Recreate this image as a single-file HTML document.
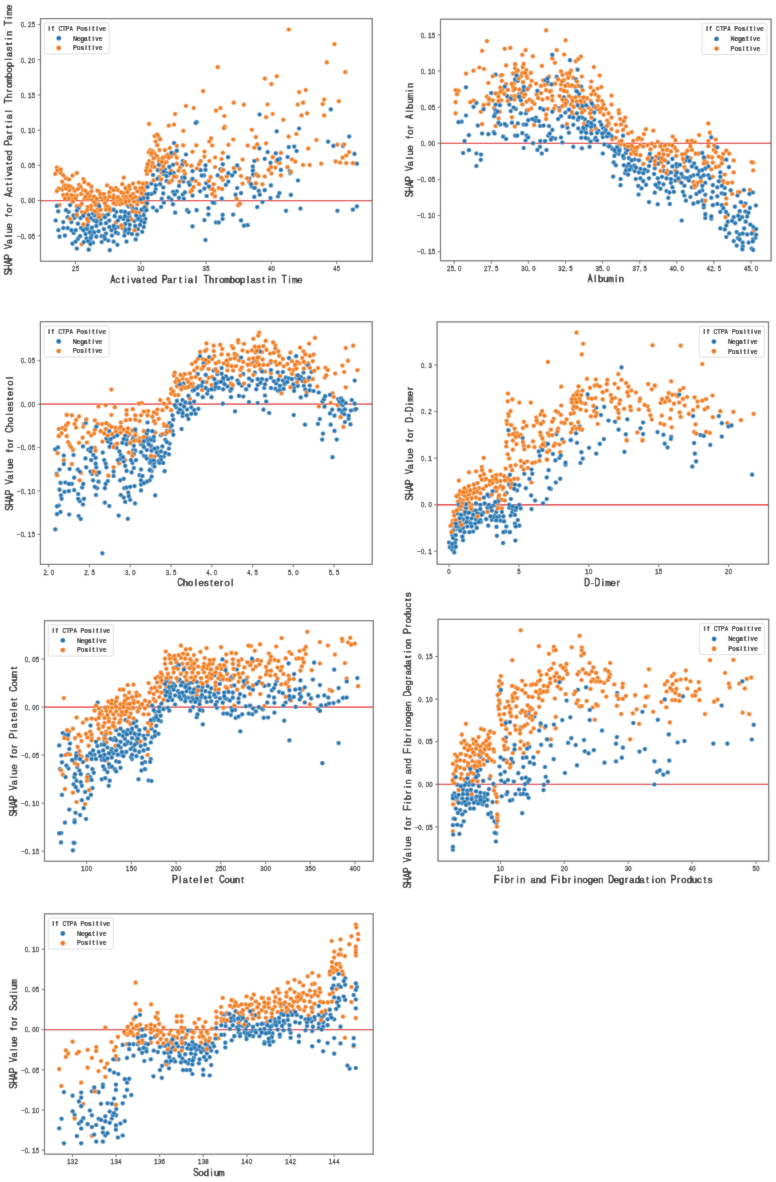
<!DOCTYPE html>
<html><head><meta charset="utf-8"><style>
html,body{margin:0;padding:0;background:#fff;}
svg{display:block;}
text{font-family:"Liberation Sans", sans-serif;}
circle.o,circle.b{r:2.35px;stroke:#fff;stroke-width:0.35px;}
circle.o{fill:#f07c14;}
circle.b{fill:#1c74b0;}
</style></head><body>
<svg width="776" height="1182" viewBox="0 0 776 1182">
<defs><filter id="bl" x="0" y="0" width="776" height="1182" filterUnits="userSpaceOnUse"><feConvolveMatrix order="3" kernelMatrix="1 2 1 2 24 2 1 2 1" divisor="36" edgeMode="duplicate"/></filter></defs>
<rect width="776" height="1182" fill="#fff"/>
<g filter="url(#bl)"><rect width="776" height="1182" fill="#fff"/>
<line x1="40.5" x2="372.2" y1="200.6" y2="200.6" stroke="#e01e22" stroke-width="1.35"/>
<circle class="o" cx="247.7" cy="145.5" r="2.35"/>
<circle class="b" cx="140.0" cy="216.7" r="2.35"/>
<circle class="o" cx="88.2" cy="208.1" r="2.35"/>
<circle class="b" cx="249.2" cy="178.7" r="2.35"/>
<circle class="o" cx="163.6" cy="161.2" r="2.35"/>
<circle class="b" cx="129.7" cy="217.2" r="2.35"/>
<circle class="o" cx="115.8" cy="199.9" r="2.35"/>
<circle class="b" cx="214.4" cy="203.1" r="2.35"/>
<circle class="o" cx="126.6" cy="190.9" r="2.35"/>
<circle class="b" cx="238.8" cy="204.9" r="2.35"/>
<circle class="b" cx="91.6" cy="230.0" r="2.35"/>
<circle class="b" cx="204.4" cy="188.7" r="2.35"/>
<circle class="b" cx="87.6" cy="229.1" r="2.35"/>
<circle class="b" cx="251.6" cy="186.5" r="2.35"/>
<circle class="o" cx="76.8" cy="206.2" r="2.35"/>
<circle class="o" cx="242.6" cy="183.6" r="2.35"/>
<circle class="o" cx="166.5" cy="173.4" r="2.35"/>
<circle class="o" cx="123.8" cy="177.7" r="2.35"/>
<circle class="o" cx="72.5" cy="175.6" r="2.35"/>
<circle class="b" cx="182.8" cy="161.0" r="2.35"/>
<circle class="o" cx="150.3" cy="150.1" r="2.35"/>
<circle class="b" cx="330.8" cy="109.4" r="2.35"/>
<circle class="o" cx="176.3" cy="176.7" r="2.35"/>
<circle class="o" cx="183.9" cy="171.2" r="2.35"/>
<circle class="b" cx="144.4" cy="210.7" r="2.35"/>
<circle class="b" cx="96.3" cy="236.7" r="2.35"/>
<circle class="b" cx="275.8" cy="153.3" r="2.35"/>
<circle class="o" cx="125.4" cy="188.0" r="2.35"/>
<circle class="o" cx="164.9" cy="150.1" r="2.35"/>
<circle class="b" cx="89.8" cy="232.4" r="2.35"/>
<circle class="b" cx="93.0" cy="242.7" r="2.35"/>
<circle class="b" cx="72.5" cy="243.7" r="2.35"/>
<circle class="b" cx="77.9" cy="238.9" r="2.35"/>
<circle class="o" cx="104.9" cy="216.4" r="2.35"/>
<circle class="b" cx="173.0" cy="204.3" r="2.35"/>
<circle class="o" cx="186.6" cy="164.8" r="2.35"/>
<circle class="b" cx="287.6" cy="157.0" r="2.35"/>
<circle class="o" cx="287.6" cy="167.2" r="2.35"/>
<circle class="o" cx="129.7" cy="189.1" r="2.35"/>
<circle class="b" cx="160.1" cy="184.2" r="2.35"/>
<circle class="o" cx="212.2" cy="145.5" r="2.35"/>
<circle class="o" cx="117.9" cy="190.2" r="2.35"/>
<circle class="o" cx="91.4" cy="209.1" r="2.35"/>
<circle class="b" cx="76.8" cy="215.9" r="2.35"/>
<circle class="b" cx="128.7" cy="232.9" r="2.35"/>
<circle class="b" cx="187.1" cy="210.2" r="2.35"/>
<circle class="b" cx="356.9" cy="206.4" r="2.35"/>
<circle class="b" cx="183.3" cy="181.5" r="2.35"/>
<circle class="b" cx="134.1" cy="221.0" r="2.35"/>
<circle class="o" cx="174.1" cy="124.6" r="2.35"/>
<circle class="b" cx="192.5" cy="171.2" r="2.35"/>
<circle class="b" cx="182.2" cy="164.8" r="2.35"/>
<circle class="o" cx="115.8" cy="188.0" r="2.35"/>
<circle class="o" cx="84.4" cy="198.8" r="2.35"/>
<circle class="o" cx="166.5" cy="162.1" r="2.35"/>
<circle class="o" cx="59.5" cy="205.1" r="2.35"/>
<circle class="b" cx="117.9" cy="227.0" r="2.35"/>
<circle class="o" cx="56.8" cy="167.5" r="2.35"/>
<circle class="b" cx="74.4" cy="217.8" r="2.35"/>
<circle class="o" cx="215.1" cy="167.0" r="2.35"/>
<circle class="b" cx="89.8" cy="241.6" r="2.35"/>
<circle class="o" cx="255.9" cy="183.2" r="2.35"/>
<circle class="b" cx="173.6" cy="172.9" r="2.35"/>
<circle class="o" cx="326.8" cy="62.4" r="2.35"/>
<circle class="o" cx="74.6" cy="190.7" r="2.35"/>
<circle class="b" cx="109.3" cy="220.5" r="2.35"/>
<circle class="o" cx="266.1" cy="143.3" r="2.35"/>
<circle class="b" cx="196.6" cy="210.2" r="2.35"/>
<circle class="b" cx="270.9" cy="185.4" r="2.35"/>
<circle class="b" cx="116.3" cy="211.8" r="2.35"/>
<circle class="b" cx="71.4" cy="222.1" r="2.35"/>
<circle class="o" cx="96.3" cy="203.2" r="2.35"/>
<circle class="b" cx="55.7" cy="220.5" r="2.35"/>
<circle class="b" cx="290.2" cy="173.2" r="2.35"/>
<circle class="o" cx="149.2" cy="161.0" r="2.35"/>
<circle class="o" cx="106.4" cy="208.4" r="2.35"/>
<circle class="b" cx="141.2" cy="220.2" r="2.35"/>
<circle class="b" cx="196.8" cy="122.2" r="2.35"/>
<circle class="o" cx="316.4" cy="140.0" r="2.35"/>
<circle class="o" cx="131.4" cy="219.4" r="2.35"/>
<circle class="o" cx="109.3" cy="207.5" r="2.35"/>
<circle class="o" cx="199.0" cy="184.2" r="2.35"/>
<circle class="o" cx="226.6" cy="176.5" r="2.35"/>
<circle class="o" cx="159.5" cy="150.1" r="2.35"/>
<circle class="b" cx="113.6" cy="241.6" r="2.35"/>
<circle class="o" cx="123.3" cy="196.1" r="2.35"/>
<circle class="o" cx="60.6" cy="172.9" r="2.35"/>
<circle class="b" cx="174.2" cy="153.1" r="2.35"/>
<circle class="o" cx="140.0" cy="188.0" r="2.35"/>
<circle class="b" cx="237.2" cy="188.0" r="2.35"/>
<circle class="b" cx="270.5" cy="162.8" r="2.35"/>
<circle class="o" cx="346.3" cy="163.2" r="2.35"/>
<circle class="o" cx="149.1" cy="123.9" r="2.35"/>
<circle class="o" cx="148.7" cy="152.3" r="2.35"/>
<circle class="o" cx="309.7" cy="165.0" r="2.35"/>
<circle class="o" cx="297.7" cy="104.5" r="2.35"/>
<circle class="o" cx="254.3" cy="147.7" r="2.35"/>
<circle class="o" cx="346.3" cy="155.5" r="2.35"/>
<circle class="o" cx="81.1" cy="194.0" r="2.35"/>
<circle class="o" cx="102.8" cy="215.1" r="2.35"/>
<circle class="o" cx="63.8" cy="185.9" r="2.35"/>
<circle class="o" cx="107.1" cy="185.3" r="2.35"/>
<circle class="b" cx="356.9" cy="163.7" r="2.35"/>
<circle class="o" cx="239.5" cy="168.8" r="2.35"/>
<circle class="o" cx="122.2" cy="184.2" r="2.35"/>
<circle class="b" cx="73.6" cy="215.3" r="2.35"/>
<circle class="b" cx="276.7" cy="131.3" r="2.35"/>
<circle class="b" cx="86.5" cy="238.3" r="2.35"/>
<circle class="o" cx="84.9" cy="228.1" r="2.35"/>
<circle class="o" cx="271.4" cy="173.4" r="2.35"/>
<circle class="o" cx="88.2" cy="198.8" r="2.35"/>
<circle class="o" cx="119.3" cy="199.9" r="2.35"/>
<circle class="o" cx="72.5" cy="188.0" r="2.35"/>
<circle class="b" cx="206.2" cy="183.2" r="2.35"/>
<circle class="b" cx="176.8" cy="191.3" r="2.35"/>
<circle class="b" cx="136.2" cy="209.1" r="2.35"/>
<circle class="b" cx="267.6" cy="152.1" r="2.35"/>
<circle class="b" cx="124.3" cy="228.1" r="2.35"/>
<circle class="b" cx="289.8" cy="171.0" r="2.35"/>
<circle class="o" cx="216.0" cy="110.7" r="2.35"/>
<circle class="b" cx="179.0" cy="197.8" r="2.35"/>
<circle class="b" cx="80.1" cy="236.2" r="2.35"/>
<circle class="o" cx="337.4" cy="144.6" r="2.35"/>
<circle class="o" cx="159.0" cy="177.1" r="2.35"/>
<circle class="b" cx="78.8" cy="208.0" r="2.35"/>
<circle class="o" cx="102.8" cy="199.9" r="2.35"/>
<circle class="o" cx="62.2" cy="189.6" r="2.35"/>
<circle class="b" cx="75.7" cy="241.6" r="2.35"/>
<circle class="b" cx="151.4" cy="183.7" r="2.35"/>
<circle class="o" cx="81.7" cy="244.3" r="2.35"/>
<circle class="b" cx="220.4" cy="169.4" r="2.35"/>
<circle class="b" cx="137.9" cy="219.4" r="2.35"/>
<circle class="o" cx="276.7" cy="76.3" r="2.35"/>
<circle class="b" cx="68.7" cy="212.0" r="2.35"/>
<circle class="b" cx="73.6" cy="232.9" r="2.35"/>
<circle class="b" cx="56.8" cy="205.9" r="2.35"/>
<circle class="o" cx="184.9" cy="174.0" r="2.35"/>
<circle class="b" cx="87.6" cy="224.8" r="2.35"/>
<circle class="o" cx="89.8" cy="195.6" r="2.35"/>
<circle class="o" cx="236.6" cy="198.7" r="2.35"/>
<circle class="b" cx="183.9" cy="198.8" r="2.35"/>
<circle class="o" cx="352.9" cy="163.2" r="2.35"/>
<circle class="b" cx="206.6" cy="196.0" r="2.35"/>
<circle class="b" cx="141.1" cy="221.0" r="2.35"/>
<circle class="o" cx="63.3" cy="195.1" r="2.35"/>
<circle class="b" cx="114.7" cy="216.2" r="2.35"/>
<circle class="b" cx="294.2" cy="146.6" r="2.35"/>
<circle class="b" cx="200.6" cy="170.2" r="2.35"/>
<circle class="b" cx="135.7" cy="239.4" r="2.35"/>
<circle class="o" cx="224.4" cy="116.0" r="2.35"/>
<circle class="o" cx="159.0" cy="159.3" r="2.35"/>
<circle class="o" cx="139.5" cy="212.4" r="2.35"/>
<circle class="b" cx="166.2" cy="173.2" r="2.35"/>
<circle class="b" cx="94.8" cy="215.5" r="2.35"/>
<circle class="b" cx="333.4" cy="145.9" r="2.35"/>
<circle class="b" cx="115.0" cy="226.8" r="2.35"/>
<circle class="o" cx="213.7" cy="184.3" r="2.35"/>
<circle class="o" cx="122.2" cy="228.1" r="2.35"/>
<circle class="b" cx="182.2" cy="177.7" r="2.35"/>
<circle class="b" cx="163.3" cy="187.5" r="2.35"/>
<circle class="o" cx="279.4" cy="163.2" r="2.35"/>
<circle class="b" cx="125.4" cy="223.7" r="2.35"/>
<circle class="o" cx="152.5" cy="163.1" r="2.35"/>
<circle class="b" cx="67.6" cy="217.2" r="2.35"/>
<circle class="o" cx="137.3" cy="204.3" r="2.35"/>
<circle class="o" cx="90.9" cy="205.9" r="2.35"/>
<circle class="o" cx="233.7" cy="102.7" r="2.35"/>
<circle class="o" cx="162.8" cy="157.7" r="2.35"/>
<circle class="o" cx="65.4" cy="185.4" r="2.35"/>
<circle class="b" cx="58.2" cy="211.3" r="2.35"/>
<circle class="o" cx="107.1" cy="199.9" r="2.35"/>
<circle class="o" cx="165.5" cy="156.6" r="2.35"/>
<circle class="o" cx="335.6" cy="161.4" r="2.35"/>
<circle class="o" cx="272.7" cy="114.0" r="2.35"/>
<circle class="b" cx="88.7" cy="214.9" r="2.35"/>
<circle class="o" cx="253.2" cy="175.4" r="2.35"/>
<circle class="o" cx="154.6" cy="153.4" r="2.35"/>
<circle class="o" cx="134.1" cy="201.5" r="2.35"/>
<circle class="b" cx="90.9" cy="218.3" r="2.35"/>
<circle class="o" cx="100.6" cy="197.2" r="2.35"/>
<circle class="b" cx="222.8" cy="164.3" r="2.35"/>
<circle class="b" cx="278.0" cy="196.4" r="2.35"/>
<circle class="b" cx="204.0" cy="175.4" r="2.35"/>
<circle class="b" cx="131.9" cy="234.0" r="2.35"/>
<circle class="o" cx="211.1" cy="138.4" r="2.35"/>
<circle class="o" cx="146.0" cy="186.9" r="2.35"/>
<circle class="b" cx="76.8" cy="210.7" r="2.35"/>
<circle class="b" cx="163.3" cy="193.4" r="2.35"/>
<circle class="o" cx="324.1" cy="99.6" r="2.35"/>
<circle class="o" cx="324.1" cy="115.4" r="2.35"/>
<circle class="b" cx="221.7" cy="198.7" r="2.35"/>
<circle class="o" cx="151.4" cy="155.0" r="2.35"/>
<circle class="b" cx="264.7" cy="190.2" r="2.35"/>
<circle class="o" cx="222.8" cy="179.8" r="2.35"/>
<circle class="o" cx="76.8" cy="195.6" r="2.35"/>
<circle class="b" cx="145.9" cy="194.3" r="2.35"/>
<circle class="o" cx="154.6" cy="136.1" r="2.35"/>
<circle class="o" cx="195.8" cy="181.0" r="2.35"/>
<circle class="o" cx="174.7" cy="153.9" r="2.35"/>
<circle class="o" cx="180.1" cy="167.5" r="2.35"/>
<circle class="b" cx="171.4" cy="199.7" r="2.35"/>
<circle class="o" cx="170.9" cy="156.6" r="2.35"/>
<circle class="o" cx="172.0" cy="180.4" r="2.35"/>
<circle class="o" cx="110.4" cy="210.7" r="2.35"/>
<circle class="b" cx="66.0" cy="210.2" r="2.35"/>
<circle class="b" cx="117.9" cy="233.5" r="2.35"/>
<circle class="o" cx="257.2" cy="144.4" r="2.35"/>
<circle class="o" cx="133.0" cy="194.0" r="2.35"/>
<circle class="o" cx="183.3" cy="130.8" r="2.35"/>
<circle class="b" cx="153.0" cy="175.0" r="2.35"/>
<circle class="b" cx="94.1" cy="232.4" r="2.35"/>
<circle class="o" cx="152.1" cy="166.3" r="2.35"/>
<circle class="b" cx="343.0" cy="145.9" r="2.35"/>
<circle class="b" cx="124.9" cy="231.8" r="2.35"/>
<circle class="b" cx="208.4" cy="208.2" r="2.35"/>
<circle class="b" cx="80.6" cy="218.1" r="2.35"/>
<circle class="o" cx="255.9" cy="137.1" r="2.35"/>
<circle class="o" cx="128.1" cy="198.7" r="2.35"/>
<circle class="b" cx="182.8" cy="194.5" r="2.35"/>
<circle class="b" cx="280.9" cy="169.9" r="2.35"/>
<circle class="o" cx="91.4" cy="186.7" r="2.35"/>
<circle class="o" cx="117.5" cy="201.9" r="2.35"/>
<circle class="o" cx="66.0" cy="178.3" r="2.35"/>
<circle class="o" cx="262.5" cy="184.3" r="2.35"/>
<circle class="o" cx="99.2" cy="191.4" r="2.35"/>
<circle class="o" cx="137.3" cy="191.3" r="2.35"/>
<circle class="o" cx="105.8" cy="206.4" r="2.35"/>
<circle class="b" cx="138.1" cy="218.4" r="2.35"/>
<circle class="b" cx="100.6" cy="219.4" r="2.35"/>
<circle class="b" cx="222.6" cy="219.0" r="2.35"/>
<circle class="b" cx="163.8" cy="202.6" r="2.35"/>
<circle class="b" cx="108.2" cy="240.5" r="2.35"/>
<circle class="b" cx="127.1" cy="217.8" r="2.35"/>
<circle class="o" cx="247.0" cy="178.3" r="2.35"/>
<circle class="b" cx="85.5" cy="234.0" r="2.35"/>
<circle class="o" cx="303.1" cy="165.0" r="2.35"/>
<circle class="o" cx="159.0" cy="161.5" r="2.35"/>
<circle class="o" cx="74.6" cy="196.0" r="2.35"/>
<circle class="o" cx="222.8" cy="152.8" r="2.35"/>
<circle class="o" cx="97.4" cy="209.7" r="2.35"/>
<circle class="b" cx="141.6" cy="209.7" r="2.35"/>
<circle class="b" cx="217.7" cy="175.4" r="2.35"/>
<circle class="o" cx="196.3" cy="145.3" r="2.35"/>
<circle class="o" cx="126.5" cy="204.3" r="2.35"/>
<circle class="b" cx="151.4" cy="194.0" r="2.35"/>
<circle class="b" cx="205.5" cy="240.1" r="2.35"/>
<circle class="b" cx="105.3" cy="215.9" r="2.35"/>
<circle class="b" cx="93.0" cy="213.4" r="2.35"/>
<circle class="b" cx="101.7" cy="236.2" r="2.35"/>
<circle class="o" cx="168.2" cy="175.6" r="2.35"/>
<circle class="b" cx="86.1" cy="229.0" r="2.35"/>
<circle class="b" cx="279.4" cy="193.1" r="2.35"/>
<circle class="b" cx="228.4" cy="173.2" r="2.35"/>
<circle class="b" cx="111.4" cy="230.2" r="2.35"/>
<circle class="o" cx="196.9" cy="168.5" r="2.35"/>
<circle class="o" cx="146.5" cy="183.2" r="2.35"/>
<circle class="b" cx="186.0" cy="154.5" r="2.35"/>
<circle class="b" cx="288.7" cy="147.1" r="2.35"/>
<circle class="b" cx="153.0" cy="207.5" r="2.35"/>
<circle class="b" cx="233.2" cy="214.6" r="2.35"/>
<circle class="b" cx="299.1" cy="128.5" r="2.35"/>
<circle class="o" cx="146.0" cy="206.4" r="2.35"/>
<circle class="b" cx="155.7" cy="189.1" r="2.35"/>
<circle class="o" cx="276.5" cy="161.4" r="2.35"/>
<circle class="o" cx="290.9" cy="172.1" r="2.35"/>
<circle class="b" cx="63.3" cy="228.1" r="2.35"/>
<circle class="b" cx="128.1" cy="220.5" r="2.35"/>
<circle class="b" cx="145.4" cy="218.9" r="2.35"/>
<circle class="b" cx="159.0" cy="164.8" r="2.35"/>
<circle class="o" cx="178.5" cy="170.7" r="2.35"/>
<circle class="o" cx="141.4" cy="190.8" r="2.35"/>
<circle class="b" cx="173.0" cy="191.8" r="2.35"/>
<circle class="b" cx="247.7" cy="225.2" r="2.35"/>
<circle class="o" cx="192.5" cy="151.8" r="2.35"/>
<circle class="o" cx="191.4" cy="165.8" r="2.35"/>
<circle class="o" cx="110.9" cy="188.0" r="2.35"/>
<circle class="b" cx="96.3" cy="225.9" r="2.35"/>
<circle class="b" cx="81.1" cy="228.1" r="2.35"/>
<circle class="o" cx="83.3" cy="190.2" r="2.35"/>
<circle class="o" cx="253.2" cy="169.9" r="2.35"/>
<circle class="o" cx="191.4" cy="180.4" r="2.35"/>
<circle class="o" cx="179.5" cy="181.5" r="2.35"/>
<circle class="o" cx="344.1" cy="144.4" r="2.35"/>
<circle class="b" cx="58.4" cy="230.2" r="2.35"/>
<circle class="o" cx="185.9" cy="106.0" r="2.35"/>
<circle class="b" cx="192.5" cy="195.6" r="2.35"/>
<circle class="b" cx="204.4" cy="220.1" r="2.35"/>
<circle class="o" cx="135.2" cy="197.2" r="2.35"/>
<circle class="b" cx="137.9" cy="229.1" r="2.35"/>
<circle class="o" cx="142.7" cy="183.7" r="2.35"/>
<circle class="o" cx="322.6" cy="104.1" r="2.35"/>
<circle class="o" cx="190.4" cy="191.8" r="2.35"/>
<circle class="o" cx="243.9" cy="104.7" r="2.35"/>
<circle class="o" cx="92.0" cy="199.9" r="2.35"/>
<circle class="o" cx="115.8" cy="204.3" r="2.35"/>
<circle class="o" cx="283.3" cy="119.8" r="2.35"/>
<circle class="o" cx="121.4" cy="225.3" r="2.35"/>
<circle class="b" cx="258.7" cy="190.9" r="2.35"/>
<circle class="b" cx="91.5" cy="235.6" r="2.35"/>
<circle class="o" cx="113.6" cy="203.2" r="2.35"/>
<circle class="o" cx="83.3" cy="179.1" r="2.35"/>
<circle class="o" cx="249.2" cy="182.0" r="2.35"/>
<circle class="o" cx="85.5" cy="196.7" r="2.35"/>
<circle class="o" cx="91.4" cy="191.3" r="2.35"/>
<circle class="o" cx="238.1" cy="205.3" r="2.35"/>
<circle class="b" cx="104.9" cy="217.2" r="2.35"/>
<circle class="b" cx="168.5" cy="181.9" r="2.35"/>
<circle class="o" cx="144.4" cy="202.6" r="2.35"/>
<circle class="o" cx="340.1" cy="162.6" r="2.35"/>
<circle class="o" cx="257.2" cy="159.9" r="2.35"/>
<circle class="b" cx="70.1" cy="205.1" r="2.35"/>
<circle class="b" cx="157.3" cy="178.8" r="2.35"/>
<circle class="b" cx="176.8" cy="150.7" r="2.35"/>
<circle class="b" cx="71.4" cy="230.2" r="2.35"/>
<circle class="o" cx="143.3" cy="196.7" r="2.35"/>
<circle class="b" cx="137.3" cy="234.5" r="2.35"/>
<circle class="o" cx="134.6" cy="230.2" r="2.35"/>
<circle class="o" cx="107.1" cy="206.4" r="2.35"/>
<circle class="b" cx="234.8" cy="172.1" r="2.35"/>
<circle class="o" cx="139.5" cy="197.8" r="2.35"/>
<circle class="b" cx="163.3" cy="174.0" r="2.35"/>
<circle class="b" cx="67.6" cy="228.1" r="2.35"/>
<circle class="o" cx="97.4" cy="212.4" r="2.35"/>
<circle class="b" cx="264.7" cy="158.8" r="2.35"/>
<circle class="o" cx="288.7" cy="136.6" r="2.35"/>
<circle class="o" cx="292.0" cy="159.5" r="2.35"/>
<circle class="b" cx="63.3" cy="222.1" r="2.35"/>
<circle class="o" cx="228.4" cy="144.8" r="2.35"/>
<circle class="o" cx="98.5" cy="204.3" r="2.35"/>
<circle class="o" cx="79.0" cy="184.8" r="2.35"/>
<circle class="o" cx="69.2" cy="190.2" r="2.35"/>
<circle class="o" cx="280.9" cy="152.8" r="2.35"/>
<circle class="o" cx="209.3" cy="161.0" r="2.35"/>
<circle class="o" cx="147.1" cy="167.5" r="2.35"/>
<circle class="o" cx="233.7" cy="168.1" r="2.35"/>
<circle class="o" cx="87.6" cy="193.4" r="2.35"/>
<circle class="b" cx="144.4" cy="222.6" r="2.35"/>
<circle class="o" cx="176.8" cy="163.7" r="2.35"/>
<circle class="o" cx="138.4" cy="200.5" r="2.35"/>
<circle class="o" cx="255.4" cy="187.6" r="2.35"/>
<circle class="o" cx="94.1" cy="196.7" r="2.35"/>
<circle class="o" cx="218.8" cy="188.0" r="2.35"/>
<circle class="b" cx="173.0" cy="164.8" r="2.35"/>
<circle class="o" cx="80.6" cy="205.3" r="2.35"/>
<circle class="o" cx="270.9" cy="167.2" r="2.35"/>
<circle class="b" cx="121.2" cy="211.3" r="2.35"/>
<circle class="o" cx="338.8" cy="101.2" r="2.35"/>
<circle class="o" cx="141.6" cy="202.1" r="2.35"/>
<circle class="b" cx="259.8" cy="194.7" r="2.35"/>
<circle class="b" cx="270.5" cy="198.0" r="2.35"/>
<circle class="o" cx="158.4" cy="136.6" r="2.35"/>
<circle class="o" cx="184.9" cy="162.1" r="2.35"/>
<circle class="o" cx="307.1" cy="113.4" r="2.35"/>
<circle class="o" cx="167.6" cy="154.5" r="2.35"/>
<circle class="o" cx="72.5" cy="198.8" r="2.35"/>
<circle class="b" cx="251.0" cy="184.2" r="2.35"/>
<circle class="o" cx="170.9" cy="170.7" r="2.35"/>
<circle class="b" cx="205.5" cy="169.9" r="2.35"/>
<circle class="b" cx="259.6" cy="114.5" r="2.35"/>
<circle class="b" cx="161.7" cy="198.8" r="2.35"/>
<circle class="o" cx="157.2" cy="134.6" r="2.35"/>
<circle class="b" cx="286.0" cy="210.8" r="2.35"/>
<circle class="o" cx="264.9" cy="78.6" r="2.35"/>
<circle class="b" cx="200.1" cy="191.3" r="2.35"/>
<circle class="b" cx="106.0" cy="233.5" r="2.35"/>
<circle class="o" cx="267.6" cy="104.5" r="2.35"/>
<circle class="b" cx="112.0" cy="235.6" r="2.35"/>
<circle class="o" cx="208.9" cy="180.9" r="2.35"/>
<circle class="o" cx="113.6" cy="190.2" r="2.35"/>
<circle class="b" cx="237.2" cy="165.4" r="2.35"/>
<circle class="o" cx="63.3" cy="175.3" r="2.35"/>
<circle class="o" cx="155.7" cy="141.5" r="2.35"/>
<circle class="o" cx="85.4" cy="190.8" r="2.35"/>
<circle class="o" cx="80.6" cy="186.9" r="2.35"/>
<circle class="o" cx="129.2" cy="185.9" r="2.35"/>
<circle class="o" cx="251.9" cy="129.8" r="2.35"/>
<circle class="o" cx="120.1" cy="199.9" r="2.35"/>
<circle class="o" cx="127.6" cy="192.3" r="2.35"/>
<circle class="o" cx="193.6" cy="108.1" r="2.35"/>
<circle class="b" cx="101.7" cy="242.1" r="2.35"/>
<circle class="b" cx="109.3" cy="227.0" r="2.35"/>
<circle class="b" cx="262.5" cy="202.0" r="2.35"/>
<circle class="o" cx="296.4" cy="134.0" r="2.35"/>
<circle class="b" cx="166.5" cy="176.1" r="2.35"/>
<circle class="b" cx="192.5" cy="178.8" r="2.35"/>
<circle class="o" cx="67.1" cy="194.5" r="2.35"/>
<circle class="o" cx="57.3" cy="170.7" r="2.35"/>
<circle class="o" cx="152.5" cy="151.2" r="2.35"/>
<circle class="o" cx="301.5" cy="115.4" r="2.35"/>
<circle class="o" cx="154.6" cy="166.9" r="2.35"/>
<circle class="o" cx="58.9" cy="188.6" r="2.35"/>
<circle class="o" cx="97.4" cy="190.7" r="2.35"/>
<circle class="o" cx="157.3" cy="145.3" r="2.35"/>
<circle class="b" cx="222.6" cy="214.8" r="2.35"/>
<circle class="b" cx="133.0" cy="208.7" r="2.35"/>
<circle class="o" cx="305.7" cy="90.1" r="2.35"/>
<circle class="b" cx="96.8" cy="220.0" r="2.35"/>
<circle class="o" cx="192.0" cy="190.2" r="2.35"/>
<circle class="b" cx="337.4" cy="210.8" r="2.35"/>
<circle class="b" cx="114.9" cy="228.2" r="2.35"/>
<circle class="b" cx="254.3" cy="196.9" r="2.35"/>
<circle class="o" cx="147.6" cy="164.2" r="2.35"/>
<circle class="o" cx="76.8" cy="173.1" r="2.35"/>
<circle class="o" cx="94.1" cy="202.1" r="2.35"/>
<circle class="o" cx="72.9" cy="201.7" r="2.35"/>
<circle class="o" cx="147.1" cy="174.0" r="2.35"/>
<circle class="o" cx="87.6" cy="207.0" r="2.35"/>
<circle class="b" cx="92.0" cy="227.5" r="2.35"/>
<circle class="o" cx="321.2" cy="163.7" r="2.35"/>
<circle class="o" cx="214.4" cy="190.9" r="2.35"/>
<circle class="b" cx="108.2" cy="214.5" r="2.35"/>
<circle class="o" cx="115.8" cy="222.6" r="2.35"/>
<circle class="b" cx="232.1" cy="175.4" r="2.35"/>
<circle class="b" cx="77.9" cy="223.7" r="2.35"/>
<circle class="o" cx="160.1" cy="139.3" r="2.35"/>
<circle class="o" cx="132.3" cy="198.1" r="2.35"/>
<circle class="b" cx="254.3" cy="161.0" r="2.35"/>
<circle class="o" cx="221.1" cy="177.6" r="2.35"/>
<circle class="o" cx="120.1" cy="204.3" r="2.35"/>
<circle class="o" cx="268.7" cy="169.9" r="2.35"/>
<circle class="b" cx="104.1" cy="236.3" r="2.35"/>
<circle class="b" cx="216.0" cy="222.4" r="2.35"/>
<circle class="o" cx="143.8" cy="190.2" r="2.35"/>
<circle class="b" cx="228.4" cy="181.6" r="2.35"/>
<circle class="b" cx="252.8" cy="166.5" r="2.35"/>
<circle class="o" cx="221.7" cy="171.0" r="2.35"/>
<circle class="o" cx="288.7" cy="29.5" r="2.35"/>
<circle class="b" cx="143.8" cy="227.0" r="2.35"/>
<circle class="o" cx="123.2" cy="193.4" r="2.35"/>
<circle class="o" cx="104.9" cy="197.8" r="2.35"/>
<circle class="b" cx="253.2" cy="174.3" r="2.35"/>
<circle class="b" cx="75.7" cy="230.2" r="2.35"/>
<circle class="b" cx="164.9" cy="169.6" r="2.35"/>
<circle class="o" cx="151.4" cy="153.0" r="2.35"/>
<circle class="o" cx="87.1" cy="210.2" r="2.35"/>
<circle class="o" cx="141.6" cy="193.4" r="2.35"/>
<circle class="b" cx="83.8" cy="242.1" r="2.35"/>
<circle class="o" cx="69.0" cy="179.4" r="2.35"/>
<circle class="o" cx="135.7" cy="212.4" r="2.35"/>
<circle class="o" cx="146.0" cy="170.7" r="2.35"/>
<circle class="o" cx="88.2" cy="221.6" r="2.35"/>
<circle class="o" cx="126.0" cy="196.7" r="2.35"/>
<circle class="b" cx="147.1" cy="203.2" r="2.35"/>
<circle class="o" cx="121.2" cy="192.3" r="2.35"/>
<circle class="o" cx="210.6" cy="177.0" r="2.35"/>
<circle class="o" cx="161.6" cy="172.4" r="2.35"/>
<circle class="b" cx="123.3" cy="218.9" r="2.35"/>
<circle class="o" cx="94.7" cy="211.3" r="2.35"/>
<circle class="b" cx="184.9" cy="192.3" r="2.35"/>
<circle class="b" cx="195.7" cy="122.9" r="2.35"/>
<circle class="b" cx="117.4" cy="244.8" r="2.35"/>
<circle class="b" cx="124.9" cy="216.2" r="2.35"/>
<circle class="o" cx="295.3" cy="161.7" r="2.35"/>
<circle class="b" cx="166.5" cy="181.0" r="2.35"/>
<circle class="b" cx="125.6" cy="229.9" r="2.35"/>
<circle class="o" cx="174.1" cy="176.7" r="2.35"/>
<circle class="b" cx="117.9" cy="220.5" r="2.35"/>
<circle class="o" cx="113.6" cy="195.6" r="2.35"/>
<circle class="o" cx="113.3" cy="198.2" r="2.35"/>
<circle class="o" cx="122.2" cy="203.2" r="2.35"/>
<circle class="b" cx="174.1" cy="143.1" r="2.35"/>
<circle class="o" cx="212.2" cy="194.2" r="2.35"/>
<circle class="o" cx="132.4" cy="211.3" r="2.35"/>
<circle class="o" cx="153.6" cy="180.4" r="2.35"/>
<circle class="b" cx="115.8" cy="232.4" r="2.35"/>
<circle class="b" cx="354.5" cy="153.9" r="2.35"/>
<circle class="o" cx="124.3" cy="199.9" r="2.35"/>
<circle class="b" cx="76.8" cy="248.6" r="2.35"/>
<circle class="b" cx="147.6" cy="197.8" r="2.35"/>
<circle class="b" cx="290.9" cy="194.9" r="2.35"/>
<circle class="o" cx="76.8" cy="214.9" r="2.35"/>
<circle class="o" cx="271.4" cy="84.1" r="2.35"/>
<circle class="b" cx="254.3" cy="188.0" r="2.35"/>
<circle class="b" cx="88.2" cy="241.3" r="2.35"/>
<circle class="o" cx="82.0" cy="212.0" r="2.35"/>
<circle class="o" cx="176.8" cy="157.7" r="2.35"/>
<circle class="b" cx="113.6" cy="225.9" r="2.35"/>
<circle class="o" cx="138.9" cy="182.6" r="2.35"/>
<circle class="b" cx="279.8" cy="158.8" r="2.35"/>
<circle class="b" cx="128.7" cy="213.4" r="2.35"/>
<circle class="b" cx="235.5" cy="194.7" r="2.35"/>
<circle class="b" cx="208.4" cy="214.4" r="2.35"/>
<circle class="b" cx="188.7" cy="182.6" r="2.35"/>
<circle class="b" cx="169.3" cy="166.9" r="2.35"/>
<circle class="o" cx="164.4" cy="163.1" r="2.35"/>
<circle class="o" cx="100.1" cy="194.0" r="2.35"/>
<circle class="o" cx="210.6" cy="188.7" r="2.35"/>
<circle class="o" cx="272.7" cy="157.2" r="2.35"/>
<circle class="b" cx="241.0" cy="193.1" r="2.35"/>
<circle class="o" cx="239.9" cy="203.7" r="2.35"/>
<circle class="b" cx="136.2" cy="215.6" r="2.35"/>
<circle class="b" cx="212.9" cy="202.6" r="2.35"/>
<circle class="o" cx="334.5" cy="44.2" r="2.35"/>
<circle class="o" cx="256.4" cy="174.4" r="2.35"/>
<circle class="o" cx="215.1" cy="157.5" r="2.35"/>
<circle class="o" cx="106.0" cy="209.7" r="2.35"/>
<circle class="b" cx="106.0" cy="223.2" r="2.35"/>
<circle class="o" cx="66.0" cy="188.6" r="2.35"/>
<circle class="b" cx="59.5" cy="236.7" r="2.35"/>
<circle class="o" cx="203.1" cy="91.2" r="2.35"/>
<circle class="o" cx="193.6" cy="186.9" r="2.35"/>
<circle class="b" cx="179.0" cy="185.9" r="2.35"/>
<circle class="b" cx="135.2" cy="225.9" r="2.35"/>
<circle class="o" cx="87.1" cy="218.9" r="2.35"/>
<circle class="b" cx="205.5" cy="165.4" r="2.35"/>
<circle class="b" cx="188.7" cy="212.0" r="2.35"/>
<circle class="o" cx="60.8" cy="169.4" r="2.35"/>
<circle class="b" cx="144.5" cy="207.6" r="2.35"/>
<circle class="o" cx="81.7" cy="203.7" r="2.35"/>
<circle class="o" cx="233.2" cy="139.5" r="2.35"/>
<circle class="o" cx="241.0" cy="176.1" r="2.35"/>
<circle class="b" cx="128.7" cy="206.4" r="2.35"/>
<circle class="b" cx="94.1" cy="220.5" r="2.35"/>
<circle class="o" cx="184.9" cy="178.3" r="2.35"/>
<circle class="b" cx="142.2" cy="231.8" r="2.35"/>
<circle class="o" cx="64.9" cy="198.3" r="2.35"/>
<circle class="o" cx="303.1" cy="102.7" r="2.35"/>
<circle class="o" cx="109.3" cy="196.7" r="2.35"/>
<circle class="o" cx="212.6" cy="189.1" r="2.35"/>
<circle class="b" cx="218.8" cy="222.6" r="2.35"/>
<circle class="b" cx="328.1" cy="141.7" r="2.35"/>
<circle class="o" cx="258.3" cy="176.1" r="2.35"/>
<circle class="b" cx="157.9" cy="170.2" r="2.35"/>
<circle class="o" cx="224.8" cy="126.7" r="2.35"/>
<circle class="o" cx="88.5" cy="184.2" r="2.35"/>
<circle class="o" cx="153.6" cy="158.3" r="2.35"/>
<circle class="o" cx="104.9" cy="203.2" r="2.35"/>
<circle class="o" cx="264.7" cy="176.5" r="2.35"/>
<circle class="o" cx="183.3" cy="145.3" r="2.35"/>
<circle class="b" cx="124.3" cy="235.6" r="2.35"/>
<circle class="b" cx="189.6" cy="184.8" r="2.35"/>
<circle class="o" cx="109.3" cy="192.3" r="2.35"/>
<circle class="o" cx="127.5" cy="199.3" r="2.35"/>
<circle class="b" cx="148.1" cy="194.0" r="2.35"/>
<circle class="o" cx="221.5" cy="159.0" r="2.35"/>
<circle class="o" cx="71.4" cy="195.1" r="2.35"/>
<circle class="o" cx="223.9" cy="128.2" r="2.35"/>
<circle class="o" cx="128.7" cy="201.0" r="2.35"/>
<circle class="o" cx="70.4" cy="186.5" r="2.35"/>
<circle class="b" cx="298.0" cy="180.5" r="2.35"/>
<circle class="o" cx="199.0" cy="164.2" r="2.35"/>
<circle class="o" cx="133.0" cy="183.7" r="2.35"/>
<circle class="o" cx="161.7" cy="162.1" r="2.35"/>
<circle class="b" cx="104.9" cy="238.9" r="2.35"/>
<circle class="b" cx="83.3" cy="230.2" r="2.35"/>
<circle class="o" cx="84.8" cy="212.9" r="2.35"/>
<circle class="o" cx="204.4" cy="151.5" r="2.35"/>
<circle class="o" cx="200.6" cy="161.0" r="2.35"/>
<circle class="b" cx="83.3" cy="215.9" r="2.35"/>
<circle class="o" cx="266.1" cy="117.2" r="2.35"/>
<circle class="b" cx="168.7" cy="197.5" r="2.35"/>
<circle class="o" cx="95.8" cy="205.2" r="2.35"/>
<circle class="o" cx="349.2" cy="152.1" r="2.35"/>
<circle class="o" cx="176.8" cy="145.8" r="2.35"/>
<circle class="o" cx="98.7" cy="215.1" r="2.35"/>
<circle class="b" cx="241.0" cy="220.4" r="2.35"/>
<circle class="b" cx="90.9" cy="237.8" r="2.35"/>
<circle class="o" cx="169.3" cy="182.6" r="2.35"/>
<circle class="b" cx="100.6" cy="223.7" r="2.35"/>
<circle class="o" cx="68.7" cy="198.3" r="2.35"/>
<circle class="o" cx="77.9" cy="189.1" r="2.35"/>
<circle class="b" cx="349.2" cy="136.6" r="2.35"/>
<circle class="b" cx="147.6" cy="186.9" r="2.35"/>
<circle class="b" cx="131.9" cy="206.4" r="2.35"/>
<circle class="o" cx="220.4" cy="108.1" r="2.35"/>
<circle class="b" cx="143.3" cy="198.3" r="2.35"/>
<circle class="b" cx="98.5" cy="231.3" r="2.35"/>
<circle class="o" cx="342.5" cy="157.7" r="2.35"/>
<circle class="b" cx="228.1" cy="157.2" r="2.35"/>
<circle class="b" cx="155.7" cy="185.3" r="2.35"/>
<circle class="o" cx="99.0" cy="217.2" r="2.35"/>
<circle class="o" cx="83.3" cy="224.3" r="2.35"/>
<circle class="b" cx="113.6" cy="209.7" r="2.35"/>
<circle class="b" cx="64.9" cy="235.6" r="2.35"/>
<circle class="b" cx="146.5" cy="210.2" r="2.35"/>
<circle class="o" cx="100.6" cy="209.7" r="2.35"/>
<circle class="o" cx="161.1" cy="169.6" r="2.35"/>
<circle class="o" cx="299.1" cy="92.1" r="2.35"/>
<circle class="o" cx="103.9" cy="194.0" r="2.35"/>
<circle class="o" cx="215.1" cy="196.4" r="2.35"/>
<circle class="o" cx="109.5" cy="209.3" r="2.35"/>
<circle class="b" cx="352.9" cy="209.7" r="2.35"/>
<circle class="b" cx="126.5" cy="241.6" r="2.35"/>
<circle class="b" cx="154.6" cy="192.3" r="2.35"/>
<circle class="b" cx="99.3" cy="205.9" r="2.35"/>
<circle class="o" cx="150.3" cy="170.7" r="2.35"/>
<circle class="o" cx="56.8" cy="191.1" r="2.35"/>
<circle class="o" cx="175.2" cy="114.1" r="2.35"/>
<circle class="o" cx="242.6" cy="159.5" r="2.35"/>
<circle class="b" cx="90.4" cy="244.1" r="2.35"/>
<circle class="b" cx="201.7" cy="175.6" r="2.35"/>
<circle class="o" cx="117.9" cy="197.2" r="2.35"/>
<circle class="o" cx="161.1" cy="179.4" r="2.35"/>
<circle class="o" cx="308.2" cy="148.6" r="2.35"/>
<circle class="b" cx="129.2" cy="229.1" r="2.35"/>
<circle class="b" cx="161.1" cy="207.0" r="2.35"/>
<circle class="b" cx="174.7" cy="194.5" r="2.35"/>
<circle class="b" cx="184.6" cy="177.6" r="2.35"/>
<circle class="o" cx="167.5" cy="155.5" r="2.35"/>
<circle class="o" cx="96.8" cy="198.8" r="2.35"/>
<circle class="b" cx="252.8" cy="170.5" r="2.35"/>
<circle class="o" cx="163.3" cy="166.4" r="2.35"/>
<circle class="b" cx="88.7" cy="249.7" r="2.35"/>
<circle class="b" cx="192.5" cy="226.4" r="2.35"/>
<circle class="o" cx="280.9" cy="175.4" r="2.35"/>
<circle class="b" cx="103.9" cy="229.1" r="2.35"/>
<circle class="b" cx="163.7" cy="171.5" r="2.35"/>
<circle class="o" cx="209.3" cy="141.5" r="2.35"/>
<circle class="b" cx="143.8" cy="215.1" r="2.35"/>
<circle class="o" cx="142.0" cy="188.1" r="2.35"/>
<circle class="b" cx="96.3" cy="221.6" r="2.35"/>
<circle class="b" cx="243.9" cy="225.7" r="2.35"/>
<circle class="o" cx="223.3" cy="169.9" r="2.35"/>
<circle class="b" cx="225.9" cy="184.9" r="2.35"/>
<circle class="b" cx="277.6" cy="159.9" r="2.35"/>
<circle class="b" cx="259.4" cy="148.4" r="2.35"/>
<circle class="b" cx="175.2" cy="212.7" r="2.35"/>
<circle class="o" cx="345.2" cy="72.1" r="2.35"/>
<circle class="b" cx="140.6" cy="199.3" r="2.35"/>
<circle class="b" cx="257.2" cy="207.1" r="2.35"/>
<circle class="b" cx="296.6" cy="151.0" r="2.35"/>
<circle class="b" cx="109.8" cy="250.2" r="2.35"/>
<circle class="o" cx="62.2" cy="181.7" r="2.35"/>
<circle class="b" cx="129.7" cy="224.8" r="2.35"/>
<circle class="o" cx="70.1" cy="218.9" r="2.35"/>
<circle class="o" cx="168.8" cy="157.7" r="2.35"/>
<circle class="b" cx="156.8" cy="210.7" r="2.35"/>
<circle class="b" cx="140.0" cy="224.8" r="2.35"/>
<circle class="b" cx="124.9" cy="211.8" r="2.35"/>
<circle class="o" cx="168.8" cy="125.7" r="2.35"/>
<circle class="o" cx="169.8" cy="148.0" r="2.35"/>
<circle class="o" cx="275.4" cy="167.6" r="2.35"/>
<circle class="b" cx="120.1" cy="217.2" r="2.35"/>
<circle class="o" cx="68.7" cy="185.9" r="2.35"/>
<circle class="o" cx="156.8" cy="156.1" r="2.35"/>
<circle class="o" cx="222.2" cy="189.1" r="2.35"/>
<circle class="o" cx="130.3" cy="196.1" r="2.35"/>
<circle class="b" cx="171.4" cy="152.9" r="2.35"/>
<circle class="o" cx="204.4" cy="156.6" r="2.35"/>
<circle class="o" cx="75.7" cy="198.3" r="2.35"/>
<circle class="b" cx="208.9" cy="186.5" r="2.35"/>
<circle class="o" cx="135.2" cy="188.0" r="2.35"/>
<circle class="o" cx="125.6" cy="201.5" r="2.35"/>
<circle class="o" cx="84.4" cy="182.1" r="2.35"/>
<circle class="o" cx="55.2" cy="174.0" r="2.35"/>
<circle class="b" cx="170.3" cy="173.4" r="2.35"/>
<circle class="o" cx="217.7" cy="67.2" r="2.35"/>
<circle class="o" cx="130.8" cy="205.3" r="2.35"/>
<circle class="b" cx="300.4" cy="208.6" r="2.35"/>
<rect x="40.5" y="18.6" width="331.7" height="242.7" fill="none" stroke="#666666" stroke-width="1.2"/>
<line x1="37.6" x2="40.5" y1="24.6" y2="24.6" stroke="#666666" stroke-width="0.9"/>
<g font-size="8.0" fill="#2a2a2a" stroke="#2a2a2a" stroke-width="0.3"><text transform="translate(20.87 27.30) scale(0.744 1.000)">0</text><text x="24.04" y="27.30">.</text><text transform="translate(28.09 27.30) scale(0.781 1.000)">2</text><text transform="translate(31.81 27.30) scale(0.751 1.000)">5</text></g>
<line x1="37.6" x2="40.5" y1="59.8" y2="59.8" stroke="#666666" stroke-width="0.9"/>
<g font-size="8.0" fill="#2a2a2a" stroke="#2a2a2a" stroke-width="0.3"><text transform="translate(20.87 62.50) scale(0.744 1.000)">0</text><text x="24.04" y="62.50">.</text><text transform="translate(28.09 62.50) scale(0.781 1.000)">2</text><text transform="translate(31.82 62.50) scale(0.744 1.000)">0</text></g>
<line x1="37.6" x2="40.5" y1="95.0" y2="95.0" stroke="#666666" stroke-width="0.9"/>
<g font-size="8.0" fill="#2a2a2a" stroke="#2a2a2a" stroke-width="0.3"><text transform="translate(20.87 97.70) scale(0.744 1.000)">0</text><text x="24.04" y="97.70">.</text><text transform="translate(27.90 97.70) scale(0.825 1.000)">1</text><text transform="translate(31.81 97.70) scale(0.751 1.000)">5</text></g>
<line x1="37.6" x2="40.5" y1="130.2" y2="130.2" stroke="#666666" stroke-width="0.9"/>
<g font-size="8.0" fill="#2a2a2a" stroke="#2a2a2a" stroke-width="0.3"><text transform="translate(20.87 132.90) scale(0.744 1.000)">0</text><text x="24.04" y="132.90">.</text><text transform="translate(27.90 132.90) scale(0.825 1.000)">1</text><text transform="translate(31.82 132.90) scale(0.744 1.000)">0</text></g>
<line x1="37.6" x2="40.5" y1="165.4" y2="165.4" stroke="#666666" stroke-width="0.9"/>
<g font-size="8.0" fill="#2a2a2a" stroke="#2a2a2a" stroke-width="0.3"><text transform="translate(20.87 168.10) scale(0.744 1.000)">0</text><text x="24.04" y="168.10">.</text><text transform="translate(28.17 168.10) scale(0.744 1.000)">0</text><text transform="translate(31.81 168.10) scale(0.751 1.000)">5</text></g>
<line x1="37.6" x2="40.5" y1="200.6" y2="200.6" stroke="#666666" stroke-width="0.9"/>
<g font-size="8.0" fill="#2a2a2a" stroke="#2a2a2a" stroke-width="0.3"><text transform="translate(20.87 203.30) scale(0.744 1.000)">0</text><text x="24.04" y="203.30">.</text><text transform="translate(28.17 203.30) scale(0.744 1.000)">0</text><text transform="translate(31.82 203.30) scale(0.744 1.000)">0</text></g>
<line x1="37.6" x2="40.5" y1="235.8" y2="235.8" stroke="#666666" stroke-width="0.9"/>
<g font-size="8.0" fill="#2a2a2a" stroke="#2a2a2a" stroke-width="0.3"><text transform="translate(17.16 238.50) scale(0.732 1.000)">−</text><text transform="translate(20.87 238.50) scale(0.744 1.000)">0</text><text x="24.04" y="238.50">.</text><text transform="translate(28.17 238.50) scale(0.744 1.000)">0</text><text transform="translate(31.81 238.50) scale(0.751 1.000)">5</text></g>
<line x1="75.5" x2="75.5" y1="261.3" y2="264.2" stroke="#666666" stroke-width="0.9"/>
<g font-size="8.0" fill="#2a2a2a" stroke="#2a2a2a" stroke-width="0.3"><text transform="translate(71.94 271.40) scale(0.781 1.000)">2</text><text transform="translate(75.66 271.40) scale(0.751 1.000)">5</text></g>
<line x1="140.8" x2="140.8" y1="261.3" y2="264.2" stroke="#666666" stroke-width="0.9"/>
<g font-size="8.0" fill="#2a2a2a" stroke="#2a2a2a" stroke-width="0.3"><text transform="translate(137.32 271.40) scale(0.751 1.000)">3</text><text transform="translate(140.97 271.40) scale(0.744 1.000)">0</text></g>
<line x1="206.1" x2="206.1" y1="261.3" y2="264.2" stroke="#666666" stroke-width="0.9"/>
<g font-size="8.0" fill="#2a2a2a" stroke="#2a2a2a" stroke-width="0.3"><text transform="translate(202.62 271.40) scale(0.751 1.000)">3</text><text transform="translate(206.26 271.40) scale(0.751 1.000)">5</text></g>
<line x1="271.4" x2="271.4" y1="261.3" y2="264.2" stroke="#666666" stroke-width="0.9"/>
<g font-size="8.0" fill="#2a2a2a" stroke="#2a2a2a" stroke-width="0.3"><text transform="translate(268.02 271.40) scale(0.706 1.000)">4</text><text transform="translate(271.57 271.40) scale(0.744 1.000)">0</text></g>
<line x1="336.7" x2="336.7" y1="261.3" y2="264.2" stroke="#666666" stroke-width="0.9"/>
<g font-size="8.0" fill="#2a2a2a" stroke="#2a2a2a" stroke-width="0.3"><text transform="translate(333.32 271.40) scale(0.706 1.000)">4</text><text transform="translate(336.86 271.40) scale(0.751 1.000)">5</text></g>
<g font-size="9.4" fill="#000000" stroke="#000000" stroke-width="0.4"><text transform="translate(110.40 282.80) scale(0.751 1.100)">A</text><text x="115.52" y="282.80">c</text><text x="121.81" y="282.80">t</text><text x="127.31" y="282.80">i</text><text x="131.20" y="282.80">v</text><text transform="translate(136.02 282.80) scale(0.969 1.000)">a</text><text x="142.61" y="282.80">t</text><text x="146.55" y="282.80">e</text><text x="151.84" y="282.80">d</text><text transform="translate(161.69 282.80) scale(0.935 1.100)">P</text><text transform="translate(167.22 282.80) scale(0.969 1.000)">a</text><text x="173.35" y="282.80">r</text><text x="179.01" y="282.80">t</text><text x="184.51" y="282.80">i</text><text transform="translate(188.02 282.80) scale(0.969 1.000)">a</text><text x="194.90" y="282.80">l</text><text transform="translate(203.82 282.80) scale(0.881 1.100)">T</text><text x="208.92" y="282.80">h</text><text x="214.95" y="282.80">r</text><text x="219.34" y="282.80">o</text><text transform="translate(224.37 282.80) scale(0.711 1.000)">m</text><text x="229.63" y="282.80">b</text><text x="234.94" y="282.80">o</text><text x="240.03" y="282.80">p</text><text x="246.90" y="282.80">l</text><text transform="translate(250.42 282.80) scale(0.969 1.000)">a</text><text x="256.04" y="282.80">s</text><text x="262.21" y="282.80">t</text><text x="267.71" y="282.80">i</text><text x="271.33" y="282.80">n</text><text transform="translate(281.82 282.80) scale(0.881 1.100)">T</text><text x="288.51" y="282.80">i</text><text transform="translate(291.97 282.80) scale(0.711 1.000)">m</text><text x="297.35" y="282.80">e</text></g>
<g transform="rotate(-90 12.4 140.0)"><g font-size="9.4" fill="#000000" stroke="#000000" stroke-width="0.4"><text transform="translate(-122.91 139.95) scale(0.865 1.100)">S</text><text transform="translate(-118.03 139.95) scale(0.891 1.100)">H</text><text transform="translate(-112.15 139.95) scale(0.751 1.100)">A</text><text transform="translate(-107.66 139.95) scale(0.935 1.100)">P</text><text transform="translate(-96.57 139.95) scale(0.756 1.100)">V</text><text transform="translate(-91.73 139.95) scale(0.969 1.000)">a</text><text x="-84.85" y="139.95">l</text><text x="-81.21" y="139.95">u</text><text x="-76.00" y="139.95">e</text><text x="-64.38" y="139.95">f</text><text x="-60.41" y="139.95">o</text><text x="-54.40" y="139.95">r</text><text transform="translate(-44.55 139.95) scale(0.751 1.100)">A</text><text x="-39.43" y="139.95">c</text><text x="-33.14" y="139.95">t</text><text x="-27.64" y="139.95">i</text><text x="-23.75" y="139.95">v</text><text transform="translate(-18.93 139.95) scale(0.969 1.000)">a</text><text x="-12.34" y="139.95">t</text><text x="-8.40" y="139.95">e</text><text x="-3.11" y="139.95">d</text><text transform="translate(6.74 139.95) scale(0.935 1.100)">P</text><text transform="translate(12.27 139.95) scale(0.969 1.000)">a</text><text x="18.40" y="139.95">r</text><text x="24.06" y="139.95">t</text><text x="29.56" y="139.95">i</text><text transform="translate(33.07 139.95) scale(0.969 1.000)">a</text><text x="39.95" y="139.95">l</text><text transform="translate(48.87 139.95) scale(0.881 1.100)">T</text><text x="53.97" y="139.95">h</text><text x="60.00" y="139.95">r</text><text x="64.39" y="139.95">o</text><text transform="translate(69.42 139.95) scale(0.711 1.000)">m</text><text x="74.68" y="139.95">b</text><text x="79.99" y="139.95">o</text><text x="85.08" y="139.95">p</text><text x="91.95" y="139.95">l</text><text transform="translate(95.47 139.95) scale(0.969 1.000)">a</text><text x="101.09" y="139.95">s</text><text x="107.26" y="139.95">t</text><text x="112.76" y="139.95">i</text><text x="116.38" y="139.95">n</text><text transform="translate(126.87 139.95) scale(0.881 1.100)">T</text><text x="133.56" y="139.95">i</text><text transform="translate(137.02 139.95) scale(0.711 1.000)">m</text><text x="142.40" y="139.95">e</text></g></g>
<rect x="44.3" y="22.7" width="65.0" height="31.2" rx="1.5" fill="#fff" fill-opacity="0.8" stroke="#d6d6d6" stroke-width="0.8"/>
<g font-size="7.5" fill="#151515" font-weight="bold" stroke="#151515" stroke-width="0.1"><text x="48.19" y="30.50">I</text><text x="51.58" y="30.50">f</text><text transform="translate(58.39 30.50) scale(0.674 1.000)">C</text><text transform="translate(62.20 30.50) scale(0.748 1.000)">T</text><text transform="translate(65.54 30.50) scale(0.778 1.000)">P</text><text transform="translate(69.48 30.50) scale(0.656 1.000)">A</text><text transform="translate(76.55 30.50) scale(0.778 1.000)">P</text><text transform="translate(80.37 30.50) scale(0.827 1.000)">o</text><text transform="translate(84.04 30.50) scale(0.918 1.000)">s</text><text x="88.57" y="30.50">i</text><text x="92.03" y="30.50">t</text><text x="95.91" y="30.50">i</text><text transform="translate(98.94 30.50) scale(0.804 1.000)">v</text><text transform="translate(102.37 30.50) scale(0.912 1.000)">e</text></g>
<circle cx="58.8" cy="38.3" r="2.45" fill="#1c74b0"/>
<circle cx="58.8" cy="48.0" r="2.45" fill="#f07c14"/>
<g font-size="7.5" fill="#151515" font-weight="bold" stroke="#151515" stroke-width="0.1"><text transform="translate(72.91 40.50) scale(0.749 1.000)">N</text><text transform="translate(76.69 40.50) scale(0.912 1.000)">e</text><text transform="translate(80.35 40.50) scale(0.876 1.000)">g</text><text transform="translate(84.11 40.50) scale(0.826 1.000)">a</text><text x="88.37" y="40.50">t</text><text x="92.25" y="40.50">i</text><text transform="translate(95.28 40.50) scale(0.804 1.000)">v</text><text transform="translate(98.71 40.50) scale(0.912 1.000)">e</text></g>
<g font-size="7.5" fill="#151515" font-weight="bold" stroke="#151515" stroke-width="0.1"><text transform="translate(72.89 50.20) scale(0.778 1.000)">P</text><text transform="translate(76.71 50.20) scale(0.827 1.000)">o</text><text transform="translate(80.38 50.20) scale(0.918 1.000)">s</text><text x="84.91" y="50.20">i</text><text x="88.37" y="50.20">t</text><text x="92.25" y="50.20">i</text><text transform="translate(95.28 50.20) scale(0.804 1.000)">v</text><text transform="translate(98.71 50.20) scale(0.912 1.000)">e</text></g>
<line x1="440.5" x2="771.1" y1="143.3" y2="143.3" stroke="#e01e22" stroke-width="1.35"/>
<circle class="o" cx="706.8" cy="162.6" r="2.35"/>
<circle class="b" cx="493.7" cy="132.1" r="2.35"/>
<circle class="o" cx="726.3" cy="150.7" r="2.35"/>
<circle class="b" cx="640.4" cy="178.3" r="2.35"/>
<circle class="b" cx="625.2" cy="173.2" r="2.35"/>
<circle class="o" cx="641.8" cy="139.3" r="2.35"/>
<circle class="b" cx="649.0" cy="166.0" r="2.35"/>
<circle class="o" cx="595.6" cy="94.5" r="2.35"/>
<circle class="o" cx="597.7" cy="106.2" r="2.35"/>
<circle class="b" cx="561.0" cy="137.5" r="2.35"/>
<circle class="b" cx="581.2" cy="137.8" r="2.35"/>
<circle class="o" cx="525.6" cy="50.2" r="2.35"/>
<circle class="o" cx="711.3" cy="169.4" r="2.35"/>
<circle class="o" cx="497.8" cy="93.7" r="2.35"/>
<circle class="o" cx="547.5" cy="98.1" r="2.35"/>
<circle class="b" cx="654.8" cy="168.2" r="2.35"/>
<circle class="o" cx="698.6" cy="153.7" r="2.35"/>
<circle class="b" cx="581.2" cy="86.6" r="2.35"/>
<circle class="o" cx="713.6" cy="149.9" r="2.35"/>
<circle class="o" cx="455.6" cy="102.2" r="2.35"/>
<circle class="b" cx="540.3" cy="108.2" r="2.35"/>
<circle class="o" cx="573.3" cy="77.9" r="2.35"/>
<circle class="b" cx="515.8" cy="109.0" r="2.35"/>
<circle class="b" cx="726.3" cy="237.0" r="2.35"/>
<circle class="b" cx="675.4" cy="180.6" r="2.35"/>
<circle class="o" cx="625.9" cy="126.3" r="2.35"/>
<circle class="b" cx="628.8" cy="158.1" r="2.35"/>
<circle class="o" cx="526.3" cy="70.0" r="2.35"/>
<circle class="o" cx="581.9" cy="76.5" r="2.35"/>
<circle class="o" cx="576.9" cy="101.7" r="2.35"/>
<circle class="o" cx="531.2" cy="108.7" r="2.35"/>
<circle class="b" cx="548.2" cy="135.7" r="2.35"/>
<circle class="b" cx="506.4" cy="125.6" r="2.35"/>
<circle class="b" cx="461.6" cy="121.7" r="2.35"/>
<circle class="o" cx="708.3" cy="123.4" r="2.35"/>
<circle class="o" cx="676.9" cy="150.7" r="2.35"/>
<circle class="o" cx="732.2" cy="194.0" r="2.35"/>
<circle class="b" cx="685.9" cy="200.7" r="2.35"/>
<circle class="o" cx="555.2" cy="83.7" r="2.35"/>
<circle class="b" cx="503.2" cy="136.7" r="2.35"/>
<circle class="b" cx="623.8" cy="158.1" r="2.35"/>
<circle class="b" cx="742.7" cy="246.3" r="2.35"/>
<circle class="b" cx="468.9" cy="135.2" r="2.35"/>
<circle class="b" cx="720.3" cy="172.4" r="2.35"/>
<circle class="b" cx="518.8" cy="94.7" r="2.35"/>
<circle class="o" cx="522.3" cy="54.8" r="2.35"/>
<circle class="o" cx="684.4" cy="167.1" r="2.35"/>
<circle class="b" cx="662.4" cy="158.9" r="2.35"/>
<circle class="o" cx="511.4" cy="96.7" r="2.35"/>
<circle class="b" cx="585.3" cy="128.7" r="2.35"/>
<circle class="o" cx="714.3" cy="145.5" r="2.35"/>
<circle class="o" cx="486.9" cy="41.1" r="2.35"/>
<circle class="o" cx="675.6" cy="174.3" r="2.35"/>
<circle class="b" cx="626.7" cy="166.0" r="2.35"/>
<circle class="o" cx="530.9" cy="72.9" r="2.35"/>
<circle class="o" cx="534.1" cy="125.1" r="2.35"/>
<circle class="b" cx="602.8" cy="153.5" r="2.35"/>
<circle class="b" cx="504.7" cy="124.1" r="2.35"/>
<circle class="b" cx="589.6" cy="146.8" r="2.35"/>
<circle class="b" cx="578.3" cy="128.4" r="2.35"/>
<circle class="b" cx="526.6" cy="135.7" r="2.35"/>
<circle class="o" cx="584.1" cy="123.4" r="2.35"/>
<circle class="o" cx="753.2" cy="231.4" r="2.35"/>
<circle class="o" cx="565.6" cy="40.4" r="2.35"/>
<circle class="o" cx="753.2" cy="162.6" r="2.35"/>
<circle class="b" cx="691.9" cy="187.3" r="2.35"/>
<circle class="o" cx="636.0" cy="150.9" r="2.35"/>
<circle class="o" cx="587.0" cy="98.1" r="2.35"/>
<circle class="b" cx="568.9" cy="132.8" r="2.35"/>
<circle class="b" cx="618.7" cy="153.8" r="2.35"/>
<circle class="o" cx="483.6" cy="104.9" r="2.35"/>
<circle class="o" cx="602.1" cy="101.0" r="2.35"/>
<circle class="b" cx="668.3" cy="197.8" r="2.35"/>
<circle class="b" cx="705.3" cy="217.9" r="2.35"/>
<circle class="o" cx="640.4" cy="145.1" r="2.35"/>
<circle class="o" cx="620.2" cy="119.1" r="2.35"/>
<circle class="o" cx="536.7" cy="94.5" r="2.35"/>
<circle class="o" cx="715.8" cy="152.2" r="2.35"/>
<circle class="o" cx="494.1" cy="108.2" r="2.35"/>
<circle class="b" cx="580.0" cy="106.4" r="2.35"/>
<circle class="o" cx="597.8" cy="88.5" r="2.35"/>
<circle class="b" cx="556.7" cy="76.9" r="2.35"/>
<circle class="o" cx="704.4" cy="160.1" r="2.35"/>
<circle class="b" cx="495.6" cy="74.7" r="2.35"/>
<circle class="b" cx="697.9" cy="174.6" r="2.35"/>
<circle class="b" cx="583.5" cy="130.3" r="2.35"/>
<circle class="b" cx="659.0" cy="158.2" r="2.35"/>
<circle class="o" cx="530.2" cy="85.9" r="2.35"/>
<circle class="b" cx="702.3" cy="152.9" r="2.35"/>
<circle class="o" cx="708.3" cy="146.2" r="2.35"/>
<circle class="o" cx="607.2" cy="120.5" r="2.35"/>
<circle class="b" cx="476.4" cy="153.5" r="2.35"/>
<circle class="o" cx="626.7" cy="148.7" r="2.35"/>
<circle class="o" cx="601.4" cy="87.0" r="2.35"/>
<circle class="o" cx="579.0" cy="96.0" r="2.35"/>
<circle class="o" cx="520.1" cy="98.1" r="2.35"/>
<circle class="o" cx="522.3" cy="73.2" r="2.35"/>
<circle class="o" cx="500.6" cy="75.5" r="2.35"/>
<circle class="b" cx="520.8" cy="100.3" r="2.35"/>
<circle class="o" cx="675.4" cy="170.9" r="2.35"/>
<circle class="b" cx="682.9" cy="191.8" r="2.35"/>
<circle class="o" cx="623.1" cy="129.9" r="2.35"/>
<circle class="b" cx="552.3" cy="129.9" r="2.35"/>
<circle class="o" cx="659.0" cy="163.4" r="2.35"/>
<circle class="b" cx="651.9" cy="158.1" r="2.35"/>
<circle class="o" cx="685.9" cy="170.1" r="2.35"/>
<circle class="o" cx="501.8" cy="80.8" r="2.35"/>
<circle class="b" cx="643.3" cy="181.2" r="2.35"/>
<circle class="o" cx="631.7" cy="149.4" r="2.35"/>
<circle class="b" cx="594.9" cy="139.3" r="2.35"/>
<circle class="o" cx="564.2" cy="54.5" r="2.35"/>
<circle class="b" cx="712.8" cy="191.8" r="2.35"/>
<circle class="o" cx="618.7" cy="110.4" r="2.35"/>
<circle class="o" cx="669.5" cy="144.7" r="2.35"/>
<circle class="b" cx="566.8" cy="101.7" r="2.35"/>
<circle class="o" cx="651.9" cy="143.7" r="2.35"/>
<circle class="o" cx="572.5" cy="114.0" r="2.35"/>
<circle class="b" cx="676.9" cy="166.4" r="2.35"/>
<circle class="o" cx="584.1" cy="101.7" r="2.35"/>
<circle class="b" cx="663.5" cy="170.9" r="2.35"/>
<circle class="b" cx="509.3" cy="104.6" r="2.35"/>
<circle class="b" cx="623.1" cy="135.7" r="2.35"/>
<circle class="o" cx="591.3" cy="81.5" r="2.35"/>
<circle class="o" cx="501.3" cy="100.3" r="2.35"/>
<circle class="o" cx="484.0" cy="69.0" r="2.35"/>
<circle class="b" cx="638.6" cy="194.5" r="2.35"/>
<circle class="o" cx="578.3" cy="85.9" r="2.35"/>
<circle class="o" cx="575.7" cy="61.3" r="2.35"/>
<circle class="b" cx="708.3" cy="166.4" r="2.35"/>
<circle class="o" cx="608.6" cy="113.3" r="2.35"/>
<circle class="b" cx="549.0" cy="126.0" r="2.35"/>
<circle class="b" cx="745.4" cy="203.7" r="2.35"/>
<circle class="o" cx="591.3" cy="110.4" r="2.35"/>
<circle class="o" cx="580.9" cy="56.7" r="2.35"/>
<circle class="b" cx="602.8" cy="127.7" r="2.35"/>
<circle class="b" cx="619.4" cy="149.1" r="2.35"/>
<circle class="o" cx="531.6" cy="80.8" r="2.35"/>
<circle class="b" cx="495.6" cy="110.4" r="2.35"/>
<circle class="o" cx="561.0" cy="89.5" r="2.35"/>
<circle class="o" cx="499.9" cy="111.8" r="2.35"/>
<circle class="b" cx="634.6" cy="171.1" r="2.35"/>
<circle class="o" cx="718.8" cy="166.4" r="2.35"/>
<circle class="o" cx="527.2" cy="77.9" r="2.35"/>
<circle class="b" cx="615.8" cy="152.3" r="2.35"/>
<circle class="b" cx="736.7" cy="232.1" r="2.35"/>
<circle class="b" cx="696.4" cy="194.0" r="2.35"/>
<circle class="o" cx="722.5" cy="160.1" r="2.35"/>
<circle class="o" cx="550.9" cy="90.9" r="2.35"/>
<circle class="b" cx="670.9" cy="182.8" r="2.35"/>
<circle class="o" cx="519.4" cy="89.5" r="2.35"/>
<circle class="o" cx="588.4" cy="107.5" r="2.35"/>
<circle class="b" cx="477.8" cy="125.6" r="2.35"/>
<circle class="o" cx="512.9" cy="73.6" r="2.35"/>
<circle class="b" cx="753.2" cy="226.9" r="2.35"/>
<circle class="o" cx="690.4" cy="158.2" r="2.35"/>
<circle class="o" cx="631.0" cy="153.8" r="2.35"/>
<circle class="b" cx="691.9" cy="166.4" r="2.35"/>
<circle class="o" cx="580.5" cy="108.2" r="2.35"/>
<circle class="b" cx="605.6" cy="127.5" r="2.35"/>
<circle class="o" cx="749.9" cy="190.0" r="2.35"/>
<circle class="b" cx="696.4" cy="185.1" r="2.35"/>
<circle class="o" cx="584.1" cy="110.4" r="2.35"/>
<circle class="b" cx="684.4" cy="185.8" r="2.35"/>
<circle class="o" cx="542.5" cy="99.6" r="2.35"/>
<circle class="o" cx="679.2" cy="180.6" r="2.35"/>
<circle class="b" cx="711.3" cy="197.8" r="2.35"/>
<circle class="b" cx="721.8" cy="193.3" r="2.35"/>
<circle class="b" cx="525.9" cy="113.3" r="2.35"/>
<circle class="o" cx="662.7" cy="149.9" r="2.35"/>
<circle class="b" cx="491.2" cy="93.1" r="2.35"/>
<circle class="b" cx="573.3" cy="146.8" r="2.35"/>
<circle class="o" cx="502.1" cy="75.0" r="2.35"/>
<circle class="b" cx="561.0" cy="116.2" r="2.35"/>
<circle class="o" cx="571.7" cy="111.8" r="2.35"/>
<circle class="o" cx="515.1" cy="96.0" r="2.35"/>
<circle class="o" cx="691.9" cy="140.7" r="2.35"/>
<circle class="o" cx="662.9" cy="160.5" r="2.35"/>
<circle class="o" cx="508.3" cy="97.7" r="2.35"/>
<circle class="b" cx="721.8" cy="205.2" r="2.35"/>
<circle class="o" cx="582.1" cy="99.7" r="2.35"/>
<circle class="b" cx="724.8" cy="194.0" r="2.35"/>
<circle class="o" cx="492.7" cy="76.3" r="2.35"/>
<circle class="o" cx="712.1" cy="157.4" r="2.35"/>
<circle class="o" cx="611.5" cy="95.7" r="2.35"/>
<circle class="b" cx="705.3" cy="214.2" r="2.35"/>
<circle class="b" cx="495.6" cy="113.3" r="2.35"/>
<circle class="o" cx="667.2" cy="149.9" r="2.35"/>
<circle class="b" cx="569.6" cy="116.9" r="2.35"/>
<circle class="b" cx="545.1" cy="141.1" r="2.35"/>
<circle class="b" cx="613.7" cy="162.4" r="2.35"/>
<circle class="b" cx="727.8" cy="214.9" r="2.35"/>
<circle class="o" cx="514.8" cy="126.6" r="2.35"/>
<circle class="b" cx="602.8" cy="137.1" r="2.35"/>
<circle class="b" cx="700.8" cy="177.6" r="2.35"/>
<circle class="b" cx="590.6" cy="141.5" r="2.35"/>
<circle class="b" cx="672.4" cy="187.3" r="2.35"/>
<circle class="o" cx="534.5" cy="103.9" r="2.35"/>
<circle class="b" cx="705.3" cy="194.8" r="2.35"/>
<circle class="b" cx="693.4" cy="175.3" r="2.35"/>
<circle class="b" cx="711.3" cy="218.7" r="2.35"/>
<circle class="b" cx="749.9" cy="207.9" r="2.35"/>
<circle class="o" cx="663.5" cy="154.4" r="2.35"/>
<circle class="b" cx="586.2" cy="132.8" r="2.35"/>
<circle class="b" cx="693.4" cy="203.7" r="2.35"/>
<circle class="o" cx="591.3" cy="130.6" r="2.35"/>
<circle class="o" cx="517.5" cy="96.3" r="2.35"/>
<circle class="b" cx="699.4" cy="170.9" r="2.35"/>
<circle class="o" cx="526.6" cy="75.8" r="2.35"/>
<circle class="o" cx="555.2" cy="106.1" r="2.35"/>
<circle class="o" cx="709.8" cy="132.7" r="2.35"/>
<circle class="o" cx="584.4" cy="125.6" r="2.35"/>
<circle class="b" cx="625.8" cy="148.6" r="2.35"/>
<circle class="o" cx="578.3" cy="59.1" r="2.35"/>
<circle class="b" cx="742.0" cy="217.2" r="2.35"/>
<circle class="o" cx="659.0" cy="153.7" r="2.35"/>
<circle class="o" cx="502.3" cy="89.9" r="2.35"/>
<circle class="b" cx="507.1" cy="96.0" r="2.35"/>
<circle class="o" cx="660.9" cy="162.2" r="2.35"/>
<circle class="b" cx="751.7" cy="248.6" r="2.35"/>
<circle class="b" cx="666.5" cy="191.0" r="2.35"/>
<circle class="o" cx="595.6" cy="128.4" r="2.35"/>
<circle class="b" cx="617.8" cy="150.0" r="2.35"/>
<circle class="b" cx="755.3" cy="237.9" r="2.35"/>
<circle class="o" cx="522.7" cy="67.1" r="2.35"/>
<circle class="b" cx="617.3" cy="146.5" r="2.35"/>
<circle class="b" cx="635.8" cy="179.0" r="2.35"/>
<circle class="b" cx="523.7" cy="148.0" r="2.35"/>
<circle class="b" cx="466.0" cy="115.5" r="2.35"/>
<circle class="o" cx="553.8" cy="109.0" r="2.35"/>
<circle class="o" cx="725.5" cy="217.2" r="2.35"/>
<circle class="o" cx="559.5" cy="96.0" r="2.35"/>
<circle class="b" cx="748.7" cy="242.6" r="2.35"/>
<circle class="o" cx="504.2" cy="93.8" r="2.35"/>
<circle class="b" cx="675.6" cy="175.4" r="2.35"/>
<circle class="o" cx="733.7" cy="172.4" r="2.35"/>
<circle class="b" cx="739.7" cy="219.4" r="2.35"/>
<circle class="b" cx="750.2" cy="224.6" r="2.35"/>
<circle class="b" cx="745.7" cy="221.7" r="2.35"/>
<circle class="b" cx="702.3" cy="200.7" r="2.35"/>
<circle class="b" cx="640.4" cy="168.9" r="2.35"/>
<circle class="o" cx="650.5" cy="149.4" r="2.35"/>
<circle class="o" cx="590.6" cy="101.0" r="2.35"/>
<circle class="b" cx="737.9" cy="238.1" r="2.35"/>
<circle class="o" cx="526.6" cy="101.7" r="2.35"/>
<circle class="b" cx="577.6" cy="105.3" r="2.35"/>
<circle class="b" cx="638.9" cy="172.5" r="2.35"/>
<circle class="o" cx="660.5" cy="170.9" r="2.35"/>
<circle class="o" cx="726.3" cy="198.5" r="2.35"/>
<circle class="o" cx="634.6" cy="148.0" r="2.35"/>
<circle class="b" cx="548.4" cy="83.8" r="2.35"/>
<circle class="o" cx="482.1" cy="50.8" r="2.35"/>
<circle class="o" cx="715.8" cy="139.5" r="2.35"/>
<circle class="o" cx="498.7" cy="103.9" r="2.35"/>
<circle class="o" cx="660.5" cy="146.2" r="2.35"/>
<circle class="b" cx="476.4" cy="102.9" r="2.35"/>
<circle class="b" cx="703.8" cy="207.5" r="2.35"/>
<circle class="o" cx="599.7" cy="75.5" r="2.35"/>
<circle class="o" cx="480.8" cy="111.8" r="2.35"/>
<circle class="o" cx="593.9" cy="67.1" r="2.35"/>
<circle class="o" cx="582.6" cy="90.2" r="2.35"/>
<circle class="o" cx="566.8" cy="91.6" r="2.35"/>
<circle class="o" cx="591.3" cy="94.5" r="2.35"/>
<circle class="o" cx="723.3" cy="153.7" r="2.35"/>
<circle class="o" cx="536.0" cy="83.7" r="2.35"/>
<circle class="b" cx="728.9" cy="167.1" r="2.35"/>
<circle class="b" cx="657.7" cy="163.9" r="2.35"/>
<circle class="o" cx="612.2" cy="139.3" r="2.35"/>
<circle class="b" cx="730.7" cy="190.3" r="2.35"/>
<circle class="b" cx="724.8" cy="188.0" r="2.35"/>
<circle class="o" cx="514.3" cy="83.0" r="2.35"/>
<circle class="b" cx="488.4" cy="134.2" r="2.35"/>
<circle class="o" cx="567.7" cy="84.3" r="2.35"/>
<circle class="b" cx="697.9" cy="202.2" r="2.35"/>
<circle class="o" cx="620.2" cy="144.4" r="2.35"/>
<circle class="b" cx="594.2" cy="125.6" r="2.35"/>
<circle class="b" cx="625.9" cy="153.0" r="2.35"/>
<circle class="o" cx="684.4" cy="161.9" r="2.35"/>
<circle class="b" cx="595.6" cy="137.8" r="2.35"/>
<circle class="b" cx="745.4" cy="211.5" r="2.35"/>
<circle class="b" cx="581.2" cy="132.1" r="2.35"/>
<circle class="b" cx="520.8" cy="113.3" r="2.35"/>
<circle class="o" cx="569.2" cy="75.6" r="2.35"/>
<circle class="o" cx="495.6" cy="93.4" r="2.35"/>
<circle class="o" cx="645.9" cy="129.2" r="2.35"/>
<circle class="o" cx="507.8" cy="89.9" r="2.35"/>
<circle class="b" cx="605.7" cy="130.6" r="2.35"/>
<circle class="o" cx="488.4" cy="83.0" r="2.35"/>
<circle class="b" cx="676.9" cy="172.4" r="2.35"/>
<circle class="b" cx="537.4" cy="90.9" r="2.35"/>
<circle class="b" cx="482.1" cy="133.5" r="2.35"/>
<circle class="o" cx="541.0" cy="93.1" r="2.35"/>
<circle class="o" cx="672.7" cy="136.6" r="2.35"/>
<circle class="b" cx="543.6" cy="109.7" r="2.35"/>
<circle class="o" cx="743.9" cy="206.0" r="2.35"/>
<circle class="b" cx="623.1" cy="155.9" r="2.35"/>
<circle class="b" cx="724.8" cy="229.4" r="2.35"/>
<circle class="b" cx="463.1" cy="153.0" r="2.35"/>
<circle class="b" cx="733.7" cy="241.1" r="2.35"/>
<circle class="o" cx="662.0" cy="158.2" r="2.35"/>
<circle class="b" cx="497.6" cy="111.6" r="2.35"/>
<circle class="b" cx="756.2" cy="229.1" r="2.35"/>
<circle class="b" cx="647.6" cy="171.1" r="2.35"/>
<circle class="b" cx="593.5" cy="106.1" r="2.35"/>
<circle class="b" cx="594.2" cy="119.8" r="2.35"/>
<circle class="b" cx="573.3" cy="117.6" r="2.35"/>
<circle class="b" cx="600.0" cy="122.0" r="2.35"/>
<circle class="o" cx="506.1" cy="84.0" r="2.35"/>
<circle class="o" cx="571.1" cy="70.7" r="2.35"/>
<circle class="b" cx="597.1" cy="140.5" r="2.35"/>
<circle class="b" cx="743.9" cy="190.0" r="2.35"/>
<circle class="o" cx="712.8" cy="176.8" r="2.35"/>
<circle class="b" cx="515.1" cy="79.4" r="2.35"/>
<circle class="b" cx="703.8" cy="175.3" r="2.35"/>
<circle class="o" cx="590.6" cy="87.3" r="2.35"/>
<circle class="b" cx="676.4" cy="164.1" r="2.35"/>
<circle class="b" cx="659.0" cy="182.8" r="2.35"/>
<circle class="o" cx="455.6" cy="113.3" r="2.35"/>
<circle class="b" cx="672.4" cy="158.9" r="2.35"/>
<circle class="o" cx="654.8" cy="146.5" r="2.35"/>
<circle class="o" cx="628.1" cy="133.5" r="2.35"/>
<circle class="b" cx="458.5" cy="122.2" r="2.35"/>
<circle class="b" cx="573.3" cy="124.8" r="2.35"/>
<circle class="b" cx="628.1" cy="174.7" r="2.35"/>
<circle class="o" cx="521.5" cy="93.1" r="2.35"/>
<circle class="b" cx="690.4" cy="197.0" r="2.35"/>
<circle class="b" cx="612.2" cy="148.7" r="2.35"/>
<circle class="b" cx="563.9" cy="97.4" r="2.35"/>
<circle class="b" cx="668.0" cy="162.6" r="2.35"/>
<circle class="o" cx="561.0" cy="71.4" r="2.35"/>
<circle class="b" cx="590.6" cy="126.3" r="2.35"/>
<circle class="b" cx="576.9" cy="113.3" r="2.35"/>
<circle class="o" cx="489.2" cy="99.9" r="2.35"/>
<circle class="o" cx="615.8" cy="124.6" r="2.35"/>
<circle class="o" cx="562.4" cy="75.0" r="2.35"/>
<circle class="b" cx="540.3" cy="126.0" r="2.35"/>
<circle class="b" cx="567.5" cy="127.7" r="2.35"/>
<circle class="o" cx="544.6" cy="85.1" r="2.35"/>
<circle class="o" cx="685.1" cy="153.7" r="2.35"/>
<circle class="b" cx="705.3" cy="168.6" r="2.35"/>
<circle class="b" cx="712.8" cy="185.1" r="2.35"/>
<circle class="b" cx="480.8" cy="159.8" r="2.35"/>
<circle class="o" cx="492.7" cy="100.3" r="2.35"/>
<circle class="b" cx="657.7" cy="178.3" r="2.35"/>
<circle class="b" cx="584.8" cy="119.1" r="2.35"/>
<circle class="b" cx="523.7" cy="124.6" r="2.35"/>
<circle class="o" cx="513.6" cy="90.2" r="2.35"/>
<circle class="o" cx="698.1" cy="182.7" r="2.35"/>
<circle class="o" cx="721.8" cy="158.2" r="2.35"/>
<circle class="b" cx="594.2" cy="112.6" r="2.35"/>
<circle class="b" cx="686.5" cy="160.2" r="2.35"/>
<circle class="o" cx="581.2" cy="103.3" r="2.35"/>
<circle class="o" cx="515.1" cy="68.2" r="2.35"/>
<circle class="o" cx="620.9" cy="124.6" r="2.35"/>
<circle class="b" cx="526.3" cy="124.6" r="2.35"/>
<circle class="o" cx="617.3" cy="131.3" r="2.35"/>
<circle class="b" cx="536.0" cy="117.6" r="2.35"/>
<circle class="o" cx="506.1" cy="65.4" r="2.35"/>
<circle class="o" cx="515.1" cy="64.2" r="2.35"/>
<circle class="b" cx="540.0" cy="146.8" r="2.35"/>
<circle class="b" cx="576.1" cy="79.4" r="2.35"/>
<circle class="b" cx="650.0" cy="160.9" r="2.35"/>
<circle class="b" cx="654.1" cy="174.0" r="2.35"/>
<circle class="o" cx="649.0" cy="156.6" r="2.35"/>
<circle class="b" cx="673.9" cy="191.8" r="2.35"/>
<circle class="o" cx="571.8" cy="98.1" r="2.35"/>
<circle class="b" cx="546.5" cy="150.0" r="2.35"/>
<circle class="o" cx="694.9" cy="187.3" r="2.35"/>
<circle class="o" cx="549.7" cy="91.6" r="2.35"/>
<circle class="b" cx="528.3" cy="120.2" r="2.35"/>
<circle class="o" cx="712.8" cy="162.6" r="2.35"/>
<circle class="o" cx="532.8" cy="56.3" r="2.35"/>
<circle class="b" cx="559.5" cy="108.2" r="2.35"/>
<circle class="o" cx="733.7" cy="160.4" r="2.35"/>
<circle class="o" cx="565.3" cy="105.3" r="2.35"/>
<circle class="b" cx="670.9" cy="179.1" r="2.35"/>
<circle class="b" cx="684.4" cy="195.5" r="2.35"/>
<circle class="b" cx="628.8" cy="164.1" r="2.35"/>
<circle class="b" cx="638.2" cy="185.8" r="2.35"/>
<circle class="o" cx="619.0" cy="113.3" r="2.35"/>
<circle class="o" cx="473.5" cy="70.7" r="2.35"/>
<circle class="b" cx="473.5" cy="106.8" r="2.35"/>
<circle class="b" cx="617.0" cy="147.7" r="2.35"/>
<circle class="b" cx="552.3" cy="111.8" r="2.35"/>
<circle class="o" cx="724.8" cy="174.6" r="2.35"/>
<circle class="o" cx="691.9" cy="149.9" r="2.35"/>
<circle class="b" cx="528.0" cy="88.7" r="2.35"/>
<circle class="o" cx="512.9" cy="86.6" r="2.35"/>
<circle class="b" cx="631.4" cy="168.8" r="2.35"/>
<circle class="b" cx="579.0" cy="93.8" r="2.35"/>
<circle class="b" cx="476.4" cy="166.0" r="2.35"/>
<circle class="b" cx="494.6" cy="133.5" r="2.35"/>
<circle class="b" cx="558.1" cy="119.1" r="2.35"/>
<circle class="b" cx="735.2" cy="223.2" r="2.35"/>
<circle class="o" cx="723.3" cy="182.8" r="2.35"/>
<circle class="b" cx="481.1" cy="154.5" r="2.35"/>
<circle class="o" cx="566.8" cy="124.1" r="2.35"/>
<circle class="b" cx="726.3" cy="225.4" r="2.35"/>
<circle class="b" cx="657.7" cy="204.3" r="2.35"/>
<circle class="o" cx="634.2" cy="152.3" r="2.35"/>
<circle class="o" cx="473.5" cy="100.6" r="2.35"/>
<circle class="b" cx="723.3" cy="208.2" r="2.35"/>
<circle class="o" cx="516.5" cy="72.1" r="2.35"/>
<circle class="b" cx="681.4" cy="182.8" r="2.35"/>
<circle class="b" cx="711.3" cy="216.4" r="2.35"/>
<circle class="o" cx="647.6" cy="145.1" r="2.35"/>
<circle class="o" cx="488.4" cy="104.2" r="2.35"/>
<circle class="o" cx="568.9" cy="96.0" r="2.35"/>
<circle class="o" cx="523.7" cy="63.9" r="2.35"/>
<circle class="o" cx="549.0" cy="76.5" r="2.35"/>
<circle class="b" cx="549.7" cy="133.5" r="2.35"/>
<circle class="o" cx="547.5" cy="83.7" r="2.35"/>
<circle class="b" cx="649.0" cy="202.1" r="2.35"/>
<circle class="o" cx="498.5" cy="118.3" r="2.35"/>
<circle class="o" cx="600.0" cy="111.8" r="2.35"/>
<circle class="b" cx="568.9" cy="109.7" r="2.35"/>
<circle class="b" cx="604.3" cy="144.4" r="2.35"/>
<circle class="o" cx="510.4" cy="47.9" r="2.35"/>
<circle class="b" cx="628.2" cy="170.2" r="2.35"/>
<circle class="b" cx="690.4" cy="176.8" r="2.35"/>
<circle class="b" cx="533.1" cy="143.2" r="2.35"/>
<circle class="o" cx="611.5" cy="129.2" r="2.35"/>
<circle class="b" cx="668.0" cy="173.8" r="2.35"/>
<circle class="b" cx="705.3" cy="182.8" r="2.35"/>
<circle class="o" cx="643.3" cy="146.5" r="2.35"/>
<circle class="b" cx="687.4" cy="170.9" r="2.35"/>
<circle class="o" cx="458.5" cy="90.9" r="2.35"/>
<circle class="b" cx="611.8" cy="136.4" r="2.35"/>
<circle class="o" cx="466.0" cy="73.6" r="2.35"/>
<circle class="o" cx="723.1" cy="180.8" r="2.35"/>
<circle class="b" cx="634.6" cy="159.5" r="2.35"/>
<circle class="b" cx="495.6" cy="104.6" r="2.35"/>
<circle class="b" cx="682.9" cy="176.8" r="2.35"/>
<circle class="o" cx="546.1" cy="90.2" r="2.35"/>
<circle class="o" cx="482.1" cy="124.1" r="2.35"/>
<circle class="o" cx="522.3" cy="104.6" r="2.35"/>
<circle class="b" cx="609.9" cy="146.3" r="2.35"/>
<circle class="b" cx="468.9" cy="150.2" r="2.35"/>
<circle class="o" cx="486.9" cy="96.7" r="2.35"/>
<circle class="b" cx="669.8" cy="204.0" r="2.35"/>
<circle class="b" cx="565.3" cy="112.6" r="2.35"/>
<circle class="b" cx="620.5" cy="185.2" r="2.35"/>
<circle class="b" cx="523.7" cy="90.2" r="2.35"/>
<circle class="b" cx="597.1" cy="109.0" r="2.35"/>
<circle class="o" cx="556.7" cy="50.1" r="2.35"/>
<circle class="b" cx="582.6" cy="106.1" r="2.35"/>
<circle class="b" cx="499.9" cy="105.3" r="2.35"/>
<circle class="b" cx="727.8" cy="221.7" r="2.35"/>
<circle class="o" cx="591.3" cy="117.6" r="2.35"/>
<circle class="o" cx="568.2" cy="77.9" r="2.35"/>
<circle class="o" cx="653.4" cy="130.6" r="2.35"/>
<circle class="b" cx="752.9" cy="192.5" r="2.35"/>
<circle class="o" cx="597.8" cy="100.3" r="2.35"/>
<circle class="b" cx="504.7" cy="86.6" r="2.35"/>
<circle class="b" cx="588.4" cy="122.0" r="2.35"/>
<circle class="b" cx="627.4" cy="150.2" r="2.35"/>
<circle class="o" cx="498.5" cy="96.7" r="2.35"/>
<circle class="o" cx="667.2" cy="170.9" r="2.35"/>
<circle class="b" cx="583.4" cy="127.7" r="2.35"/>
<circle class="o" cx="546.1" cy="119.1" r="2.35"/>
<circle class="o" cx="498.5" cy="101.0" r="2.35"/>
<circle class="o" cx="500.3" cy="87.6" r="2.35"/>
<circle class="b" cx="555.2" cy="138.6" r="2.35"/>
<circle class="o" cx="580.5" cy="101.0" r="2.35"/>
<circle class="b" cx="649.0" cy="178.3" r="2.35"/>
<circle class="o" cx="695.6" cy="153.7" r="2.35"/>
<circle class="o" cx="552.3" cy="58.4" r="2.35"/>
<circle class="b" cx="527.0" cy="110.4" r="2.35"/>
<circle class="b" cx="742.4" cy="249.3" r="2.35"/>
<circle class="b" cx="742.7" cy="242.6" r="2.35"/>
<circle class="b" cx="604.0" cy="132.5" r="2.35"/>
<circle class="b" cx="614.4" cy="150.2" r="2.35"/>
<circle class="o" cx="708.3" cy="156.7" r="2.35"/>
<circle class="o" cx="637.5" cy="139.3" r="2.35"/>
<circle class="o" cx="751.7" cy="162.2" r="2.35"/>
<circle class="o" cx="563.9" cy="101.7" r="2.35"/>
<circle class="o" cx="636.0" cy="154.5" r="2.35"/>
<circle class="o" cx="705.3" cy="200.7" r="2.35"/>
<circle class="o" cx="663.5" cy="166.4" r="2.35"/>
<circle class="o" cx="647.6" cy="158.8" r="2.35"/>
<circle class="b" cx="510.7" cy="111.1" r="2.35"/>
<circle class="b" cx="638.9" cy="160.3" r="2.35"/>
<circle class="b" cx="541.8" cy="153.5" r="2.35"/>
<circle class="o" cx="589.9" cy="113.3" r="2.35"/>
<circle class="b" cx="720.3" cy="176.8" r="2.35"/>
<circle class="b" cx="756.2" cy="234.8" r="2.35"/>
<circle class="b" cx="718.8" cy="181.3" r="2.35"/>
<circle class="b" cx="747.2" cy="216.4" r="2.35"/>
<circle class="b" cx="702.3" cy="190.3" r="2.35"/>
<circle class="b" cx="631.0" cy="166.8" r="2.35"/>
<circle class="o" cx="737.9" cy="192.1" r="2.35"/>
<circle class="o" cx="563.9" cy="80.1" r="2.35"/>
<circle class="o" cx="631.7" cy="145.8" r="2.35"/>
<circle class="b" cx="610.1" cy="134.9" r="2.35"/>
<circle class="o" cx="489.1" cy="98.9" r="2.35"/>
<circle class="o" cx="561.0" cy="84.4" r="2.35"/>
<circle class="o" cx="633.2" cy="140.8" r="2.35"/>
<circle class="b" cx="602.1" cy="133.5" r="2.35"/>
<circle class="b" cx="620.6" cy="179.0" r="2.35"/>
<circle class="o" cx="552.3" cy="96.0" r="2.35"/>
<circle class="o" cx="676.2" cy="155.9" r="2.35"/>
<circle class="b" cx="685.4" cy="178.0" r="2.35"/>
<circle class="o" cx="753.2" cy="170.4" r="2.35"/>
<circle class="b" cx="614.4" cy="155.9" r="2.35"/>
<circle class="o" cx="687.4" cy="141.0" r="2.35"/>
<circle class="o" cx="694.9" cy="142.2" r="2.35"/>
<circle class="b" cx="547.5" cy="81.5" r="2.35"/>
<circle class="b" cx="699.4" cy="191.8" r="2.35"/>
<circle class="o" cx="525.2" cy="72.9" r="2.35"/>
<circle class="o" cx="583.4" cy="97.4" r="2.35"/>
<circle class="b" cx="525.6" cy="140.5" r="2.35"/>
<circle class="o" cx="674.7" cy="147.7" r="2.35"/>
<circle class="b" cx="569.9" cy="60.2" r="2.35"/>
<circle class="o" cx="739.7" cy="192.1" r="2.35"/>
<circle class="o" cx="455.6" cy="90.2" r="2.35"/>
<circle class="b" cx="591.8" cy="103.4" r="2.35"/>
<circle class="o" cx="693.4" cy="182.1" r="2.35"/>
<circle class="b" cx="687.4" cy="178.3" r="2.35"/>
<circle class="o" cx="495.6" cy="126.0" r="2.35"/>
<circle class="b" cx="500.3" cy="124.6" r="2.35"/>
<circle class="b" cx="734.9" cy="206.7" r="2.35"/>
<circle class="o" cx="665.0" cy="145.5" r="2.35"/>
<circle class="b" cx="535.3" cy="120.8" r="2.35"/>
<circle class="b" cx="522.3" cy="133.2" r="2.35"/>
<circle class="o" cx="598.5" cy="96.7" r="2.35"/>
<circle class="o" cx="517.9" cy="70.5" r="2.35"/>
<circle class="o" cx="523.7" cy="96.7" r="2.35"/>
<circle class="o" cx="565.3" cy="85.9" r="2.35"/>
<circle class="o" cx="656.2" cy="156.6" r="2.35"/>
<circle class="b" cx="669.5" cy="192.5" r="2.35"/>
<circle class="o" cx="721.8" cy="163.4" r="2.35"/>
<circle class="b" cx="649.8" cy="153.8" r="2.35"/>
<circle class="o" cx="575.4" cy="97.4" r="2.35"/>
<circle class="o" cx="665.0" cy="160.4" r="2.35"/>
<circle class="o" cx="479.3" cy="67.5" r="2.35"/>
<circle class="o" cx="625.2" cy="117.6" r="2.35"/>
<circle class="b" cx="517.9" cy="123.4" r="2.35"/>
<circle class="b" cx="562.4" cy="142.5" r="2.35"/>
<circle class="b" cx="721.8" cy="185.8" r="2.35"/>
<circle class="o" cx="529.5" cy="99.6" r="2.35"/>
<circle class="b" cx="672.4" cy="166.4" r="2.35"/>
<circle class="b" cx="736.7" cy="245.6" r="2.35"/>
<circle class="b" cx="591.1" cy="126.7" r="2.35"/>
<circle class="o" cx="543.2" cy="80.4" r="2.35"/>
<circle class="o" cx="574.7" cy="86.6" r="2.35"/>
<circle class="o" cx="623.8" cy="121.2" r="2.35"/>
<circle class="o" cx="566.0" cy="100.3" r="2.35"/>
<circle class="b" cx="687.4" cy="157.4" r="2.35"/>
<circle class="o" cx="525.2" cy="94.5" r="2.35"/>
<circle class="b" cx="748.4" cy="212.7" r="2.35"/>
<circle class="b" cx="717.3" cy="196.3" r="2.35"/>
<circle class="o" cx="603.6" cy="104.6" r="2.35"/>
<circle class="b" cx="511.9" cy="122.7" r="2.35"/>
<circle class="b" cx="726.0" cy="211.9" r="2.35"/>
<circle class="b" cx="679.9" cy="164.9" r="2.35"/>
<circle class="o" cx="672.4" cy="145.5" r="2.35"/>
<circle class="o" cx="726.3" cy="204.0" r="2.35"/>
<circle class="o" cx="514.3" cy="99.6" r="2.35"/>
<circle class="o" cx="668.0" cy="155.2" r="2.35"/>
<circle class="o" cx="729.2" cy="153.7" r="2.35"/>
<circle class="b" cx="663.5" cy="184.3" r="2.35"/>
<circle class="o" cx="527.3" cy="89.5" r="2.35"/>
<circle class="b" cx="634.3" cy="165.7" r="2.35"/>
<circle class="b" cx="711.3" cy="137.3" r="2.35"/>
<circle class="b" cx="545.4" cy="80.0" r="2.35"/>
<circle class="o" cx="569.6" cy="85.9" r="2.35"/>
<circle class="b" cx="702.3" cy="185.8" r="2.35"/>
<circle class="o" cx="708.3" cy="141.0" r="2.35"/>
<circle class="o" cx="644.0" cy="134.2" r="2.35"/>
<circle class="o" cx="554.9" cy="62.8" r="2.35"/>
<circle class="o" cx="638.9" cy="137.8" r="2.35"/>
<circle class="o" cx="571.1" cy="104.6" r="2.35"/>
<circle class="o" cx="611.5" cy="104.6" r="2.35"/>
<circle class="b" cx="581.9" cy="117.6" r="2.35"/>
<circle class="o" cx="666.3" cy="173.1" r="2.35"/>
<circle class="b" cx="657.7" cy="187.0" r="2.35"/>
<circle class="o" cx="595.6" cy="107.5" r="2.35"/>
<circle class="b" cx="538.9" cy="121.2" r="2.35"/>
<circle class="o" cx="608.6" cy="123.4" r="2.35"/>
<circle class="o" cx="538.1" cy="98.1" r="2.35"/>
<circle class="b" cx="654.8" cy="192.7" r="2.35"/>
<circle class="o" cx="504.7" cy="48.8" r="2.35"/>
<circle class="o" cx="732.2" cy="182.5" r="2.35"/>
<circle class="b" cx="517.9" cy="80.8" r="2.35"/>
<circle class="b" cx="543.6" cy="125.6" r="2.35"/>
<circle class="o" cx="562.4" cy="106.1" r="2.35"/>
<circle class="b" cx="510.7" cy="98.9" r="2.35"/>
<circle class="o" cx="611.5" cy="117.6" r="2.35"/>
<circle class="b" cx="755.9" cy="205.5" r="2.35"/>
<circle class="o" cx="727.8" cy="183.1" r="2.35"/>
<circle class="b" cx="749.4" cy="194.0" r="2.35"/>
<circle class="b" cx="720.3" cy="211.9" r="2.35"/>
<circle class="b" cx="623.8" cy="165.3" r="2.35"/>
<circle class="b" cx="625.9" cy="170.4" r="2.35"/>
<circle class="o" cx="547.5" cy="109.0" r="2.35"/>
<circle class="b" cx="523.8" cy="86.9" r="2.35"/>
<circle class="o" cx="565.6" cy="103.5" r="2.35"/>
<circle class="o" cx="718.8" cy="156.7" r="2.35"/>
<circle class="b" cx="678.4" cy="178.3" r="2.35"/>
<circle class="b" cx="577.6" cy="69.7" r="2.35"/>
<circle class="b" cx="733.7" cy="217.2" r="2.35"/>
<circle class="b" cx="717.3" cy="187.3" r="2.35"/>
<circle class="o" cx="470.3" cy="102.2" r="2.35"/>
<circle class="b" cx="739.7" cy="234.4" r="2.35"/>
<circle class="o" cx="515.1" cy="88.7" r="2.35"/>
<circle class="o" cx="699.1" cy="135.1" r="2.35"/>
<circle class="b" cx="660.5" cy="188.8" r="2.35"/>
<circle class="b" cx="738.2" cy="215.7" r="2.35"/>
<circle class="o" cx="520.8" cy="76.5" r="2.35"/>
<circle class="b" cx="644.7" cy="169.6" r="2.35"/>
<circle class="b" cx="688.9" cy="180.6" r="2.35"/>
<circle class="o" cx="523.0" cy="82.2" r="2.35"/>
<circle class="b" cx="751.7" cy="233.6" r="2.35"/>
<circle class="o" cx="700.8" cy="181.3" r="2.35"/>
<circle class="b" cx="528.3" cy="137.5" r="2.35"/>
<circle class="o" cx="682.2" cy="154.4" r="2.35"/>
<circle class="b" cx="737.5" cy="195.5" r="2.35"/>
<circle class="o" cx="593.5" cy="90.9" r="2.35"/>
<circle class="b" cx="662.0" cy="176.8" r="2.35"/>
<circle class="o" cx="572.5" cy="101.0" r="2.35"/>
<circle class="b" cx="598.4" cy="130.8" r="2.35"/>
<circle class="b" cx="498.5" cy="122.7" r="2.35"/>
<circle class="o" cx="546.1" cy="30.3" r="2.35"/>
<circle class="o" cx="657.7" cy="141.9" r="2.35"/>
<circle class="b" cx="740.9" cy="202.2" r="2.35"/>
<circle class="b" cx="703.8" cy="205.2" r="2.35"/>
<circle class="b" cx="586.2" cy="105.3" r="2.35"/>
<circle class="o" cx="546.1" cy="114.7" r="2.35"/>
<circle class="b" cx="631.7" cy="160.3" r="2.35"/>
<circle class="b" cx="552.3" cy="54.8" r="2.35"/>
<circle class="o" cx="563.9" cy="90.9" r="2.35"/>
<circle class="b" cx="607.2" cy="136.4" r="2.35"/>
<circle class="o" cx="518.7" cy="78.6" r="2.35"/>
<circle class="b" cx="742.7" cy="233.6" r="2.35"/>
<circle class="o" cx="624.5" cy="145.1" r="2.35"/>
<circle class="b" cx="717.3" cy="204.0" r="2.35"/>
<circle class="b" cx="703.8" cy="157.4" r="2.35"/>
<circle class="b" cx="747.2" cy="234.4" r="2.35"/>
<circle class="o" cx="581.9" cy="112.6" r="2.35"/>
<circle class="b" cx="552.3" cy="137.8" r="2.35"/>
<circle class="o" cx="637.5" cy="147.3" r="2.35"/>
<circle class="o" cx="675.4" cy="140.2" r="2.35"/>
<circle class="b" cx="519.1" cy="96.7" r="2.35"/>
<circle class="o" cx="558.1" cy="79.4" r="2.35"/>
<circle class="o" cx="511.9" cy="117.3" r="2.35"/>
<circle class="o" cx="615.8" cy="137.8" r="2.35"/>
<circle class="b" cx="608.6" cy="133.5" r="2.35"/>
<circle class="b" cx="696.4" cy="167.9" r="2.35"/>
<circle class="b" cx="532.4" cy="119.1" r="2.35"/>
<circle class="b" cx="591.1" cy="123.2" r="2.35"/>
<circle class="o" cx="605.7" cy="109.0" r="2.35"/>
<circle class="o" cx="562.1" cy="81.2" r="2.35"/>
<circle class="b" cx="483.6" cy="109.2" r="2.35"/>
<circle class="o" cx="619.7" cy="141.7" r="2.35"/>
<circle class="b" cx="689.6" cy="161.1" r="2.35"/>
<circle class="o" cx="643.3" cy="163.9" r="2.35"/>
<circle class="b" cx="516.5" cy="75.5" r="2.35"/>
<circle class="o" cx="500.6" cy="91.6" r="2.35"/>
<circle class="b" cx="515.1" cy="135.7" r="2.35"/>
<circle class="o" cx="640.4" cy="155.2" r="2.35"/>
<circle class="o" cx="670.9" cy="151.4" r="2.35"/>
<circle class="b" cx="643.3" cy="173.2" r="2.35"/>
<circle class="b" cx="629.5" cy="169.6" r="2.35"/>
<circle class="b" cx="581.9" cy="148.3" r="2.35"/>
<circle class="b" cx="577.8" cy="119.7" r="2.35"/>
<circle class="o" cx="603.6" cy="114.7" r="2.35"/>
<circle class="b" cx="646.1" cy="184.8" r="2.35"/>
<circle class="o" cx="599.4" cy="109.4" r="2.35"/>
<circle class="b" cx="540.3" cy="141.1" r="2.35"/>
<circle class="b" cx="753.2" cy="250.0" r="2.35"/>
<circle class="b" cx="619.4" cy="150.7" r="2.35"/>
<circle class="o" cx="541.0" cy="85.9" r="2.35"/>
<circle class="b" cx="562.4" cy="126.3" r="2.35"/>
<circle class="o" cx="532.4" cy="101.7" r="2.35"/>
<circle class="o" cx="703.8" cy="163.4" r="2.35"/>
<circle class="b" cx="576.1" cy="90.9" r="2.35"/>
<circle class="b" cx="744.2" cy="228.4" r="2.35"/>
<circle class="o" cx="694.4" cy="185.4" r="2.35"/>
<circle class="o" cx="687.4" cy="150.7" r="2.35"/>
<circle class="o" cx="576.9" cy="81.5" r="2.35"/>
<circle class="b" cx="579.0" cy="117.6" r="2.35"/>
<circle class="o" cx="562.3" cy="99.6" r="2.35"/>
<circle class="b" cx="752.9" cy="239.6" r="2.35"/>
<circle class="b" cx="608.6" cy="146.3" r="2.35"/>
<circle class="b" cx="712.8" cy="205.2" r="2.35"/>
<circle class="o" cx="631.7" cy="132.1" r="2.35"/>
<circle class="b" cx="587.7" cy="138.6" r="2.35"/>
<circle class="b" cx="537.4" cy="149.9" r="2.35"/>
<circle class="b" cx="720.3" cy="228.4" r="2.35"/>
<circle class="b" cx="694.1" cy="163.4" r="2.35"/>
<circle class="o" cx="559.5" cy="110.4" r="2.35"/>
<circle class="b" cx="506.1" cy="139.0" r="2.35"/>
<circle class="o" cx="682.9" cy="158.9" r="2.35"/>
<circle class="b" cx="464.5" cy="141.1" r="2.35"/>
<circle class="o" cx="621.6" cy="140.8" r="2.35"/>
<circle class="b" cx="547.5" cy="78.6" r="2.35"/>
<circle class="o" cx="715.8" cy="167.1" r="2.35"/>
<circle class="b" cx="739.7" cy="239.6" r="2.35"/>
<circle class="o" cx="572.1" cy="85.4" r="2.35"/>
<circle class="o" cx="566.8" cy="73.6" r="2.35"/>
<circle class="b" cx="655.5" cy="184.8" r="2.35"/>
<circle class="b" cx="466.0" cy="87.3" r="2.35"/>
<circle class="b" cx="717.3" cy="147.3" r="2.35"/>
<circle class="b" cx="702.3" cy="170.1" r="2.35"/>
<circle class="b" cx="708.3" cy="175.3" r="2.35"/>
<circle class="b" cx="681.4" cy="173.8" r="2.35"/>
<circle class="o" cx="654.8" cy="164.6" r="2.35"/>
<circle class="b" cx="666.5" cy="178.3" r="2.35"/>
<circle class="b" cx="517.2" cy="135.7" r="2.35"/>
<circle class="o" cx="457.0" cy="94.2" r="2.35"/>
<circle class="o" cx="541.9" cy="65.9" r="2.35"/>
<circle class="b" cx="551.6" cy="84.4" r="2.35"/>
<circle class="b" cx="494.1" cy="116.2" r="2.35"/>
<circle class="b" cx="641.5" cy="188.4" r="2.35"/>
<circle class="o" cx="507.8" cy="101.0" r="2.35"/>
<circle class="o" cx="607.2" cy="125.6" r="2.35"/>
<circle class="b" cx="550.9" cy="139.6" r="2.35"/>
<circle class="b" cx="752.9" cy="241.4" r="2.35"/>
<circle class="o" cx="628.1" cy="146.5" r="2.35"/>
<circle class="b" cx="739.7" cy="211.2" r="2.35"/>
<circle class="b" cx="732.2" cy="220.9" r="2.35"/>
<circle class="b" cx="577.0" cy="91.5" r="2.35"/>
<circle class="b" cx="709.8" cy="178.3" r="2.35"/>
<circle class="o" cx="511.8" cy="83.9" r="2.35"/>
<circle class="o" cx="552.3" cy="100.3" r="2.35"/>
<circle class="o" cx="654.8" cy="161.0" r="2.35"/>
<circle class="b" cx="513.6" cy="107.5" r="2.35"/>
<circle class="b" cx="726.3" cy="159.7" r="2.35"/>
<circle class="o" cx="569.6" cy="72.9" r="2.35"/>
<circle class="b" cx="585.5" cy="137.8" r="2.35"/>
<circle class="b" cx="670.9" cy="172.4" r="2.35"/>
<circle class="b" cx="636.0" cy="167.5" r="2.35"/>
<circle class="o" cx="573.7" cy="106.9" r="2.35"/>
<circle class="b" cx="615.8" cy="165.3" r="2.35"/>
<circle class="b" cx="587.0" cy="125.6" r="2.35"/>
<circle class="b" cx="729.2" cy="233.3" r="2.35"/>
<circle class="b" cx="601.4" cy="124.8" r="2.35"/>
<circle class="b" cx="597.1" cy="132.8" r="2.35"/>
<circle class="b" cx="591.3" cy="133.5" r="2.35"/>
<circle class="b" cx="613.2" cy="176.6" r="2.35"/>
<circle class="o" cx="528.3" cy="110.1" r="2.35"/>
<circle class="b" cx="681.7" cy="220.5" r="2.35"/>
<circle class="o" cx="690.4" cy="146.2" r="2.35"/>
<circle class="o" cx="602.1" cy="108.2" r="2.35"/>
<rect x="440.5" y="19.2" width="330.6" height="241.6" fill="none" stroke="#666666" stroke-width="1.2"/>
<line x1="437.6" x2="440.5" y1="34.9" y2="34.9" stroke="#666666" stroke-width="0.9"/>
<g font-size="8.0" fill="#2a2a2a" stroke="#2a2a2a" stroke-width="0.3"><text transform="translate(420.87 37.55) scale(0.744 1.000)">0</text><text x="424.04" y="37.55">.</text><text transform="translate(427.90 37.55) scale(0.825 1.000)">1</text><text transform="translate(431.81 37.55) scale(0.751 1.000)">5</text></g>
<line x1="437.6" x2="440.5" y1="71.0" y2="71.0" stroke="#666666" stroke-width="0.9"/>
<g font-size="8.0" fill="#2a2a2a" stroke="#2a2a2a" stroke-width="0.3"><text transform="translate(420.87 73.70) scale(0.744 1.000)">0</text><text x="424.04" y="73.70">.</text><text transform="translate(427.90 73.70) scale(0.825 1.000)">1</text><text transform="translate(431.82 73.70) scale(0.744 1.000)">0</text></g>
<line x1="437.6" x2="440.5" y1="107.2" y2="107.2" stroke="#666666" stroke-width="0.9"/>
<g font-size="8.0" fill="#2a2a2a" stroke="#2a2a2a" stroke-width="0.3"><text transform="translate(420.87 109.85) scale(0.744 1.000)">0</text><text x="424.04" y="109.85">.</text><text transform="translate(428.17 109.85) scale(0.744 1.000)">0</text><text transform="translate(431.81 109.85) scale(0.751 1.000)">5</text></g>
<line x1="437.6" x2="440.5" y1="143.3" y2="143.3" stroke="#666666" stroke-width="0.9"/>
<g font-size="8.0" fill="#2a2a2a" stroke="#2a2a2a" stroke-width="0.3"><text transform="translate(420.87 146.00) scale(0.744 1.000)">0</text><text x="424.04" y="146.00">.</text><text transform="translate(428.17 146.00) scale(0.744 1.000)">0</text><text transform="translate(431.82 146.00) scale(0.744 1.000)">0</text></g>
<line x1="437.6" x2="440.5" y1="179.5" y2="179.5" stroke="#666666" stroke-width="0.9"/>
<g font-size="8.0" fill="#2a2a2a" stroke="#2a2a2a" stroke-width="0.3"><text transform="translate(417.16 182.15) scale(0.732 1.000)">−</text><text transform="translate(420.87 182.15) scale(0.744 1.000)">0</text><text x="424.04" y="182.15">.</text><text transform="translate(428.17 182.15) scale(0.744 1.000)">0</text><text transform="translate(431.81 182.15) scale(0.751 1.000)">5</text></g>
<line x1="437.6" x2="440.5" y1="215.6" y2="215.6" stroke="#666666" stroke-width="0.9"/>
<g font-size="8.0" fill="#2a2a2a" stroke="#2a2a2a" stroke-width="0.3"><text transform="translate(417.16 218.30) scale(0.732 1.000)">−</text><text transform="translate(420.87 218.30) scale(0.744 1.000)">0</text><text x="424.04" y="218.30">.</text><text transform="translate(427.90 218.30) scale(0.825 1.000)">1</text><text transform="translate(431.82 218.30) scale(0.744 1.000)">0</text></g>
<line x1="437.6" x2="440.5" y1="251.8" y2="251.8" stroke="#666666" stroke-width="0.9"/>
<g font-size="8.0" fill="#2a2a2a" stroke="#2a2a2a" stroke-width="0.3"><text transform="translate(417.16 254.45) scale(0.732 1.000)">−</text><text transform="translate(420.87 254.45) scale(0.744 1.000)">0</text><text x="424.04" y="254.45">.</text><text transform="translate(427.90 254.45) scale(0.825 1.000)">1</text><text transform="translate(431.81 254.45) scale(0.751 1.000)">5</text></g>
<line x1="454.2" x2="454.2" y1="260.8" y2="263.7" stroke="#666666" stroke-width="0.9"/>
<g font-size="8.0" fill="#2a2a2a" stroke="#2a2a2a" stroke-width="0.3"><text transform="translate(446.99 270.90) scale(0.781 1.000)">2</text><text transform="translate(450.71 270.90) scale(0.751 1.000)">5</text><text x="453.89" y="270.90">.</text><text transform="translate(458.02 270.90) scale(0.744 1.000)">0</text></g>
<line x1="491.3" x2="491.3" y1="260.8" y2="263.7" stroke="#666666" stroke-width="0.9"/>
<g font-size="8.0" fill="#2a2a2a" stroke="#2a2a2a" stroke-width="0.3"><text transform="translate(484.09 270.90) scale(0.781 1.000)">2</text><text transform="translate(487.73 270.90) scale(0.783 1.000)">7</text><text x="490.99" y="270.90">.</text><text transform="translate(495.11 270.90) scale(0.751 1.000)">5</text></g>
<line x1="528.4" x2="528.4" y1="260.8" y2="263.7" stroke="#666666" stroke-width="0.9"/>
<g font-size="8.0" fill="#2a2a2a" stroke="#2a2a2a" stroke-width="0.3"><text transform="translate(521.27 270.90) scale(0.751 1.000)">3</text><text transform="translate(524.92 270.90) scale(0.744 1.000)">0</text><text x="528.09" y="270.90">.</text><text transform="translate(532.22 270.90) scale(0.744 1.000)">0</text></g>
<line x1="565.5" x2="565.5" y1="260.8" y2="263.7" stroke="#666666" stroke-width="0.9"/>
<g font-size="8.0" fill="#2a2a2a" stroke="#2a2a2a" stroke-width="0.3"><text transform="translate(558.37 270.90) scale(0.751 1.000)">3</text><text transform="translate(561.94 270.90) scale(0.781 1.000)">2</text><text x="565.19" y="270.90">.</text><text transform="translate(569.31 270.90) scale(0.751 1.000)">5</text></g>
<line x1="602.6" x2="602.6" y1="260.8" y2="263.7" stroke="#666666" stroke-width="0.9"/>
<g font-size="8.0" fill="#2a2a2a" stroke="#2a2a2a" stroke-width="0.3"><text transform="translate(595.47 270.90) scale(0.751 1.000)">3</text><text transform="translate(599.11 270.90) scale(0.751 1.000)">5</text><text x="602.29" y="270.90">.</text><text transform="translate(606.42 270.90) scale(0.744 1.000)">0</text></g>
<line x1="639.7" x2="639.7" y1="260.8" y2="263.7" stroke="#666666" stroke-width="0.9"/>
<g font-size="8.0" fill="#2a2a2a" stroke="#2a2a2a" stroke-width="0.3"><text transform="translate(632.57 270.90) scale(0.751 1.000)">3</text><text transform="translate(636.13 270.90) scale(0.783 1.000)">7</text><text x="639.39" y="270.90">.</text><text transform="translate(643.51 270.90) scale(0.751 1.000)">5</text></g>
<line x1="676.8" x2="676.8" y1="260.8" y2="263.7" stroke="#666666" stroke-width="0.9"/>
<g font-size="8.0" fill="#2a2a2a" stroke="#2a2a2a" stroke-width="0.3"><text transform="translate(669.77 270.90) scale(0.706 1.000)">4</text><text transform="translate(673.32 270.90) scale(0.744 1.000)">0</text><text x="676.49" y="270.90">.</text><text transform="translate(680.62 270.90) scale(0.744 1.000)">0</text></g>
<line x1="713.9" x2="713.9" y1="260.8" y2="263.7" stroke="#666666" stroke-width="0.9"/>
<g font-size="8.0" fill="#2a2a2a" stroke="#2a2a2a" stroke-width="0.3"><text transform="translate(706.87 270.90) scale(0.706 1.000)">4</text><text transform="translate(710.34 270.90) scale(0.781 1.000)">2</text><text x="713.59" y="270.90">.</text><text transform="translate(717.71 270.90) scale(0.751 1.000)">5</text></g>
<line x1="751.0" x2="751.0" y1="260.8" y2="263.7" stroke="#666666" stroke-width="0.9"/>
<g font-size="8.0" fill="#2a2a2a" stroke="#2a2a2a" stroke-width="0.3"><text transform="translate(743.97 270.90) scale(0.706 1.000)">4</text><text transform="translate(747.51 270.90) scale(0.751 1.000)">5</text><text x="750.69" y="270.90">.</text><text transform="translate(754.82 270.90) scale(0.744 1.000)">0</text></g>
<g font-size="9.4" fill="#000000" stroke="#000000" stroke-width="0.4"><text transform="translate(587.85 282.30) scale(0.751 1.100)">A</text><text x="594.35" y="282.30">l</text><text x="597.88" y="282.30">b</text><text x="603.19" y="282.30">u</text><text transform="translate(608.22 282.30) scale(0.711 1.000)">m</text><text x="615.16" y="282.30">i</text><text x="618.78" y="282.30">n</text></g>
<g transform="rotate(-90 412.8 140.0)"><g font-size="9.4" fill="#000000" stroke="#000000" stroke-width="0.4"><text transform="translate(355.49 140.00) scale(0.865 1.100)">S</text><text transform="translate(360.37 140.00) scale(0.891 1.100)">H</text><text transform="translate(366.25 140.00) scale(0.751 1.100)">A</text><text transform="translate(370.74 140.00) scale(0.935 1.100)">P</text><text transform="translate(381.83 140.00) scale(0.756 1.100)">V</text><text transform="translate(386.67 140.00) scale(0.969 1.000)">a</text><text x="393.55" y="140.00">l</text><text x="397.19" y="140.00">u</text><text x="402.40" y="140.00">e</text><text x="414.02" y="140.00">f</text><text x="417.99" y="140.00">o</text><text x="424.00" y="140.00">r</text><text transform="translate(433.85 140.00) scale(0.751 1.100)">A</text><text x="440.35" y="140.00">l</text><text x="443.88" y="140.00">b</text><text x="449.19" y="140.00">u</text><text transform="translate(454.22 140.00) scale(0.711 1.000)">m</text><text x="461.16" y="140.00">i</text><text x="464.78" y="140.00">n</text></g></g>
<rect x="702.0" y="23.3" width="65.0" height="31.2" rx="1.5" fill="#fff" fill-opacity="0.8" stroke="#d6d6d6" stroke-width="0.8"/>
<g font-size="7.5" fill="#151515" font-weight="bold" stroke="#151515" stroke-width="0.1"><text x="705.89" y="31.10">I</text><text x="709.28" y="31.10">f</text><text transform="translate(716.09 31.10) scale(0.674 1.000)">C</text><text transform="translate(719.90 31.10) scale(0.748 1.000)">T</text><text transform="translate(723.24 31.10) scale(0.778 1.000)">P</text><text transform="translate(727.18 31.10) scale(0.656 1.000)">A</text><text transform="translate(734.25 31.10) scale(0.778 1.000)">P</text><text transform="translate(738.07 31.10) scale(0.827 1.000)">o</text><text transform="translate(741.74 31.10) scale(0.918 1.000)">s</text><text x="746.27" y="31.10">i</text><text x="749.73" y="31.10">t</text><text x="753.61" y="31.10">i</text><text transform="translate(756.64 31.10) scale(0.804 1.000)">v</text><text transform="translate(760.07 31.10) scale(0.912 1.000)">e</text></g>
<circle cx="716.5" cy="38.9" r="2.45" fill="#1c74b0"/>
<circle cx="716.5" cy="48.6" r="2.45" fill="#f07c14"/>
<g font-size="7.5" fill="#151515" font-weight="bold" stroke="#151515" stroke-width="0.1"><text transform="translate(730.61 41.10) scale(0.749 1.000)">N</text><text transform="translate(734.39 41.10) scale(0.912 1.000)">e</text><text transform="translate(738.05 41.10) scale(0.876 1.000)">g</text><text transform="translate(741.81 41.10) scale(0.826 1.000)">a</text><text x="746.07" y="41.10">t</text><text x="749.95" y="41.10">i</text><text transform="translate(752.98 41.10) scale(0.804 1.000)">v</text><text transform="translate(756.41 41.10) scale(0.912 1.000)">e</text></g>
<g font-size="7.5" fill="#151515" font-weight="bold" stroke="#151515" stroke-width="0.1"><text transform="translate(730.59 50.80) scale(0.778 1.000)">P</text><text transform="translate(734.41 50.80) scale(0.827 1.000)">o</text><text transform="translate(738.08 50.80) scale(0.918 1.000)">s</text><text x="742.61" y="50.80">i</text><text x="746.07" y="50.80">t</text><text x="749.95" y="50.80">i</text><text transform="translate(752.98 50.80) scale(0.804 1.000)">v</text><text transform="translate(756.41 50.80) scale(0.912 1.000)">e</text></g>
<line x1="40.4" x2="372.2" y1="404.1" y2="404.1" stroke="#e01e22" stroke-width="1.35"/>
<circle class="b" cx="351.7" cy="400.0" r="2.35"/>
<circle class="o" cx="171.1" cy="389.0" r="2.35"/>
<circle class="o" cx="230.3" cy="359.0" r="2.35"/>
<circle class="b" cx="176.1" cy="407.3" r="2.35"/>
<circle class="b" cx="213.7" cy="370.5" r="2.35"/>
<circle class="o" cx="236.8" cy="355.4" r="2.35"/>
<circle class="o" cx="156.7" cy="413.8" r="2.35"/>
<circle class="o" cx="72.9" cy="450.0" r="2.35"/>
<circle class="o" cx="62.4" cy="428.0" r="2.35"/>
<circle class="b" cx="153.8" cy="440.6" r="2.35"/>
<circle class="o" cx="208.6" cy="377.8" r="2.35"/>
<circle class="o" cx="211.5" cy="385.0" r="2.35"/>
<circle class="b" cx="120.8" cy="455.0" r="2.35"/>
<circle class="b" cx="124.4" cy="488.2" r="2.35"/>
<circle class="b" cx="305.0" cy="424.7" r="2.35"/>
<circle class="b" cx="97.0" cy="474.5" r="2.35"/>
<circle class="b" cx="152.7" cy="464.5" r="2.35"/>
<circle class="o" cx="63.8" cy="460.4" r="2.35"/>
<circle class="b" cx="126.6" cy="439.8" r="2.35"/>
<circle class="b" cx="149.7" cy="438.4" r="2.35"/>
<circle class="b" cx="296.1" cy="356.2" r="2.35"/>
<circle class="o" cx="213.7" cy="345.7" r="2.35"/>
<circle class="b" cx="141.0" cy="490.4" r="2.35"/>
<circle class="o" cx="318.0" cy="368.1" r="2.35"/>
<circle class="o" cx="306.8" cy="380.6" r="2.35"/>
<circle class="o" cx="202.1" cy="390.0" r="2.35"/>
<circle class="b" cx="180.5" cy="404.5" r="2.35"/>
<circle class="b" cx="157.9" cy="452.7" r="2.35"/>
<circle class="b" cx="263.5" cy="409.7" r="2.35"/>
<circle class="o" cx="293.4" cy="370.1" r="2.35"/>
<circle class="o" cx="253.4" cy="338.8" r="2.35"/>
<circle class="o" cx="74.6" cy="424.0" r="2.35"/>
<circle class="o" cx="191.3" cy="377.8" r="2.35"/>
<circle class="o" cx="160.3" cy="400.1" r="2.35"/>
<circle class="b" cx="284.4" cy="384.3" r="2.35"/>
<circle class="b" cx="79.7" cy="501.2" r="2.35"/>
<circle class="o" cx="202.8" cy="359.0" r="2.35"/>
<circle class="b" cx="77.8" cy="469.5" r="2.35"/>
<circle class="o" cx="240.4" cy="369.8" r="2.35"/>
<circle class="b" cx="132.4" cy="463.0" r="2.35"/>
<circle class="o" cx="262.0" cy="352.1" r="2.35"/>
<circle class="o" cx="102.1" cy="424.0" r="2.35"/>
<circle class="b" cx="78.2" cy="498.8" r="2.35"/>
<circle class="o" cx="344.2" cy="372.0" r="2.35"/>
<circle class="b" cx="318.8" cy="392.5" r="2.35"/>
<circle class="o" cx="238.9" cy="360.4" r="2.35"/>
<circle class="o" cx="279.2" cy="355.9" r="2.35"/>
<circle class="b" cx="104.2" cy="460.1" r="2.35"/>
<circle class="o" cx="94.8" cy="447.8" r="2.35"/>
<circle class="b" cx="191.3" cy="407.3" r="2.35"/>
<circle class="b" cx="303.8" cy="385.8" r="2.35"/>
<circle class="o" cx="114.0" cy="436.7" r="2.35"/>
<circle class="b" cx="98.5" cy="481.7" r="2.35"/>
<circle class="b" cx="194.2" cy="410.2" r="2.35"/>
<circle class="o" cx="100.6" cy="431.2" r="2.35"/>
<circle class="o" cx="86.9" cy="442.5" r="2.35"/>
<circle class="b" cx="78.7" cy="516.1" r="2.35"/>
<circle class="b" cx="231.7" cy="377.8" r="2.35"/>
<circle class="b" cx="270.9" cy="377.6" r="2.35"/>
<circle class="b" cx="182.6" cy="416.0" r="2.35"/>
<circle class="b" cx="92.0" cy="473.8" r="2.35"/>
<circle class="b" cx="149.7" cy="463.0" r="2.35"/>
<circle class="b" cx="303.5" cy="372.6" r="2.35"/>
<circle class="o" cx="218.7" cy="361.9" r="2.35"/>
<circle class="o" cx="83.3" cy="426.8" r="2.35"/>
<circle class="o" cx="227.4" cy="363.3" r="2.35"/>
<circle class="b" cx="169.6" cy="443.5" r="2.35"/>
<circle class="o" cx="345.7" cy="387.3" r="2.35"/>
<circle class="b" cx="133.6" cy="436.5" r="2.35"/>
<circle class="b" cx="128.3" cy="492.6" r="2.35"/>
<circle class="b" cx="211.5" cy="397.2" r="2.35"/>
<circle class="o" cx="143.9" cy="431.2" r="2.35"/>
<circle class="o" cx="184.1" cy="385.0" r="2.35"/>
<circle class="b" cx="165.4" cy="434.0" r="2.35"/>
<circle class="b" cx="254.1" cy="361.1" r="2.35"/>
<circle class="b" cx="201.4" cy="385.7" r="2.35"/>
<circle class="b" cx="135.0" cy="503.4" r="2.35"/>
<circle class="o" cx="66.7" cy="414.9" r="2.35"/>
<circle class="b" cx="113.6" cy="436.9" r="2.35"/>
<circle class="o" cx="243.3" cy="361.9" r="2.35"/>
<circle class="o" cx="303.8" cy="368.6" r="2.35"/>
<circle class="b" cx="158.1" cy="455.0" r="2.35"/>
<circle class="o" cx="113.6" cy="467.3" r="2.35"/>
<circle class="b" cx="209.3" cy="357.2" r="2.35"/>
<circle class="o" cx="68.1" cy="442.1" r="2.35"/>
<circle class="b" cx="187.0" cy="415.3" r="2.35"/>
<circle class="b" cx="323.0" cy="433.6" r="2.35"/>
<circle class="o" cx="287.4" cy="364.1" r="2.35"/>
<circle class="b" cx="269.2" cy="413.0" r="2.35"/>
<circle class="b" cx="102.4" cy="553.3" r="2.35"/>
<circle class="b" cx="275.4" cy="388.8" r="2.35"/>
<circle class="b" cx="195.6" cy="413.8" r="2.35"/>
<circle class="o" cx="332.5" cy="393.3" r="2.35"/>
<circle class="b" cx="59.5" cy="489.7" r="2.35"/>
<circle class="o" cx="259.3" cy="332.7" r="2.35"/>
<circle class="b" cx="223.1" cy="380.6" r="2.35"/>
<circle class="b" cx="143.9" cy="455.8" r="2.35"/>
<circle class="b" cx="161.0" cy="435.2" r="2.35"/>
<circle class="o" cx="238.2" cy="342.4" r="2.35"/>
<circle class="b" cx="237.5" cy="380.6" r="2.35"/>
<circle class="b" cx="109.3" cy="431.2" r="2.35"/>
<circle class="b" cx="65.3" cy="482.5" r="2.35"/>
<circle class="o" cx="115.1" cy="444.9" r="2.35"/>
<circle class="b" cx="141.0" cy="444.2" r="2.35"/>
<circle class="b" cx="168.9" cy="448.5" r="2.35"/>
<circle class="b" cx="113.6" cy="476.0" r="2.35"/>
<circle class="o" cx="302.3" cy="358.1" r="2.35"/>
<circle class="o" cx="183.0" cy="386.9" r="2.35"/>
<circle class="b" cx="60.5" cy="482.9" r="2.35"/>
<circle class="b" cx="334.5" cy="415.7" r="2.35"/>
<circle class="b" cx="182.6" cy="400.1" r="2.35"/>
<circle class="b" cx="185.5" cy="402.3" r="2.35"/>
<circle class="b" cx="130.2" cy="499.8" r="2.35"/>
<circle class="b" cx="294.1" cy="388.0" r="2.35"/>
<circle class="o" cx="66.7" cy="436.2" r="2.35"/>
<circle class="o" cx="135.3" cy="415.3" r="2.35"/>
<circle class="o" cx="283.7" cy="366.3" r="2.35"/>
<circle class="b" cx="243.3" cy="374.1" r="2.35"/>
<circle class="b" cx="166.8" cy="431.2" r="2.35"/>
<circle class="o" cx="290.4" cy="387.3" r="2.35"/>
<circle class="b" cx="294.1" cy="391.0" r="2.35"/>
<circle class="b" cx="110.7" cy="443.5" r="2.35"/>
<circle class="b" cx="71.8" cy="483.9" r="2.35"/>
<circle class="b" cx="153.8" cy="436.9" r="2.35"/>
<circle class="o" cx="97.7" cy="424.0" r="2.35"/>
<circle class="b" cx="276.2" cy="383.5" r="2.35"/>
<circle class="o" cx="263.5" cy="346.2" r="2.35"/>
<circle class="o" cx="325.5" cy="367.8" r="2.35"/>
<circle class="b" cx="254.8" cy="372.7" r="2.35"/>
<circle class="o" cx="223.8" cy="363.3" r="2.35"/>
<circle class="b" cx="303.8" cy="379.1" r="2.35"/>
<circle class="o" cx="275.4" cy="361.9" r="2.35"/>
<circle class="b" cx="113.6" cy="471.6" r="2.35"/>
<circle class="b" cx="305.3" cy="389.5" r="2.35"/>
<circle class="o" cx="79.0" cy="442.8" r="2.35"/>
<circle class="o" cx="84.0" cy="424.0" r="2.35"/>
<circle class="b" cx="69.6" cy="469.0" r="2.35"/>
<circle class="o" cx="174.7" cy="395.1" r="2.35"/>
<circle class="b" cx="59.5" cy="469.5" r="2.35"/>
<circle class="b" cx="172.5" cy="415.3" r="2.35"/>
<circle class="o" cx="146.8" cy="435.5" r="2.35"/>
<circle class="b" cx="235.0" cy="411.4" r="2.35"/>
<circle class="o" cx="347.9" cy="360.7" r="2.35"/>
<circle class="o" cx="306.8" cy="392.5" r="2.35"/>
<circle class="b" cx="309.8" cy="390.3" r="2.35"/>
<circle class="b" cx="354.7" cy="403.7" r="2.35"/>
<circle class="o" cx="220.2" cy="344.8" r="2.35"/>
<circle class="b" cx="147.5" cy="422.5" r="2.35"/>
<circle class="b" cx="251.9" cy="380.6" r="2.35"/>
<circle class="b" cx="151.6" cy="470.9" r="2.35"/>
<circle class="o" cx="275.4" cy="345.4" r="2.35"/>
<circle class="o" cx="115.8" cy="431.2" r="2.35"/>
<circle class="b" cx="172.5" cy="431.2" r="2.35"/>
<circle class="b" cx="354.7" cy="409.7" r="2.35"/>
<circle class="b" cx="339.7" cy="403.7" r="2.35"/>
<circle class="o" cx="126.6" cy="435.5" r="2.35"/>
<circle class="o" cx="306.5" cy="364.4" r="2.35"/>
<circle class="b" cx="150.2" cy="469.5" r="2.35"/>
<circle class="o" cx="270.9" cy="373.1" r="2.35"/>
<circle class="b" cx="174.8" cy="405.0" r="2.35"/>
<circle class="b" cx="64.5" cy="491.8" r="2.35"/>
<circle class="b" cx="169.6" cy="423.2" r="2.35"/>
<circle class="b" cx="266.5" cy="379.8" r="2.35"/>
<circle class="b" cx="125.2" cy="465.9" r="2.35"/>
<circle class="o" cx="94.1" cy="433.3" r="2.35"/>
<circle class="o" cx="94.8" cy="420.3" r="2.35"/>
<circle class="o" cx="205.7" cy="363.3" r="2.35"/>
<circle class="b" cx="154.8" cy="461.9" r="2.35"/>
<circle class="o" cx="194.2" cy="370.5" r="2.35"/>
<circle class="o" cx="226.7" cy="360.4" r="2.35"/>
<circle class="b" cx="277.9" cy="390.7" r="2.35"/>
<circle class="o" cx="265.7" cy="340.9" r="2.35"/>
<circle class="o" cx="222.3" cy="348.9" r="2.35"/>
<circle class="b" cx="96.3" cy="467.3" r="2.35"/>
<circle class="b" cx="342.0" cy="412.7" r="2.35"/>
<circle class="b" cx="63.8" cy="455.5" r="2.35"/>
<circle class="b" cx="231.0" cy="397.2" r="2.35"/>
<circle class="o" cx="71.8" cy="464.1" r="2.35"/>
<circle class="o" cx="81.1" cy="472.8" r="2.35"/>
<circle class="b" cx="133.3" cy="450.3" r="2.35"/>
<circle class="b" cx="338.2" cy="399.2" r="2.35"/>
<circle class="o" cx="342.4" cy="365.6" r="2.35"/>
<circle class="b" cx="348.7" cy="418.7" r="2.35"/>
<circle class="o" cx="242.5" cy="350.3" r="2.35"/>
<circle class="b" cx="344.2" cy="414.2" r="2.35"/>
<circle class="o" cx="291.9" cy="361.1" r="2.35"/>
<circle class="b" cx="146.8" cy="433.3" r="2.35"/>
<circle class="b" cx="297.9" cy="385.8" r="2.35"/>
<circle class="b" cx="90.5" cy="471.6" r="2.35"/>
<circle class="b" cx="260.3" cy="380.2" r="2.35"/>
<circle class="o" cx="119.4" cy="428.3" r="2.35"/>
<circle class="b" cx="342.7" cy="405.2" r="2.35"/>
<circle class="b" cx="257.7" cy="403.0" r="2.35"/>
<circle class="o" cx="266.5" cy="349.9" r="2.35"/>
<circle class="o" cx="290.4" cy="352.6" r="2.35"/>
<circle class="o" cx="174.0" cy="375.6" r="2.35"/>
<circle class="o" cx="312.8" cy="379.1" r="2.35"/>
<circle class="b" cx="282.9" cy="380.6" r="2.35"/>
<circle class="b" cx="311.6" cy="372.0" r="2.35"/>
<circle class="b" cx="277.7" cy="372.3" r="2.35"/>
<circle class="b" cx="126.6" cy="470.9" r="2.35"/>
<circle class="b" cx="173.3" cy="434.8" r="2.35"/>
<circle class="o" cx="308.3" cy="379.8" r="2.35"/>
<circle class="b" cx="340.9" cy="398.7" r="2.35"/>
<circle class="b" cx="181.7" cy="410.8" r="2.35"/>
<circle class="b" cx="153.8" cy="463.7" r="2.35"/>
<circle class="o" cx="125.9" cy="420.3" r="2.35"/>
<circle class="o" cx="163.9" cy="424.0" r="2.35"/>
<circle class="b" cx="133.8" cy="445.7" r="2.35"/>
<circle class="o" cx="249.0" cy="359.0" r="2.35"/>
<circle class="o" cx="151.6" cy="447.8" r="2.35"/>
<circle class="b" cx="300.8" cy="376.8" r="2.35"/>
<circle class="b" cx="249.0" cy="385.7" r="2.35"/>
<circle class="b" cx="138.1" cy="439.8" r="2.35"/>
<circle class="b" cx="217.3" cy="374.1" r="2.35"/>
<circle class="o" cx="108.3" cy="475.7" r="2.35"/>
<circle class="b" cx="313.6" cy="391.0" r="2.35"/>
<circle class="b" cx="128.2" cy="435.4" r="2.35"/>
<circle class="b" cx="158.7" cy="461.2" r="2.35"/>
<circle class="o" cx="135.3" cy="432.6" r="2.35"/>
<circle class="o" cx="330.7" cy="403.0" r="2.35"/>
<circle class="o" cx="253.4" cy="374.9" r="2.35"/>
<circle class="b" cx="342.1" cy="410.6" r="2.35"/>
<circle class="o" cx="357.4" cy="370.2" r="2.35"/>
<circle class="b" cx="170.4" cy="426.8" r="2.35"/>
<circle class="o" cx="182.6" cy="378.5" r="2.35"/>
<circle class="o" cx="176.9" cy="379.2" r="2.35"/>
<circle class="o" cx="201.4" cy="369.1" r="2.35"/>
<circle class="o" cx="192.7" cy="386.4" r="2.35"/>
<circle class="o" cx="105.7" cy="429.0" r="2.35"/>
<circle class="b" cx="249.0" cy="402.0" r="2.35"/>
<circle class="o" cx="166.8" cy="407.3" r="2.35"/>
<circle class="b" cx="128.8" cy="496.2" r="2.35"/>
<circle class="b" cx="68.9" cy="483.9" r="2.35"/>
<circle class="o" cx="308.3" cy="363.4" r="2.35"/>
<circle class="b" cx="270.6" cy="362.6" r="2.35"/>
<circle class="b" cx="126.6" cy="487.5" r="2.35"/>
<circle class="b" cx="228.1" cy="379.2" r="2.35"/>
<circle class="b" cx="348.7" cy="415.7" r="2.35"/>
<circle class="b" cx="279.9" cy="390.3" r="2.35"/>
<circle class="o" cx="303.5" cy="351.4" r="2.35"/>
<circle class="o" cx="340.5" cy="417.2" r="2.35"/>
<circle class="o" cx="303.8" cy="361.9" r="2.35"/>
<circle class="b" cx="171.8" cy="425.4" r="2.35"/>
<circle class="b" cx="221.6" cy="368.1" r="2.35"/>
<circle class="b" cx="182.6" cy="413.1" r="2.35"/>
<circle class="b" cx="178.3" cy="412.4" r="2.35"/>
<circle class="b" cx="354.7" cy="380.6" r="2.35"/>
<circle class="o" cx="299.4" cy="363.4" r="2.35"/>
<circle class="o" cx="251.9" cy="350.3" r="2.35"/>
<circle class="o" cx="313.6" cy="354.7" r="2.35"/>
<circle class="b" cx="189.9" cy="403.0" r="2.35"/>
<circle class="o" cx="240.4" cy="375.6" r="2.35"/>
<circle class="o" cx="82.6" cy="437.7" r="2.35"/>
<circle class="b" cx="309.8" cy="385.5" r="2.35"/>
<circle class="o" cx="282.9" cy="358.9" r="2.35"/>
<circle class="o" cx="148.2" cy="411.0" r="2.35"/>
<circle class="o" cx="206.5" cy="349.6" r="2.35"/>
<circle class="b" cx="150.9" cy="445.7" r="2.35"/>
<circle class="o" cx="234.6" cy="353.9" r="2.35"/>
<circle class="b" cx="296.4" cy="377.6" r="2.35"/>
<circle class="b" cx="270.9" cy="388.0" r="2.35"/>
<circle class="b" cx="336.7" cy="439.6" r="2.35"/>
<circle class="o" cx="114.8" cy="407.3" r="2.35"/>
<circle class="b" cx="107.8" cy="441.3" r="2.35"/>
<circle class="b" cx="332.2" cy="409.7" r="2.35"/>
<circle class="b" cx="302.6" cy="380.9" r="2.35"/>
<circle class="o" cx="213.7" cy="351.0" r="2.35"/>
<circle class="b" cx="225.9" cy="376.3" r="2.35"/>
<circle class="o" cx="79.7" cy="480.3" r="2.35"/>
<circle class="b" cx="110.7" cy="439.1" r="2.35"/>
<circle class="b" cx="131.6" cy="472.4" r="2.35"/>
<circle class="o" cx="206.5" cy="382.1" r="2.35"/>
<circle class="b" cx="163.9" cy="456.5" r="2.35"/>
<circle class="o" cx="141.8" cy="403.0" r="2.35"/>
<circle class="o" cx="158.8" cy="418.9" r="2.35"/>
<circle class="o" cx="59.2" cy="435.3" r="2.35"/>
<circle class="b" cx="288.9" cy="358.1" r="2.35"/>
<circle class="b" cx="118.7" cy="515.6" r="2.35"/>
<circle class="b" cx="203.6" cy="363.3" r="2.35"/>
<circle class="o" cx="164.3" cy="425.9" r="2.35"/>
<circle class="o" cx="175.4" cy="382.1" r="2.35"/>
<circle class="b" cx="88.4" cy="449.7" r="2.35"/>
<circle class="o" cx="337.5" cy="405.2" r="2.35"/>
<circle class="o" cx="118.4" cy="434.0" r="2.35"/>
<circle class="b" cx="135.3" cy="450.7" r="2.35"/>
<circle class="b" cx="181.6" cy="429.0" r="2.35"/>
<circle class="o" cx="255.5" cy="352.5" r="2.35"/>
<circle class="o" cx="327.8" cy="370.1" r="2.35"/>
<circle class="b" cx="246.1" cy="389.3" r="2.35"/>
<circle class="b" cx="69.2" cy="514.5" r="2.35"/>
<circle class="b" cx="188.4" cy="418.9" r="2.35"/>
<circle class="o" cx="227.4" cy="370.5" r="2.35"/>
<circle class="o" cx="130.2" cy="419.6" r="2.35"/>
<circle class="b" cx="83.0" cy="504.5" r="2.35"/>
<circle class="b" cx="150.2" cy="462.3" r="2.35"/>
<circle class="o" cx="139.6" cy="438.4" r="2.35"/>
<circle class="o" cx="234.6" cy="358.3" r="2.35"/>
<circle class="b" cx="179.8" cy="409.5" r="2.35"/>
<circle class="o" cx="185.5" cy="387.9" r="2.35"/>
<circle class="b" cx="264.2" cy="388.0" r="2.35"/>
<circle class="b" cx="230.3" cy="390.7" r="2.35"/>
<circle class="b" cx="285.2" cy="383.2" r="2.35"/>
<circle class="o" cx="305.0" cy="381.6" r="2.35"/>
<circle class="o" cx="253.4" cy="358.3" r="2.35"/>
<circle class="b" cx="214.4" cy="389.3" r="2.35"/>
<circle class="o" cx="94.8" cy="429.7" r="2.35"/>
<circle class="b" cx="74.2" cy="490.1" r="2.35"/>
<circle class="b" cx="97.0" cy="488.2" r="2.35"/>
<circle class="b" cx="293.4" cy="384.3" r="2.35"/>
<circle class="o" cx="119.1" cy="463.3" r="2.35"/>
<circle class="b" cx="80.7" cy="519.0" r="2.35"/>
<circle class="b" cx="293.7" cy="415.1" r="2.35"/>
<circle class="o" cx="66.0" cy="425.4" r="2.35"/>
<circle class="b" cx="345.7" cy="403.0" r="2.35"/>
<circle class="b" cx="149.7" cy="480.3" r="2.35"/>
<circle class="b" cx="150.9" cy="439.8" r="2.35"/>
<circle class="b" cx="249.0" cy="378.5" r="2.35"/>
<circle class="b" cx="266.2" cy="401.5" r="2.35"/>
<circle class="b" cx="102.8" cy="452.6" r="2.35"/>
<circle class="b" cx="197.8" cy="394.4" r="2.35"/>
<circle class="b" cx="183.4" cy="383.5" r="2.35"/>
<circle class="o" cx="71.8" cy="415.3" r="2.35"/>
<circle class="o" cx="132.0" cy="441.2" r="2.35"/>
<circle class="o" cx="324.8" cy="377.6" r="2.35"/>
<circle class="b" cx="257.7" cy="385.0" r="2.35"/>
<circle class="o" cx="171.1" cy="393.6" r="2.35"/>
<circle class="b" cx="127.8" cy="518.8" r="2.35"/>
<circle class="b" cx="322.2" cy="439.6" r="2.35"/>
<circle class="b" cx="60.5" cy="512.0" r="2.35"/>
<circle class="b" cx="205.7" cy="374.9" r="2.35"/>
<circle class="o" cx="133.1" cy="453.2" r="2.35"/>
<circle class="b" cx="60.9" cy="495.4" r="2.35"/>
<circle class="o" cx="126.6" cy="410.2" r="2.35"/>
<circle class="b" cx="150.9" cy="458.6" r="2.35"/>
<circle class="b" cx="168.9" cy="454.3" r="2.35"/>
<circle class="b" cx="68.9" cy="491.1" r="2.35"/>
<circle class="o" cx="251.9" cy="363.3" r="2.35"/>
<circle class="b" cx="151.1" cy="460.9" r="2.35"/>
<circle class="o" cx="187.0" cy="379.9" r="2.35"/>
<circle class="o" cx="61.6" cy="433.3" r="2.35"/>
<circle class="o" cx="249.0" cy="370.5" r="2.35"/>
<circle class="o" cx="91.2" cy="435.5" r="2.35"/>
<circle class="o" cx="182.6" cy="375.7" r="2.35"/>
<circle class="b" cx="146.8" cy="450.0" r="2.35"/>
<circle class="b" cx="90.5" cy="451.4" r="2.35"/>
<circle class="o" cx="326.3" cy="375.3" r="2.35"/>
<circle class="b" cx="227.4" cy="386.4" r="2.35"/>
<circle class="b" cx="241.8" cy="385.7" r="2.35"/>
<circle class="b" cx="109.3" cy="506.0" r="2.35"/>
<circle class="b" cx="161.0" cy="457.2" r="2.35"/>
<circle class="o" cx="289.6" cy="369.3" r="2.35"/>
<circle class="o" cx="95.6" cy="450.7" r="2.35"/>
<circle class="b" cx="187.0" cy="409.5" r="2.35"/>
<circle class="o" cx="180.5" cy="374.9" r="2.35"/>
<circle class="o" cx="135.3" cy="435.5" r="2.35"/>
<circle class="b" cx="145.9" cy="456.7" r="2.35"/>
<circle class="b" cx="63.8" cy="464.1" r="2.35"/>
<circle class="o" cx="296.6" cy="363.6" r="2.35"/>
<circle class="o" cx="227.4" cy="365.5" r="2.35"/>
<circle class="b" cx="58.8" cy="505.5" r="2.35"/>
<circle class="o" cx="231.7" cy="346.0" r="2.35"/>
<circle class="o" cx="206.5" cy="343.4" r="2.35"/>
<circle class="o" cx="265.0" cy="371.6" r="2.35"/>
<circle class="b" cx="57.0" cy="506.3" r="2.35"/>
<circle class="o" cx="65.3" cy="429.7" r="2.35"/>
<circle class="o" cx="208.6" cy="361.9" r="2.35"/>
<circle class="o" cx="202.2" cy="368.3" r="2.35"/>
<circle class="o" cx="169.6" cy="431.2" r="2.35"/>
<circle class="b" cx="73.5" cy="455.0" r="2.35"/>
<circle class="o" cx="68.1" cy="423.2" r="2.35"/>
<circle class="b" cx="141.0" cy="484.6" r="2.35"/>
<circle class="o" cx="184.8" cy="374.1" r="2.35"/>
<circle class="b" cx="146.8" cy="481.7" r="2.35"/>
<circle class="b" cx="184.1" cy="406.6" r="2.35"/>
<circle class="b" cx="318.0" cy="423.9" r="2.35"/>
<circle class="o" cx="129.5" cy="434.1" r="2.35"/>
<circle class="o" cx="152.3" cy="416.7" r="2.35"/>
<circle class="b" cx="151.6" cy="450.7" r="2.35"/>
<circle class="b" cx="330.0" cy="394.8" r="2.35"/>
<circle class="b" cx="153.8" cy="460.1" r="2.35"/>
<circle class="o" cx="254.8" cy="366.2" r="2.35"/>
<circle class="b" cx="55.2" cy="449.3" r="2.35"/>
<circle class="b" cx="322.5" cy="401.5" r="2.35"/>
<circle class="b" cx="105.7" cy="463.7" r="2.35"/>
<circle class="o" cx="296.4" cy="368.6" r="2.35"/>
<circle class="o" cx="120.8" cy="432.6" r="2.35"/>
<circle class="o" cx="153.8" cy="412.4" r="2.35"/>
<circle class="b" cx="243.3" cy="396.5" r="2.35"/>
<circle class="b" cx="332.5" cy="457.2" r="2.35"/>
<circle class="o" cx="278.4" cy="351.4" r="2.35"/>
<circle class="o" cx="259.0" cy="357.4" r="2.35"/>
<circle class="o" cx="174.7" cy="372.7" r="2.35"/>
<circle class="b" cx="161.0" cy="460.1" r="2.35"/>
<circle class="o" cx="317.3" cy="386.5" r="2.35"/>
<circle class="o" cx="162.4" cy="434.1" r="2.35"/>
<circle class="b" cx="156.7" cy="452.2" r="2.35"/>
<circle class="o" cx="126.6" cy="414.6" r="2.35"/>
<circle class="b" cx="306.1" cy="395.5" r="2.35"/>
<circle class="o" cx="249.9" cy="364.6" r="2.35"/>
<circle class="o" cx="173.3" cy="391.5" r="2.35"/>
<circle class="b" cx="198.5" cy="386.4" r="2.35"/>
<circle class="o" cx="105.7" cy="405.2" r="2.35"/>
<circle class="o" cx="297.1" cy="382.0" r="2.35"/>
<circle class="o" cx="141.0" cy="415.3" r="2.35"/>
<circle class="b" cx="117.9" cy="460.1" r="2.35"/>
<circle class="o" cx="268.0" cy="364.9" r="2.35"/>
<circle class="o" cx="260.5" cy="369.3" r="2.35"/>
<circle class="b" cx="83.0" cy="446.4" r="2.35"/>
<circle class="b" cx="207.2" cy="393.6" r="2.35"/>
<circle class="b" cx="259.7" cy="351.4" r="2.35"/>
<circle class="o" cx="125.2" cy="460.1" r="2.35"/>
<circle class="b" cx="125.2" cy="435.5" r="2.35"/>
<circle class="b" cx="285.9" cy="377.6" r="2.35"/>
<circle class="o" cx="182.0" cy="386.1" r="2.35"/>
<circle class="o" cx="197.8" cy="359.0" r="2.35"/>
<circle class="o" cx="189.9" cy="373.4" r="2.35"/>
<circle class="o" cx="88.4" cy="432.6" r="2.35"/>
<circle class="o" cx="309.8" cy="355.9" r="2.35"/>
<circle class="b" cx="61.6" cy="498.8" r="2.35"/>
<circle class="b" cx="340.9" cy="403.3" r="2.35"/>
<circle class="b" cx="96.3" cy="426.6" r="2.35"/>
<circle class="o" cx="95.6" cy="472.4" r="2.35"/>
<circle class="b" cx="159.5" cy="463.0" r="2.35"/>
<circle class="o" cx="279.9" cy="376.1" r="2.35"/>
<circle class="o" cx="212.2" cy="377.0" r="2.35"/>
<circle class="b" cx="288.9" cy="378.3" r="2.35"/>
<circle class="b" cx="161.0" cy="451.4" r="2.35"/>
<circle class="o" cx="281.4" cy="393.3" r="2.35"/>
<circle class="b" cx="231.7" cy="388.6" r="2.35"/>
<circle class="b" cx="262.0" cy="379.1" r="2.35"/>
<circle class="o" cx="270.2" cy="353.6" r="2.35"/>
<circle class="b" cx="82.1" cy="487.5" r="2.35"/>
<circle class="b" cx="116.5" cy="447.8" r="2.35"/>
<circle class="o" cx="111.4" cy="389.6" r="2.35"/>
<circle class="b" cx="198.5" cy="408.8" r="2.35"/>
<circle class="o" cx="176.9" cy="386.4" r="2.35"/>
<circle class="b" cx="256.2" cy="389.3" r="2.35"/>
<circle class="b" cx="126.6" cy="444.2" r="2.35"/>
<circle class="b" cx="78.2" cy="494.0" r="2.35"/>
<circle class="o" cx="205.8" cy="360.0" r="2.35"/>
<circle class="b" cx="93.4" cy="455.0" r="2.35"/>
<circle class="o" cx="188.4" cy="382.1" r="2.35"/>
<circle class="o" cx="197.1" cy="367.6" r="2.35"/>
<circle class="o" cx="233.2" cy="370.5" r="2.35"/>
<circle class="b" cx="309.1" cy="377.6" r="2.35"/>
<circle class="o" cx="171.1" cy="410.2" r="2.35"/>
<circle class="o" cx="262.7" cy="359.6" r="2.35"/>
<circle class="b" cx="148.2" cy="442.8" r="2.35"/>
<circle class="b" cx="154.5" cy="466.6" r="2.35"/>
<circle class="b" cx="308.3" cy="365.6" r="2.35"/>
<circle class="b" cx="141.0" cy="480.3" r="2.35"/>
<circle class="o" cx="195.6" cy="361.9" r="2.35"/>
<circle class="o" cx="120.8" cy="422.5" r="2.35"/>
<circle class="o" cx="215.8" cy="363.3" r="2.35"/>
<circle class="b" cx="299.3" cy="378.8" r="2.35"/>
<circle class="b" cx="139.6" cy="475.2" r="2.35"/>
<circle class="b" cx="133.8" cy="468.0" r="2.35"/>
<circle class="o" cx="162.4" cy="410.2" r="2.35"/>
<circle class="b" cx="133.1" cy="439.1" r="2.35"/>
<circle class="b" cx="192.7" cy="390.7" r="2.35"/>
<circle class="b" cx="147.8" cy="439.6" r="2.35"/>
<circle class="b" cx="94.8" cy="486.8" r="2.35"/>
<circle class="b" cx="339.6" cy="401.5" r="2.35"/>
<circle class="o" cx="259.0" cy="346.9" r="2.35"/>
<circle class="o" cx="157.4" cy="409.5" r="2.35"/>
<circle class="o" cx="169.6" cy="403.0" r="2.35"/>
<circle class="b" cx="107.8" cy="481.0" r="2.35"/>
<circle class="b" cx="123.7" cy="478.8" r="2.35"/>
<circle class="o" cx="247.6" cy="351.8" r="2.35"/>
<circle class="o" cx="258.2" cy="335.7" r="2.35"/>
<circle class="b" cx="162.4" cy="446.4" r="2.35"/>
<circle class="o" cx="123.7" cy="429.7" r="2.35"/>
<circle class="b" cx="341.2" cy="398.5" r="2.35"/>
<circle class="o" cx="192.7" cy="383.5" r="2.35"/>
<circle class="b" cx="208.3" cy="390.0" r="2.35"/>
<circle class="b" cx="194.2" cy="401.6" r="2.35"/>
<circle class="b" cx="218.7" cy="382.1" r="2.35"/>
<circle class="o" cx="69.6" cy="444.9" r="2.35"/>
<circle class="o" cx="168.2" cy="399.1" r="2.35"/>
<circle class="b" cx="214.4" cy="379.2" r="2.35"/>
<circle class="o" cx="254.8" cy="346.7" r="2.35"/>
<circle class="o" cx="179.8" cy="383.5" r="2.35"/>
<circle class="o" cx="345.7" cy="348.1" r="2.35"/>
<circle class="o" cx="155.2" cy="423.2" r="2.35"/>
<circle class="b" cx="291.9" cy="379.1" r="2.35"/>
<circle class="b" cx="95.6" cy="457.9" r="2.35"/>
<circle class="b" cx="273.9" cy="381.3" r="2.35"/>
<circle class="o" cx="135.2" cy="429.2" r="2.35"/>
<circle class="b" cx="155.2" cy="495.4" r="2.35"/>
<circle class="o" cx="132.4" cy="430.4" r="2.35"/>
<circle class="o" cx="309.1" cy="343.6" r="2.35"/>
<circle class="b" cx="149.7" cy="470.2" r="2.35"/>
<circle class="b" cx="224.5" cy="384.2" r="2.35"/>
<circle class="b" cx="143.9" cy="439.8" r="2.35"/>
<circle class="b" cx="125.2" cy="501.9" r="2.35"/>
<circle class="o" cx="247.6" cy="364.8" r="2.35"/>
<circle class="b" cx="93.1" cy="480.3" r="2.35"/>
<circle class="b" cx="300.8" cy="397.4" r="2.35"/>
<circle class="o" cx="166.8" cy="432.6" r="2.35"/>
<circle class="b" cx="85.5" cy="458.4" r="2.35"/>
<circle class="o" cx="130.2" cy="443.1" r="2.35"/>
<circle class="o" cx="238.2" cy="340.2" r="2.35"/>
<circle class="b" cx="262.0" cy="371.6" r="2.35"/>
<circle class="b" cx="202.8" cy="397.2" r="2.35"/>
<circle class="o" cx="231.0" cy="383.5" r="2.35"/>
<circle class="b" cx="221.6" cy="373.7" r="2.35"/>
<circle class="o" cx="276.9" cy="364.9" r="2.35"/>
<circle class="o" cx="273.2" cy="342.4" r="2.35"/>
<circle class="b" cx="136.0" cy="460.1" r="2.35"/>
<circle class="b" cx="176.9" cy="400.9" r="2.35"/>
<circle class="b" cx="145.8" cy="437.9" r="2.35"/>
<circle class="o" cx="200.0" cy="379.2" r="2.35"/>
<circle class="b" cx="117.2" cy="435.5" r="2.35"/>
<circle class="b" cx="179.8" cy="384.2" r="2.35"/>
<circle class="o" cx="181.2" cy="389.3" r="2.35"/>
<circle class="o" cx="153.8" cy="421.1" r="2.35"/>
<circle class="o" cx="275.4" cy="348.4" r="2.35"/>
<circle class="o" cx="134.5" cy="440.6" r="2.35"/>
<circle class="b" cx="205.7" cy="387.9" r="2.35"/>
<circle class="b" cx="123.7" cy="461.5" r="2.35"/>
<circle class="b" cx="319.8" cy="419.0" r="2.35"/>
<circle class="o" cx="256.7" cy="360.5" r="2.35"/>
<circle class="b" cx="350.9" cy="410.5" r="2.35"/>
<circle class="b" cx="141.0" cy="469.5" r="2.35"/>
<circle class="o" cx="109.3" cy="425.4" r="2.35"/>
<circle class="b" cx="83.3" cy="483.9" r="2.35"/>
<circle class="o" cx="127.1" cy="432.2" r="2.35"/>
<circle class="o" cx="143.9" cy="436.9" r="2.35"/>
<circle class="o" cx="279.9" cy="363.4" r="2.35"/>
<circle class="b" cx="105.7" cy="483.9" r="2.35"/>
<circle class="o" cx="315.0" cy="337.9" r="2.35"/>
<circle class="b" cx="324.0" cy="399.2" r="2.35"/>
<circle class="b" cx="120.8" cy="458.6" r="2.35"/>
<circle class="o" cx="256.8" cy="350.7" r="2.35"/>
<circle class="o" cx="178.3" cy="395.1" r="2.35"/>
<circle class="b" cx="344.9" cy="422.0" r="2.35"/>
<circle class="b" cx="74.2" cy="477.7" r="2.35"/>
<circle class="b" cx="165.3" cy="452.9" r="2.35"/>
<circle class="o" cx="163.9" cy="403.7" r="2.35"/>
<circle class="o" cx="343.4" cy="426.9" r="2.35"/>
<circle class="b" cx="123.0" cy="457.2" r="2.35"/>
<circle class="b" cx="135.3" cy="429.7" r="2.35"/>
<circle class="b" cx="200.0" cy="356.1" r="2.35"/>
<circle class="b" cx="278.4" cy="379.8" r="2.35"/>
<circle class="b" cx="282.9" cy="372.0" r="2.35"/>
<circle class="o" cx="257.7" cy="357.5" r="2.35"/>
<circle class="b" cx="211.5" cy="389.3" r="2.35"/>
<circle class="o" cx="137.9" cy="440.6" r="2.35"/>
<circle class="b" cx="123.7" cy="497.6" r="2.35"/>
<circle class="b" cx="106.4" cy="438.4" r="2.35"/>
<circle class="b" cx="324.5" cy="406.7" r="2.35"/>
<circle class="o" cx="263.5" cy="364.9" r="2.35"/>
<circle class="o" cx="189.9" cy="398.7" r="2.35"/>
<circle class="o" cx="143.9" cy="411.7" r="2.35"/>
<circle class="o" cx="228.1" cy="354.7" r="2.35"/>
<circle class="b" cx="191.3" cy="413.8" r="2.35"/>
<circle class="o" cx="57.6" cy="453.2" r="2.35"/>
<circle class="o" cx="132.8" cy="409.2" r="2.35"/>
<circle class="o" cx="214.4" cy="356.1" r="2.35"/>
<circle class="b" cx="122.3" cy="442.8" r="2.35"/>
<circle class="o" cx="128.8" cy="452.6" r="2.35"/>
<circle class="o" cx="111.4" cy="415.0" r="2.35"/>
<circle class="b" cx="123.7" cy="439.1" r="2.35"/>
<circle class="o" cx="231.7" cy="366.2" r="2.35"/>
<circle class="o" cx="297.1" cy="361.9" r="2.35"/>
<circle class="o" cx="335.2" cy="373.5" r="2.35"/>
<circle class="b" cx="151.6" cy="476.7" r="2.35"/>
<circle class="o" cx="98.5" cy="406.6" r="2.35"/>
<circle class="o" cx="300.1" cy="347.7" r="2.35"/>
<circle class="b" cx="55.3" cy="529.3" r="2.35"/>
<circle class="o" cx="244.0" cy="383.5" r="2.35"/>
<circle class="b" cx="106.4" cy="467.3" r="2.35"/>
<circle class="b" cx="223.1" cy="378.2" r="2.35"/>
<circle class="b" cx="238.9" cy="395.8" r="2.35"/>
<circle class="b" cx="188.4" cy="395.8" r="2.35"/>
<circle class="b" cx="91.2" cy="460.1" r="2.35"/>
<circle class="o" cx="147.5" cy="415.3" r="2.35"/>
<circle class="o" cx="270.9" cy="361.1" r="2.35"/>
<circle class="o" cx="241.8" cy="367.6" r="2.35"/>
<circle class="b" cx="356.2" cy="409.0" r="2.35"/>
<circle class="b" cx="109.6" cy="446.8" r="2.35"/>
<circle class="b" cx="221.0" cy="381.9" r="2.35"/>
<circle class="b" cx="133.8" cy="454.3" r="2.35"/>
<circle class="b" cx="163.2" cy="463.0" r="2.35"/>
<circle class="b" cx="265.0" cy="395.5" r="2.35"/>
<circle class="o" cx="217.3" cy="371.7" r="2.35"/>
<circle class="o" cx="296.4" cy="375.3" r="2.35"/>
<circle class="b" cx="164.6" cy="471.2" r="2.35"/>
<circle class="b" cx="330.0" cy="413.4" r="2.35"/>
<circle class="o" cx="205.0" cy="351.0" r="2.35"/>
<circle class="b" cx="287.4" cy="382.0" r="2.35"/>
<circle class="b" cx="148.8" cy="444.5" r="2.35"/>
<circle class="o" cx="93.6" cy="471.4" r="2.35"/>
<circle class="b" cx="56.6" cy="473.8" r="2.35"/>
<circle class="o" cx="120.8" cy="426.8" r="2.35"/>
<circle class="b" cx="279.9" cy="385.8" r="2.35"/>
<circle class="b" cx="297.9" cy="375.3" r="2.35"/>
<circle class="b" cx="119.4" cy="451.4" r="2.35"/>
<circle class="b" cx="260.5" cy="382.8" r="2.35"/>
<circle class="b" cx="218.7" cy="387.9" r="2.35"/>
<circle class="b" cx="104.9" cy="488.2" r="2.35"/>
<circle class="o" cx="233.2" cy="348.2" r="2.35"/>
<circle class="o" cx="154.5" cy="456.5" r="2.35"/>
<circle class="o" cx="221.6" cy="354.4" r="2.35"/>
<circle class="b" cx="143.1" cy="445.7" r="2.35"/>
<circle class="b" cx="58.0" cy="447.4" r="2.35"/>
<circle class="b" cx="202.8" cy="382.1" r="2.35"/>
<circle class="b" cx="257.7" cy="379.2" r="2.35"/>
<circle class="b" cx="143.9" cy="441.3" r="2.35"/>
<circle class="b" cx="120.8" cy="495.0" r="2.35"/>
<circle class="b" cx="130.9" cy="460.1" r="2.35"/>
<circle class="b" cx="283.7" cy="388.8" r="2.35"/>
<circle class="o" cx="155.2" cy="432.6" r="2.35"/>
<circle class="o" cx="305.3" cy="354.4" r="2.35"/>
<circle class="o" cx="115.1" cy="427.6" r="2.35"/>
<circle class="b" cx="157.4" cy="447.8" r="2.35"/>
<circle class="b" cx="134.5" cy="486.1" r="2.35"/>
<circle class="b" cx="222.8" cy="403.7" r="2.35"/>
<circle class="b" cx="173.3" cy="419.6" r="2.35"/>
<circle class="b" cx="85.9" cy="422.8" r="2.35"/>
<circle class="o" cx="294.9" cy="364.9" r="2.35"/>
<circle class="o" cx="312.8" cy="361.1" r="2.35"/>
<circle class="o" cx="112.2" cy="434.1" r="2.35"/>
<circle class="b" cx="339.0" cy="409.7" r="2.35"/>
<circle class="b" cx="165.3" cy="439.8" r="2.35"/>
<circle class="b" cx="325.1" cy="396.2" r="2.35"/>
<circle class="b" cx="104.9" cy="502.7" r="2.35"/>
<circle class="o" cx="111.4" cy="426.8" r="2.35"/>
<circle class="b" cx="270.9" cy="370.1" r="2.35"/>
<circle class="b" cx="215.6" cy="386.6" r="2.35"/>
<circle class="o" cx="353.2" cy="345.7" r="2.35"/>
<circle class="b" cx="238.9" cy="383.5" r="2.35"/>
<circle class="o" cx="309.8" cy="367.8" r="2.35"/>
<circle class="b" cx="197.1" cy="387.9" r="2.35"/>
<circle class="b" cx="148.0" cy="430.5" r="2.35"/>
<circle class="o" cx="244.0" cy="343.8" r="2.35"/>
<circle class="b" cx="86.2" cy="467.3" r="2.35"/>
<circle class="b" cx="120.1" cy="480.3" r="2.35"/>
<circle class="o" cx="58.8" cy="429.0" r="2.35"/>
<circle class="o" cx="139.6" cy="441.3" r="2.35"/>
<circle class="o" cx="215.8" cy="369.1" r="2.35"/>
<circle class="b" cx="143.9" cy="447.1" r="2.35"/>
<circle class="b" cx="84.0" cy="498.8" r="2.35"/>
<circle class="b" cx="146.8" cy="458.6" r="2.35"/>
<circle class="o" cx="58.8" cy="436.2" r="2.35"/>
<circle class="b" cx="143.9" cy="483.2" r="2.35"/>
<circle class="o" cx="208.6" cy="369.1" r="2.35"/>
<circle class="b" cx="197.8" cy="374.1" r="2.35"/>
<circle class="b" cx="241.1" cy="357.5" r="2.35"/>
<circle class="b" cx="152.3" cy="431.2" r="2.35"/>
<circle class="b" cx="91.2" cy="447.8" r="2.35"/>
<circle class="b" cx="96.0" cy="495.0" r="2.35"/>
<circle class="b" cx="215.8" cy="383.5" r="2.35"/>
<circle class="o" cx="232.8" cy="385.2" r="2.35"/>
<circle class="o" cx="113.6" cy="447.1" r="2.35"/>
<circle class="b" cx="166.8" cy="442.1" r="2.35"/>
<circle class="o" cx="138.9" cy="403.7" r="2.35"/>
<circle class="o" cx="190.8" cy="384.2" r="2.35"/>
<circle class="b" cx="151.5" cy="456.3" r="2.35"/>
<circle class="o" cx="192.0" cy="364.0" r="2.35"/>
<circle class="o" cx="318.8" cy="406.4" r="2.35"/>
<circle class="o" cx="135.3" cy="419.6" r="2.35"/>
<circle class="o" cx="178.8" cy="380.8" r="2.35"/>
<circle class="o" cx="71.0" cy="447.1" r="2.35"/>
<circle class="o" cx="128.0" cy="428.3" r="2.35"/>
<circle class="b" cx="130.2" cy="486.8" r="2.35"/>
<circle class="o" cx="117.2" cy="443.5" r="2.35"/>
<circle class="o" cx="76.1" cy="420.1" r="2.35"/>
<circle class="b" cx="57.0" cy="514.2" r="2.35"/>
<circle class="o" cx="236.0" cy="366.2" r="2.35"/>
<circle class="o" cx="166.8" cy="426.1" r="2.35"/>
<circle class="o" cx="257.7" cy="363.3" r="2.35"/>
<circle class="b" cx="330.7" cy="424.7" r="2.35"/>
<circle class="o" cx="314.3" cy="370.8" r="2.35"/>
<circle class="o" cx="195.6" cy="377.0" r="2.35"/>
<circle class="b" cx="194.2" cy="390.0" r="2.35"/>
<circle class="b" cx="99.2" cy="472.4" r="2.35"/>
<circle class="b" cx="344.9" cy="409.4" r="2.35"/>
<circle class="o" cx="76.1" cy="427.6" r="2.35"/>
<circle class="o" cx="203.6" cy="366.2" r="2.35"/>
<circle class="o" cx="102.4" cy="441.6" r="2.35"/>
<circle class="o" cx="139.6" cy="421.1" r="2.35"/>
<circle class="o" cx="273.9" cy="352.9" r="2.35"/>
<circle class="b" cx="334.5" cy="430.9" r="2.35"/>
<circle class="o" cx="291.9" cy="373.8" r="2.35"/>
<circle class="o" cx="86.2" cy="419.3" r="2.35"/>
<circle class="o" cx="57.0" cy="475.2" r="2.35"/>
<circle class="o" cx="79.0" cy="416.4" r="2.35"/>
<circle class="o" cx="212.2" cy="359.0" r="2.35"/>
<circle class="b" cx="141.0" cy="452.2" r="2.35"/>
<circle class="b" cx="342.7" cy="400.7" r="2.35"/>
<circle class="o" cx="107.8" cy="435.5" r="2.35"/>
<circle class="b" cx="223.1" cy="389.3" r="2.35"/>
<circle class="b" cx="95.6" cy="463.7" r="2.35"/>
<circle class="b" cx="265.0" cy="384.3" r="2.35"/>
<circle class="o" cx="259.0" cy="364.9" r="2.35"/>
<circle class="o" cx="188.4" cy="387.1" r="2.35"/>
<circle class="o" cx="104.2" cy="433.3" r="2.35"/>
<circle class="b" cx="79.7" cy="471.6" r="2.35"/>
<circle class="b" cx="350.5" cy="424.4" r="2.35"/>
<circle class="b" cx="142.5" cy="476.0" r="2.35"/>
<circle class="b" cx="154.5" cy="448.5" r="2.35"/>
<circle class="o" cx="106.4" cy="423.2" r="2.35"/>
<circle class="o" cx="333.7" cy="397.0" r="2.35"/>
<circle class="o" cx="150.9" cy="455.8" r="2.35"/>
<circle class="o" cx="132.4" cy="455.8" r="2.35"/>
<circle class="o" cx="200.0" cy="351.8" r="2.35"/>
<rect x="40.4" y="321.7" width="331.8" height="242.7" fill="none" stroke="#666666" stroke-width="1.2"/>
<line x1="37.5" x2="40.4" y1="360.7" y2="360.7" stroke="#666666" stroke-width="0.9"/>
<g font-size="8.0" fill="#2a2a2a" stroke="#2a2a2a" stroke-width="0.3"><text transform="translate(20.77 363.40) scale(0.744 1.000)">0</text><text x="23.94" y="363.40">.</text><text transform="translate(28.07 363.40) scale(0.744 1.000)">0</text><text transform="translate(31.71 363.40) scale(0.751 1.000)">5</text></g>
<line x1="37.5" x2="40.4" y1="404.1" y2="404.1" stroke="#666666" stroke-width="0.9"/>
<g font-size="8.0" fill="#2a2a2a" stroke="#2a2a2a" stroke-width="0.3"><text transform="translate(20.77 406.80) scale(0.744 1.000)">0</text><text x="23.94" y="406.80">.</text><text transform="translate(28.07 406.80) scale(0.744 1.000)">0</text><text transform="translate(31.72 406.80) scale(0.744 1.000)">0</text></g>
<line x1="37.5" x2="40.4" y1="447.5" y2="447.5" stroke="#666666" stroke-width="0.9"/>
<g font-size="8.0" fill="#2a2a2a" stroke="#2a2a2a" stroke-width="0.3"><text transform="translate(17.06 450.20) scale(0.732 1.000)">−</text><text transform="translate(20.77 450.20) scale(0.744 1.000)">0</text><text x="23.94" y="450.20">.</text><text transform="translate(28.07 450.20) scale(0.744 1.000)">0</text><text transform="translate(31.71 450.20) scale(0.751 1.000)">5</text></g>
<line x1="37.5" x2="40.4" y1="490.9" y2="490.9" stroke="#666666" stroke-width="0.9"/>
<g font-size="8.0" fill="#2a2a2a" stroke="#2a2a2a" stroke-width="0.3"><text transform="translate(17.06 493.60) scale(0.732 1.000)">−</text><text transform="translate(20.77 493.60) scale(0.744 1.000)">0</text><text x="23.94" y="493.60">.</text><text transform="translate(27.80 493.60) scale(0.825 1.000)">1</text><text transform="translate(31.72 493.60) scale(0.744 1.000)">0</text></g>
<line x1="37.5" x2="40.4" y1="534.3" y2="534.3" stroke="#666666" stroke-width="0.9"/>
<g font-size="8.0" fill="#2a2a2a" stroke="#2a2a2a" stroke-width="0.3"><text transform="translate(17.06 537.00) scale(0.732 1.000)">−</text><text transform="translate(20.77 537.00) scale(0.744 1.000)">0</text><text x="23.94" y="537.00">.</text><text transform="translate(27.80 537.00) scale(0.825 1.000)">1</text><text transform="translate(31.71 537.00) scale(0.751 1.000)">5</text></g>
<line x1="48.8" x2="48.8" y1="564.4" y2="567.3" stroke="#666666" stroke-width="0.9"/>
<g font-size="8.0" fill="#2a2a2a" stroke="#2a2a2a" stroke-width="0.3"><text transform="translate(43.41 574.50) scale(0.781 1.000)">2</text><text x="46.67" y="574.50">.</text><text transform="translate(50.79 574.50) scale(0.744 1.000)">0</text></g>
<line x1="89.5" x2="89.5" y1="564.4" y2="567.3" stroke="#666666" stroke-width="0.9"/>
<g font-size="8.0" fill="#2a2a2a" stroke="#2a2a2a" stroke-width="0.3"><text transform="translate(84.16 574.50) scale(0.781 1.000)">2</text><text x="87.42" y="574.50">.</text><text transform="translate(91.54 574.50) scale(0.751 1.000)">5</text></g>
<line x1="130.3" x2="130.3" y1="564.4" y2="567.3" stroke="#666666" stroke-width="0.9"/>
<g font-size="8.0" fill="#2a2a2a" stroke="#2a2a2a" stroke-width="0.3"><text transform="translate(125.00 574.50) scale(0.751 1.000)">3</text><text x="128.17" y="574.50">.</text><text transform="translate(132.29 574.50) scale(0.744 1.000)">0</text></g>
<line x1="171.1" x2="171.1" y1="564.4" y2="567.3" stroke="#666666" stroke-width="0.9"/>
<g font-size="8.0" fill="#2a2a2a" stroke="#2a2a2a" stroke-width="0.3"><text transform="translate(165.75 574.50) scale(0.751 1.000)">3</text><text x="168.92" y="574.50">.</text><text transform="translate(173.04 574.50) scale(0.751 1.000)">5</text></g>
<line x1="211.8" x2="211.8" y1="564.4" y2="567.3" stroke="#666666" stroke-width="0.9"/>
<g font-size="8.0" fill="#2a2a2a" stroke="#2a2a2a" stroke-width="0.3"><text transform="translate(206.60 574.50) scale(0.706 1.000)">4</text><text x="209.67" y="574.50">.</text><text transform="translate(213.79 574.50) scale(0.744 1.000)">0</text></g>
<line x1="252.6" x2="252.6" y1="564.4" y2="567.3" stroke="#666666" stroke-width="0.9"/>
<g font-size="8.0" fill="#2a2a2a" stroke="#2a2a2a" stroke-width="0.3"><text transform="translate(247.35 574.50) scale(0.706 1.000)">4</text><text x="250.42" y="574.50">.</text><text transform="translate(254.54 574.50) scale(0.751 1.000)">5</text></g>
<line x1="293.3" x2="293.3" y1="564.4" y2="567.3" stroke="#666666" stroke-width="0.9"/>
<g font-size="8.0" fill="#2a2a2a" stroke="#2a2a2a" stroke-width="0.3"><text transform="translate(287.99 574.50) scale(0.751 1.000)">5</text><text x="291.17" y="574.50">.</text><text transform="translate(295.29 574.50) scale(0.744 1.000)">0</text></g>
<line x1="334.1" x2="334.1" y1="564.4" y2="567.3" stroke="#666666" stroke-width="0.9"/>
<g font-size="8.0" fill="#2a2a2a" stroke="#2a2a2a" stroke-width="0.3"><text transform="translate(328.74 574.50) scale(0.751 1.000)">5</text><text x="331.92" y="574.50">.</text><text transform="translate(336.04 574.50) scale(0.751 1.000)">5</text></g>
<g font-size="9.4" fill="#000000" stroke="#000000" stroke-width="0.4"><text transform="translate(177.58 585.90) scale(0.786 1.100)">C</text><text x="182.87" y="585.90">h</text><text x="188.09" y="585.90">o</text><text x="194.85" y="585.90">l</text><text x="198.50" y="585.90">e</text><text x="203.99" y="585.90">s</text><text x="210.16" y="585.90">t</text><text x="214.10" y="585.90">e</text><text x="220.10" y="585.90">r</text><text x="224.49" y="585.90">o</text><text x="231.25" y="585.90">l</text></g>
<g transform="rotate(-90 13.3 443.0)"><g font-size="9.4" fill="#000000" stroke="#000000" stroke-width="0.4"><text transform="translate(-54.41 443.05) scale(0.865 1.100)">S</text><text transform="translate(-49.53 443.05) scale(0.891 1.100)">H</text><text transform="translate(-43.65 443.05) scale(0.751 1.100)">A</text><text transform="translate(-39.16 443.05) scale(0.935 1.100)">P</text><text transform="translate(-28.07 443.05) scale(0.756 1.100)">V</text><text transform="translate(-23.23 443.05) scale(0.969 1.000)">a</text><text x="-16.35" y="443.05">l</text><text x="-12.71" y="443.05">u</text><text x="-7.50" y="443.05">e</text><text x="4.12" y="443.05">f</text><text x="8.09" y="443.05">o</text><text x="14.10" y="443.05">r</text><text transform="translate(23.58 443.05) scale(0.786 1.100)">C</text><text x="28.87" y="443.05">h</text><text x="34.09" y="443.05">o</text><text x="40.85" y="443.05">l</text><text x="44.50" y="443.05">e</text><text x="49.99" y="443.05">s</text><text x="56.16" y="443.05">t</text><text x="60.10" y="443.05">e</text><text x="66.10" y="443.05">r</text><text x="70.49" y="443.05">o</text><text x="77.25" y="443.05">l</text></g></g>
<rect x="44.2" y="325.8" width="65.0" height="31.2" rx="1.5" fill="#fff" fill-opacity="0.8" stroke="#d6d6d6" stroke-width="0.8"/>
<g font-size="7.5" fill="#151515" font-weight="bold" stroke="#151515" stroke-width="0.1"><text x="48.09" y="333.60">I</text><text x="51.48" y="333.60">f</text><text transform="translate(58.29 333.60) scale(0.674 1.000)">C</text><text transform="translate(62.10 333.60) scale(0.748 1.000)">T</text><text transform="translate(65.44 333.60) scale(0.778 1.000)">P</text><text transform="translate(69.38 333.60) scale(0.656 1.000)">A</text><text transform="translate(76.45 333.60) scale(0.778 1.000)">P</text><text transform="translate(80.27 333.60) scale(0.827 1.000)">o</text><text transform="translate(83.94 333.60) scale(0.918 1.000)">s</text><text x="88.47" y="333.60">i</text><text x="91.93" y="333.60">t</text><text x="95.81" y="333.60">i</text><text transform="translate(98.84 333.60) scale(0.804 1.000)">v</text><text transform="translate(102.27 333.60) scale(0.912 1.000)">e</text></g>
<circle cx="58.7" cy="341.4" r="2.45" fill="#1c74b0"/>
<circle cx="58.7" cy="351.1" r="2.45" fill="#f07c14"/>
<g font-size="7.5" fill="#151515" font-weight="bold" stroke="#151515" stroke-width="0.1"><text transform="translate(72.81 343.60) scale(0.749 1.000)">N</text><text transform="translate(76.59 343.60) scale(0.912 1.000)">e</text><text transform="translate(80.25 343.60) scale(0.876 1.000)">g</text><text transform="translate(84.01 343.60) scale(0.826 1.000)">a</text><text x="88.27" y="343.60">t</text><text x="92.15" y="343.60">i</text><text transform="translate(95.18 343.60) scale(0.804 1.000)">v</text><text transform="translate(98.61 343.60) scale(0.912 1.000)">e</text></g>
<g font-size="7.5" fill="#151515" font-weight="bold" stroke="#151515" stroke-width="0.1"><text transform="translate(72.79 353.30) scale(0.778 1.000)">P</text><text transform="translate(76.61 353.30) scale(0.827 1.000)">o</text><text transform="translate(80.28 353.30) scale(0.918 1.000)">s</text><text x="84.81" y="353.30">i</text><text x="88.27" y="353.30">t</text><text x="92.15" y="353.30">i</text><text transform="translate(95.18 353.30) scale(0.804 1.000)">v</text><text transform="translate(98.61 353.30) scale(0.912 1.000)">e</text></g>
<line x1="437.1" x2="768.5" y1="504.7" y2="504.7" stroke="#e01e22" stroke-width="1.35"/>
<circle class="o" cx="534.4" cy="447.1" r="2.35"/>
<circle class="o" cx="478.9" cy="488.2" r="2.35"/>
<circle class="b" cx="497.6" cy="506.3" r="2.35"/>
<circle class="o" cx="647.5" cy="406.3" r="2.35"/>
<circle class="o" cx="580.4" cy="409.5" r="2.35"/>
<circle class="o" cx="694.1" cy="432.1" r="2.35"/>
<circle class="b" cx="463.0" cy="505.5" r="2.35"/>
<circle class="b" cx="509.2" cy="507.7" r="2.35"/>
<circle class="b" cx="460.1" cy="509.1" r="2.35"/>
<circle class="o" cx="471.6" cy="504.8" r="2.35"/>
<circle class="b" cx="452.2" cy="535.1" r="2.35"/>
<circle class="o" cx="462.3" cy="494.0" r="2.35"/>
<circle class="b" cx="535.1" cy="500.5" r="2.35"/>
<circle class="o" cx="611.4" cy="401.6" r="2.35"/>
<circle class="o" cx="579.6" cy="398.7" r="2.35"/>
<circle class="o" cx="504.1" cy="476.0" r="2.35"/>
<circle class="o" cx="618.3" cy="374.1" r="2.35"/>
<circle class="b" cx="484.6" cy="503.4" r="2.35"/>
<circle class="o" cx="680.7" cy="345.7" r="2.35"/>
<circle class="o" cx="573.1" cy="408.8" r="2.35"/>
<circle class="o" cx="498.4" cy="497.7" r="2.35"/>
<circle class="o" cx="509.7" cy="485.4" r="2.35"/>
<circle class="o" cx="519.3" cy="402.6" r="2.35"/>
<circle class="o" cx="495.5" cy="491.0" r="2.35"/>
<circle class="o" cx="500.5" cy="486.1" r="2.35"/>
<circle class="o" cx="707.6" cy="407.5" r="2.35"/>
<circle class="o" cx="507.7" cy="478.1" r="2.35"/>
<circle class="b" cx="467.3" cy="526.5" r="2.35"/>
<circle class="b" cx="608.5" cy="420.6" r="2.35"/>
<circle class="o" cx="523.6" cy="445.7" r="2.35"/>
<circle class="o" cx="578.5" cy="386.4" r="2.35"/>
<circle class="o" cx="574.2" cy="402.1" r="2.35"/>
<circle class="b" cx="514.9" cy="514.9" r="2.35"/>
<circle class="o" cx="712.5" cy="395.5" r="2.35"/>
<circle class="b" cx="664.7" cy="443.7" r="2.35"/>
<circle class="o" cx="583.2" cy="343.8" r="2.35"/>
<circle class="o" cx="470.2" cy="507.0" r="2.35"/>
<circle class="o" cx="506.3" cy="446.4" r="2.35"/>
<circle class="o" cx="621.5" cy="379.9" r="2.35"/>
<circle class="b" cx="514.9" cy="523.6" r="2.35"/>
<circle class="b" cx="621.5" cy="367.4" r="2.35"/>
<circle class="b" cx="498.1" cy="503.8" r="2.35"/>
<circle class="o" cx="573.7" cy="395.4" r="2.35"/>
<circle class="b" cx="496.2" cy="512.0" r="2.35"/>
<circle class="b" cx="465.9" cy="508.4" r="2.35"/>
<circle class="o" cx="508.0" cy="393.6" r="2.35"/>
<circle class="o" cx="558.0" cy="428.6" r="2.35"/>
<circle class="o" cx="652.5" cy="345.3" r="2.35"/>
<circle class="b" cx="489.0" cy="496.2" r="2.35"/>
<circle class="b" cx="463.0" cy="523.6" r="2.35"/>
<circle class="o" cx="483.9" cy="474.2" r="2.35"/>
<circle class="b" cx="480.9" cy="521.9" r="2.35"/>
<circle class="o" cx="507.0" cy="424.0" r="2.35"/>
<circle class="o" cx="566.6" cy="419.3" r="2.35"/>
<circle class="b" cx="696.1" cy="461.4" r="2.35"/>
<circle class="b" cx="692.3" cy="466.6" r="2.35"/>
<circle class="o" cx="581.1" cy="395.1" r="2.35"/>
<circle class="o" cx="527.9" cy="468.0" r="2.35"/>
<circle class="o" cx="511.3" cy="425.1" r="2.35"/>
<circle class="o" cx="607.4" cy="379.9" r="2.35"/>
<circle class="b" cx="471.6" cy="510.6" r="2.35"/>
<circle class="o" cx="631.3" cy="390.5" r="2.35"/>
<circle class="b" cx="455.8" cy="540.2" r="2.35"/>
<circle class="b" cx="455.8" cy="529.3" r="2.35"/>
<circle class="o" cx="512.8" cy="440.6" r="2.35"/>
<circle class="o" cx="483.2" cy="488.9" r="2.35"/>
<circle class="o" cx="638.8" cy="409.5" r="2.35"/>
<circle class="b" cx="454.3" cy="526.5" r="2.35"/>
<circle class="o" cx="675.4" cy="394.8" r="2.35"/>
<circle class="o" cx="484.2" cy="479.9" r="2.35"/>
<circle class="o" cx="671.2" cy="409.7" r="2.35"/>
<circle class="o" cx="655.2" cy="385.8" r="2.35"/>
<circle class="o" cx="704.6" cy="409.4" r="2.35"/>
<circle class="b" cx="555.4" cy="460.4" r="2.35"/>
<circle class="b" cx="556.5" cy="434.1" r="2.35"/>
<circle class="o" cx="467.2" cy="490.6" r="2.35"/>
<circle class="b" cx="522.6" cy="438.1" r="2.35"/>
<circle class="o" cx="682.9" cy="398.9" r="2.35"/>
<circle class="b" cx="480.3" cy="520.0" r="2.35"/>
<circle class="o" cx="571.7" cy="402.3" r="2.35"/>
<circle class="o" cx="522.9" cy="442.1" r="2.35"/>
<circle class="o" cx="486.1" cy="478.8" r="2.35"/>
<circle class="b" cx="464.4" cy="514.2" r="2.35"/>
<circle class="b" cx="509.9" cy="474.8" r="2.35"/>
<circle class="o" cx="577.9" cy="391.5" r="2.35"/>
<circle class="o" cx="543.8" cy="442.8" r="2.35"/>
<circle class="b" cx="580.8" cy="429.5" r="2.35"/>
<circle class="b" cx="579.6" cy="426.4" r="2.35"/>
<circle class="o" cx="509.2" cy="482.5" r="2.35"/>
<circle class="o" cx="624.1" cy="408.8" r="2.35"/>
<circle class="o" cx="491.8" cy="494.7" r="2.35"/>
<circle class="b" cx="509.2" cy="484.6" r="2.35"/>
<circle class="o" cx="464.4" cy="511.3" r="2.35"/>
<circle class="o" cx="697.8" cy="406.7" r="2.35"/>
<circle class="b" cx="667.6" cy="447.5" r="2.35"/>
<circle class="b" cx="452.9" cy="538.0" r="2.35"/>
<circle class="o" cx="561.2" cy="405.5" r="2.35"/>
<circle class="b" cx="449.8" cy="547.2" r="2.35"/>
<circle class="o" cx="712.8" cy="417.2" r="2.35"/>
<circle class="b" cx="532.3" cy="473.8" r="2.35"/>
<circle class="o" cx="521.4" cy="466.6" r="2.35"/>
<circle class="o" cx="499.1" cy="495.4" r="2.35"/>
<circle class="o" cx="573.9" cy="406.3" r="2.35"/>
<circle class="b" cx="509.2" cy="504.8" r="2.35"/>
<circle class="o" cx="522.9" cy="428.0" r="2.35"/>
<circle class="b" cx="452.2" cy="549.6" r="2.35"/>
<circle class="b" cx="500.5" cy="520.7" r="2.35"/>
<circle class="b" cx="565.5" cy="464.7" r="2.35"/>
<circle class="b" cx="473.1" cy="531.5" r="2.35"/>
<circle class="o" cx="512.1" cy="470.2" r="2.35"/>
<circle class="b" cx="710.3" cy="444.9" r="2.35"/>
<circle class="o" cx="533.0" cy="441.3" r="2.35"/>
<circle class="b" cx="524.3" cy="473.8" r="2.35"/>
<circle class="o" cx="509.2" cy="458.6" r="2.35"/>
<circle class="o" cx="476.6" cy="490.1" r="2.35"/>
<circle class="o" cx="520.7" cy="434.8" r="2.35"/>
<circle class="o" cx="594.8" cy="385.7" r="2.35"/>
<circle class="o" cx="694.6" cy="397.4" r="2.35"/>
<circle class="o" cx="546.2" cy="443.5" r="2.35"/>
<circle class="b" cx="454.5" cy="547.9" r="2.35"/>
<circle class="b" cx="464.4" cy="532.2" r="2.35"/>
<circle class="o" cx="458.6" cy="494.7" r="2.35"/>
<circle class="b" cx="559.4" cy="457.9" r="2.35"/>
<circle class="b" cx="473.7" cy="510.5" r="2.35"/>
<circle class="o" cx="669.4" cy="400.7" r="2.35"/>
<circle class="o" cx="502.7" cy="488.9" r="2.35"/>
<circle class="b" cx="457.2" cy="513.5" r="2.35"/>
<circle class="o" cx="539.5" cy="460.8" r="2.35"/>
<circle class="b" cx="550.8" cy="488.9" r="2.35"/>
<circle class="o" cx="671.7" cy="427.3" r="2.35"/>
<circle class="o" cx="582.2" cy="429.7" r="2.35"/>
<circle class="b" cx="581.4" cy="452.2" r="2.35"/>
<circle class="b" cx="596.2" cy="407.8" r="2.35"/>
<circle class="b" cx="454.2" cy="521.8" r="2.35"/>
<circle class="b" cx="580.4" cy="463.0" r="2.35"/>
<circle class="o" cx="588.3" cy="398.0" r="2.35"/>
<circle class="b" cx="488.2" cy="525.7" r="2.35"/>
<circle class="b" cx="483.2" cy="512.8" r="2.35"/>
<circle class="o" cx="614.6" cy="383.8" r="2.35"/>
<circle class="b" cx="463.0" cy="519.2" r="2.35"/>
<circle class="o" cx="508.7" cy="416.0" r="2.35"/>
<circle class="o" cx="597.2" cy="385.0" r="2.35"/>
<circle class="o" cx="492.6" cy="476.7" r="2.35"/>
<circle class="o" cx="654.7" cy="385.7" r="2.35"/>
<circle class="o" cx="474.5" cy="488.9" r="2.35"/>
<circle class="o" cx="560.2" cy="452.2" r="2.35"/>
<circle class="o" cx="476.0" cy="497.6" r="2.35"/>
<circle class="o" cx="578.2" cy="422.2" r="2.35"/>
<circle class="o" cx="559.4" cy="444.5" r="2.35"/>
<circle class="b" cx="486.1" cy="519.2" r="2.35"/>
<circle class="o" cx="591.9" cy="398.7" r="2.35"/>
<circle class="b" cx="499.1" cy="516.4" r="2.35"/>
<circle class="o" cx="533.7" cy="425.8" r="2.35"/>
<circle class="b" cx="476.0" cy="519.2" r="2.35"/>
<circle class="b" cx="543.1" cy="503.4" r="2.35"/>
<circle class="o" cx="696.4" cy="433.6" r="2.35"/>
<circle class="o" cx="477.4" cy="483.2" r="2.35"/>
<circle class="o" cx="508.4" cy="413.8" r="2.35"/>
<circle class="o" cx="489.7" cy="484.6" r="2.35"/>
<circle class="b" cx="576.0" cy="433.3" r="2.35"/>
<circle class="o" cx="549.3" cy="450.7" r="2.35"/>
<circle class="b" cx="562.3" cy="439.5" r="2.35"/>
<circle class="o" cx="695.6" cy="424.4" r="2.35"/>
<circle class="b" cx="465.5" cy="512.2" r="2.35"/>
<circle class="o" cx="506.3" cy="442.1" r="2.35"/>
<circle class="o" cx="553.7" cy="418.9" r="2.35"/>
<circle class="b" cx="493.3" cy="505.5" r="2.35"/>
<circle class="o" cx="461.0" cy="522.8" r="2.35"/>
<circle class="b" cx="618.6" cy="429.7" r="2.35"/>
<circle class="b" cx="587.6" cy="394.4" r="2.35"/>
<circle class="o" cx="473.1" cy="493.3" r="2.35"/>
<circle class="o" cx="574.6" cy="426.8" r="2.35"/>
<circle class="o" cx="660.5" cy="423.5" r="2.35"/>
<circle class="b" cx="463.0" cy="527.9" r="2.35"/>
<circle class="b" cx="520.7" cy="508.4" r="2.35"/>
<circle class="b" cx="460.5" cy="506.4" r="2.35"/>
<circle class="o" cx="452.9" cy="520.7" r="2.35"/>
<circle class="o" cx="527.2" cy="461.5" r="2.35"/>
<circle class="o" cx="506.7" cy="420.8" r="2.35"/>
<circle class="o" cx="571.0" cy="432.3" r="2.35"/>
<circle class="o" cx="530.8" cy="402.7" r="2.35"/>
<circle class="o" cx="460.1" cy="499.0" r="2.35"/>
<circle class="o" cx="468.8" cy="502.7" r="2.35"/>
<circle class="b" cx="494.7" cy="515.6" r="2.35"/>
<circle class="b" cx="546.7" cy="477.4" r="2.35"/>
<circle class="b" cx="693.1" cy="416.1" r="2.35"/>
<circle class="b" cx="548.6" cy="470.2" r="2.35"/>
<circle class="o" cx="628.3" cy="395.8" r="2.35"/>
<circle class="o" cx="476.0" cy="471.3" r="2.35"/>
<circle class="o" cx="651.8" cy="419.6" r="2.35"/>
<circle class="b" cx="487.5" cy="507.7" r="2.35"/>
<circle class="o" cx="547.9" cy="361.9" r="2.35"/>
<circle class="o" cx="517.8" cy="478.8" r="2.35"/>
<circle class="b" cx="599.8" cy="443.9" r="2.35"/>
<circle class="o" cx="651.8" cy="389.3" r="2.35"/>
<circle class="o" cx="510.9" cy="487.5" r="2.35"/>
<circle class="b" cx="512.1" cy="512.0" r="2.35"/>
<circle class="b" cx="469.2" cy="522.1" r="2.35"/>
<circle class="o" cx="465.1" cy="496.2" r="2.35"/>
<circle class="o" cx="480.3" cy="476.0" r="2.35"/>
<circle class="b" cx="458.6" cy="527.2" r="2.35"/>
<circle class="o" cx="516.4" cy="444.2" r="2.35"/>
<circle class="o" cx="453.9" cy="530.0" r="2.35"/>
<circle class="o" cx="550.8" cy="429.7" r="2.35"/>
<circle class="b" cx="539.8" cy="455.8" r="2.35"/>
<circle class="b" cx="538.8" cy="451.4" r="2.35"/>
<circle class="o" cx="514.2" cy="478.8" r="2.35"/>
<circle class="o" cx="560.9" cy="414.9" r="2.35"/>
<circle class="o" cx="709.8" cy="432.9" r="2.35"/>
<circle class="o" cx="505.8" cy="480.5" r="2.35"/>
<circle class="o" cx="466.0" cy="504.2" r="2.35"/>
<circle class="b" cx="455.8" cy="535.1" r="2.35"/>
<circle class="o" cx="455.0" cy="522.1" r="2.35"/>
<circle class="o" cx="501.9" cy="508.4" r="2.35"/>
<circle class="o" cx="480.3" cy="493.3" r="2.35"/>
<circle class="o" cx="469.0" cy="472.4" r="2.35"/>
<circle class="b" cx="480.3" cy="504.8" r="2.35"/>
<circle class="o" cx="626.1" cy="383.1" r="2.35"/>
<circle class="o" cx="540.9" cy="435.5" r="2.35"/>
<circle class="o" cx="481.7" cy="467.0" r="2.35"/>
<circle class="o" cx="590.0" cy="387.9" r="2.35"/>
<circle class="b" cx="473.1" cy="514.9" r="2.35"/>
<circle class="o" cx="606.8" cy="390.5" r="2.35"/>
<circle class="b" cx="460.9" cy="517.6" r="2.35"/>
<circle class="b" cx="504.1" cy="521.4" r="2.35"/>
<circle class="o" cx="520.7" cy="460.8" r="2.35"/>
<circle class="o" cx="546.7" cy="459.4" r="2.35"/>
<circle class="o" cx="576.4" cy="393.2" r="2.35"/>
<circle class="b" cx="479.4" cy="514.0" r="2.35"/>
<circle class="o" cx="576.8" cy="407.3" r="2.35"/>
<circle class="o" cx="677.7" cy="396.2" r="2.35"/>
<circle class="o" cx="497.6" cy="508.4" r="2.35"/>
<circle class="b" cx="519.3" cy="485.3" r="2.35"/>
<circle class="b" cx="458.8" cy="526.2" r="2.35"/>
<circle class="o" cx="471.6" cy="498.3" r="2.35"/>
<circle class="o" cx="503.3" cy="487.4" r="2.35"/>
<circle class="o" cx="517.1" cy="433.3" r="2.35"/>
<circle class="o" cx="500.5" cy="481.0" r="2.35"/>
<circle class="b" cx="460.8" cy="514.9" r="2.35"/>
<circle class="b" cx="503.1" cy="543.1" r="2.35"/>
<circle class="b" cx="721.8" cy="436.6" r="2.35"/>
<circle class="o" cx="665.0" cy="401.9" r="2.35"/>
<circle class="o" cx="727.3" cy="423.2" r="2.35"/>
<circle class="o" cx="740.9" cy="420.2" r="2.35"/>
<circle class="b" cx="718.8" cy="416.1" r="2.35"/>
<circle class="b" cx="468.8" cy="512.8" r="2.35"/>
<circle class="b" cx="510.9" cy="499.0" r="2.35"/>
<circle class="o" cx="642.4" cy="439.8" r="2.35"/>
<circle class="b" cx="459.6" cy="502.4" r="2.35"/>
<circle class="b" cx="491.8" cy="520.0" r="2.35"/>
<circle class="o" cx="594.1" cy="411.2" r="2.35"/>
<circle class="o" cx="547.2" cy="459.8" r="2.35"/>
<circle class="o" cx="515.0" cy="433.0" r="2.35"/>
<circle class="o" cx="590.9" cy="416.3" r="2.35"/>
<circle class="o" cx="702.3" cy="364.1" r="2.35"/>
<circle class="o" cx="596.6" cy="413.4" r="2.35"/>
<circle class="o" cx="497.6" cy="503.4" r="2.35"/>
<circle class="o" cx="547.9" cy="433.3" r="2.35"/>
<circle class="o" cx="615.0" cy="398.0" r="2.35"/>
<circle class="o" cx="606.8" cy="384.2" r="2.35"/>
<circle class="o" cx="733.4" cy="411.9" r="2.35"/>
<circle class="o" cx="510.6" cy="465.9" r="2.35"/>
<circle class="o" cx="481.7" cy="479.6" r="2.35"/>
<circle class="o" cx="526.5" cy="425.8" r="2.35"/>
<circle class="o" cx="626.5" cy="439.8" r="2.35"/>
<circle class="o" cx="576.5" cy="332.7" r="2.35"/>
<circle class="o" cx="497.6" cy="488.1" r="2.35"/>
<circle class="o" cx="473.8" cy="484.6" r="2.35"/>
<circle class="b" cx="555.8" cy="482.5" r="2.35"/>
<circle class="b" cx="459.4" cy="518.5" r="2.35"/>
<circle class="o" cx="615.7" cy="407.3" r="2.35"/>
<circle class="b" cx="469.5" cy="532.2" r="2.35"/>
<circle class="o" cx="518.5" cy="436.2" r="2.35"/>
<circle class="o" cx="528.6" cy="446.4" r="2.35"/>
<circle class="b" cx="525.8" cy="488.2" r="2.35"/>
<circle class="o" cx="543.1" cy="421.8" r="2.35"/>
<circle class="o" cx="547.2" cy="452.2" r="2.35"/>
<circle class="o" cx="468.8" cy="494.7" r="2.35"/>
<circle class="b" cx="596.2" cy="453.6" r="2.35"/>
<circle class="o" cx="549.3" cy="435.5" r="2.35"/>
<circle class="o" cx="458.6" cy="509.1" r="2.35"/>
<circle class="o" cx="523.6" cy="469.5" r="2.35"/>
<circle class="o" cx="468.8" cy="486.1" r="2.35"/>
<circle class="b" cx="503.4" cy="516.4" r="2.35"/>
<circle class="o" cx="555.1" cy="443.5" r="2.35"/>
<circle class="b" cx="671.2" cy="436.9" r="2.35"/>
<circle class="b" cx="517.1" cy="490.4" r="2.35"/>
<circle class="o" cx="496.9" cy="481.7" r="2.35"/>
<circle class="b" cx="459.4" cy="522.9" r="2.35"/>
<circle class="b" cx="657.5" cy="432.1" r="2.35"/>
<circle class="b" cx="603.9" cy="439.1" r="2.35"/>
<circle class="o" cx="558.0" cy="412.4" r="2.35"/>
<circle class="b" cx="512.9" cy="509.2" r="2.35"/>
<circle class="b" cx="493.5" cy="517.0" r="2.35"/>
<circle class="b" cx="694.1" cy="443.0" r="2.35"/>
<circle class="o" cx="672.4" cy="394.8" r="2.35"/>
<circle class="o" cx="470.2" cy="490.4" r="2.35"/>
<circle class="b" cx="546.7" cy="499.0" r="2.35"/>
<circle class="o" cx="602.7" cy="399.4" r="2.35"/>
<circle class="b" cx="510.6" cy="515.6" r="2.35"/>
<circle class="o" cx="505.6" cy="468.7" r="2.35"/>
<circle class="o" cx="679.6" cy="412.4" r="2.35"/>
<circle class="o" cx="512.3" cy="399.4" r="2.35"/>
<circle class="b" cx="565.5" cy="462.7" r="2.35"/>
<circle class="o" cx="680.7" cy="416.9" r="2.35"/>
<circle class="b" cx="463.0" cy="540.2" r="2.35"/>
<circle class="b" cx="490.4" cy="516.4" r="2.35"/>
<circle class="b" cx="571.0" cy="439.8" r="2.35"/>
<circle class="o" cx="582.5" cy="390.5" r="2.35"/>
<circle class="o" cx="531.5" cy="482.5" r="2.35"/>
<circle class="b" cx="498.3" cy="501.2" r="2.35"/>
<circle class="b" cx="470.9" cy="523.6" r="2.35"/>
<circle class="b" cx="466.6" cy="522.1" r="2.35"/>
<circle class="b" cx="460.1" cy="530.8" r="2.35"/>
<circle class="o" cx="545.2" cy="445.7" r="2.35"/>
<circle class="o" cx="493.3" cy="480.3" r="2.35"/>
<circle class="b" cx="508.4" cy="430.2" r="2.35"/>
<circle class="b" cx="552.9" cy="454.0" r="2.35"/>
<circle class="b" cx="679.2" cy="394.5" r="2.35"/>
<circle class="o" cx="501.9" cy="499.8" r="2.35"/>
<circle class="o" cx="510.6" cy="480.3" r="2.35"/>
<circle class="b" cx="531.5" cy="509.1" r="2.35"/>
<circle class="o" cx="571.0" cy="423.7" r="2.35"/>
<circle class="o" cx="496.2" cy="475.2" r="2.35"/>
<circle class="o" cx="670.2" cy="418.4" r="2.35"/>
<circle class="b" cx="627.3" cy="419.3" r="2.35"/>
<circle class="b" cx="640.5" cy="428.3" r="2.35"/>
<circle class="o" cx="577.0" cy="394.8" r="2.35"/>
<circle class="o" cx="626.8" cy="440.6" r="2.35"/>
<circle class="o" cx="610.7" cy="395.1" r="2.35"/>
<circle class="o" cx="479.6" cy="499.0" r="2.35"/>
<circle class="o" cx="476.7" cy="491.8" r="2.35"/>
<circle class="b" cx="505.6" cy="531.5" r="2.35"/>
<circle class="o" cx="639.5" cy="401.1" r="2.35"/>
<circle class="o" cx="573.9" cy="413.1" r="2.35"/>
<circle class="o" cx="586.1" cy="410.7" r="2.35"/>
<circle class="b" cx="549.3" cy="488.2" r="2.35"/>
<circle class="o" cx="575.3" cy="399.4" r="2.35"/>
<circle class="b" cx="515.7" cy="509.9" r="2.35"/>
<circle class="b" cx="489.0" cy="504.8" r="2.35"/>
<circle class="b" cx="615.0" cy="421.8" r="2.35"/>
<circle class="b" cx="514.2" cy="488.9" r="2.35"/>
<circle class="o" cx="661.7" cy="415.7" r="2.35"/>
<circle class="b" cx="476.0" cy="510.6" r="2.35"/>
<circle class="o" cx="706.1" cy="431.8" r="2.35"/>
<circle class="b" cx="462.3" cy="536.6" r="2.35"/>
<circle class="o" cx="593.4" cy="405.9" r="2.35"/>
<circle class="b" cx="455.0" cy="543.1" r="2.35"/>
<circle class="b" cx="560.9" cy="455.5" r="2.35"/>
<circle class="o" cx="454.6" cy="525.1" r="2.35"/>
<circle class="o" cx="512.8" cy="449.7" r="2.35"/>
<circle class="o" cx="571.7" cy="399.1" r="2.35"/>
<circle class="b" cx="487.5" cy="494.7" r="2.35"/>
<circle class="b" cx="475.2" cy="523.6" r="2.35"/>
<circle class="o" cx="618.6" cy="418.2" r="2.35"/>
<circle class="o" cx="474.0" cy="492.8" r="2.35"/>
<circle class="o" cx="679.2" cy="402.5" r="2.35"/>
<circle class="o" cx="540.2" cy="432.6" r="2.35"/>
<circle class="b" cx="589.0" cy="447.8" r="2.35"/>
<circle class="o" cx="617.9" cy="410.2" r="2.35"/>
<circle class="o" cx="642.4" cy="440.6" r="2.35"/>
<circle class="o" cx="570.7" cy="413.8" r="2.35"/>
<circle class="o" cx="486.1" cy="486.1" r="2.35"/>
<circle class="o" cx="453.6" cy="512.0" r="2.35"/>
<circle class="b" cx="480.3" cy="509.1" r="2.35"/>
<circle class="o" cx="687.1" cy="397.0" r="2.35"/>
<circle class="o" cx="456.5" cy="496.2" r="2.35"/>
<circle class="o" cx="683.6" cy="388.0" r="2.35"/>
<circle class="b" cx="483.9" cy="497.6" r="2.35"/>
<circle class="o" cx="456.7" cy="522.1" r="2.35"/>
<circle class="b" cx="497.0" cy="517.4" r="2.35"/>
<circle class="o" cx="637.4" cy="432.6" r="2.35"/>
<circle class="o" cx="500.5" cy="474.5" r="2.35"/>
<circle class="o" cx="561.6" cy="422.5" r="2.35"/>
<circle class="o" cx="507.7" cy="401.3" r="2.35"/>
<circle class="o" cx="667.2" cy="397.7" r="2.35"/>
<circle class="b" cx="604.2" cy="406.9" r="2.35"/>
<circle class="o" cx="463.0" cy="500.5" r="2.35"/>
<circle class="b" cx="452.9" cy="546.7" r="2.35"/>
<circle class="o" cx="496.2" cy="491.1" r="2.35"/>
<circle class="o" cx="635.9" cy="392.6" r="2.35"/>
<circle class="b" cx="506.6" cy="493.0" r="2.35"/>
<circle class="o" cx="465.9" cy="491.8" r="2.35"/>
<circle class="b" cx="492.6" cy="491.1" r="2.35"/>
<circle class="o" cx="660.5" cy="403.0" r="2.35"/>
<circle class="b" cx="449.0" cy="542.5" r="2.35"/>
<circle class="b" cx="519.3" cy="504.8" r="2.35"/>
<circle class="o" cx="557.3" cy="431.5" r="2.35"/>
<circle class="b" cx="643.1" cy="434.1" r="2.35"/>
<circle class="b" cx="503.4" cy="532.2" r="2.35"/>
<circle class="b" cx="506.3" cy="526.5" r="2.35"/>
<circle class="b" cx="625.8" cy="434.3" r="2.35"/>
<circle class="o" cx="537.3" cy="422.5" r="2.35"/>
<circle class="o" cx="490.4" cy="470.9" r="2.35"/>
<circle class="b" cx="560.2" cy="478.8" r="2.35"/>
<circle class="b" cx="496.9" cy="535.8" r="2.35"/>
<circle class="o" cx="540.9" cy="447.1" r="2.35"/>
<circle class="o" cx="648.9" cy="410.2" r="2.35"/>
<circle class="o" cx="461.5" cy="525.0" r="2.35"/>
<circle class="b" cx="496.2" cy="520.4" r="2.35"/>
<circle class="o" cx="581.8" cy="354.4" r="2.35"/>
<circle class="o" cx="523.9" cy="421.8" r="2.35"/>
<circle class="o" cx="650.4" cy="415.3" r="2.35"/>
<circle class="o" cx="509.2" cy="434.8" r="2.35"/>
<circle class="o" cx="684.7" cy="405.5" r="2.35"/>
<circle class="b" cx="452.9" cy="530.8" r="2.35"/>
<circle class="o" cx="640.0" cy="398.7" r="2.35"/>
<circle class="o" cx="648.2" cy="384.2" r="2.35"/>
<circle class="o" cx="644.6" cy="404.9" r="2.35"/>
<circle class="o" cx="662.0" cy="399.2" r="2.35"/>
<circle class="o" cx="619.3" cy="403.7" r="2.35"/>
<circle class="o" cx="595.5" cy="416.3" r="2.35"/>
<circle class="b" cx="478.9" cy="522.1" r="2.35"/>
<circle class="o" cx="576.8" cy="428.6" r="2.35"/>
<circle class="b" cx="509.9" cy="532.2" r="2.35"/>
<circle class="b" cx="501.9" cy="512.0" r="2.35"/>
<circle class="b" cx="517.8" cy="520.0" r="2.35"/>
<circle class="o" cx="495.5" cy="487.5" r="2.35"/>
<circle class="b" cx="542.4" cy="450.0" r="2.35"/>
<circle class="o" cx="586.9" cy="378.8" r="2.35"/>
<circle class="b" cx="515.4" cy="540.6" r="2.35"/>
<circle class="b" cx="452.2" cy="543.8" r="2.35"/>
<circle class="b" cx="529.4" cy="478.8" r="2.35"/>
<circle class="b" cx="491.0" cy="507.7" r="2.35"/>
<circle class="b" cx="531.1" cy="495.4" r="2.35"/>
<circle class="b" cx="577.0" cy="442.8" r="2.35"/>
<circle class="o" cx="464.4" cy="488.2" r="2.35"/>
<circle class="b" cx="471.6" cy="518.5" r="2.35"/>
<circle class="o" cx="561.2" cy="386.7" r="2.35"/>
<circle class="b" cx="694.9" cy="453.7" r="2.35"/>
<circle class="b" cx="601.0" cy="415.0" r="2.35"/>
<circle class="o" cx="697.5" cy="401.5" r="2.35"/>
<circle class="o" cx="563.8" cy="442.1" r="2.35"/>
<circle class="o" cx="483.6" cy="457.9" r="2.35"/>
<circle class="o" cx="536.3" cy="417.5" r="2.35"/>
<circle class="o" cx="451.4" cy="532.2" r="2.35"/>
<circle class="o" cx="454.3" cy="515.6" r="2.35"/>
<circle class="o" cx="540.6" cy="414.6" r="2.35"/>
<circle class="o" cx="455.8" cy="520.0" r="2.35"/>
<circle class="b" cx="700.5" cy="435.1" r="2.35"/>
<circle class="o" cx="457.9" cy="501.9" r="2.35"/>
<circle class="b" cx="728.5" cy="426.5" r="2.35"/>
<circle class="b" cx="547.9" cy="443.9" r="2.35"/>
<circle class="b" cx="512.8" cy="506.3" r="2.35"/>
<circle class="o" cx="540.9" cy="424.0" r="2.35"/>
<circle class="b" cx="495.1" cy="502.0" r="2.35"/>
<circle class="o" cx="553.7" cy="445.9" r="2.35"/>
<circle class="b" cx="519.3" cy="525.7" r="2.35"/>
<circle class="o" cx="673.9" cy="403.7" r="2.35"/>
<circle class="o" cx="679.9" cy="390.3" r="2.35"/>
<circle class="o" cx="515.7" cy="465.1" r="2.35"/>
<circle class="o" cx="504.8" cy="500.5" r="2.35"/>
<circle class="o" cx="572.5" cy="429.0" r="2.35"/>
<circle class="o" cx="664.2" cy="424.7" r="2.35"/>
<circle class="b" cx="721.8" cy="423.2" r="2.35"/>
<circle class="b" cx="582.8" cy="458.6" r="2.35"/>
<circle class="b" cx="703.8" cy="435.9" r="2.35"/>
<circle class="o" cx="620.1" cy="400.1" r="2.35"/>
<circle class="b" cx="643.1" cy="422.5" r="2.35"/>
<circle class="o" cx="618.6" cy="413.1" r="2.35"/>
<circle class="b" cx="456.3" cy="526.2" r="2.35"/>
<circle class="o" cx="627.3" cy="392.2" r="2.35"/>
<circle class="o" cx="630.9" cy="410.2" r="2.35"/>
<circle class="o" cx="471.1" cy="508.9" r="2.35"/>
<circle class="o" cx="585.4" cy="403.7" r="2.35"/>
<circle class="b" cx="481.7" cy="514.9" r="2.35"/>
<circle class="o" cx="671.2" cy="381.3" r="2.35"/>
<circle class="o" cx="460.1" cy="491.1" r="2.35"/>
<circle class="o" cx="456.5" cy="510.6" r="2.35"/>
<circle class="o" cx="452.2" cy="523.6" r="2.35"/>
<circle class="b" cx="467.3" cy="517.8" r="2.35"/>
<circle class="b" cx="477.4" cy="513.5" r="2.35"/>
<circle class="b" cx="624.4" cy="451.9" r="2.35"/>
<circle class="o" cx="487.5" cy="512.0" r="2.35"/>
<circle class="o" cx="602.7" cy="392.2" r="2.35"/>
<circle class="o" cx="688.9" cy="413.9" r="2.35"/>
<circle class="o" cx="482.0" cy="470.2" r="2.35"/>
<circle class="b" cx="465.9" cy="504.1" r="2.35"/>
<circle class="o" cx="514.6" cy="428.6" r="2.35"/>
<circle class="o" cx="513.2" cy="434.1" r="2.35"/>
<circle class="o" cx="458.9" cy="480.6" r="2.35"/>
<circle class="o" cx="552.2" cy="435.2" r="2.35"/>
<circle class="b" cx="531.5" cy="469.5" r="2.35"/>
<circle class="o" cx="628.4" cy="386.7" r="2.35"/>
<circle class="o" cx="535.1" cy="462.3" r="2.35"/>
<circle class="o" cx="542.7" cy="444.5" r="2.35"/>
<circle class="o" cx="462.3" cy="503.4" r="2.35"/>
<circle class="o" cx="544.5" cy="415.7" r="2.35"/>
<circle class="o" cx="597.7" cy="424.0" r="2.35"/>
<circle class="o" cx="552.2" cy="421.8" r="2.35"/>
<circle class="o" cx="542.1" cy="411.2" r="2.35"/>
<circle class="o" cx="492.3" cy="483.2" r="2.35"/>
<circle class="o" cx="595.8" cy="379.5" r="2.35"/>
<circle class="o" cx="720.3" cy="411.2" r="2.35"/>
<circle class="o" cx="579.2" cy="428.0" r="2.35"/>
<circle class="b" cx="455.8" cy="523.6" r="2.35"/>
<circle class="o" cx="612.1" cy="398.7" r="2.35"/>
<circle class="o" cx="618.3" cy="388.1" r="2.35"/>
<circle class="b" cx="663.5" cy="434.8" r="2.35"/>
<circle class="b" cx="455.8" cy="546.7" r="2.35"/>
<circle class="o" cx="542.4" cy="438.4" r="2.35"/>
<circle class="b" cx="454.3" cy="552.4" r="2.35"/>
<circle class="o" cx="512.1" cy="483.9" r="2.35"/>
<circle class="o" cx="507.7" cy="454.3" r="2.35"/>
<circle class="o" cx="489.7" cy="481.0" r="2.35"/>
<circle class="b" cx="515.7" cy="526.5" r="2.35"/>
<circle class="o" cx="467.3" cy="499.0" r="2.35"/>
<circle class="o" cx="753.6" cy="413.9" r="2.35"/>
<circle class="b" cx="670.9" cy="438.9" r="2.35"/>
<circle class="b" cx="476.7" cy="527.9" r="2.35"/>
<circle class="o" cx="564.5" cy="423.2" r="2.35"/>
<circle class="o" cx="536.6" cy="420.5" r="2.35"/>
<circle class="b" cx="491.8" cy="510.6" r="2.35"/>
<circle class="o" cx="595.5" cy="398.0" r="2.35"/>
<circle class="b" cx="458.6" cy="504.8" r="2.35"/>
<circle class="b" cx="496.5" cy="526.9" r="2.35"/>
<circle class="o" cx="496.1" cy="479.0" r="2.35"/>
<circle class="b" cx="570.7" cy="440.2" r="2.35"/>
<circle class="b" cx="516.4" cy="507.7" r="2.35"/>
<circle class="o" cx="524.3" cy="449.3" r="2.35"/>
<circle class="o" cx="463.4" cy="492.2" r="2.35"/>
<circle class="o" cx="581.8" cy="403.0" r="2.35"/>
<circle class="o" cx="580.1" cy="401.6" r="2.35"/>
<circle class="o" cx="630.2" cy="406.6" r="2.35"/>
<circle class="o" cx="504.8" cy="480.3" r="2.35"/>
<circle class="o" cx="668.7" cy="393.0" r="2.35"/>
<circle class="o" cx="702.3" cy="400.7" r="2.35"/>
<circle class="o" cx="576.8" cy="402.3" r="2.35"/>
<circle class="o" cx="706.1" cy="399.2" r="2.35"/>
<circle class="o" cx="477.4" cy="516.4" r="2.35"/>
<circle class="b" cx="476.0" cy="503.4" r="2.35"/>
<circle class="o" cx="524.3" cy="463.0" r="2.35"/>
<circle class="o" cx="532.3" cy="463.0" r="2.35"/>
<circle class="b" cx="514.9" cy="484.6" r="2.35"/>
<circle class="b" cx="471.6" cy="526.5" r="2.35"/>
<circle class="o" cx="510.6" cy="411.0" r="2.35"/>
<circle class="o" cx="450.4" cy="525.8" r="2.35"/>
<circle class="o" cx="693.1" cy="410.2" r="2.35"/>
<circle class="b" cx="731.5" cy="425.4" r="2.35"/>
<circle class="o" cx="504.8" cy="494.7" r="2.35"/>
<circle class="o" cx="461.0" cy="506.4" r="2.35"/>
<circle class="b" cx="752.1" cy="474.7" r="2.35"/>
<circle class="o" cx="555.8" cy="411.0" r="2.35"/>
<circle class="o" cx="599.8" cy="386.4" r="2.35"/>
<circle class="o" cx="515.7" cy="436.9" r="2.35"/>
<rect x="437.1" y="321.9" width="331.4" height="242.3" fill="none" stroke="#666666" stroke-width="1.2"/>
<line x1="434.2" x2="437.1" y1="365.0" y2="365.0" stroke="#666666" stroke-width="0.9"/>
<g font-size="8.0" fill="#2a2a2a" stroke="#2a2a2a" stroke-width="0.3"><text transform="translate(421.12 367.75) scale(0.744 1.000)">0</text><text x="424.29" y="367.75">.</text><text transform="translate(428.42 367.75) scale(0.751 1.000)">3</text></g>
<line x1="434.2" x2="437.1" y1="411.6" y2="411.6" stroke="#666666" stroke-width="0.9"/>
<g font-size="8.0" fill="#2a2a2a" stroke="#2a2a2a" stroke-width="0.3"><text transform="translate(421.12 414.30) scale(0.744 1.000)">0</text><text x="424.29" y="414.30">.</text><text transform="translate(428.34 414.30) scale(0.781 1.000)">2</text></g>
<line x1="434.2" x2="437.1" y1="458.1" y2="458.1" stroke="#666666" stroke-width="0.9"/>
<g font-size="8.0" fill="#2a2a2a" stroke="#2a2a2a" stroke-width="0.3"><text transform="translate(421.12 460.85) scale(0.744 1.000)">0</text><text x="424.29" y="460.85">.</text><text transform="translate(428.15 460.85) scale(0.825 1.000)">1</text></g>
<line x1="434.2" x2="437.1" y1="504.7" y2="504.7" stroke="#666666" stroke-width="0.9"/>
<g font-size="8.0" fill="#2a2a2a" stroke="#2a2a2a" stroke-width="0.3"><text transform="translate(421.12 507.40) scale(0.744 1.000)">0</text><text x="424.29" y="507.40">.</text><text transform="translate(428.42 507.40) scale(0.744 1.000)">0</text></g>
<line x1="434.2" x2="437.1" y1="551.2" y2="551.2" stroke="#666666" stroke-width="0.9"/>
<g font-size="8.0" fill="#2a2a2a" stroke="#2a2a2a" stroke-width="0.3"><text transform="translate(417.41 553.95) scale(0.732 1.000)">−</text><text transform="translate(421.12 553.95) scale(0.744 1.000)">0</text><text x="424.29" y="553.95">.</text><text transform="translate(428.15 553.95) scale(0.825 1.000)">1</text></g>
<line x1="449.0" x2="449.0" y1="564.2" y2="567.1" stroke="#666666" stroke-width="0.9"/>
<g font-size="8.0" fill="#2a2a2a" stroke="#2a2a2a" stroke-width="0.3"><text transform="translate(447.34 574.30) scale(0.744 1.000)">0</text></g>
<line x1="518.9" x2="518.9" y1="564.2" y2="567.1" stroke="#666666" stroke-width="0.9"/>
<g font-size="8.0" fill="#2a2a2a" stroke="#2a2a2a" stroke-width="0.3"><text transform="translate(517.24 574.30) scale(0.751 1.000)">5</text></g>
<line x1="588.8" x2="588.8" y1="564.2" y2="567.1" stroke="#666666" stroke-width="0.9"/>
<g font-size="8.0" fill="#2a2a2a" stroke="#2a2a2a" stroke-width="0.3"><text transform="translate(585.05 574.30) scale(0.825 1.000)">1</text><text transform="translate(588.97 574.30) scale(0.744 1.000)">0</text></g>
<line x1="658.7" x2="658.7" y1="564.2" y2="567.1" stroke="#666666" stroke-width="0.9"/>
<g font-size="8.0" fill="#2a2a2a" stroke="#2a2a2a" stroke-width="0.3"><text transform="translate(654.95 574.30) scale(0.825 1.000)">1</text><text transform="translate(658.86 574.30) scale(0.751 1.000)">5</text></g>
<line x1="728.6" x2="728.6" y1="564.2" y2="567.1" stroke="#666666" stroke-width="0.9"/>
<g font-size="8.0" fill="#2a2a2a" stroke="#2a2a2a" stroke-width="0.3"><text transform="translate(725.04 574.30) scale(0.781 1.000)">2</text><text transform="translate(728.77 574.30) scale(0.744 1.000)">0</text></g>
<g font-size="9.4" fill="#000000" stroke="#000000" stroke-width="0.4"><text transform="translate(584.21 585.70) scale(0.841 1.100)">D</text><text x="590.83" y="585.70">-</text><text transform="translate(594.61 585.70) scale(0.841 1.100)">D</text><text x="601.76" y="585.70">i</text><text transform="translate(605.22 585.70) scale(0.711 1.000)">m</text><text x="610.60" y="585.70">e</text><text x="616.60" y="585.70">r</text></g>
<g transform="rotate(-90 413.0 443.1)"><g font-size="9.4" fill="#000000" stroke="#000000" stroke-width="0.4"><text transform="translate(355.69 443.05) scale(0.865 1.100)">S</text><text transform="translate(360.57 443.05) scale(0.891 1.100)">H</text><text transform="translate(366.45 443.05) scale(0.751 1.100)">A</text><text transform="translate(370.94 443.05) scale(0.935 1.100)">P</text><text transform="translate(382.03 443.05) scale(0.756 1.100)">V</text><text transform="translate(386.87 443.05) scale(0.969 1.000)">a</text><text x="393.75" y="443.05">l</text><text x="397.39" y="443.05">u</text><text x="402.60" y="443.05">e</text><text x="414.22" y="443.05">f</text><text x="418.19" y="443.05">o</text><text x="424.20" y="443.05">r</text><text transform="translate(433.41 443.05) scale(0.841 1.100)">D</text><text x="440.03" y="443.05">-</text><text transform="translate(443.81 443.05) scale(0.841 1.100)">D</text><text x="450.96" y="443.05">i</text><text transform="translate(454.42 443.05) scale(0.711 1.000)">m</text><text x="459.80" y="443.05">e</text><text x="465.80" y="443.05">r</text></g></g>
<rect x="699.4" y="326.0" width="65.0" height="31.2" rx="1.5" fill="#fff" fill-opacity="0.8" stroke="#d6d6d6" stroke-width="0.8"/>
<g font-size="7.5" fill="#151515" font-weight="bold" stroke="#151515" stroke-width="0.1"><text x="703.29" y="333.80">I</text><text x="706.68" y="333.80">f</text><text transform="translate(713.49 333.80) scale(0.674 1.000)">C</text><text transform="translate(717.30 333.80) scale(0.748 1.000)">T</text><text transform="translate(720.64 333.80) scale(0.778 1.000)">P</text><text transform="translate(724.58 333.80) scale(0.656 1.000)">A</text><text transform="translate(731.65 333.80) scale(0.778 1.000)">P</text><text transform="translate(735.47 333.80) scale(0.827 1.000)">o</text><text transform="translate(739.14 333.80) scale(0.918 1.000)">s</text><text x="743.67" y="333.80">i</text><text x="747.13" y="333.80">t</text><text x="751.01" y="333.80">i</text><text transform="translate(754.04 333.80) scale(0.804 1.000)">v</text><text transform="translate(757.47 333.80) scale(0.912 1.000)">e</text></g>
<circle cx="713.9" cy="341.6" r="2.45" fill="#1c74b0"/>
<circle cx="713.9" cy="351.3" r="2.45" fill="#f07c14"/>
<g font-size="7.5" fill="#151515" font-weight="bold" stroke="#151515" stroke-width="0.1"><text transform="translate(728.01 343.80) scale(0.749 1.000)">N</text><text transform="translate(731.79 343.80) scale(0.912 1.000)">e</text><text transform="translate(735.45 343.80) scale(0.876 1.000)">g</text><text transform="translate(739.21 343.80) scale(0.826 1.000)">a</text><text x="743.47" y="343.80">t</text><text x="747.35" y="343.80">i</text><text transform="translate(750.38 343.80) scale(0.804 1.000)">v</text><text transform="translate(753.81 343.80) scale(0.912 1.000)">e</text></g>
<g font-size="7.5" fill="#151515" font-weight="bold" stroke="#151515" stroke-width="0.1"><text transform="translate(727.99 353.50) scale(0.778 1.000)">P</text><text transform="translate(731.81 353.50) scale(0.827 1.000)">o</text><text transform="translate(735.48 353.50) scale(0.918 1.000)">s</text><text x="740.01" y="353.50">i</text><text x="743.47" y="353.50">t</text><text x="747.35" y="353.50">i</text><text transform="translate(750.38 353.50) scale(0.804 1.000)">v</text><text transform="translate(753.81 353.50) scale(0.912 1.000)">e</text></g>
<line x1="44.5" x2="373.3" y1="707.1" y2="707.1" stroke="#e01e22" stroke-width="1.35"/>
<circle class="o" cx="285.7" cy="696.9" r="2.35"/>
<circle class="o" cx="162.1" cy="675.3" r="2.35"/>
<circle class="o" cx="79.4" cy="751.2" r="2.35"/>
<circle class="b" cx="238.6" cy="702.5" r="2.35"/>
<circle class="o" cx="191.3" cy="661.2" r="2.35"/>
<circle class="o" cx="226.3" cy="654.4" r="2.35"/>
<circle class="b" cx="165.2" cy="692.5" r="2.35"/>
<circle class="b" cx="215.5" cy="697.0" r="2.35"/>
<circle class="o" cx="178.0" cy="681.1" r="2.35"/>
<circle class="o" cx="166.4" cy="686.9" r="2.35"/>
<circle class="o" cx="251.4" cy="662.1" r="2.35"/>
<circle class="o" cx="180.9" cy="673.9" r="2.35"/>
<circle class="b" cx="274.4" cy="712.6" r="2.35"/>
<circle class="b" cx="130.6" cy="743.2" r="2.35"/>
<circle class="b" cx="137.8" cy="742.5" r="2.35"/>
<circle class="b" cx="244.4" cy="684.7" r="2.35"/>
<circle class="o" cx="221.3" cy="668.8" r="2.35"/>
<circle class="b" cx="301.6" cy="690.1" r="2.35"/>
<circle class="o" cx="120.5" cy="720.1" r="2.35"/>
<circle class="b" cx="104.6" cy="769.2" r="2.35"/>
<circle class="o" cx="195.3" cy="676.8" r="2.35"/>
<circle class="b" cx="274.4" cy="702.8" r="2.35"/>
<circle class="b" cx="321.0" cy="705.4" r="2.35"/>
<circle class="o" cx="131.2" cy="708.5" r="2.35"/>
<circle class="o" cx="225.6" cy="686.9" r="2.35"/>
<circle class="b" cx="230.7" cy="715.0" r="2.35"/>
<circle class="o" cx="169.3" cy="655.1" r="2.35"/>
<circle class="b" cx="136.2" cy="721.0" r="2.35"/>
<circle class="o" cx="157.8" cy="676.8" r="2.35"/>
<circle class="b" cx="109.7" cy="767.0" r="2.35"/>
<circle class="o" cx="254.8" cy="650.8" r="2.35"/>
<circle class="o" cx="270.3" cy="660.2" r="2.35"/>
<circle class="b" cx="64.9" cy="822.6" r="2.35"/>
<circle class="o" cx="80.1" cy="735.9" r="2.35"/>
<circle class="b" cx="219.8" cy="698.4" r="2.35"/>
<circle class="b" cx="236.9" cy="669.5" r="2.35"/>
<circle class="b" cx="127.7" cy="730.2" r="2.35"/>
<circle class="o" cx="290.9" cy="700.6" r="2.35"/>
<circle class="o" cx="354.8" cy="643.7" r="2.35"/>
<circle class="o" cx="255.9" cy="666.6" r="2.35"/>
<circle class="o" cx="166.4" cy="668.8" r="2.35"/>
<circle class="o" cx="151.5" cy="688.3" r="2.35"/>
<circle class="b" cx="124.8" cy="738.8" r="2.35"/>
<circle class="b" cx="193.1" cy="707.1" r="2.35"/>
<circle class="b" cx="214.1" cy="694.1" r="2.35"/>
<circle class="b" cx="199.6" cy="700.6" r="2.35"/>
<circle class="o" cx="195.3" cy="688.3" r="2.35"/>
<circle class="o" cx="139.3" cy="695.5" r="2.35"/>
<circle class="o" cx="342.3" cy="641.0" r="2.35"/>
<circle class="o" cx="106.1" cy="731.6" r="2.35"/>
<circle class="o" cx="204.0" cy="663.8" r="2.35"/>
<circle class="o" cx="127.7" cy="708.5" r="2.35"/>
<circle class="b" cx="227.1" cy="699.1" r="2.35"/>
<circle class="o" cx="238.6" cy="681.8" r="2.35"/>
<circle class="o" cx="185.2" cy="658.7" r="2.35"/>
<circle class="b" cx="202.8" cy="724.4" r="2.35"/>
<circle class="b" cx="90.9" cy="794.9" r="2.35"/>
<circle class="b" cx="167.9" cy="700.6" r="2.35"/>
<circle class="b" cx="79.4" cy="770.6" r="2.35"/>
<circle class="b" cx="92.4" cy="788.2" r="2.35"/>
<circle class="b" cx="145.0" cy="728.7" r="2.35"/>
<circle class="o" cx="89.0" cy="790.1" r="2.35"/>
<circle class="o" cx="145.0" cy="700.6" r="2.35"/>
<circle class="b" cx="116.2" cy="730.2" r="2.35"/>
<circle class="b" cx="122.7" cy="735.9" r="2.35"/>
<circle class="b" cx="145.0" cy="744.7" r="2.35"/>
<circle class="b" cx="119.9" cy="754.6" r="2.35"/>
<circle class="b" cx="197.1" cy="700.1" r="2.35"/>
<circle class="b" cx="189.5" cy="683.2" r="2.35"/>
<circle class="b" cx="184.0" cy="684.2" r="2.35"/>
<circle class="o" cx="153.7" cy="699.1" r="2.35"/>
<circle class="o" cx="190.2" cy="649.0" r="2.35"/>
<circle class="o" cx="114.7" cy="704.2" r="2.35"/>
<circle class="b" cx="148.6" cy="780.5" r="2.35"/>
<circle class="o" cx="227.1" cy="688.3" r="2.35"/>
<circle class="o" cx="209.7" cy="669.3" r="2.35"/>
<circle class="o" cx="176.5" cy="662.3" r="2.35"/>
<circle class="o" cx="98.8" cy="738.8" r="2.35"/>
<circle class="b" cx="114.7" cy="738.1" r="2.35"/>
<circle class="b" cx="196.7" cy="691.9" r="2.35"/>
<circle class="b" cx="186.8" cy="698.2" r="2.35"/>
<circle class="o" cx="261.0" cy="660.9" r="2.35"/>
<circle class="o" cx="180.9" cy="645.7" r="2.35"/>
<circle class="b" cx="132.1" cy="731.4" r="2.35"/>
<circle class="o" cx="189.5" cy="668.1" r="2.35"/>
<circle class="o" cx="182.3" cy="663.8" r="2.35"/>
<circle class="o" cx="72.9" cy="728.7" r="2.35"/>
<circle class="o" cx="268.8" cy="653.5" r="2.35"/>
<circle class="b" cx="279.1" cy="691.8" r="2.35"/>
<circle class="b" cx="196.7" cy="681.8" r="2.35"/>
<circle class="b" cx="142.1" cy="757.6" r="2.35"/>
<circle class="b" cx="103.2" cy="766.3" r="2.35"/>
<circle class="o" cx="111.8" cy="700.6" r="2.35"/>
<circle class="o" cx="63.9" cy="698.1" r="2.35"/>
<circle class="b" cx="74.6" cy="820.4" r="2.35"/>
<circle class="o" cx="187.4" cy="654.4" r="2.35"/>
<circle class="b" cx="169.3" cy="691.2" r="2.35"/>
<circle class="o" cx="208.9" cy="677.7" r="2.35"/>
<circle class="o" cx="119.1" cy="715.0" r="2.35"/>
<circle class="b" cx="68.5" cy="768.5" r="2.35"/>
<circle class="b" cx="141.4" cy="770.6" r="2.35"/>
<circle class="b" cx="192.4" cy="682.5" r="2.35"/>
<circle class="o" cx="116.2" cy="711.4" r="2.35"/>
<circle class="b" cx="178.0" cy="691.2" r="2.35"/>
<circle class="o" cx="257.4" cy="660.1" r="2.35"/>
<circle class="b" cx="188.1" cy="697.7" r="2.35"/>
<circle class="o" cx="111.8" cy="707.8" r="2.35"/>
<circle class="b" cx="107.5" cy="747.5" r="2.35"/>
<circle class="b" cx="80.8" cy="782.2" r="2.35"/>
<circle class="o" cx="232.8" cy="678.2" r="2.35"/>
<circle class="o" cx="162.1" cy="682.5" r="2.35"/>
<circle class="o" cx="94.5" cy="710.7" r="2.35"/>
<circle class="o" cx="267.3" cy="671.2" r="2.35"/>
<circle class="b" cx="295.7" cy="706.8" r="2.35"/>
<circle class="b" cx="109.7" cy="780.7" r="2.35"/>
<circle class="b" cx="147.9" cy="734.5" r="2.35"/>
<circle class="b" cx="288.6" cy="663.4" r="2.35"/>
<circle class="o" cx="238.6" cy="665.2" r="2.35"/>
<circle class="b" cx="59.9" cy="769.2" r="2.35"/>
<circle class="o" cx="192.4" cy="665.2" r="2.35"/>
<circle class="o" cx="302.6" cy="689.3" r="2.35"/>
<circle class="b" cx="101.7" cy="744.7" r="2.35"/>
<circle class="o" cx="124.8" cy="695.5" r="2.35"/>
<circle class="b" cx="222.7" cy="679.6" r="2.35"/>
<circle class="b" cx="206.8" cy="702.0" r="2.35"/>
<circle class="b" cx="232.6" cy="676.0" r="2.35"/>
<circle class="b" cx="127.7" cy="741.8" r="2.35"/>
<circle class="b" cx="170.1" cy="694.0" r="2.35"/>
<circle class="o" cx="78.6" cy="734.5" r="2.35"/>
<circle class="o" cx="285.7" cy="658.4" r="2.35"/>
<circle class="o" cx="241.5" cy="659.4" r="2.35"/>
<circle class="o" cx="170.0" cy="658.7" r="2.35"/>
<circle class="b" cx="111.3" cy="754.5" r="2.35"/>
<circle class="b" cx="235.7" cy="717.9" r="2.35"/>
<circle class="b" cx="230.7" cy="678.2" r="2.35"/>
<circle class="b" cx="229.9" cy="700.6" r="2.35"/>
<circle class="o" cx="69.3" cy="731.6" r="2.35"/>
<circle class="o" cx="348.1" cy="642.5" r="2.35"/>
<circle class="o" cx="119.8" cy="708.5" r="2.35"/>
<circle class="o" cx="62.8" cy="774.7" r="2.35"/>
<circle class="o" cx="136.4" cy="692.6" r="2.35"/>
<circle class="o" cx="112.6" cy="725.8" r="2.35"/>
<circle class="o" cx="85.1" cy="804.1" r="2.35"/>
<circle class="b" cx="92.4" cy="769.2" r="2.35"/>
<circle class="b" cx="299.7" cy="694.0" r="2.35"/>
<circle class="o" cx="238.6" cy="660.9" r="2.35"/>
<circle class="b" cx="87.3" cy="766.6" r="2.35"/>
<circle class="b" cx="114.7" cy="769.2" r="2.35"/>
<circle class="o" cx="91.1" cy="735.4" r="2.35"/>
<circle class="o" cx="201.1" cy="682.5" r="2.35"/>
<circle class="o" cx="77.5" cy="746.8" r="2.35"/>
<circle class="o" cx="237.2" cy="689.7" r="2.35"/>
<circle class="o" cx="137.8" cy="702.0" r="2.35"/>
<circle class="b" cx="104.6" cy="740.3" r="2.35"/>
<circle class="b" cx="231.4" cy="707.8" r="2.35"/>
<circle class="b" cx="75.8" cy="758.4" r="2.35"/>
<circle class="b" cx="202.5" cy="686.9" r="2.35"/>
<circle class="o" cx="329.8" cy="689.8" r="2.35"/>
<circle class="o" cx="242.9" cy="686.9" r="2.35"/>
<circle class="b" cx="151.5" cy="728.7" r="2.35"/>
<circle class="o" cx="130.6" cy="713.6" r="2.35"/>
<circle class="b" cx="87.3" cy="756.2" r="2.35"/>
<circle class="b" cx="126.3" cy="751.9" r="2.35"/>
<circle class="o" cx="108.4" cy="701.7" r="2.35"/>
<circle class="o" cx="150.8" cy="725.8" r="2.35"/>
<circle class="b" cx="143.6" cy="735.9" r="2.35"/>
<circle class="o" cx="173.0" cy="657.7" r="2.35"/>
<circle class="o" cx="215.5" cy="686.1" r="2.35"/>
<circle class="o" cx="120.5" cy="704.2" r="2.35"/>
<circle class="b" cx="179.5" cy="693.7" r="2.35"/>
<circle class="b" cx="132.0" cy="759.1" r="2.35"/>
<circle class="b" cx="136.4" cy="739.6" r="2.35"/>
<circle class="o" cx="86.6" cy="719.3" r="2.35"/>
<circle class="b" cx="169.3" cy="686.9" r="2.35"/>
<circle class="b" cx="245.8" cy="706.3" r="2.35"/>
<circle class="b" cx="140.7" cy="746.1" r="2.35"/>
<circle class="o" cx="305.8" cy="654.0" r="2.35"/>
<circle class="b" cx="125.5" cy="720.1" r="2.35"/>
<circle class="b" cx="250.1" cy="705.6" r="2.35"/>
<circle class="b" cx="238.6" cy="698.4" r="2.35"/>
<circle class="o" cx="206.8" cy="668.1" r="2.35"/>
<circle class="o" cx="106.3" cy="733.9" r="2.35"/>
<circle class="o" cx="116.2" cy="701.3" r="2.35"/>
<circle class="b" cx="77.9" cy="790.8" r="2.35"/>
<circle class="b" cx="133.2" cy="747.0" r="2.35"/>
<circle class="o" cx="96.0" cy="719.3" r="2.35"/>
<circle class="b" cx="186.6" cy="691.2" r="2.35"/>
<circle class="b" cx="173.6" cy="684.0" r="2.35"/>
<circle class="o" cx="98.1" cy="724.4" r="2.35"/>
<circle class="b" cx="62.0" cy="762.3" r="2.35"/>
<circle class="o" cx="160.7" cy="672.4" r="2.35"/>
<circle class="o" cx="274.7" cy="659.9" r="2.35"/>
<circle class="o" cx="140.5" cy="705.6" r="2.35"/>
<circle class="b" cx="179.4" cy="679.6" r="2.35"/>
<circle class="o" cx="307.3" cy="631.8" r="2.35"/>
<circle class="b" cx="152.2" cy="737.4" r="2.35"/>
<circle class="o" cx="147.6" cy="755.0" r="2.35"/>
<circle class="b" cx="126.4" cy="744.0" r="2.35"/>
<circle class="o" cx="193.9" cy="668.8" r="2.35"/>
<circle class="o" cx="98.8" cy="717.9" r="2.35"/>
<circle class="b" cx="150.8" cy="759.1" r="2.35"/>
<circle class="b" cx="81.8" cy="785.8" r="2.35"/>
<circle class="o" cx="219.8" cy="673.9" r="2.35"/>
<circle class="b" cx="85.1" cy="792.0" r="2.35"/>
<circle class="o" cx="147.9" cy="705.6" r="2.35"/>
<circle class="b" cx="88.0" cy="775.0" r="2.35"/>
<circle class="o" cx="236.0" cy="653.4" r="2.35"/>
<circle class="b" cx="238.6" cy="716.5" r="2.35"/>
<circle class="b" cx="116.2" cy="771.4" r="2.35"/>
<circle class="o" cx="232.8" cy="663.8" r="2.35"/>
<circle class="o" cx="75.0" cy="738.1" r="2.35"/>
<circle class="b" cx="322.4" cy="763.2" r="2.35"/>
<circle class="o" cx="149.4" cy="692.6" r="2.35"/>
<circle class="b" cx="282.8" cy="693.2" r="2.35"/>
<circle class="o" cx="287.2" cy="682.2" r="2.35"/>
<circle class="b" cx="185.6" cy="698.0" r="2.35"/>
<circle class="o" cx="186.6" cy="673.1" r="2.35"/>
<circle class="o" cx="123.8" cy="703.3" r="2.35"/>
<circle class="o" cx="319.9" cy="642.1" r="2.35"/>
<circle class="o" cx="232.8" cy="659.4" r="2.35"/>
<circle class="o" cx="74.6" cy="763.1" r="2.35"/>
<circle class="o" cx="211.9" cy="662.4" r="2.35"/>
<circle class="b" cx="86.1" cy="819.0" r="2.35"/>
<circle class="o" cx="127.7" cy="721.5" r="2.35"/>
<circle class="b" cx="75.5" cy="812.8" r="2.35"/>
<circle class="o" cx="147.9" cy="731.6" r="2.35"/>
<circle class="b" cx="220.7" cy="679.2" r="2.35"/>
<circle class="o" cx="76.5" cy="717.6" r="2.35"/>
<circle class="b" cx="111.9" cy="766.6" r="2.35"/>
<circle class="b" cx="160.8" cy="721.3" r="2.35"/>
<circle class="b" cx="319.9" cy="685.1" r="2.35"/>
<circle class="o" cx="304.1" cy="649.6" r="2.35"/>
<circle class="b" cx="252.3" cy="714.3" r="2.35"/>
<circle class="o" cx="110.4" cy="711.4" r="2.35"/>
<circle class="b" cx="276.9" cy="680.7" r="2.35"/>
<circle class="o" cx="296.4" cy="658.7" r="2.35"/>
<circle class="b" cx="201.1" cy="697.0" r="2.35"/>
<circle class="b" cx="62.0" cy="794.9" r="2.35"/>
<circle class="o" cx="209.4" cy="678.6" r="2.35"/>
<circle class="b" cx="165.7" cy="695.5" r="2.35"/>
<circle class="b" cx="178.8" cy="665.1" r="2.35"/>
<circle class="o" cx="161.3" cy="673.3" r="2.35"/>
<circle class="b" cx="211.2" cy="701.3" r="2.35"/>
<circle class="o" cx="142.1" cy="704.2" r="2.35"/>
<circle class="b" cx="183.8" cy="695.5" r="2.35"/>
<circle class="o" cx="283.5" cy="674.1" r="2.35"/>
<circle class="o" cx="132.0" cy="703.5" r="2.35"/>
<circle class="b" cx="328.3" cy="697.6" r="2.35"/>
<circle class="o" cx="234.3" cy="705.6" r="2.35"/>
<circle class="b" cx="120.5" cy="767.8" r="2.35"/>
<circle class="b" cx="94.5" cy="754.8" r="2.35"/>
<circle class="b" cx="154.2" cy="720.1" r="2.35"/>
<circle class="o" cx="139.3" cy="708.5" r="2.35"/>
<circle class="b" cx="196.7" cy="717.2" r="2.35"/>
<circle class="b" cx="81.8" cy="800.2" r="2.35"/>
<circle class="b" cx="304.8" cy="687.3" r="2.35"/>
<circle class="o" cx="265.9" cy="674.6" r="2.35"/>
<circle class="b" cx="170.8" cy="682.5" r="2.35"/>
<circle class="o" cx="288.6" cy="686.9" r="2.35"/>
<circle class="o" cx="129.2" cy="717.2" r="2.35"/>
<circle class="b" cx="214.3" cy="694.9" r="2.35"/>
<circle class="b" cx="258.8" cy="681.8" r="2.35"/>
<circle class="o" cx="157.1" cy="691.2" r="2.35"/>
<circle class="o" cx="130.6" cy="724.4" r="2.35"/>
<circle class="o" cx="200.4" cy="651.9" r="2.35"/>
<circle class="b" cx="159.2" cy="707.1" r="2.35"/>
<circle class="b" cx="165.0" cy="690.5" r="2.35"/>
<circle class="o" cx="107.5" cy="707.1" r="2.35"/>
<circle class="o" cx="64.9" cy="789.1" r="2.35"/>
<circle class="b" cx="222.7" cy="702.7" r="2.35"/>
<circle class="o" cx="260.0" cy="644.3" r="2.35"/>
<circle class="b" cx="72.1" cy="760.2" r="2.35"/>
<circle class="o" cx="319.9" cy="663.5" r="2.35"/>
<circle class="o" cx="190.2" cy="659.4" r="2.35"/>
<circle class="o" cx="114.7" cy="718.6" r="2.35"/>
<circle class="o" cx="108.9" cy="718.6" r="2.35"/>
<circle class="b" cx="300.4" cy="680.4" r="2.35"/>
<circle class="b" cx="186.6" cy="685.4" r="2.35"/>
<circle class="o" cx="151.4" cy="723.8" r="2.35"/>
<circle class="o" cx="213.8" cy="659.7" r="2.35"/>
<circle class="o" cx="260.2" cy="677.5" r="2.35"/>
<circle class="b" cx="130.6" cy="733.1" r="2.35"/>
<circle class="b" cx="156.3" cy="715.7" r="2.35"/>
<circle class="b" cx="191.0" cy="701.3" r="2.35"/>
<circle class="b" cx="185.2" cy="701.3" r="2.35"/>
<circle class="b" cx="198.2" cy="686.9" r="2.35"/>
<circle class="b" cx="172.2" cy="699.9" r="2.35"/>
<circle class="b" cx="182.3" cy="682.5" r="2.35"/>
<circle class="o" cx="106.1" cy="710.7" r="2.35"/>
<circle class="o" cx="114.7" cy="727.3" r="2.35"/>
<circle class="b" cx="209.7" cy="697.0" r="2.35"/>
<circle class="b" cx="154.9" cy="735.9" r="2.35"/>
<circle class="o" cx="133.5" cy="707.8" r="2.35"/>
<circle class="b" cx="122.9" cy="754.2" r="2.35"/>
<circle class="b" cx="136.6" cy="735.3" r="2.35"/>
<circle class="b" cx="69.3" cy="749.0" r="2.35"/>
<circle class="o" cx="176.5" cy="678.2" r="2.35"/>
<circle class="b" cx="130.6" cy="749.0" r="2.35"/>
<circle class="b" cx="113.3" cy="753.3" r="2.35"/>
<circle class="b" cx="132.0" cy="728.7" r="2.35"/>
<circle class="o" cx="187.4" cy="663.8" r="2.35"/>
<circle class="o" cx="193.9" cy="680.4" r="2.35"/>
<circle class="b" cx="103.0" cy="755.7" r="2.35"/>
<circle class="o" cx="137.8" cy="711.4" r="2.35"/>
<circle class="o" cx="250.9" cy="646.1" r="2.35"/>
<circle class="b" cx="167.9" cy="707.8" r="2.35"/>
<circle class="b" cx="77.2" cy="767.0" r="2.35"/>
<circle class="b" cx="74.6" cy="843.1" r="2.35"/>
<circle class="b" cx="69.3" cy="809.6" r="2.35"/>
<circle class="o" cx="209.7" cy="673.9" r="2.35"/>
<circle class="b" cx="205.4" cy="691.2" r="2.35"/>
<circle class="o" cx="155.6" cy="701.3" r="2.35"/>
<circle class="o" cx="149.4" cy="702.0" r="2.35"/>
<circle class="o" cx="298.9" cy="658.4" r="2.35"/>
<circle class="b" cx="139.3" cy="751.9" r="2.35"/>
<circle class="b" cx="250.6" cy="688.4" r="2.35"/>
<circle class="b" cx="202.5" cy="710.7" r="2.35"/>
<circle class="b" cx="101.7" cy="779.3" r="2.35"/>
<circle class="o" cx="196.7" cy="695.5" r="2.35"/>
<circle class="o" cx="238.6" cy="673.9" r="2.35"/>
<circle class="o" cx="253.0" cy="660.9" r="2.35"/>
<circle class="o" cx="281.6" cy="638.1" r="2.35"/>
<circle class="b" cx="223.4" cy="713.6" r="2.35"/>
<circle class="o" cx="276.2" cy="646.6" r="2.35"/>
<circle class="o" cx="136.4" cy="696.2" r="2.35"/>
<circle class="b" cx="111.8" cy="749.0" r="2.35"/>
<circle class="b" cx="167.9" cy="678.5" r="2.35"/>
<circle class="b" cx="97.4" cy="746.1" r="2.35"/>
<circle class="b" cx="176.2" cy="667.4" r="2.35"/>
<circle class="b" cx="120.5" cy="728.7" r="2.35"/>
<circle class="b" cx="76.5" cy="753.3" r="2.35"/>
<circle class="o" cx="143.6" cy="714.3" r="2.35"/>
<circle class="o" cx="165.0" cy="658.7" r="2.35"/>
<circle class="b" cx="59.2" cy="745.4" r="2.35"/>
<circle class="o" cx="271.0" cy="670.7" r="2.35"/>
<circle class="b" cx="185.2" cy="686.9" r="2.35"/>
<circle class="o" cx="170.8" cy="677.5" r="2.35"/>
<circle class="o" cx="67.8" cy="738.8" r="2.35"/>
<circle class="b" cx="175.1" cy="686.1" r="2.35"/>
<circle class="b" cx="134.9" cy="733.8" r="2.35"/>
<circle class="b" cx="199.6" cy="710.0" r="2.35"/>
<circle class="b" cx="201.1" cy="690.5" r="2.35"/>
<circle class="o" cx="101.7" cy="714.3" r="2.35"/>
<circle class="o" cx="247.3" cy="677.5" r="2.35"/>
<circle class="o" cx="344.9" cy="663.1" r="2.35"/>
<circle class="b" cx="73.6" cy="842.8" r="2.35"/>
<circle class="o" cx="89.3" cy="777.9" r="2.35"/>
<circle class="o" cx="98.8" cy="728.7" r="2.35"/>
<circle class="o" cx="133.5" cy="700.6" r="2.35"/>
<circle class="b" cx="338.6" cy="701.3" r="2.35"/>
<circle class="o" cx="121.2" cy="715.4" r="2.35"/>
<circle class="b" cx="214.4" cy="675.3" r="2.35"/>
<circle class="o" cx="244.4" cy="667.4" r="2.35"/>
<circle class="o" cx="165.0" cy="663.8" r="2.35"/>
<circle class="o" cx="260.2" cy="694.1" r="2.35"/>
<circle class="o" cx="174.4" cy="655.8" r="2.35"/>
<circle class="b" cx="180.9" cy="699.1" r="2.35"/>
<circle class="o" cx="104.6" cy="723.0" r="2.35"/>
<circle class="o" cx="350.3" cy="637.8" r="2.35"/>
<circle class="b" cx="113.2" cy="739.9" r="2.35"/>
<circle class="b" cx="338.6" cy="688.1" r="2.35"/>
<circle class="o" cx="113.3" cy="723.0" r="2.35"/>
<circle class="o" cx="212.6" cy="663.8" r="2.35"/>
<circle class="b" cx="318.0" cy="696.2" r="2.35"/>
<circle class="b" cx="145.0" cy="762.0" r="2.35"/>
<circle class="b" cx="97.7" cy="702.5" r="2.35"/>
<circle class="o" cx="202.7" cy="683.8" r="2.35"/>
<circle class="o" cx="160.7" cy="678.2" r="2.35"/>
<circle class="o" cx="169.3" cy="682.5" r="2.35"/>
<circle class="o" cx="351.1" cy="644.7" r="2.35"/>
<circle class="b" cx="67.8" cy="754.0" r="2.35"/>
<circle class="b" cx="90.2" cy="777.1" r="2.35"/>
<circle class="b" cx="88.0" cy="798.3" r="2.35"/>
<circle class="b" cx="123.4" cy="731.6" r="2.35"/>
<circle class="o" cx="225.6" cy="668.1" r="2.35"/>
<circle class="b" cx="142.1" cy="763.4" r="2.35"/>
<circle class="o" cx="265.9" cy="666.8" r="2.35"/>
<circle class="o" cx="108.9" cy="721.5" r="2.35"/>
<circle class="o" cx="300.4" cy="670.7" r="2.35"/>
<circle class="o" cx="227.1" cy="673.9" r="2.35"/>
<circle class="b" cx="167.0" cy="692.0" r="2.35"/>
<circle class="b" cx="190.2" cy="710.7" r="2.35"/>
<circle class="o" cx="233.5" cy="668.8" r="2.35"/>
<circle class="o" cx="192.4" cy="672.4" r="2.35"/>
<circle class="o" cx="204.0" cy="672.4" r="2.35"/>
<circle class="b" cx="253.0" cy="708.5" r="2.35"/>
<circle class="o" cx="293.8" cy="679.0" r="2.35"/>
<circle class="o" cx="81.6" cy="756.5" r="2.35"/>
<circle class="b" cx="88.0" cy="780.0" r="2.35"/>
<circle class="b" cx="137.4" cy="742.8" r="2.35"/>
<circle class="b" cx="116.2" cy="761.3" r="2.35"/>
<circle class="b" cx="98.8" cy="751.9" r="2.35"/>
<circle class="b" cx="192.4" cy="697.7" r="2.35"/>
<circle class="b" cx="132.0" cy="738.1" r="2.35"/>
<circle class="b" cx="253.0" cy="689.7" r="2.35"/>
<circle class="b" cx="101.7" cy="759.8" r="2.35"/>
<circle class="b" cx="179.4" cy="697.0" r="2.35"/>
<circle class="o" cx="129.2" cy="692.6" r="2.35"/>
<circle class="o" cx="184.5" cy="668.1" r="2.35"/>
<circle class="o" cx="289.4" cy="652.1" r="2.35"/>
<circle class="o" cx="211.2" cy="678.2" r="2.35"/>
<circle class="b" cx="139.3" cy="730.2" r="2.35"/>
<circle class="o" cx="147.9" cy="723.0" r="2.35"/>
<circle class="o" cx="65.6" cy="755.0" r="2.35"/>
<circle class="o" cx="291.6" cy="654.0" r="2.35"/>
<circle class="o" cx="124.8" cy="714.3" r="2.35"/>
<circle class="o" cx="271.0" cy="656.5" r="2.35"/>
<circle class="o" cx="161.4" cy="692.6" r="2.35"/>
<circle class="o" cx="277.6" cy="678.5" r="2.35"/>
<circle class="b" cx="150.1" cy="762.0" r="2.35"/>
<circle class="o" cx="119.1" cy="723.0" r="2.35"/>
<circle class="b" cx="268.1" cy="717.5" r="2.35"/>
<circle class="b" cx="120.5" cy="741.8" r="2.35"/>
<circle class="b" cx="299.7" cy="699.5" r="2.35"/>
<circle class="o" cx="346.7" cy="678.5" r="2.35"/>
<circle class="b" cx="134.9" cy="744.7" r="2.35"/>
<circle class="b" cx="145.0" cy="769.2" r="2.35"/>
<circle class="o" cx="78.9" cy="755.0" r="2.35"/>
<circle class="b" cx="111.8" cy="757.6" r="2.35"/>
<circle class="b" cx="175.1" cy="695.5" r="2.35"/>
<circle class="b" cx="136.4" cy="726.6" r="2.35"/>
<circle class="b" cx="124.8" cy="744.7" r="2.35"/>
<circle class="b" cx="76.2" cy="755.9" r="2.35"/>
<circle class="o" cx="91.6" cy="738.1" r="2.35"/>
<circle class="o" cx="215.5" cy="672.4" r="2.35"/>
<circle class="b" cx="211.2" cy="688.3" r="2.35"/>
<circle class="o" cx="127.7" cy="685.1" r="2.35"/>
<circle class="b" cx="108.9" cy="764.1" r="2.35"/>
<circle class="o" cx="163.5" cy="699.9" r="2.35"/>
<circle class="o" cx="153.7" cy="694.1" r="2.35"/>
<circle class="o" cx="185.9" cy="649.3" r="2.35"/>
<circle class="b" cx="205.4" cy="697.7" r="2.35"/>
<circle class="o" cx="72.9" cy="792.7" r="2.35"/>
<circle class="o" cx="280.6" cy="670.4" r="2.35"/>
<circle class="o" cx="110.4" cy="733.1" r="2.35"/>
<circle class="b" cx="110.4" cy="738.8" r="2.35"/>
<circle class="b" cx="248.7" cy="713.6" r="2.35"/>
<circle class="b" cx="312.9" cy="679.6" r="2.35"/>
<circle class="o" cx="206.6" cy="648.2" r="2.35"/>
<circle class="b" cx="357.3" cy="678.1" r="2.35"/>
<circle class="o" cx="219.8" cy="665.2" r="2.35"/>
<circle class="b" cx="299.7" cy="688.8" r="2.35"/>
<circle class="b" cx="76.5" cy="780.7" r="2.35"/>
<circle class="b" cx="318.0" cy="709.0" r="2.35"/>
<circle class="o" cx="140.4" cy="741.5" r="2.35"/>
<circle class="b" cx="91.7" cy="754.7" r="2.35"/>
<circle class="b" cx="160.7" cy="715.7" r="2.35"/>
<circle class="o" cx="130.5" cy="723.5" r="2.35"/>
<circle class="b" cx="80.1" cy="815.1" r="2.35"/>
<circle class="o" cx="201.1" cy="678.2" r="2.35"/>
<circle class="b" cx="111.0" cy="751.5" r="2.35"/>
<circle class="b" cx="308.5" cy="694.7" r="2.35"/>
<circle class="b" cx="134.9" cy="750.4" r="2.35"/>
<circle class="b" cx="83.7" cy="808.2" r="2.35"/>
<circle class="b" cx="93.8" cy="772.8" r="2.35"/>
<circle class="o" cx="248.4" cy="645.7" r="2.35"/>
<circle class="b" cx="301.1" cy="696.9" r="2.35"/>
<circle class="o" cx="106.0" cy="739.3" r="2.35"/>
<circle class="b" cx="108.7" cy="785.8" r="2.35"/>
<circle class="b" cx="311.1" cy="698.4" r="2.35"/>
<circle class="b" cx="193.9" cy="699.4" r="2.35"/>
<circle class="b" cx="74.6" cy="822.3" r="2.35"/>
<circle class="b" cx="90.5" cy="725.6" r="2.35"/>
<circle class="o" cx="285.7" cy="683.7" r="2.35"/>
<circle class="b" cx="96.0" cy="741.8" r="2.35"/>
<circle class="b" cx="240.3" cy="731.3" r="2.35"/>
<circle class="o" cx="106.1" cy="760.5" r="2.35"/>
<circle class="b" cx="80.8" cy="774.2" r="2.35"/>
<circle class="o" cx="86.6" cy="759.8" r="2.35"/>
<circle class="o" cx="231.4" cy="652.9" r="2.35"/>
<circle class="b" cx="103.6" cy="757.9" r="2.35"/>
<circle class="b" cx="150.8" cy="742.5" r="2.35"/>
<circle class="o" cx="253.0" cy="669.5" r="2.35"/>
<circle class="o" cx="148.6" cy="683.2" r="2.35"/>
<circle class="o" cx="155.6" cy="678.2" r="2.35"/>
<circle class="o" cx="124.8" cy="700.6" r="2.35"/>
<circle class="b" cx="225.0" cy="698.3" r="2.35"/>
<circle class="o" cx="231.4" cy="686.1" r="2.35"/>
<circle class="o" cx="183.9" cy="670.5" r="2.35"/>
<circle class="o" cx="178.0" cy="668.8" r="2.35"/>
<circle class="o" cx="121.9" cy="712.1" r="2.35"/>
<circle class="b" cx="289.4" cy="690.3" r="2.35"/>
<circle class="o" cx="145.0" cy="708.5" r="2.35"/>
<circle class="b" cx="284.2" cy="720.7" r="2.35"/>
<circle class="b" cx="72.9" cy="850.3" r="2.35"/>
<circle class="o" cx="302.6" cy="658.7" r="2.35"/>
<circle class="b" cx="193.9" cy="689.7" r="2.35"/>
<circle class="b" cx="271.8" cy="690.3" r="2.35"/>
<circle class="b" cx="343.0" cy="697.9" r="2.35"/>
<circle class="o" cx="224.2" cy="665.2" r="2.35"/>
<circle class="o" cx="76.5" cy="802.1" r="2.35"/>
<circle class="b" cx="147.9" cy="749.0" r="2.35"/>
<circle class="o" cx="215.5" cy="689.7" r="2.35"/>
<circle class="b" cx="151.5" cy="781.0" r="2.35"/>
<circle class="o" cx="288.6" cy="675.6" r="2.35"/>
<circle class="b" cx="248.7" cy="687.6" r="2.35"/>
<circle class="b" cx="158.5" cy="733.8" r="2.35"/>
<circle class="o" cx="240.0" cy="677.5" r="2.35"/>
<circle class="b" cx="62.8" cy="733.1" r="2.35"/>
<circle class="o" cx="309.9" cy="704.3" r="2.35"/>
<circle class="o" cx="132.0" cy="697.0" r="2.35"/>
<circle class="b" cx="285.7" cy="702.5" r="2.35"/>
<circle class="b" cx="263.7" cy="717.8" r="2.35"/>
<circle class="b" cx="274.0" cy="697.6" r="2.35"/>
<circle class="o" cx="87.0" cy="780.7" r="2.35"/>
<circle class="b" cx="191.0" cy="692.6" r="2.35"/>
<circle class="o" cx="104.6" cy="717.9" r="2.35"/>
<circle class="o" cx="105.2" cy="707.6" r="2.35"/>
<circle class="o" cx="268.8" cy="663.1" r="2.35"/>
<circle class="o" cx="127.7" cy="698.4" r="2.35"/>
<circle class="b" cx="175.1" cy="704.5" r="2.35"/>
<circle class="o" cx="67.1" cy="730.2" r="2.35"/>
<circle class="b" cx="232.8" cy="692.6" r="2.35"/>
<circle class="o" cx="332.0" cy="691.0" r="2.35"/>
<circle class="o" cx="227.1" cy="679.6" r="2.35"/>
<circle class="o" cx="87.3" cy="737.4" r="2.35"/>
<circle class="o" cx="278.4" cy="660.9" r="2.35"/>
<circle class="o" cx="106.4" cy="742.5" r="2.35"/>
<circle class="o" cx="229.7" cy="680.1" r="2.35"/>
<circle class="o" cx="183.0" cy="653.7" r="2.35"/>
<circle class="o" cx="61.0" cy="770.3" r="2.35"/>
<circle class="b" cx="131.0" cy="757.1" r="2.35"/>
<circle class="o" cx="123.4" cy="707.1" r="2.35"/>
<circle class="o" cx="253.0" cy="685.4" r="2.35"/>
<circle class="b" cx="100.3" cy="756.2" r="2.35"/>
<circle class="o" cx="226.3" cy="661.6" r="2.35"/>
<circle class="o" cx="70.0" cy="754.5" r="2.35"/>
<circle class="b" cx="65.6" cy="777.1" r="2.35"/>
<circle class="o" cx="242.9" cy="673.1" r="2.35"/>
<circle class="o" cx="234.3" cy="675.3" r="2.35"/>
<circle class="o" cx="119.8" cy="689.7" r="2.35"/>
<circle class="o" cx="204.7" cy="658.0" r="2.35"/>
<circle class="o" cx="191.0" cy="677.5" r="2.35"/>
<circle class="o" cx="206.8" cy="681.8" r="2.35"/>
<circle class="b" cx="154.9" cy="731.6" r="2.35"/>
<circle class="b" cx="268.8" cy="685.1" r="2.35"/>
<circle class="o" cx="334.9" cy="654.6" r="2.35"/>
<circle class="b" cx="235.0" cy="710.0" r="2.35"/>
<circle class="b" cx="319.9" cy="710.9" r="2.35"/>
<circle class="b" cx="293.8" cy="696.9" r="2.35"/>
<circle class="b" cx="153.7" cy="718.6" r="2.35"/>
<circle class="b" cx="246.0" cy="680.5" r="2.35"/>
<circle class="b" cx="90.2" cy="753.3" r="2.35"/>
<circle class="o" cx="81.5" cy="741.1" r="2.35"/>
<circle class="b" cx="170.0" cy="697.0" r="2.35"/>
<circle class="b" cx="91.6" cy="780.0" r="2.35"/>
<circle class="b" cx="294.1" cy="674.1" r="2.35"/>
<circle class="o" cx="83.0" cy="722.7" r="2.35"/>
<circle class="o" cx="250.1" cy="665.2" r="2.35"/>
<circle class="b" cx="169.3" cy="710.7" r="2.35"/>
<circle class="o" cx="159.2" cy="697.0" r="2.35"/>
<circle class="b" cx="218.4" cy="692.6" r="2.35"/>
<circle class="b" cx="207.6" cy="686.1" r="2.35"/>
<circle class="b" cx="264.4" cy="685.9" r="2.35"/>
<circle class="o" cx="206.8" cy="676.8" r="2.35"/>
<circle class="o" cx="167.9" cy="673.9" r="2.35"/>
<circle class="o" cx="85.9" cy="733.8" r="2.35"/>
<circle class="o" cx="180.9" cy="658.0" r="2.35"/>
<circle class="o" cx="202.5" cy="668.8" r="2.35"/>
<circle class="o" cx="222.7" cy="676.8" r="2.35"/>
<circle class="o" cx="203.6" cy="666.9" r="2.35"/>
<circle class="b" cx="154.9" cy="711.4" r="2.35"/>
<circle class="o" cx="133.7" cy="702.9" r="2.35"/>
<circle class="b" cx="117.6" cy="754.8" r="2.35"/>
<circle class="b" cx="274.0" cy="688.1" r="2.35"/>
<circle class="b" cx="104.3" cy="744.7" r="2.35"/>
<circle class="b" cx="156.3" cy="725.8" r="2.35"/>
<circle class="b" cx="156.3" cy="717.5" r="2.35"/>
<circle class="o" cx="247.3" cy="662.3" r="2.35"/>
<circle class="b" cx="295.3" cy="689.6" r="2.35"/>
<circle class="o" cx="87.0" cy="777.1" r="2.35"/>
<circle class="b" cx="234.3" cy="685.4" r="2.35"/>
<circle class="b" cx="197.5" cy="714.3" r="2.35"/>
<circle class="b" cx="216.9" cy="707.8" r="2.35"/>
<circle class="b" cx="74.3" cy="777.1" r="2.35"/>
<circle class="o" cx="123.4" cy="689.7" r="2.35"/>
<circle class="o" cx="218.7" cy="689.5" r="2.35"/>
<circle class="b" cx="255.9" cy="711.4" r="2.35"/>
<circle class="b" cx="346.7" cy="681.5" r="2.35"/>
<circle class="b" cx="73.6" cy="784.3" r="2.35"/>
<circle class="b" cx="61.3" cy="755.5" r="2.35"/>
<circle class="b" cx="105.3" cy="778.1" r="2.35"/>
<circle class="b" cx="70.0" cy="743.5" r="2.35"/>
<circle class="o" cx="91.6" cy="734.5" r="2.35"/>
<circle class="o" cx="178.7" cy="655.1" r="2.35"/>
<circle class="b" cx="183.8" cy="669.5" r="2.35"/>
<circle class="b" cx="158.5" cy="720.1" r="2.35"/>
<circle class="o" cx="127.7" cy="704.2" r="2.35"/>
<circle class="b" cx="119.1" cy="734.5" r="2.35"/>
<circle class="b" cx="138.5" cy="779.3" r="2.35"/>
<circle class="b" cx="116.2" cy="750.4" r="2.35"/>
<circle class="b" cx="83.0" cy="762.0" r="2.35"/>
<circle class="o" cx="116.2" cy="707.1" r="2.35"/>
<circle class="b" cx="91.6" cy="759.1" r="2.35"/>
<circle class="b" cx="104.6" cy="736.7" r="2.35"/>
<circle class="o" cx="107.5" cy="715.0" r="2.35"/>
<circle class="o" cx="173.6" cy="668.1" r="2.35"/>
<circle class="o" cx="91.6" cy="718.6" r="2.35"/>
<circle class="o" cx="218.4" cy="678.2" r="2.35"/>
<circle class="b" cx="133.5" cy="723.0" r="2.35"/>
<circle class="b" cx="224.2" cy="692.6" r="2.35"/>
<circle class="b" cx="80.1" cy="759.1" r="2.35"/>
<circle class="o" cx="126.3" cy="711.4" r="2.35"/>
<circle class="b" cx="304.8" cy="702.5" r="2.35"/>
<circle class="b" cx="120.5" cy="747.5" r="2.35"/>
<circle class="b" cx="275.4" cy="684.4" r="2.35"/>
<circle class="b" cx="119.1" cy="762.0" r="2.35"/>
<circle class="b" cx="289.9" cy="699.2" r="2.35"/>
<circle class="o" cx="358.1" cy="686.2" r="2.35"/>
<circle class="b" cx="65.6" cy="735.2" r="2.35"/>
<circle class="b" cx="338.6" cy="743.1" r="2.35"/>
<circle class="o" cx="221.0" cy="647.2" r="2.35"/>
<circle class="o" cx="305.8" cy="646.9" r="2.35"/>
<circle class="o" cx="311.7" cy="670.2" r="2.35"/>
<circle class="o" cx="198.2" cy="673.1" r="2.35"/>
<circle class="b" cx="314.1" cy="662.7" r="2.35"/>
<circle class="b" cx="289.4" cy="696.2" r="2.35"/>
<circle class="o" cx="104.6" cy="738.1" r="2.35"/>
<circle class="b" cx="66.4" cy="765.6" r="2.35"/>
<circle class="b" cx="262.9" cy="709.4" r="2.35"/>
<circle class="o" cx="115.4" cy="745.8" r="2.35"/>
<circle class="b" cx="346.7" cy="697.6" r="2.35"/>
<circle class="b" cx="252.0" cy="658.7" r="2.35"/>
<circle class="o" cx="247.3" cy="682.5" r="2.35"/>
<circle class="b" cx="166.4" cy="681.1" r="2.35"/>
<circle class="b" cx="289.4" cy="740.4" r="2.35"/>
<circle class="b" cx="227.1" cy="713.6" r="2.35"/>
<circle class="o" cx="129.5" cy="703.9" r="2.35"/>
<circle class="b" cx="153.7" cy="710.0" r="2.35"/>
<circle class="b" cx="96.0" cy="759.1" r="2.35"/>
<circle class="b" cx="232.1" cy="710.7" r="2.35"/>
<circle class="o" cx="223.1" cy="679.1" r="2.35"/>
<circle class="b" cx="118.3" cy="745.6" r="2.35"/>
<circle class="b" cx="165.0" cy="684.0" r="2.35"/>
<circle class="b" cx="228.5" cy="691.9" r="2.35"/>
<circle class="o" cx="299.7" cy="651.0" r="2.35"/>
<circle class="b" cx="222.4" cy="659.4" r="2.35"/>
<circle class="o" cx="301.9" cy="666.3" r="2.35"/>
<circle class="o" cx="165.7" cy="651.5" r="2.35"/>
<circle class="b" cx="61.3" cy="833.0" r="2.35"/>
<circle class="b" cx="225.6" cy="670.3" r="2.35"/>
<circle class="o" cx="282.0" cy="666.8" r="2.35"/>
<circle class="b" cx="283.5" cy="705.7" r="2.35"/>
<circle class="b" cx="244.4" cy="696.2" r="2.35"/>
<circle class="o" cx="166.4" cy="678.2" r="2.35"/>
<circle class="o" cx="175.1" cy="659.4" r="2.35"/>
<circle class="o" cx="215.5" cy="682.5" r="2.35"/>
<circle class="b" cx="261.7" cy="708.5" r="2.35"/>
<circle class="b" cx="243.6" cy="681.1" r="2.35"/>
<circle class="o" cx="327.9" cy="645.5" r="2.35"/>
<circle class="o" cx="101.0" cy="711.4" r="2.35"/>
<circle class="b" cx="121.9" cy="751.9" r="2.35"/>
<circle class="b" cx="103.2" cy="750.4" r="2.35"/>
<circle class="o" cx="148.6" cy="714.3" r="2.35"/>
<circle class="o" cx="99.7" cy="713.7" r="2.35"/>
<circle class="b" cx="137.8" cy="738.8" r="2.35"/>
<circle class="b" cx="242.2" cy="714.3" r="2.35"/>
<circle class="b" cx="116.2" cy="740.3" r="2.35"/>
<circle class="b" cx="240.0" cy="694.1" r="2.35"/>
<circle class="b" cx="61.0" cy="842.4" r="2.35"/>
<circle class="o" cx="111.1" cy="703.5" r="2.35"/>
<circle class="b" cx="150.8" cy="720.1" r="2.35"/>
<circle class="o" cx="281.3" cy="684.4" r="2.35"/>
<circle class="b" cx="324.3" cy="695.4" r="2.35"/>
<circle class="o" cx="250.1" cy="694.1" r="2.35"/>
<circle class="o" cx="196.7" cy="660.1" r="2.35"/>
<circle class="b" cx="333.5" cy="703.1" r="2.35"/>
<circle class="b" cx="172.2" cy="687.0" r="2.35"/>
<circle class="o" cx="101.7" cy="733.1" r="2.35"/>
<circle class="o" cx="113.3" cy="714.3" r="2.35"/>
<circle class="o" cx="198.2" cy="666.6" r="2.35"/>
<circle class="o" cx="133.5" cy="718.6" r="2.35"/>
<circle class="b" cx="125.9" cy="732.7" r="2.35"/>
<circle class="o" cx="259.5" cy="664.5" r="2.35"/>
<circle class="o" cx="88.7" cy="745.8" r="2.35"/>
<circle class="b" cx="202.0" cy="695.1" r="2.35"/>
<circle class="b" cx="216.9" cy="702.0" r="2.35"/>
<circle class="b" cx="209.7" cy="692.6" r="2.35"/>
<circle class="b" cx="326.1" cy="705.0" r="2.35"/>
<circle class="o" cx="185.2" cy="676.8" r="2.35"/>
<circle class="b" cx="75.8" cy="787.2" r="2.35"/>
<circle class="o" cx="212.2" cy="674.6" r="2.35"/>
<circle class="b" cx="107.5" cy="772.1" r="2.35"/>
<circle class="o" cx="264.4" cy="706.0" r="2.35"/>
<circle class="b" cx="104.7" cy="760.1" r="2.35"/>
<circle class="b" cx="93.1" cy="750.4" r="2.35"/>
<circle class="b" cx="232.8" cy="697.7" r="2.35"/>
<circle class="b" cx="143.6" cy="750.4" r="2.35"/>
<circle class="o" cx="186.6" cy="680.4" r="2.35"/>
<circle class="b" cx="215.5" cy="704.9" r="2.35"/>
<circle class="b" cx="108.9" cy="753.3" r="2.35"/>
<circle class="o" cx="209.7" cy="660.1" r="2.35"/>
<circle class="o" cx="90.2" cy="731.6" r="2.35"/>
<circle class="o" cx="193.9" cy="655.1" r="2.35"/>
<circle class="o" cx="277.6" cy="667.5" r="2.35"/>
<circle class="o" cx="303.8" cy="662.4" r="2.35"/>
<circle class="o" cx="64.2" cy="738.1" r="2.35"/>
<circle class="o" cx="159.9" cy="686.9" r="2.35"/>
<circle class="o" cx="208.3" cy="665.2" r="2.35"/>
<circle class="b" cx="192.9" cy="692.5" r="2.35"/>
<circle class="b" cx="132.0" cy="754.8" r="2.35"/>
<circle class="b" cx="107.5" cy="758.4" r="2.35"/>
<circle class="o" cx="270.3" cy="675.6" r="2.35"/>
<circle class="b" cx="267.3" cy="702.5" r="2.35"/>
<circle class="b" cx="268.8" cy="696.2" r="2.35"/>
<circle class="b" cx="68.2" cy="734.9" r="2.35"/>
<circle class="b" cx="329.0" cy="703.5" r="2.35"/>
<circle class="b" cx="145.0" cy="738.8" r="2.35"/>
<circle class="b" cx="180.9" cy="685.4" r="2.35"/>
<circle class="b" cx="163.5" cy="709.2" r="2.35"/>
<circle class="o" cx="173.6" cy="672.4" r="2.35"/>
<circle class="o" cx="77.5" cy="764.9" r="2.35"/>
<circle class="o" cx="221.1" cy="675.5" r="2.35"/>
<circle class="o" cx="275.4" cy="674.9" r="2.35"/>
<circle class="b" cx="136.4" cy="756.2" r="2.35"/>
<circle class="o" cx="223.4" cy="707.8" r="2.35"/>
<circle class="b" cx="75.0" cy="774.2" r="2.35"/>
<circle class="o" cx="103.2" cy="726.6" r="2.35"/>
<circle class="o" cx="161.5" cy="680.6" r="2.35"/>
<circle class="b" cx="199.6" cy="704.2" r="2.35"/>
<circle class="b" cx="256.6" cy="684.0" r="2.35"/>
<circle class="b" cx="258.8" cy="707.1" r="2.35"/>
<circle class="o" cx="98.8" cy="708.5" r="2.35"/>
<circle class="o" cx="113.4" cy="726.0" r="2.35"/>
<circle class="o" cx="209.8" cy="664.0" r="2.35"/>
<circle class="o" cx="216.9" cy="668.1" r="2.35"/>
<circle class="b" cx="123.4" cy="756.2" r="2.35"/>
<circle class="o" cx="119.3" cy="722.3" r="2.35"/>
<circle class="b" cx="219.8" cy="684.0" r="2.35"/>
<circle class="b" cx="159.2" cy="711.4" r="2.35"/>
<circle class="o" cx="170.8" cy="663.0" r="2.35"/>
<circle class="o" cx="157.1" cy="682.5" r="2.35"/>
<circle class="b" cx="59.2" cy="833.4" r="2.35"/>
<circle class="o" cx="108.9" cy="728.0" r="2.35"/>
<circle class="b" cx="334.2" cy="669.7" r="2.35"/>
<circle class="b" cx="173.6" cy="689.7" r="2.35"/>
<circle class="o" cx="289.4" cy="679.3" r="2.35"/>
<circle class="b" cx="189.5" cy="688.3" r="2.35"/>
<circle class="o" cx="342.0" cy="638.8" r="2.35"/>
<circle class="o" cx="96.0" cy="705.6" r="2.35"/>
<circle class="o" cx="194.3" cy="663.4" r="2.35"/>
<circle class="b" cx="182.3" cy="692.6" r="2.35"/>
<circle class="b" cx="161.4" cy="703.5" r="2.35"/>
<circle class="b" cx="152.2" cy="705.6" r="2.35"/>
<circle class="o" cx="198.1" cy="690.4" r="2.35"/>
<circle class="o" cx="91.6" cy="740.3" r="2.35"/>
<circle class="b" cx="224.2" cy="696.2" r="2.35"/>
<circle class="b" cx="104.6" cy="754.8" r="2.35"/>
<circle class="o" cx="211.2" cy="669.5" r="2.35"/>
<circle class="b" cx="139.3" cy="734.5" r="2.35"/>
<circle class="o" cx="262.2" cy="683.7" r="2.35"/>
<circle class="b" cx="196.7" cy="698.4" r="2.35"/>
<circle class="o" cx="133.5" cy="684.7" r="2.35"/>
<circle class="o" cx="154.9" cy="687.6" r="2.35"/>
<circle class="b" cx="127.0" cy="734.5" r="2.35"/>
<circle class="o" cx="116.9" cy="697.7" r="2.35"/>
<circle class="b" cx="195.3" cy="702.0" r="2.35"/>
<rect x="44.5" y="620.7" width="328.8" height="240.6" fill="none" stroke="#666666" stroke-width="1.2"/>
<line x1="41.6" x2="44.5" y1="659.1" y2="659.1" stroke="#666666" stroke-width="0.9"/>
<g font-size="8.0" fill="#2a2a2a" stroke="#2a2a2a" stroke-width="0.3"><text transform="translate(24.87 661.75) scale(0.744 1.000)">0</text><text x="28.04" y="661.75">.</text><text transform="translate(32.17 661.75) scale(0.744 1.000)">0</text><text transform="translate(35.81 661.75) scale(0.751 1.000)">5</text></g>
<line x1="41.6" x2="44.5" y1="707.1" y2="707.1" stroke="#666666" stroke-width="0.9"/>
<g font-size="8.0" fill="#2a2a2a" stroke="#2a2a2a" stroke-width="0.3"><text transform="translate(24.87 709.80) scale(0.744 1.000)">0</text><text x="28.04" y="709.80">.</text><text transform="translate(32.17 709.80) scale(0.744 1.000)">0</text><text transform="translate(35.82 709.80) scale(0.744 1.000)">0</text></g>
<line x1="41.6" x2="44.5" y1="755.1" y2="755.1" stroke="#666666" stroke-width="0.9"/>
<g font-size="8.0" fill="#2a2a2a" stroke="#2a2a2a" stroke-width="0.3"><text transform="translate(21.16 757.85) scale(0.732 1.000)">−</text><text transform="translate(24.87 757.85) scale(0.744 1.000)">0</text><text x="28.04" y="757.85">.</text><text transform="translate(32.17 757.85) scale(0.744 1.000)">0</text><text transform="translate(35.81 757.85) scale(0.751 1.000)">5</text></g>
<line x1="41.6" x2="44.5" y1="803.2" y2="803.2" stroke="#666666" stroke-width="0.9"/>
<g font-size="8.0" fill="#2a2a2a" stroke="#2a2a2a" stroke-width="0.3"><text transform="translate(21.16 805.90) scale(0.732 1.000)">−</text><text transform="translate(24.87 805.90) scale(0.744 1.000)">0</text><text x="28.04" y="805.90">.</text><text transform="translate(31.90 805.90) scale(0.825 1.000)">1</text><text transform="translate(35.82 805.90) scale(0.744 1.000)">0</text></g>
<line x1="41.6" x2="44.5" y1="851.2" y2="851.2" stroke="#666666" stroke-width="0.9"/>
<g font-size="8.0" fill="#2a2a2a" stroke="#2a2a2a" stroke-width="0.3"><text transform="translate(21.16 853.95) scale(0.732 1.000)">−</text><text transform="translate(24.87 853.95) scale(0.744 1.000)">0</text><text x="28.04" y="853.95">.</text><text transform="translate(31.90 853.95) scale(0.825 1.000)">1</text><text transform="translate(35.81 853.95) scale(0.751 1.000)">5</text></g>
<line x1="86.7" x2="86.7" y1="861.3" y2="864.2" stroke="#666666" stroke-width="0.9"/>
<g font-size="8.0" fill="#2a2a2a" stroke="#2a2a2a" stroke-width="0.3"><text transform="translate(81.12 871.40) scale(0.825 1.000)">1</text><text transform="translate(85.04 871.40) scale(0.744 1.000)">0</text><text transform="translate(88.69 871.40) scale(0.744 1.000)">0</text></g>
<line x1="131.4" x2="131.4" y1="861.3" y2="864.2" stroke="#666666" stroke-width="0.9"/>
<g font-size="8.0" fill="#2a2a2a" stroke="#2a2a2a" stroke-width="0.3"><text transform="translate(125.82 871.40) scale(0.825 1.000)">1</text><text transform="translate(129.74 871.40) scale(0.751 1.000)">5</text><text transform="translate(133.39 871.40) scale(0.744 1.000)">0</text></g>
<line x1="176.1" x2="176.1" y1="861.3" y2="864.2" stroke="#666666" stroke-width="0.9"/>
<g font-size="8.0" fill="#2a2a2a" stroke="#2a2a2a" stroke-width="0.3"><text transform="translate(170.71 871.40) scale(0.781 1.000)">2</text><text transform="translate(174.44 871.40) scale(0.744 1.000)">0</text><text transform="translate(178.09 871.40) scale(0.744 1.000)">0</text></g>
<line x1="220.8" x2="220.8" y1="861.3" y2="864.2" stroke="#666666" stroke-width="0.9"/>
<g font-size="8.0" fill="#2a2a2a" stroke="#2a2a2a" stroke-width="0.3"><text transform="translate(215.41 871.40) scale(0.781 1.000)">2</text><text transform="translate(219.14 871.40) scale(0.751 1.000)">5</text><text transform="translate(222.79 871.40) scale(0.744 1.000)">0</text></g>
<line x1="265.5" x2="265.5" y1="861.3" y2="864.2" stroke="#666666" stroke-width="0.9"/>
<g font-size="8.0" fill="#2a2a2a" stroke="#2a2a2a" stroke-width="0.3"><text transform="translate(260.20 871.40) scale(0.751 1.000)">3</text><text transform="translate(263.84 871.40) scale(0.744 1.000)">0</text><text transform="translate(267.49 871.40) scale(0.744 1.000)">0</text></g>
<line x1="310.2" x2="310.2" y1="861.3" y2="864.2" stroke="#666666" stroke-width="0.9"/>
<g font-size="8.0" fill="#2a2a2a" stroke="#2a2a2a" stroke-width="0.3"><text transform="translate(304.90 871.40) scale(0.751 1.000)">3</text><text transform="translate(308.54 871.40) scale(0.751 1.000)">5</text><text transform="translate(312.19 871.40) scale(0.744 1.000)">0</text></g>
<line x1="354.9" x2="354.9" y1="861.3" y2="864.2" stroke="#666666" stroke-width="0.9"/>
<g font-size="8.0" fill="#2a2a2a" stroke="#2a2a2a" stroke-width="0.3"><text transform="translate(349.70 871.40) scale(0.706 1.000)">4</text><text transform="translate(353.24 871.40) scale(0.744 1.000)">0</text><text transform="translate(356.89 871.40) scale(0.744 1.000)">0</text></g>
<g font-size="9.4" fill="#000000" stroke="#000000" stroke-width="0.4"><text transform="translate(172.04 882.80) scale(0.935 1.100)">P</text><text x="179.25" y="882.80">l</text><text transform="translate(182.77 882.80) scale(0.969 1.000)">a</text><text x="189.36" y="882.80">t</text><text x="193.30" y="882.80">e</text><text x="200.05" y="882.80">l</text><text x="203.70" y="882.80">e</text><text x="210.16" y="882.80">t</text><text transform="translate(219.18 882.80) scale(0.786 1.100)">C</text><text x="224.49" y="882.80">o</text><text x="229.69" y="882.80">u</text><text x="234.88" y="882.80">n</text><text x="241.36" y="882.80">t</text></g>
<g transform="rotate(-90 16.8 741.0)"><g font-size="9.4" fill="#000000" stroke="#000000" stroke-width="0.4"><text transform="translate(-58.71 741.00) scale(0.865 1.100)">S</text><text transform="translate(-53.83 741.00) scale(0.891 1.100)">H</text><text transform="translate(-47.95 741.00) scale(0.751 1.100)">A</text><text transform="translate(-43.46 741.00) scale(0.935 1.100)">P</text><text transform="translate(-32.37 741.00) scale(0.756 1.100)">V</text><text transform="translate(-27.53 741.00) scale(0.969 1.000)">a</text><text x="-20.65" y="741.00">l</text><text x="-17.01" y="741.00">u</text><text x="-11.80" y="741.00">e</text><text x="-0.18" y="741.00">f</text><text x="3.79" y="741.00">o</text><text x="9.80" y="741.00">r</text><text transform="translate(18.94 741.00) scale(0.935 1.100)">P</text><text x="26.15" y="741.00">l</text><text transform="translate(29.67 741.00) scale(0.969 1.000)">a</text><text x="36.26" y="741.00">t</text><text x="40.20" y="741.00">e</text><text x="46.95" y="741.00">l</text><text x="50.60" y="741.00">e</text><text x="57.06" y="741.00">t</text><text transform="translate(66.08 741.00) scale(0.786 1.100)">C</text><text x="71.39" y="741.00">o</text><text x="76.59" y="741.00">u</text><text x="81.78" y="741.00">n</text><text x="88.26" y="741.00">t</text></g></g>
<rect x="48.3" y="624.8" width="65.0" height="31.2" rx="1.5" fill="#fff" fill-opacity="0.8" stroke="#d6d6d6" stroke-width="0.8"/>
<g font-size="7.5" fill="#151515" font-weight="bold" stroke="#151515" stroke-width="0.1"><text x="52.19" y="632.60">I</text><text x="55.58" y="632.60">f</text><text transform="translate(62.39 632.60) scale(0.674 1.000)">C</text><text transform="translate(66.20 632.60) scale(0.748 1.000)">T</text><text transform="translate(69.54 632.60) scale(0.778 1.000)">P</text><text transform="translate(73.48 632.60) scale(0.656 1.000)">A</text><text transform="translate(80.55 632.60) scale(0.778 1.000)">P</text><text transform="translate(84.37 632.60) scale(0.827 1.000)">o</text><text transform="translate(88.04 632.60) scale(0.918 1.000)">s</text><text x="92.57" y="632.60">i</text><text x="96.03" y="632.60">t</text><text x="99.91" y="632.60">i</text><text transform="translate(102.94 632.60) scale(0.804 1.000)">v</text><text transform="translate(106.37 632.60) scale(0.912 1.000)">e</text></g>
<circle cx="62.8" cy="640.4" r="2.45" fill="#1c74b0"/>
<circle cx="62.8" cy="650.1" r="2.45" fill="#f07c14"/>
<g font-size="7.5" fill="#151515" font-weight="bold" stroke="#151515" stroke-width="0.1"><text transform="translate(76.91 642.60) scale(0.749 1.000)">N</text><text transform="translate(80.69 642.60) scale(0.912 1.000)">e</text><text transform="translate(84.35 642.60) scale(0.876 1.000)">g</text><text transform="translate(88.11 642.60) scale(0.826 1.000)">a</text><text x="92.37" y="642.60">t</text><text x="96.25" y="642.60">i</text><text transform="translate(99.28 642.60) scale(0.804 1.000)">v</text><text transform="translate(102.71 642.60) scale(0.912 1.000)">e</text></g>
<g font-size="7.5" fill="#151515" font-weight="bold" stroke="#151515" stroke-width="0.1"><text transform="translate(76.89 652.30) scale(0.778 1.000)">P</text><text transform="translate(80.71 652.30) scale(0.827 1.000)">o</text><text transform="translate(84.38 652.30) scale(0.918 1.000)">s</text><text x="88.91" y="652.30">i</text><text x="92.37" y="652.30">t</text><text x="96.25" y="652.30">i</text><text transform="translate(99.28 652.30) scale(0.804 1.000)">v</text><text transform="translate(102.71 652.30) scale(0.912 1.000)">e</text></g>
<line x1="438.0" x2="768.7" y1="784.3" y2="784.3" stroke="#e01e22" stroke-width="1.35"/>
<circle class="b" cx="529.4" cy="746.8" r="2.35"/>
<circle class="o" cx="666.6" cy="691.6" r="2.35"/>
<circle class="o" cx="609.9" cy="674.3" r="2.35"/>
<circle class="o" cx="630.2" cy="739.3" r="2.35"/>
<circle class="o" cx="622.9" cy="683.7" r="2.35"/>
<circle class="b" cx="588.6" cy="753.3" r="2.35"/>
<circle class="o" cx="512.3" cy="660.2" r="2.35"/>
<circle class="o" cx="473.8" cy="774.0" r="2.35"/>
<circle class="o" cx="591.9" cy="671.4" r="2.35"/>
<circle class="o" cx="725.1" cy="673.0" r="2.35"/>
<circle class="o" cx="590.5" cy="689.0" r="2.35"/>
<circle class="o" cx="672.3" cy="700.2" r="2.35"/>
<circle class="o" cx="515.7" cy="687.3" r="2.35"/>
<circle class="b" cx="482.5" cy="804.3" r="2.35"/>
<circle class="b" cx="463.0" cy="789.8" r="2.35"/>
<circle class="o" cx="500.9" cy="719.8" r="2.35"/>
<circle class="o" cx="550.8" cy="739.3" r="2.35"/>
<circle class="o" cx="513.5" cy="693.8" r="2.35"/>
<circle class="o" cx="597.7" cy="677.9" r="2.35"/>
<circle class="o" cx="593.6" cy="680.1" r="2.35"/>
<circle class="o" cx="456.5" cy="761.0" r="2.35"/>
<circle class="b" cx="602.0" cy="730.6" r="2.35"/>
<circle class="o" cx="468.0" cy="774.7" r="2.35"/>
<circle class="o" cx="672.3" cy="690.4" r="2.35"/>
<circle class="o" cx="455.0" cy="754.5" r="2.35"/>
<circle class="o" cx="533.7" cy="728.4" r="2.35"/>
<circle class="b" cx="584.0" cy="740.1" r="2.35"/>
<circle class="o" cx="527.9" cy="743.7" r="2.35"/>
<circle class="o" cx="560.6" cy="689.0" r="2.35"/>
<circle class="o" cx="506.3" cy="729.2" r="2.35"/>
<circle class="b" cx="513.8" cy="781.5" r="2.35"/>
<circle class="b" cx="616.9" cy="737.1" r="2.35"/>
<circle class="o" cx="538.8" cy="693.8" r="2.35"/>
<circle class="b" cx="476.0" cy="797.1" r="2.35"/>
<circle class="o" cx="505.6" cy="741.5" r="2.35"/>
<circle class="o" cx="494.0" cy="732.8" r="2.35"/>
<circle class="o" cx="465.9" cy="755.2" r="2.35"/>
<circle class="b" cx="522.9" cy="757.8" r="2.35"/>
<circle class="o" cx="488.2" cy="734.7" r="2.35"/>
<circle class="o" cx="477.4" cy="781.2" r="2.35"/>
<circle class="o" cx="699.4" cy="689.2" r="2.35"/>
<circle class="o" cx="596.2" cy="672.9" r="2.35"/>
<circle class="b" cx="490.7" cy="812.9" r="2.35"/>
<circle class="o" cx="529.4" cy="711.1" r="2.35"/>
<circle class="o" cx="499.8" cy="693.1" r="2.35"/>
<circle class="b" cx="524.3" cy="789.5" r="2.35"/>
<circle class="o" cx="523.6" cy="753.0" r="2.35"/>
<circle class="b" cx="506.0" cy="737.5" r="2.35"/>
<circle class="o" cx="483.2" cy="753.0" r="2.35"/>
<circle class="b" cx="589.7" cy="720.1" r="2.35"/>
<circle class="o" cx="594.8" cy="719.8" r="2.35"/>
<circle class="b" cx="492.6" cy="802.1" r="2.35"/>
<circle class="b" cx="534.0" cy="763.9" r="2.35"/>
<circle class="b" cx="484.6" cy="793.4" r="2.35"/>
<circle class="o" cx="595.5" cy="681.5" r="2.35"/>
<circle class="o" cx="538.0" cy="681.5" r="2.35"/>
<circle class="b" cx="547.2" cy="739.3" r="2.35"/>
<circle class="b" cx="459.4" cy="833.9" r="2.35"/>
<circle class="b" cx="667.8" cy="772.4" r="2.35"/>
<circle class="o" cx="511.3" cy="716.2" r="2.35"/>
<circle class="b" cx="480.3" cy="769.6" r="2.35"/>
<circle class="b" cx="496.3" cy="822.9" r="2.35"/>
<circle class="o" cx="687.4" cy="688.6" r="2.35"/>
<circle class="b" cx="460.1" cy="810.0" r="2.35"/>
<circle class="o" cx="542.4" cy="700.3" r="2.35"/>
<circle class="b" cx="545.7" cy="776.8" r="2.35"/>
<circle class="o" cx="494.0" cy="761.7" r="2.35"/>
<circle class="o" cx="498.8" cy="686.6" r="2.35"/>
<circle class="b" cx="457.2" cy="784.8" r="2.35"/>
<circle class="o" cx="520.7" cy="712.6" r="2.35"/>
<circle class="o" cx="509.9" cy="767.5" r="2.35"/>
<circle class="o" cx="618.6" cy="698.9" r="2.35"/>
<circle class="o" cx="464.4" cy="779.7" r="2.35"/>
<circle class="b" cx="480.3" cy="756.6" r="2.35"/>
<circle class="o" cx="501.7" cy="683.7" r="2.35"/>
<circle class="o" cx="582.8" cy="669.3" r="2.35"/>
<circle class="o" cx="581.8" cy="647.6" r="2.35"/>
<circle class="o" cx="520.0" cy="748.7" r="2.35"/>
<circle class="o" cx="483.2" cy="759.5" r="2.35"/>
<circle class="o" cx="705.0" cy="714.1" r="2.35"/>
<circle class="o" cx="553.9" cy="646.9" r="2.35"/>
<circle class="b" cx="471.6" cy="795.6" r="2.35"/>
<circle class="o" cx="466.6" cy="744.4" r="2.35"/>
<circle class="o" cx="592.6" cy="679.4" r="2.35"/>
<circle class="o" cx="471.6" cy="749.4" r="2.35"/>
<circle class="o" cx="473.8" cy="743.7" r="2.35"/>
<circle class="b" cx="453.6" cy="818.7" r="2.35"/>
<circle class="b" cx="684.4" cy="741.0" r="2.35"/>
<circle class="b" cx="682.9" cy="696.4" r="2.35"/>
<circle class="b" cx="478.9" cy="786.2" r="2.35"/>
<circle class="b" cx="533.4" cy="757.4" r="2.35"/>
<circle class="o" cx="675.3" cy="700.2" r="2.35"/>
<circle class="o" cx="483.9" cy="729.9" r="2.35"/>
<circle class="b" cx="462.0" cy="803.2" r="2.35"/>
<circle class="b" cx="463.0" cy="794.2" r="2.35"/>
<circle class="o" cx="540.6" cy="725.6" r="2.35"/>
<circle class="o" cx="592.6" cy="707.5" r="2.35"/>
<circle class="b" cx="484.6" cy="797.1" r="2.35"/>
<circle class="b" cx="487.5" cy="761.0" r="2.35"/>
<circle class="o" cx="729.6" cy="687.4" r="2.35"/>
<circle class="o" cx="500.9" cy="676.0" r="2.35"/>
<circle class="o" cx="476.0" cy="762.4" r="2.35"/>
<circle class="o" cx="505.9" cy="721.7" r="2.35"/>
<circle class="o" cx="506.3" cy="760.3" r="2.35"/>
<circle class="b" cx="503.4" cy="759.5" r="2.35"/>
<circle class="o" cx="507.7" cy="748.7" r="2.35"/>
<circle class="b" cx="520.7" cy="794.2" r="2.35"/>
<circle class="b" cx="577.9" cy="689.8" r="2.35"/>
<circle class="o" cx="607.8" cy="680.1" r="2.35"/>
<circle class="b" cx="668.8" cy="734.4" r="2.35"/>
<circle class="b" cx="527.9" cy="781.9" r="2.35"/>
<circle class="o" cx="545.0" cy="727.7" r="2.35"/>
<circle class="o" cx="491.8" cy="760.3" r="2.35"/>
<circle class="o" cx="616.9" cy="705.8" r="2.35"/>
<circle class="o" cx="461.5" cy="774.0" r="2.35"/>
<circle class="o" cx="543.8" cy="685.9" r="2.35"/>
<circle class="b" cx="753.7" cy="724.8" r="2.35"/>
<circle class="o" cx="670.3" cy="688.1" r="2.35"/>
<circle class="b" cx="481.0" cy="802.9" r="2.35"/>
<circle class="o" cx="499.4" cy="714.7" r="2.35"/>
<circle class="o" cx="522.2" cy="680.8" r="2.35"/>
<circle class="o" cx="549.3" cy="670.0" r="2.35"/>
<circle class="b" cx="452.9" cy="825.2" r="2.35"/>
<circle class="o" cx="557.7" cy="686.6" r="2.35"/>
<circle class="o" cx="539.2" cy="706.8" r="2.35"/>
<circle class="o" cx="664.8" cy="684.4" r="2.35"/>
<circle class="b" cx="526.5" cy="757.4" r="2.35"/>
<circle class="o" cx="520.7" cy="727.0" r="2.35"/>
<circle class="o" cx="512.8" cy="753.0" r="2.35"/>
<circle class="o" cx="520.7" cy="630.3" r="2.35"/>
<circle class="b" cx="455.0" cy="819.0" r="2.35"/>
<circle class="o" cx="661.3" cy="702.1" r="2.35"/>
<circle class="o" cx="494.0" cy="751.6" r="2.35"/>
<circle class="b" cx="489.0" cy="789.1" r="2.35"/>
<circle class="b" cx="523.3" cy="793.9" r="2.35"/>
<circle class="o" cx="614.3" cy="684.4" r="2.35"/>
<circle class="b" cx="553.9" cy="724.6" r="2.35"/>
<circle class="o" cx="461.5" cy="742.9" r="2.35"/>
<circle class="o" cx="456.5" cy="799.9" r="2.35"/>
<circle class="o" cx="464.4" cy="748.0" r="2.35"/>
<circle class="b" cx="462.3" cy="798.5" r="2.35"/>
<circle class="b" cx="457.9" cy="812.9" r="2.35"/>
<circle class="o" cx="598.4" cy="681.5" r="2.35"/>
<circle class="o" cx="555.8" cy="716.9" r="2.35"/>
<circle class="o" cx="499.8" cy="703.2" r="2.35"/>
<circle class="o" cx="498.3" cy="706.4" r="2.35"/>
<circle class="b" cx="528.4" cy="714.7" r="2.35"/>
<circle class="o" cx="565.2" cy="667.8" r="2.35"/>
<circle class="o" cx="524.3" cy="745.1" r="2.35"/>
<circle class="o" cx="679.4" cy="700.9" r="2.35"/>
<circle class="o" cx="453.6" cy="774.0" r="2.35"/>
<circle class="b" cx="525.0" cy="784.1" r="2.35"/>
<circle class="o" cx="680.6" cy="679.5" r="2.35"/>
<circle class="o" cx="482.5" cy="752.5" r="2.35"/>
<circle class="o" cx="551.5" cy="668.5" r="2.35"/>
<circle class="b" cx="504.8" cy="782.3" r="2.35"/>
<circle class="b" cx="677.6" cy="742.5" r="2.35"/>
<circle class="b" cx="584.7" cy="751.3" r="2.35"/>
<circle class="o" cx="695.7" cy="691.6" r="2.35"/>
<circle class="o" cx="710.0" cy="660.2" r="2.35"/>
<circle class="b" cx="452.9" cy="849.7" r="2.35"/>
<circle class="b" cx="545.0" cy="767.0" r="2.35"/>
<circle class="b" cx="454.3" cy="793.4" r="2.35"/>
<circle class="o" cx="497.3" cy="817.3" r="2.35"/>
<circle class="o" cx="563.2" cy="668.3" r="2.35"/>
<circle class="b" cx="589.7" cy="710.0" r="2.35"/>
<circle class="o" cx="460.1" cy="760.3" r="2.35"/>
<circle class="o" cx="579.6" cy="635.8" r="2.35"/>
<circle class="b" cx="529.8" cy="762.4" r="2.35"/>
<circle class="o" cx="647.8" cy="696.7" r="2.35"/>
<circle class="o" cx="560.7" cy="680.2" r="2.35"/>
<circle class="b" cx="457.2" cy="798.5" r="2.35"/>
<circle class="o" cx="573.9" cy="694.1" r="2.35"/>
<circle class="o" cx="522.2" cy="690.2" r="2.35"/>
<circle class="o" cx="456.0" cy="768.9" r="2.35"/>
<circle class="o" cx="520.0" cy="729.9" r="2.35"/>
<circle class="o" cx="530.8" cy="732.1" r="2.35"/>
<circle class="b" cx="654.4" cy="784.5" r="2.35"/>
<circle class="b" cx="622.9" cy="747.7" r="2.35"/>
<circle class="b" cx="466.5" cy="800.7" r="2.35"/>
<circle class="o" cx="605.3" cy="669.7" r="2.35"/>
<circle class="o" cx="578.9" cy="672.1" r="2.35"/>
<circle class="b" cx="467.3" cy="790.6" r="2.35"/>
<circle class="b" cx="468.8" cy="803.5" r="2.35"/>
<circle class="b" cx="521.9" cy="778.3" r="2.35"/>
<circle class="o" cx="610.2" cy="663.0" r="2.35"/>
<circle class="b" cx="664.8" cy="699.4" r="2.35"/>
<circle class="b" cx="604.5" cy="762.7" r="2.35"/>
<circle class="o" cx="597.7" cy="705.8" r="2.35"/>
<circle class="o" cx="666.3" cy="707.3" r="2.35"/>
<circle class="b" cx="559.4" cy="682.2" r="2.35"/>
<circle class="o" cx="685.9" cy="679.1" r="2.35"/>
<circle class="b" cx="508.0" cy="780.0" r="2.35"/>
<circle class="b" cx="547.9" cy="781.5" r="2.35"/>
<circle class="o" cx="679.4" cy="695.2" r="2.35"/>
<circle class="b" cx="519.0" cy="789.5" r="2.35"/>
<circle class="o" cx="532.3" cy="709.0" r="2.35"/>
<circle class="b" cx="468.8" cy="784.8" r="2.35"/>
<circle class="b" cx="617.2" cy="693.1" r="2.35"/>
<circle class="o" cx="529.4" cy="717.6" r="2.35"/>
<circle class="b" cx="727.3" cy="743.7" r="2.35"/>
<circle class="o" cx="470.9" cy="772.5" r="2.35"/>
<circle class="o" cx="504.8" cy="724.8" r="2.35"/>
<circle class="o" cx="503.4" cy="739.3" r="2.35"/>
<circle class="o" cx="589.0" cy="674.3" r="2.35"/>
<circle class="o" cx="509.9" cy="733.5" r="2.35"/>
<circle class="b" cx="550.8" cy="745.4" r="2.35"/>
<circle class="o" cx="454.3" cy="778.3" r="2.35"/>
<circle class="o" cx="504.8" cy="749.4" r="2.35"/>
<circle class="o" cx="478.1" cy="761.7" r="2.35"/>
<circle class="o" cx="751.3" cy="677.6" r="2.35"/>
<circle class="o" cx="476.5" cy="744.4" r="2.35"/>
<circle class="o" cx="622.5" cy="687.3" r="2.35"/>
<circle class="o" cx="547.6" cy="690.9" r="2.35"/>
<circle class="o" cx="507.0" cy="762.4" r="2.35"/>
<circle class="o" cx="530.8" cy="685.1" r="2.35"/>
<circle class="b" cx="455.8" cy="808.6" r="2.35"/>
<circle class="b" cx="534.4" cy="716.5" r="2.35"/>
<circle class="o" cx="589.5" cy="663.0" r="2.35"/>
<circle class="b" cx="461.2" cy="825.6" r="2.35"/>
<circle class="b" cx="467.3" cy="798.5" r="2.35"/>
<circle class="o" cx="646.0" cy="697.4" r="2.35"/>
<circle class="b" cx="616.0" cy="743.7" r="2.35"/>
<circle class="b" cx="518.3" cy="773.2" r="2.35"/>
<circle class="o" cx="639.1" cy="723.8" r="2.35"/>
<circle class="o" cx="498.8" cy="709.0" r="2.35"/>
<circle class="b" cx="452.9" cy="846.8" r="2.35"/>
<circle class="b" cx="452.8" cy="796.1" r="2.35"/>
<circle class="o" cx="468.0" cy="750.2" r="2.35"/>
<circle class="o" cx="554.4" cy="676.5" r="2.35"/>
<circle class="o" cx="510.6" cy="709.0" r="2.35"/>
<circle class="o" cx="672.6" cy="684.1" r="2.35"/>
<circle class="o" cx="609.2" cy="677.2" r="2.35"/>
<circle class="o" cx="468.0" cy="766.0" r="2.35"/>
<circle class="o" cx="538.8" cy="698.1" r="2.35"/>
<circle class="o" cx="508.9" cy="705.8" r="2.35"/>
<circle class="o" cx="535.6" cy="713.3" r="2.35"/>
<circle class="o" cx="485.9" cy="747.2" r="2.35"/>
<circle class="b" cx="616.0" cy="761.4" r="2.35"/>
<circle class="o" cx="581.8" cy="650.5" r="2.35"/>
<circle class="o" cx="505.1" cy="707.5" r="2.35"/>
<circle class="o" cx="464.4" cy="761.0" r="2.35"/>
<circle class="o" cx="604.2" cy="683.0" r="2.35"/>
<circle class="o" cx="480.3" cy="750.9" r="2.35"/>
<circle class="o" cx="464.4" cy="768.9" r="2.35"/>
<circle class="b" cx="480.3" cy="792.7" r="2.35"/>
<circle class="b" cx="525.8" cy="777.6" r="2.35"/>
<circle class="o" cx="475.2" cy="768.2" r="2.35"/>
<circle class="o" cx="699.4" cy="700.2" r="2.35"/>
<circle class="b" cx="500.9" cy="689.9" r="2.35"/>
<circle class="o" cx="494.7" cy="786.2" r="2.35"/>
<circle class="b" cx="476.0" cy="791.3" r="2.35"/>
<circle class="o" cx="581.4" cy="655.5" r="2.35"/>
<circle class="o" cx="496.9" cy="802.1" r="2.35"/>
<circle class="b" cx="586.1" cy="687.3" r="2.35"/>
<circle class="o" cx="540.9" cy="675.0" r="2.35"/>
<circle class="b" cx="564.9" cy="773.0" r="2.35"/>
<circle class="o" cx="538.0" cy="752.0" r="2.35"/>
<circle class="o" cx="739.2" cy="683.6" r="2.35"/>
<circle class="o" cx="512.8" cy="701.0" r="2.35"/>
<circle class="o" cx="512.4" cy="696.1" r="2.35"/>
<circle class="b" cx="487.5" cy="799.9" r="2.35"/>
<circle class="o" cx="554.8" cy="698.6" r="2.35"/>
<circle class="b" cx="470.2" cy="808.6" r="2.35"/>
<circle class="b" cx="488.2" cy="814.1" r="2.35"/>
<circle class="o" cx="675.3" cy="693.1" r="2.35"/>
<circle class="b" cx="465.9" cy="783.4" r="2.35"/>
<circle class="o" cx="602.7" cy="691.3" r="2.35"/>
<circle class="b" cx="456.4" cy="796.6" r="2.35"/>
<circle class="o" cx="493.3" cy="749.4" r="2.35"/>
<circle class="o" cx="531.6" cy="716.1" r="2.35"/>
<circle class="o" cx="504.1" cy="714.0" r="2.35"/>
<circle class="b" cx="482.0" cy="798.1" r="2.35"/>
<circle class="o" cx="690.4" cy="681.3" r="2.35"/>
<circle class="o" cx="495.9" cy="794.2" r="2.35"/>
<circle class="o" cx="470.2" cy="756.6" r="2.35"/>
<circle class="o" cx="464.4" cy="740.8" r="2.35"/>
<circle class="b" cx="483.9" cy="801.4" r="2.35"/>
<circle class="b" cx="486.8" cy="805.7" r="2.35"/>
<circle class="o" cx="717.5" cy="699.7" r="2.35"/>
<circle class="o" cx="533.0" cy="684.4" r="2.35"/>
<circle class="b" cx="501.2" cy="780.5" r="2.35"/>
<circle class="o" cx="560.6" cy="665.6" r="2.35"/>
<circle class="o" cx="515.7" cy="729.9" r="2.35"/>
<circle class="o" cx="522.8" cy="727.0" r="2.35"/>
<circle class="o" cx="484.6" cy="749.4" r="2.35"/>
<circle class="b" cx="526.3" cy="715.6" r="2.35"/>
<circle class="o" cx="494.0" cy="790.6" r="2.35"/>
<circle class="b" cx="512.3" cy="799.9" r="2.35"/>
<circle class="b" cx="494.4" cy="821.3" r="2.35"/>
<circle class="o" cx="479.6" cy="765.3" r="2.35"/>
<circle class="b" cx="452.9" cy="798.5" r="2.35"/>
<circle class="b" cx="493.3" cy="783.8" r="2.35"/>
<circle class="o" cx="744.7" cy="688.6" r="2.35"/>
<circle class="o" cx="540.2" cy="690.2" r="2.35"/>
<circle class="b" cx="476.0" cy="801.4" r="2.35"/>
<circle class="o" cx="453.2" cy="804.3" r="2.35"/>
<circle class="b" cx="512.8" cy="762.4" r="2.35"/>
<circle class="o" cx="474.5" cy="754.5" r="2.35"/>
<circle class="o" cx="576.5" cy="703.2" r="2.35"/>
<circle class="o" cx="577.9" cy="700.3" r="2.35"/>
<circle class="b" cx="568.1" cy="742.9" r="2.35"/>
<circle class="b" cx="489.7" cy="778.3" r="2.35"/>
<circle class="o" cx="549.5" cy="684.0" r="2.35"/>
<circle class="o" cx="488.2" cy="738.6" r="2.35"/>
<circle class="b" cx="669.3" cy="760.6" r="2.35"/>
<circle class="o" cx="461.8" cy="734.7" r="2.35"/>
<circle class="b" cx="514.6" cy="744.8" r="2.35"/>
<circle class="o" cx="565.9" cy="670.7" r="2.35"/>
<circle class="o" cx="517.8" cy="688.7" r="2.35"/>
<circle class="o" cx="600.6" cy="681.5" r="2.35"/>
<circle class="o" cx="581.5" cy="680.1" r="2.35"/>
<circle class="b" cx="522.2" cy="813.2" r="2.35"/>
<circle class="o" cx="692.5" cy="695.7" r="2.35"/>
<circle class="b" cx="547.0" cy="739.3" r="2.35"/>
<circle class="o" cx="473.1" cy="739.3" r="2.35"/>
<circle class="b" cx="639.5" cy="751.6" r="2.35"/>
<circle class="b" cx="566.6" cy="700.6" r="2.35"/>
<circle class="b" cx="506.6" cy="794.2" r="2.35"/>
<circle class="o" cx="546.7" cy="691.6" r="2.35"/>
<circle class="o" cx="530.1" cy="707.5" r="2.35"/>
<circle class="o" cx="622.9" cy="698.9" r="2.35"/>
<circle class="o" cx="549.0" cy="653.8" r="2.35"/>
<circle class="b" cx="487.5" cy="794.2" r="2.35"/>
<circle class="b" cx="527.2" cy="748.7" r="2.35"/>
<circle class="b" cx="543.5" cy="790.1" r="2.35"/>
<circle class="o" cx="472.4" cy="761.0" r="2.35"/>
<circle class="o" cx="584.0" cy="653.4" r="2.35"/>
<circle class="b" cx="499.5" cy="766.5" r="2.35"/>
<circle class="o" cx="527.6" cy="705.3" r="2.35"/>
<circle class="b" cx="496.2" cy="833.4" r="2.35"/>
<circle class="b" cx="483.2" cy="780.9" r="2.35"/>
<circle class="o" cx="566.4" cy="663.9" r="2.35"/>
<circle class="b" cx="529.4" cy="779.7" r="2.35"/>
<circle class="b" cx="654.4" cy="761.3" r="2.35"/>
<circle class="o" cx="452.9" cy="781.9" r="2.35"/>
<circle class="o" cx="553.7" cy="650.5" r="2.35"/>
<circle class="o" cx="486.1" cy="740.8" r="2.35"/>
<circle class="o" cx="477.4" cy="745.1" r="2.35"/>
<circle class="o" cx="490.4" cy="776.1" r="2.35"/>
<circle class="o" cx="472.4" cy="766.7" r="2.35"/>
<circle class="o" cx="512.8" cy="698.1" r="2.35"/>
<circle class="b" cx="470.2" cy="768.9" r="2.35"/>
<circle class="o" cx="473.2" cy="752.4" r="2.35"/>
<circle class="o" cx="478.9" cy="755.2" r="2.35"/>
<circle class="o" cx="555.4" cy="680.8" r="2.35"/>
<circle class="b" cx="463.7" cy="821.3" r="2.35"/>
<circle class="o" cx="514.9" cy="693.1" r="2.35"/>
<circle class="o" cx="546.7" cy="674.3" r="2.35"/>
<circle class="o" cx="514.9" cy="725.6" r="2.35"/>
<circle class="b" cx="751.8" cy="739.5" r="2.35"/>
<circle class="o" cx="512.1" cy="685.9" r="2.35"/>
<circle class="b" cx="478.1" cy="803.5" r="2.35"/>
<circle class="b" cx="511.3" cy="758.8" r="2.35"/>
<circle class="o" cx="653.2" cy="711.8" r="2.35"/>
<circle class="o" cx="497.6" cy="695.2" r="2.35"/>
<circle class="o" cx="457.8" cy="801.7" r="2.35"/>
<circle class="o" cx="596.2" cy="704.3" r="2.35"/>
<circle class="o" cx="471.6" cy="793.9" r="2.35"/>
<circle class="b" cx="553.7" cy="759.2" r="2.35"/>
<circle class="b" cx="540.6" cy="723.4" r="2.35"/>
<circle class="b" cx="478.1" cy="775.4" r="2.35"/>
<circle class="b" cx="458.6" cy="802.8" r="2.35"/>
<circle class="o" cx="733.4" cy="659.9" r="2.35"/>
<circle class="o" cx="532.3" cy="719.8" r="2.35"/>
<circle class="b" cx="495.9" cy="841.5" r="2.35"/>
<circle class="o" cx="496.9" cy="826.6" r="2.35"/>
<circle class="o" cx="489.0" cy="748.7" r="2.35"/>
<circle class="o" cx="669.9" cy="722.4" r="2.35"/>
<circle class="o" cx="483.2" cy="743.7" r="2.35"/>
<circle class="b" cx="593.8" cy="750.2" r="2.35"/>
<circle class="o" cx="579.6" cy="706.4" r="2.35"/>
<circle class="o" cx="728.8" cy="683.6" r="2.35"/>
<circle class="o" cx="563.0" cy="667.8" r="2.35"/>
<circle class="o" cx="550.1" cy="683.0" r="2.35"/>
<circle class="b" cx="545.7" cy="726.0" r="2.35"/>
<circle class="o" cx="452.9" cy="763.9" r="2.35"/>
<circle class="b" cx="562.3" cy="720.1" r="2.35"/>
<circle class="o" cx="507.7" cy="701.5" r="2.35"/>
<circle class="b" cx="465.1" cy="811.5" r="2.35"/>
<circle class="o" cx="489.7" cy="743.7" r="2.35"/>
<circle class="b" cx="507.4" cy="792.0" r="2.35"/>
<circle class="o" cx="516.4" cy="716.9" r="2.35"/>
<circle class="b" cx="663.3" cy="774.7" r="2.35"/>
<circle class="o" cx="468.0" cy="763.1" r="2.35"/>
<circle class="o" cx="490.1" cy="731.3" r="2.35"/>
<circle class="o" cx="674.1" cy="673.8" r="2.35"/>
<circle class="o" cx="454.3" cy="783.3" r="2.35"/>
<circle class="b" cx="577.0" cy="765.4" r="2.35"/>
<circle class="o" cx="616.9" cy="695.7" r="2.35"/>
<circle class="o" cx="746.8" cy="678.8" r="2.35"/>
<circle class="b" cx="526.8" cy="794.5" r="2.35"/>
<circle class="b" cx="473.8" cy="808.6" r="2.35"/>
<circle class="o" cx="563.0" cy="678.6" r="2.35"/>
<circle class="o" cx="486.8" cy="745.8" r="2.35"/>
<circle class="b" cx="657.2" cy="771.9" r="2.35"/>
<circle class="o" cx="457.2" cy="766.0" r="2.35"/>
<circle class="o" cx="575.3" cy="691.6" r="2.35"/>
<circle class="o" cx="460.8" cy="778.3" r="2.35"/>
<circle class="o" cx="489.0" cy="758.1" r="2.35"/>
<circle class="b" cx="477.1" cy="796.5" r="2.35"/>
<circle class="o" cx="478.6" cy="737.1" r="2.35"/>
<circle class="b" cx="467.3" cy="794.2" r="2.35"/>
<circle class="b" cx="657.8" cy="719.8" r="2.35"/>
<circle class="o" cx="474.5" cy="779.0" r="2.35"/>
<circle class="o" cx="460.1" cy="767.5" r="2.35"/>
<circle class="o" cx="489.0" cy="737.8" r="2.35"/>
<circle class="o" cx="452.6" cy="780.1" r="2.35"/>
<circle class="o" cx="489.1" cy="744.8" r="2.35"/>
<circle class="b" cx="473.1" cy="784.8" r="2.35"/>
<circle class="o" cx="632.8" cy="713.3" r="2.35"/>
<circle class="o" cx="455.8" cy="770.4" r="2.35"/>
<circle class="o" cx="465.9" cy="723.8" r="2.35"/>
<circle class="o" cx="676.4" cy="688.9" r="2.35"/>
<circle class="o" cx="520.7" cy="741.5" r="2.35"/>
<circle class="o" cx="571.8" cy="647.3" r="2.35"/>
<circle class="o" cx="452.9" cy="831.4" r="2.35"/>
<circle class="o" cx="525.3" cy="693.1" r="2.35"/>
<circle class="o" cx="535.9" cy="691.6" r="2.35"/>
<circle class="o" cx="481.0" cy="728.9" r="2.35"/>
<circle class="b" cx="543.8" cy="784.8" r="2.35"/>
<circle class="o" cx="586.6" cy="701.0" r="2.35"/>
<circle class="o" cx="671.8" cy="676.1" r="2.35"/>
<circle class="b" cx="509.9" cy="722.0" r="2.35"/>
<circle class="b" cx="721.6" cy="705.5" r="2.35"/>
<circle class="o" cx="550.1" cy="678.6" r="2.35"/>
<circle class="o" cx="581.8" cy="706.1" r="2.35"/>
<circle class="o" cx="497.3" cy="814.4" r="2.35"/>
<circle class="o" cx="635.2" cy="695.2" r="2.35"/>
<circle class="o" cx="527.2" cy="724.1" r="2.35"/>
<circle class="b" cx="470.2" cy="781.9" r="2.35"/>
<circle class="o" cx="565.6" cy="694.1" r="2.35"/>
<circle class="o" cx="517.1" cy="698.1" r="2.35"/>
<circle class="b" cx="742.3" cy="681.3" r="2.35"/>
<circle class="o" cx="486.8" cy="755.2" r="2.35"/>
<circle class="o" cx="698.7" cy="682.1" r="2.35"/>
<circle class="o" cx="608.5" cy="671.4" r="2.35"/>
<circle class="o" cx="483.9" cy="764.6" r="2.35"/>
<circle class="o" cx="625.8" cy="696.0" r="2.35"/>
<circle class="b" cx="621.8" cy="757.7" r="2.35"/>
<circle class="b" cx="644.9" cy="749.1" r="2.35"/>
<circle class="b" cx="505.6" cy="723.0" r="2.35"/>
<circle class="b" cx="633.3" cy="723.0" r="2.35"/>
<circle class="o" cx="516.1" cy="706.4" r="2.35"/>
<circle class="o" cx="460.8" cy="753.8" r="2.35"/>
<circle class="o" cx="547.9" cy="686.6" r="2.35"/>
<circle class="o" cx="535.9" cy="684.4" r="2.35"/>
<circle class="b" cx="467.3" cy="778.3" r="2.35"/>
<circle class="b" cx="571.3" cy="738.2" r="2.35"/>
<circle class="b" cx="464.4" cy="785.5" r="2.35"/>
<circle class="o" cx="477.1" cy="766.2" r="2.35"/>
<circle class="b" cx="515.4" cy="794.2" r="2.35"/>
<circle class="b" cx="457.2" cy="824.8" r="2.35"/>
<circle class="o" cx="621.2" cy="714.0" r="2.35"/>
<circle class="b" cx="528.6" cy="797.8" r="2.35"/>
<circle class="o" cx="499.1" cy="700.3" r="2.35"/>
<circle class="b" cx="504.8" cy="771.8" r="2.35"/>
<circle class="o" cx="553.7" cy="663.5" r="2.35"/>
<circle class="o" cx="474.7" cy="765.9" r="2.35"/>
<circle class="o" cx="476.0" cy="741.5" r="2.35"/>
<circle class="b" cx="494.7" cy="832.8" r="2.35"/>
<circle class="b" cx="453.2" cy="834.6" r="2.35"/>
<circle class="b" cx="455.8" cy="777.1" r="2.35"/>
<circle class="b" cx="523.3" cy="767.0" r="2.35"/>
<circle class="o" cx="524.8" cy="725.6" r="2.35"/>
<circle class="b" cx="458.6" cy="794.9" r="2.35"/>
<circle class="o" cx="593.4" cy="667.4" r="2.35"/>
<circle class="o" cx="510.6" cy="764.6" r="2.35"/>
<circle class="o" cx="520.0" cy="733.5" r="2.35"/>
<circle class="b" cx="460.8" cy="786.2" r="2.35"/>
<circle class="o" cx="525.8" cy="715.5" r="2.35"/>
<circle class="b" cx="539.2" cy="730.6" r="2.35"/>
<circle class="o" cx="480.3" cy="746.5" r="2.35"/>
<circle class="b" cx="480.3" cy="797.1" r="2.35"/>
<circle class="o" cx="541.0" cy="692.7" r="2.35"/>
<circle class="o" cx="555.8" cy="728.4" r="2.35"/>
<circle class="o" cx="556.5" cy="673.2" r="2.35"/>
<circle class="o" cx="497.6" cy="820.9" r="2.35"/>
<circle class="b" cx="501.7" cy="796.3" r="2.35"/>
<circle class="o" cx="585.7" cy="673.2" r="2.35"/>
<circle class="o" cx="685.9" cy="670.5" r="2.35"/>
<circle class="o" cx="525.3" cy="685.1" r="2.35"/>
<circle class="b" cx="491.8" cy="817.3" r="2.35"/>
<circle class="b" cx="462.3" cy="814.4" r="2.35"/>
<circle class="o" cx="606.3" cy="696.7" r="2.35"/>
<circle class="b" cx="471.6" cy="799.2" r="2.35"/>
<circle class="o" cx="636.6" cy="709.4" r="2.35"/>
<circle class="b" cx="477.4" cy="771.1" r="2.35"/>
<circle class="b" cx="659.8" cy="770.4" r="2.35"/>
<circle class="b" cx="570.3" cy="717.3" r="2.35"/>
<circle class="o" cx="496.9" cy="797.1" r="2.35"/>
<circle class="o" cx="591.2" cy="681.5" r="2.35"/>
<circle class="o" cx="532.5" cy="697.1" r="2.35"/>
<circle class="o" cx="528.6" cy="696.7" r="2.35"/>
<circle class="o" cx="499.4" cy="680.8" r="2.35"/>
<circle class="o" cx="540.2" cy="680.1" r="2.35"/>
<circle class="o" cx="504.1" cy="745.8" r="2.35"/>
<circle class="o" cx="538.8" cy="646.2" r="2.35"/>
<circle class="o" cx="479.4" cy="762.3" r="2.35"/>
<circle class="b" cx="500.5" cy="757.4" r="2.35"/>
<circle class="o" cx="525.0" cy="711.8" r="2.35"/>
<circle class="b" cx="470.9" cy="789.8" r="2.35"/>
<circle class="b" cx="509.9" cy="800.7" r="2.35"/>
<circle class="o" cx="648.9" cy="669.3" r="2.35"/>
<circle class="o" cx="469.5" cy="745.8" r="2.35"/>
<circle class="o" cx="457.2" cy="756.6" r="2.35"/>
<circle class="o" cx="577.5" cy="674.3" r="2.35"/>
<circle class="o" cx="645.6" cy="685.9" r="2.35"/>
<circle class="b" cx="480.3" cy="799.9" r="2.35"/>
<circle class="b" cx="642.4" cy="711.8" r="2.35"/>
<circle class="o" cx="501.7" cy="724.8" r="2.35"/>
<circle class="o" cx="742.7" cy="712.7" r="2.35"/>
<circle class="b" cx="514.5" cy="749.4" r="2.35"/>
<circle class="o" cx="472.3" cy="780.9" r="2.35"/>
<circle class="b" cx="473.8" cy="802.8" r="2.35"/>
<circle class="o" cx="543.5" cy="691.6" r="2.35"/>
<circle class="o" cx="559.1" cy="677.2" r="2.35"/>
<circle class="o" cx="555.8" cy="650.1" r="2.35"/>
<circle class="o" cx="458.6" cy="790.1" r="2.35"/>
<circle class="o" cx="644.9" cy="706.1" r="2.35"/>
<circle class="o" cx="509.9" cy="712.6" r="2.35"/>
<circle class="b" cx="575.7" cy="745.1" r="2.35"/>
<circle class="o" cx="714.1" cy="701.7" r="2.35"/>
<circle class="o" cx="539.2" cy="671.4" r="2.35"/>
<circle class="b" cx="476.1" cy="777.2" r="2.35"/>
<circle class="o" cx="676.4" cy="680.6" r="2.35"/>
<circle class="o" cx="749.2" cy="714.1" r="2.35"/>
<circle class="o" cx="476.0" cy="748.7" r="2.35"/>
<circle class="b" cx="464.4" cy="802.1" r="2.35"/>
<circle class="b" cx="500.5" cy="774.3" r="2.35"/>
<circle class="b" cx="541.2" cy="744.8" r="2.35"/>
<circle class="b" cx="713.3" cy="743.7" r="2.35"/>
<circle class="o" cx="667.3" cy="681.3" r="2.35"/>
<circle class="o" cx="695.2" cy="695.7" r="2.35"/>
<circle class="o" cx="567.4" cy="674.0" r="2.35"/>
<circle class="o" cx="522.3" cy="710.4" r="2.35"/>
<circle class="b" cx="466.1" cy="805.0" r="2.35"/>
<rect x="438.0" y="619.3" width="330.7" height="241.8" fill="none" stroke="#666666" stroke-width="1.2"/>
<line x1="435.1" x2="438.0" y1="656.5" y2="656.5" stroke="#666666" stroke-width="0.9"/>
<g font-size="8.0" fill="#2a2a2a" stroke="#2a2a2a" stroke-width="0.3"><text transform="translate(418.37 659.20) scale(0.744 1.000)">0</text><text x="421.54" y="659.20">.</text><text transform="translate(425.40 659.20) scale(0.825 1.000)">1</text><text transform="translate(429.31 659.20) scale(0.751 1.000)">5</text></g>
<line x1="435.1" x2="438.0" y1="699.1" y2="699.1" stroke="#666666" stroke-width="0.9"/>
<g font-size="8.0" fill="#2a2a2a" stroke="#2a2a2a" stroke-width="0.3"><text transform="translate(418.37 701.80) scale(0.744 1.000)">0</text><text x="421.54" y="701.80">.</text><text transform="translate(425.40 701.80) scale(0.825 1.000)">1</text><text transform="translate(429.32 701.80) scale(0.744 1.000)">0</text></g>
<line x1="435.1" x2="438.0" y1="741.7" y2="741.7" stroke="#666666" stroke-width="0.9"/>
<g font-size="8.0" fill="#2a2a2a" stroke="#2a2a2a" stroke-width="0.3"><text transform="translate(418.37 744.40) scale(0.744 1.000)">0</text><text x="421.54" y="744.40">.</text><text transform="translate(425.67 744.40) scale(0.744 1.000)">0</text><text transform="translate(429.31 744.40) scale(0.751 1.000)">5</text></g>
<line x1="435.1" x2="438.0" y1="784.3" y2="784.3" stroke="#666666" stroke-width="0.9"/>
<g font-size="8.0" fill="#2a2a2a" stroke="#2a2a2a" stroke-width="0.3"><text transform="translate(418.37 787.00) scale(0.744 1.000)">0</text><text x="421.54" y="787.00">.</text><text transform="translate(425.67 787.00) scale(0.744 1.000)">0</text><text transform="translate(429.32 787.00) scale(0.744 1.000)">0</text></g>
<line x1="435.1" x2="438.0" y1="826.9" y2="826.9" stroke="#666666" stroke-width="0.9"/>
<g font-size="8.0" fill="#2a2a2a" stroke="#2a2a2a" stroke-width="0.3"><text transform="translate(414.66 829.60) scale(0.732 1.000)">−</text><text transform="translate(418.37 829.60) scale(0.744 1.000)">0</text><text x="421.54" y="829.60">.</text><text transform="translate(425.67 829.60) scale(0.744 1.000)">0</text><text transform="translate(429.31 829.60) scale(0.751 1.000)">5</text></g>
<line x1="500.4" x2="500.4" y1="861.1" y2="864.0" stroke="#666666" stroke-width="0.9"/>
<g font-size="8.0" fill="#2a2a2a" stroke="#2a2a2a" stroke-width="0.3"><text transform="translate(496.65 871.20) scale(0.825 1.000)">1</text><text transform="translate(500.57 871.20) scale(0.744 1.000)">0</text></g>
<line x1="564.3" x2="564.3" y1="861.1" y2="864.0" stroke="#666666" stroke-width="0.9"/>
<g font-size="8.0" fill="#2a2a2a" stroke="#2a2a2a" stroke-width="0.3"><text transform="translate(560.74 871.20) scale(0.781 1.000)">2</text><text transform="translate(564.47 871.20) scale(0.744 1.000)">0</text></g>
<line x1="628.2" x2="628.2" y1="861.1" y2="864.0" stroke="#666666" stroke-width="0.9"/>
<g font-size="8.0" fill="#2a2a2a" stroke="#2a2a2a" stroke-width="0.3"><text transform="translate(624.72 871.20) scale(0.751 1.000)">3</text><text transform="translate(628.37 871.20) scale(0.744 1.000)">0</text></g>
<line x1="692.1" x2="692.1" y1="861.1" y2="864.0" stroke="#666666" stroke-width="0.9"/>
<g font-size="8.0" fill="#2a2a2a" stroke="#2a2a2a" stroke-width="0.3"><text transform="translate(688.72 871.20) scale(0.706 1.000)">4</text><text transform="translate(692.27 871.20) scale(0.744 1.000)">0</text></g>
<line x1="756.0" x2="756.0" y1="861.1" y2="864.0" stroke="#666666" stroke-width="0.9"/>
<g font-size="8.0" fill="#2a2a2a" stroke="#2a2a2a" stroke-width="0.3"><text transform="translate(752.51 871.20) scale(0.751 1.000)">5</text><text transform="translate(756.17 871.20) scale(0.744 1.000)">0</text></g>
<g font-size="9.4" fill="#000000" stroke="#000000" stroke-width="0.4"><text transform="translate(493.68 882.60) scale(1.000 1.100)">F</text><text x="500.91" y="882.60">i</text><text x="504.43" y="882.60">b</text><text x="510.55" y="882.60">r</text><text x="516.51" y="882.60">i</text><text x="520.13" y="882.60">n</text><text transform="translate(530.42 882.60) scale(0.969 1.000)">a</text><text x="535.73" y="882.60">n</text><text x="541.04" y="882.60">d</text><text transform="translate(550.88 882.60) scale(1.000 1.100)">F</text><text x="558.11" y="882.60">i</text><text x="561.63" y="882.60">b</text><text x="567.75" y="882.60">r</text><text x="573.71" y="882.60">i</text><text x="577.33" y="882.60">n</text><text x="582.54" y="882.60">o</text><text x="587.84" y="882.60">g</text><text x="592.95" y="882.60">e</text><text x="598.13" y="882.60">n</text><text transform="translate(608.16 882.60) scale(0.841 1.100)">D</text><text x="613.75" y="882.60">e</text><text x="619.04" y="882.60">g</text><text x="624.95" y="882.60">r</text><text transform="translate(629.22 882.60) scale(0.969 1.000)">a</text><text x="634.64" y="882.60">d</text><text transform="translate(639.62 882.60) scale(0.969 1.000)">a</text><text x="646.21" y="882.60">t</text><text x="651.71" y="882.60">i</text><text x="655.34" y="882.60">o</text><text x="660.53" y="882.60">n</text><text transform="translate(670.49 882.60) scale(0.935 1.100)">P</text><text x="676.95" y="882.60">r</text><text x="681.34" y="882.60">o</text><text x="686.64" y="882.60">d</text><text x="691.74" y="882.60">u</text><text x="697.12" y="882.60">c</text><text x="703.41" y="882.60">t</text><text x="707.64" y="882.60">s</text></g>
<g transform="rotate(-90 410.6 740.2)"><g font-size="9.4" fill="#000000" stroke="#000000" stroke-width="0.4"><text transform="translate(262.29 740.20) scale(0.865 1.100)">S</text><text transform="translate(267.17 740.20) scale(0.891 1.100)">H</text><text transform="translate(273.05 740.20) scale(0.751 1.100)">A</text><text transform="translate(277.54 740.20) scale(0.935 1.100)">P</text><text transform="translate(288.63 740.20) scale(0.756 1.100)">V</text><text transform="translate(293.47 740.20) scale(0.969 1.000)">a</text><text x="300.35" y="740.20">l</text><text x="303.99" y="740.20">u</text><text x="309.20" y="740.20">e</text><text x="320.82" y="740.20">f</text><text x="324.79" y="740.20">o</text><text x="330.80" y="740.20">r</text><text transform="translate(339.93 740.20) scale(1.000 1.100)">F</text><text x="347.16" y="740.20">i</text><text x="350.68" y="740.20">b</text><text x="356.80" y="740.20">r</text><text x="362.76" y="740.20">i</text><text x="366.38" y="740.20">n</text><text transform="translate(376.67 740.20) scale(0.969 1.000)">a</text><text x="381.98" y="740.20">n</text><text x="387.29" y="740.20">d</text><text transform="translate(397.13 740.20) scale(1.000 1.100)">F</text><text x="404.36" y="740.20">i</text><text x="407.88" y="740.20">b</text><text x="414.00" y="740.20">r</text><text x="419.96" y="740.20">i</text><text x="423.58" y="740.20">n</text><text x="428.79" y="740.20">o</text><text x="434.09" y="740.20">g</text><text x="439.20" y="740.20">e</text><text x="444.38" y="740.20">n</text><text transform="translate(454.41 740.20) scale(0.841 1.100)">D</text><text x="460.00" y="740.20">e</text><text x="465.29" y="740.20">g</text><text x="471.20" y="740.20">r</text><text transform="translate(475.47 740.20) scale(0.969 1.000)">a</text><text x="480.89" y="740.20">d</text><text transform="translate(485.87 740.20) scale(0.969 1.000)">a</text><text x="492.46" y="740.20">t</text><text x="497.96" y="740.20">i</text><text x="501.59" y="740.20">o</text><text x="506.78" y="740.20">n</text><text transform="translate(516.74 740.20) scale(0.935 1.100)">P</text><text x="523.20" y="740.20">r</text><text x="527.59" y="740.20">o</text><text x="532.89" y="740.20">d</text><text x="537.99" y="740.20">u</text><text x="543.37" y="740.20">c</text><text x="549.66" y="740.20">t</text><text x="553.89" y="740.20">s</text></g></g>
<rect x="699.6" y="623.4" width="65.0" height="31.2" rx="1.5" fill="#fff" fill-opacity="0.8" stroke="#d6d6d6" stroke-width="0.8"/>
<g font-size="7.5" fill="#151515" font-weight="bold" stroke="#151515" stroke-width="0.1"><text x="703.49" y="631.20">I</text><text x="706.88" y="631.20">f</text><text transform="translate(713.69 631.20) scale(0.674 1.000)">C</text><text transform="translate(717.50 631.20) scale(0.748 1.000)">T</text><text transform="translate(720.84 631.20) scale(0.778 1.000)">P</text><text transform="translate(724.78 631.20) scale(0.656 1.000)">A</text><text transform="translate(731.85 631.20) scale(0.778 1.000)">P</text><text transform="translate(735.67 631.20) scale(0.827 1.000)">o</text><text transform="translate(739.34 631.20) scale(0.918 1.000)">s</text><text x="743.87" y="631.20">i</text><text x="747.33" y="631.20">t</text><text x="751.21" y="631.20">i</text><text transform="translate(754.24 631.20) scale(0.804 1.000)">v</text><text transform="translate(757.67 631.20) scale(0.912 1.000)">e</text></g>
<circle cx="714.1" cy="639.0" r="2.45" fill="#1c74b0"/>
<circle cx="714.1" cy="648.7" r="2.45" fill="#f07c14"/>
<g font-size="7.5" fill="#151515" font-weight="bold" stroke="#151515" stroke-width="0.1"><text transform="translate(728.21 641.20) scale(0.749 1.000)">N</text><text transform="translate(731.99 641.20) scale(0.912 1.000)">e</text><text transform="translate(735.65 641.20) scale(0.876 1.000)">g</text><text transform="translate(739.41 641.20) scale(0.826 1.000)">a</text><text x="743.67" y="641.20">t</text><text x="747.55" y="641.20">i</text><text transform="translate(750.58 641.20) scale(0.804 1.000)">v</text><text transform="translate(754.01 641.20) scale(0.912 1.000)">e</text></g>
<g font-size="7.5" fill="#151515" font-weight="bold" stroke="#151515" stroke-width="0.1"><text transform="translate(728.19 650.90) scale(0.778 1.000)">P</text><text transform="translate(732.01 650.90) scale(0.827 1.000)">o</text><text transform="translate(735.68 650.90) scale(0.918 1.000)">s</text><text x="740.21" y="650.90">i</text><text x="743.67" y="650.90">t</text><text x="747.55" y="650.90">i</text><text transform="translate(750.58 650.90) scale(0.804 1.000)">v</text><text transform="translate(754.01 650.90) scale(0.912 1.000)">e</text></g>
<line x1="44.5" x2="373.2" y1="1029.6" y2="1029.6" stroke="#e01e22" stroke-width="1.35"/>
<circle class="b" cx="196.2" cy="1050.0" r="2.35"/>
<circle class="b" cx="145.0" cy="1043.4" r="2.35"/>
<circle class="b" cx="98.6" cy="1118.8" r="2.35"/>
<circle class="b" cx="245.8" cy="1029.7" r="2.35"/>
<circle class="o" cx="72.6" cy="1041.7" r="2.35"/>
<circle class="b" cx="179.4" cy="1055.7" r="2.35"/>
<circle class="b" cx="224.9" cy="1014.5" r="2.35"/>
<circle class="o" cx="65.9" cy="1056.9" r="2.35"/>
<circle class="b" cx="234.3" cy="1020.3" r="2.35"/>
<circle class="b" cx="334.2" cy="1053.7" r="2.35"/>
<circle class="b" cx="146.2" cy="1049.2" r="2.35"/>
<circle class="b" cx="305.5" cy="1019.3" r="2.35"/>
<circle class="b" cx="202.5" cy="1048.5" r="2.35"/>
<circle class="o" cx="96.2" cy="1047.0" r="2.35"/>
<circle class="o" cx="127.4" cy="1034.9" r="2.35"/>
<circle class="b" cx="327.6" cy="1019.3" r="2.35"/>
<circle class="b" cx="162.1" cy="1065.8" r="2.35"/>
<circle class="o" cx="290.1" cy="989.2" r="2.35"/>
<circle class="b" cx="277.6" cy="1029.6" r="2.35"/>
<circle class="o" cx="150.8" cy="1042.7" r="2.35"/>
<circle class="b" cx="142.1" cy="1036.2" r="2.35"/>
<circle class="o" cx="173.6" cy="1039.1" r="2.35"/>
<circle class="o" cx="355.8" cy="949.5" r="2.35"/>
<circle class="b" cx="269.7" cy="1044.8" r="2.35"/>
<circle class="o" cx="344.9" cy="1037.8" r="2.35"/>
<circle class="o" cx="304.1" cy="1000.9" r="2.35"/>
<circle class="b" cx="264.4" cy="1028.9" r="2.35"/>
<circle class="b" cx="312.2" cy="1031.1" r="2.35"/>
<circle class="b" cx="272.5" cy="1033.4" r="2.35"/>
<circle class="b" cx="76.9" cy="1136.1" r="2.35"/>
<circle class="o" cx="168.6" cy="1047.8" r="2.35"/>
<circle class="o" cx="169.3" cy="1034.1" r="2.35"/>
<circle class="b" cx="270.3" cy="1029.6" r="2.35"/>
<circle class="b" cx="122.7" cy="1135.5" r="2.35"/>
<circle class="b" cx="74.6" cy="1114.9" r="2.35"/>
<circle class="b" cx="206.8" cy="1053.5" r="2.35"/>
<circle class="o" cx="150.8" cy="1032.6" r="2.35"/>
<circle class="b" cx="170.8" cy="1042.0" r="2.35"/>
<circle class="o" cx="298.9" cy="994.3" r="2.35"/>
<circle class="b" cx="98.6" cy="1092.2" r="2.35"/>
<circle class="o" cx="232.8" cy="1007.3" r="2.35"/>
<circle class="b" cx="102.9" cy="1141.6" r="2.35"/>
<circle class="b" cx="196.4" cy="1045.5" r="2.35"/>
<circle class="b" cx="122.7" cy="1044.9" r="2.35"/>
<circle class="b" cx="154.9" cy="1036.9" r="2.35"/>
<circle class="b" cx="339.3" cy="1000.1" r="2.35"/>
<circle class="b" cx="209.7" cy="1075.5" r="2.35"/>
<circle class="o" cx="330.7" cy="971.0" r="2.35"/>
<circle class="o" cx="204.0" cy="1037.7" r="2.35"/>
<circle class="b" cx="192.4" cy="1064.4" r="2.35"/>
<circle class="b" cx="253.0" cy="1036.2" r="2.35"/>
<circle class="o" cx="329.8" cy="974.5" r="2.35"/>
<circle class="b" cx="290.6" cy="1037.8" r="2.35"/>
<circle class="b" cx="168.6" cy="1044.2" r="2.35"/>
<circle class="o" cx="221.3" cy="1018.8" r="2.35"/>
<circle class="o" cx="355.8" cy="1018.1" r="2.35"/>
<circle class="o" cx="289.4" cy="1004.6" r="2.35"/>
<circle class="o" cx="184.5" cy="1028.2" r="2.35"/>
<circle class="o" cx="160.7" cy="1039.1" r="2.35"/>
<circle class="o" cx="216.7" cy="1017.4" r="2.35"/>
<circle class="b" cx="111.8" cy="1118.5" r="2.35"/>
<circle class="o" cx="159.2" cy="1023.9" r="2.35"/>
<circle class="b" cx="204.7" cy="1050.0" r="2.35"/>
<circle class="b" cx="188.1" cy="1030.7" r="2.35"/>
<circle class="b" cx="284.4" cy="1023.1" r="2.35"/>
<circle class="b" cx="240.0" cy="1016.0" r="2.35"/>
<circle class="b" cx="133.5" cy="1044.2" r="2.35"/>
<circle class="b" cx="307.0" cy="1025.9" r="2.35"/>
<circle class="b" cx="81.2" cy="1128.6" r="2.35"/>
<circle class="b" cx="345.2" cy="999.9" r="2.35"/>
<circle class="b" cx="96.2" cy="1125.0" r="2.35"/>
<circle class="b" cx="274.7" cy="1019.3" r="2.35"/>
<circle class="b" cx="314.5" cy="1019.5" r="2.35"/>
<circle class="b" cx="222.8" cy="1014.2" r="2.35"/>
<circle class="o" cx="170.8" cy="1030.4" r="2.35"/>
<circle class="o" cx="303.3" cy="985.5" r="2.35"/>
<circle class="b" cx="255.2" cy="1015.2" r="2.35"/>
<circle class="o" cx="76.9" cy="1053.5" r="2.35"/>
<circle class="o" cx="133.5" cy="1019.1" r="2.35"/>
<circle class="o" cx="111.5" cy="1042.0" r="2.35"/>
<circle class="o" cx="314.4" cy="1003.9" r="2.35"/>
<circle class="o" cx="333.5" cy="972.3" r="2.35"/>
<circle class="o" cx="333.0" cy="969.6" r="2.35"/>
<circle class="o" cx="157.8" cy="1042.7" r="2.35"/>
<circle class="b" cx="127.0" cy="1082.7" r="2.35"/>
<circle class="b" cx="102.9" cy="1084.6" r="2.35"/>
<circle class="b" cx="287.9" cy="1020.0" r="2.35"/>
<circle class="o" cx="251.6" cy="1014.5" r="2.35"/>
<circle class="b" cx="163.0" cy="1045.5" r="2.35"/>
<circle class="o" cx="297.3" cy="1001.4" r="2.35"/>
<circle class="b" cx="216.2" cy="1028.2" r="2.35"/>
<circle class="o" cx="216.2" cy="1023.2" r="2.35"/>
<circle class="o" cx="351.4" cy="1002.0" r="2.35"/>
<circle class="b" cx="268.8" cy="1032.7" r="2.35"/>
<circle class="o" cx="251.6" cy="998.6" r="2.35"/>
<circle class="b" cx="118.3" cy="1059.3" r="2.35"/>
<circle class="o" cx="172.5" cy="1043.3" r="2.35"/>
<circle class="o" cx="282.0" cy="1010.5" r="2.35"/>
<circle class="o" cx="166.4" cy="1039.8" r="2.35"/>
<circle class="b" cx="146.5" cy="1051.4" r="2.35"/>
<circle class="b" cx="105.3" cy="1116.3" r="2.35"/>
<circle class="o" cx="351.4" cy="936.3" r="2.35"/>
<circle class="o" cx="290.9" cy="998.7" r="2.35"/>
<circle class="b" cx="116.2" cy="1115.3" r="2.35"/>
<circle class="o" cx="247.3" cy="1018.8" r="2.35"/>
<circle class="b" cx="201.1" cy="1052.1" r="2.35"/>
<circle class="b" cx="299.7" cy="1023.0" r="2.35"/>
<circle class="o" cx="157.8" cy="1034.1" r="2.35"/>
<circle class="o" cx="277.6" cy="1012.0" r="2.35"/>
<circle class="o" cx="253.0" cy="1018.8" r="2.35"/>
<circle class="b" cx="325.4" cy="1013.4" r="2.35"/>
<circle class="b" cx="150.8" cy="1038.4" r="2.35"/>
<circle class="b" cx="147.9" cy="1044.2" r="2.35"/>
<circle class="o" cx="247.3" cy="1008.0" r="2.35"/>
<circle class="b" cx="312.2" cy="1008.3" r="2.35"/>
<circle class="b" cx="290.9" cy="1012.0" r="2.35"/>
<circle class="b" cx="142.1" cy="1052.8" r="2.35"/>
<circle class="o" cx="268.8" cy="998.7" r="2.35"/>
<circle class="o" cx="74.6" cy="1118.5" r="2.35"/>
<circle class="o" cx="78.9" cy="1051.8" r="2.35"/>
<circle class="b" cx="224.2" cy="1034.8" r="2.35"/>
<circle class="b" cx="212.6" cy="1043.4" r="2.35"/>
<circle class="o" cx="160.7" cy="1031.8" r="2.35"/>
<circle class="o" cx="253.0" cy="1010.2" r="2.35"/>
<circle class="b" cx="330.5" cy="1014.9" r="2.35"/>
<circle class="b" cx="311.4" cy="1021.5" r="2.35"/>
<circle class="o" cx="298.9" cy="1000.2" r="2.35"/>
<circle class="b" cx="140.0" cy="1014.8" r="2.35"/>
<circle class="b" cx="334.2" cy="978.4" r="2.35"/>
<circle class="b" cx="120.5" cy="1123.5" r="2.35"/>
<circle class="o" cx="201.1" cy="1031.8" r="2.35"/>
<circle class="b" cx="170.4" cy="1050.1" r="2.35"/>
<circle class="b" cx="168.7" cy="1062.7" r="2.35"/>
<circle class="b" cx="114.0" cy="1098.6" r="2.35"/>
<circle class="o" cx="211.9" cy="1028.7" r="2.35"/>
<circle class="b" cx="262.9" cy="1023.7" r="2.35"/>
<circle class="o" cx="154.9" cy="1026.1" r="2.35"/>
<circle class="o" cx="342.3" cy="971.5" r="2.35"/>
<circle class="o" cx="221.0" cy="1007.0" r="2.35"/>
<circle class="b" cx="214.1" cy="1046.3" r="2.35"/>
<circle class="b" cx="109.7" cy="1122.8" r="2.35"/>
<circle class="o" cx="242.9" cy="1014.5" r="2.35"/>
<circle class="b" cx="129.2" cy="1078.8" r="2.35"/>
<circle class="o" cx="274.7" cy="1006.8" r="2.35"/>
<circle class="b" cx="169.0" cy="1068.3" r="2.35"/>
<circle class="o" cx="262.9" cy="998.0" r="2.35"/>
<circle class="o" cx="334.2" cy="951.7" r="2.35"/>
<circle class="o" cx="320.2" cy="1001.7" r="2.35"/>
<circle class="o" cx="166.4" cy="1064.4" r="2.35"/>
<circle class="o" cx="245.8" cy="1004.4" r="2.35"/>
<circle class="b" cx="118.3" cy="1074.0" r="2.35"/>
<circle class="b" cx="193.9" cy="1057.9" r="2.35"/>
<circle class="o" cx="312.2" cy="973.0" r="2.35"/>
<circle class="b" cx="298.9" cy="1041.9" r="2.35"/>
<circle class="b" cx="115.9" cy="1089.9" r="2.35"/>
<circle class="b" cx="292.3" cy="1014.9" r="2.35"/>
<circle class="b" cx="318.8" cy="1014.9" r="2.35"/>
<circle class="b" cx="207.2" cy="1045.5" r="2.35"/>
<circle class="b" cx="290.6" cy="1032.7" r="2.35"/>
<circle class="b" cx="173.6" cy="1059.3" r="2.35"/>
<circle class="b" cx="337.1" cy="1002.4" r="2.35"/>
<circle class="b" cx="91.9" cy="1091.3" r="2.35"/>
<circle class="o" cx="312.2" cy="984.3" r="2.35"/>
<circle class="o" cx="196.7" cy="1027.5" r="2.35"/>
<circle class="b" cx="248.7" cy="1024.6" r="2.35"/>
<circle class="o" cx="146.5" cy="1026.1" r="2.35"/>
<circle class="b" cx="245.8" cy="1021.7" r="2.35"/>
<circle class="b" cx="338.6" cy="998.0" r="2.35"/>
<circle class="b" cx="203.2" cy="1074.9" r="2.35"/>
<circle class="b" cx="283.5" cy="1030.3" r="2.35"/>
<circle class="o" cx="279.1" cy="992.8" r="2.35"/>
<circle class="b" cx="169.3" cy="1057.1" r="2.35"/>
<circle class="b" cx="318.8" cy="1023.7" r="2.35"/>
<circle class="b" cx="240.0" cy="1020.3" r="2.35"/>
<circle class="o" cx="186.6" cy="1034.8" r="2.35"/>
<circle class="o" cx="206.1" cy="1040.5" r="2.35"/>
<circle class="o" cx="133.5" cy="1035.5" r="2.35"/>
<circle class="b" cx="198.2" cy="1049.2" r="2.35"/>
<circle class="o" cx="91.9" cy="1057.9" r="2.35"/>
<circle class="b" cx="283.5" cy="1020.8" r="2.35"/>
<circle class="b" cx="238.6" cy="1032.6" r="2.35"/>
<circle class="o" cx="332.7" cy="992.8" r="2.35"/>
<circle class="o" cx="334.9" cy="968.6" r="2.35"/>
<circle class="o" cx="218.4" cy="1038.4" r="2.35"/>
<circle class="b" cx="102.9" cy="1132.6" r="2.35"/>
<circle class="b" cx="81.2" cy="1097.6" r="2.35"/>
<circle class="b" cx="193.1" cy="1045.7" r="2.35"/>
<circle class="o" cx="156.5" cy="1035.8" r="2.35"/>
<circle class="o" cx="177.3" cy="1037.7" r="2.35"/>
<circle class="o" cx="238.6" cy="1005.8" r="2.35"/>
<circle class="o" cx="227.1" cy="1013.1" r="2.35"/>
<circle class="b" cx="314.4" cy="1017.1" r="2.35"/>
<circle class="b" cx="191.0" cy="1030.7" r="2.35"/>
<circle class="o" cx="127.0" cy="1044.2" r="2.35"/>
<circle class="o" cx="209.7" cy="1038.4" r="2.35"/>
<circle class="b" cx="139.3" cy="1049.2" r="2.35"/>
<circle class="o" cx="176.8" cy="1016.2" r="2.35"/>
<circle class="b" cx="185.2" cy="1054.3" r="2.35"/>
<circle class="b" cx="116.2" cy="1109.1" r="2.35"/>
<circle class="b" cx="323.4" cy="1016.0" r="2.35"/>
<circle class="o" cx="131.3" cy="1023.9" r="2.35"/>
<circle class="b" cx="225.6" cy="1026.1" r="2.35"/>
<circle class="o" cx="343.0" cy="974.5" r="2.35"/>
<circle class="o" cx="255.9" cy="1001.5" r="2.35"/>
<circle class="o" cx="349.3" cy="944.3" r="2.35"/>
<circle class="o" cx="309.9" cy="990.6" r="2.35"/>
<circle class="b" cx="182.3" cy="1038.4" r="2.35"/>
<circle class="o" cx="181.6" cy="1021.4" r="2.35"/>
<circle class="b" cx="323.2" cy="1051.3" r="2.35"/>
<circle class="o" cx="115.9" cy="1104.8" r="2.35"/>
<circle class="o" cx="139.3" cy="1029.7" r="2.35"/>
<circle class="o" cx="114.0" cy="1050.4" r="2.35"/>
<circle class="b" cx="178.0" cy="1046.3" r="2.35"/>
<circle class="b" cx="238.1" cy="1018.6" r="2.35"/>
<circle class="o" cx="135.6" cy="1003.8" r="2.35"/>
<circle class="o" cx="173.6" cy="1046.3" r="2.35"/>
<circle class="o" cx="193.9" cy="1032.6" r="2.35"/>
<circle class="o" cx="339.3" cy="963.9" r="2.35"/>
<circle class="b" cx="209.7" cy="1057.1" r="2.35"/>
<circle class="o" cx="163.5" cy="1027.5" r="2.35"/>
<circle class="o" cx="337.0" cy="970.4" r="2.35"/>
<circle class="b" cx="309.9" cy="1018.6" r="2.35"/>
<circle class="o" cx="332.0" cy="1001.7" r="2.35"/>
<circle class="o" cx="340.5" cy="949.5" r="2.35"/>
<circle class="b" cx="81.2" cy="1092.5" r="2.35"/>
<circle class="b" cx="345.2" cy="984.8" r="2.35"/>
<circle class="o" cx="299.7" cy="1009.0" r="2.35"/>
<circle class="b" cx="301.1" cy="1017.1" r="2.35"/>
<circle class="o" cx="258.8" cy="1004.4" r="2.35"/>
<circle class="b" cx="225.6" cy="1021.7" r="2.35"/>
<circle class="o" cx="133.5" cy="1028.2" r="2.35"/>
<circle class="o" cx="157.8" cy="1019.1" r="2.35"/>
<circle class="b" cx="63.9" cy="1143.3" r="2.35"/>
<circle class="o" cx="138.6" cy="1025.1" r="2.35"/>
<circle class="b" cx="144.3" cy="1061.0" r="2.35"/>
<circle class="b" cx="117.9" cy="1137.5" r="2.35"/>
<circle class="o" cx="314.6" cy="983.7" r="2.35"/>
<circle class="o" cx="257.4" cy="1007.3" r="2.35"/>
<circle class="o" cx="178.7" cy="1033.3" r="2.35"/>
<circle class="b" cx="225.3" cy="1047.5" r="2.35"/>
<circle class="b" cx="190.2" cy="1070.1" r="2.35"/>
<circle class="b" cx="246.5" cy="1036.2" r="2.35"/>
<circle class="b" cx="167.9" cy="1052.8" r="2.35"/>
<circle class="o" cx="145.0" cy="1028.9" r="2.35"/>
<circle class="b" cx="182.3" cy="1047.8" r="2.35"/>
<circle class="o" cx="268.8" cy="1007.5" r="2.35"/>
<circle class="b" cx="135.6" cy="1017.1" r="2.35"/>
<circle class="o" cx="135.6" cy="982.7" r="2.35"/>
<circle class="b" cx="338.6" cy="974.0" r="2.35"/>
<circle class="b" cx="199.6" cy="1046.3" r="2.35"/>
<circle class="o" cx="142.1" cy="1042.7" r="2.35"/>
<circle class="o" cx="192.4" cy="1031.8" r="2.35"/>
<circle class="b" cx="355.8" cy="1068.0" r="2.35"/>
<circle class="b" cx="192.4" cy="1042.0" r="2.35"/>
<circle class="o" cx="59.2" cy="1069.1" r="2.35"/>
<circle class="o" cx="340.8" cy="954.6" r="2.35"/>
<circle class="b" cx="102.9" cy="1127.9" r="2.35"/>
<circle class="b" cx="235.7" cy="1011.3" r="2.35"/>
<circle class="o" cx="238.6" cy="1013.1" r="2.35"/>
<circle class="o" cx="198.9" cy="1019.1" r="2.35"/>
<circle class="b" cx="233.2" cy="1018.7" r="2.35"/>
<circle class="b" cx="338.6" cy="1006.1" r="2.35"/>
<circle class="b" cx="109.7" cy="1070.1" r="2.35"/>
<circle class="b" cx="282.0" cy="1025.9" r="2.35"/>
<circle class="o" cx="216.2" cy="1011.6" r="2.35"/>
<circle class="b" cx="179.4" cy="1052.8" r="2.35"/>
<circle class="b" cx="273.2" cy="1041.5" r="2.35"/>
<circle class="o" cx="287.4" cy="1010.0" r="2.35"/>
<circle class="b" cx="242.9" cy="1026.1" r="2.35"/>
<circle class="o" cx="275.4" cy="997.0" r="2.35"/>
<circle class="o" cx="327.6" cy="1002.4" r="2.35"/>
<circle class="b" cx="250.1" cy="1011.3" r="2.35"/>
<circle class="o" cx="344.9" cy="956.1" r="2.35"/>
<circle class="b" cx="318.8" cy="1006.1" r="2.35"/>
<circle class="o" cx="170.8" cy="1042.0" r="2.35"/>
<circle class="b" cx="246.7" cy="1025.9" r="2.35"/>
<circle class="o" cx="163.5" cy="1034.8" r="2.35"/>
<circle class="b" cx="192.4" cy="1074.0" r="2.35"/>
<circle class="o" cx="261.7" cy="1010.2" r="2.35"/>
<circle class="b" cx="211.2" cy="1050.6" r="2.35"/>
<circle class="b" cx="244.4" cy="1032.6" r="2.35"/>
<circle class="b" cx="195.3" cy="1054.3" r="2.35"/>
<circle class="o" cx="271.8" cy="1017.1" r="2.35"/>
<circle class="b" cx="191.0" cy="1053.5" r="2.35"/>
<circle class="b" cx="129.2" cy="1049.2" r="2.35"/>
<circle class="o" cx="325.4" cy="1010.5" r="2.35"/>
<circle class="o" cx="287.9" cy="982.6" r="2.35"/>
<circle class="o" cx="118.0" cy="1036.9" r="2.35"/>
<circle class="o" cx="358.1" cy="939.6" r="2.35"/>
<circle class="b" cx="161.8" cy="1077.8" r="2.35"/>
<circle class="b" cx="240.2" cy="1034.1" r="2.35"/>
<circle class="o" cx="238.6" cy="1023.2" r="2.35"/>
<circle class="b" cx="143.6" cy="1047.8" r="2.35"/>
<circle class="b" cx="215.5" cy="1038.4" r="2.35"/>
<circle class="o" cx="251.6" cy="1004.4" r="2.35"/>
<circle class="o" cx="194.6" cy="1022.9" r="2.35"/>
<circle class="o" cx="215.5" cy="1034.8" r="2.35"/>
<circle class="b" cx="353.7" cy="995.0" r="2.35"/>
<circle class="o" cx="208.8" cy="1041.4" r="2.35"/>
<circle class="o" cx="315.1" cy="991.4" r="2.35"/>
<circle class="o" cx="321.7" cy="1012.0" r="2.35"/>
<circle class="b" cx="349.6" cy="1068.7" r="2.35"/>
<circle class="o" cx="205.4" cy="1022.0" r="2.35"/>
<circle class="b" cx="232.8" cy="1025.3" r="2.35"/>
<circle class="b" cx="89.9" cy="1110.5" r="2.35"/>
<circle class="o" cx="105.3" cy="1027.5" r="2.35"/>
<circle class="o" cx="336.4" cy="989.2" r="2.35"/>
<circle class="o" cx="199.6" cy="1036.9" r="2.35"/>
<circle class="o" cx="246.5" cy="996.5" r="2.35"/>
<circle class="b" cx="175.1" cy="1061.5" r="2.35"/>
<circle class="b" cx="165.0" cy="1045.6" r="2.35"/>
<circle class="o" cx="153.2" cy="1030.3" r="2.35"/>
<circle class="b" cx="240.0" cy="1036.2" r="2.35"/>
<circle class="o" cx="314.8" cy="994.5" r="2.35"/>
<circle class="b" cx="124.8" cy="1079.2" r="2.35"/>
<circle class="b" cx="327.6" cy="1025.2" r="2.35"/>
<circle class="b" cx="81.2" cy="1143.3" r="2.35"/>
<circle class="o" cx="272.5" cy="1009.5" r="2.35"/>
<circle class="b" cx="211.2" cy="1065.1" r="2.35"/>
<circle class="b" cx="185.2" cy="1043.4" r="2.35"/>
<circle class="o" cx="308.5" cy="1015.6" r="2.35"/>
<circle class="o" cx="274.7" cy="1001.7" r="2.35"/>
<circle class="b" cx="209.7" cy="1047.8" r="2.35"/>
<circle class="o" cx="140.0" cy="1024.6" r="2.35"/>
<circle class="b" cx="206.1" cy="1060.0" r="2.35"/>
<circle class="o" cx="244.4" cy="1024.6" r="2.35"/>
<circle class="o" cx="293.8" cy="1010.5" r="2.35"/>
<circle class="o" cx="318.0" cy="995.8" r="2.35"/>
<circle class="b" cx="124.8" cy="1121.1" r="2.35"/>
<circle class="b" cx="96.2" cy="1141.6" r="2.35"/>
<circle class="b" cx="279.1" cy="1022.2" r="2.35"/>
<circle class="b" cx="142.1" cy="1029.7" r="2.35"/>
<circle class="o" cx="261.7" cy="997.9" r="2.35"/>
<circle class="o" cx="286.5" cy="1011.8" r="2.35"/>
<circle class="b" cx="189.5" cy="1060.0" r="2.35"/>
<circle class="b" cx="321.7" cy="1017.8" r="2.35"/>
<circle class="o" cx="83.3" cy="1104.0" r="2.35"/>
<circle class="o" cx="258.8" cy="1013.1" r="2.35"/>
<circle class="o" cx="182.3" cy="1031.8" r="2.35"/>
<circle class="b" cx="72.6" cy="1095.7" r="2.35"/>
<circle class="o" cx="320.2" cy="992.1" r="2.35"/>
<circle class="b" cx="109.7" cy="1111.5" r="2.35"/>
<circle class="o" cx="287.9" cy="1009.7" r="2.35"/>
<circle class="b" cx="261.7" cy="1023.9" r="2.35"/>
<circle class="o" cx="253.8" cy="994.6" r="2.35"/>
<circle class="o" cx="98.6" cy="1071.1" r="2.35"/>
<circle class="b" cx="230.7" cy="1021.0" r="2.35"/>
<circle class="o" cx="241.7" cy="1012.1" r="2.35"/>
<circle class="b" cx="334.2" cy="997.3" r="2.35"/>
<circle class="o" cx="185.2" cy="1037.7" r="2.35"/>
<circle class="b" cx="164.3" cy="1052.8" r="2.35"/>
<circle class="b" cx="271.8" cy="1025.9" r="2.35"/>
<circle class="o" cx="96.2" cy="1050.9" r="2.35"/>
<circle class="o" cx="181.6" cy="1050.6" r="2.35"/>
<circle class="b" cx="287.9" cy="1015.6" r="2.35"/>
<circle class="b" cx="186.6" cy="1070.1" r="2.35"/>
<circle class="o" cx="249.3" cy="1005.1" r="2.35"/>
<circle class="b" cx="198.9" cy="1063.3" r="2.35"/>
<circle class="o" cx="68.2" cy="1053.5" r="2.35"/>
<circle class="o" cx="233.5" cy="1000.8" r="2.35"/>
<circle class="b" cx="188.8" cy="1044.9" r="2.35"/>
<circle class="b" cx="340.5" cy="1026.7" r="2.35"/>
<circle class="b" cx="111.8" cy="1103.8" r="2.35"/>
<circle class="o" cx="124.8" cy="1033.3" r="2.35"/>
<circle class="o" cx="355.8" cy="924.5" r="2.35"/>
<circle class="b" cx="101.0" cy="1119.9" r="2.35"/>
<circle class="o" cx="221.9" cy="1021.1" r="2.35"/>
<circle class="b" cx="334.2" cy="1019.3" r="2.35"/>
<circle class="b" cx="250.1" cy="1032.6" r="2.35"/>
<circle class="b" cx="246.5" cy="1039.1" r="2.35"/>
<circle class="o" cx="286.4" cy="1007.5" r="2.35"/>
<circle class="b" cx="114.0" cy="1072.6" r="2.35"/>
<circle class="o" cx="127.7" cy="1028.9" r="2.35"/>
<circle class="o" cx="319.5" cy="988.4" r="2.35"/>
<circle class="o" cx="61.3" cy="1086.0" r="2.35"/>
<circle class="b" cx="157.8" cy="1052.1" r="2.35"/>
<circle class="o" cx="329.8" cy="994.3" r="2.35"/>
<circle class="o" cx="91.9" cy="1135.8" r="2.35"/>
<circle class="o" cx="301.1" cy="996.5" r="2.35"/>
<circle class="b" cx="262.9" cy="1032.7" r="2.35"/>
<circle class="b" cx="78.9" cy="1123.5" r="2.35"/>
<circle class="b" cx="336.1" cy="1009.0" r="2.35"/>
<circle class="o" cx="94.8" cy="1091.3" r="2.35"/>
<circle class="b" cx="187.4" cy="1048.5" r="2.35"/>
<circle class="b" cx="333.5" cy="985.5" r="2.35"/>
<circle class="o" cx="127.7" cy="1026.8" r="2.35"/>
<circle class="o" cx="107.2" cy="1063.6" r="2.35"/>
<circle class="o" cx="267.3" cy="1022.2" r="2.35"/>
<circle class="b" cx="205.4" cy="1044.2" r="2.35"/>
<circle class="b" cx="150.8" cy="1059.3" r="2.35"/>
<circle class="o" cx="221.3" cy="1013.1" r="2.35"/>
<circle class="o" cx="115.9" cy="1059.6" r="2.35"/>
<circle class="o" cx="353.7" cy="1046.3" r="2.35"/>
<circle class="b" cx="115.9" cy="1129.7" r="2.35"/>
<circle class="b" cx="107.5" cy="1103.3" r="2.35"/>
<circle class="b" cx="260.2" cy="1029.7" r="2.35"/>
<circle class="o" cx="101.0" cy="1061.0" r="2.35"/>
<circle class="o" cx="167.7" cy="1049.8" r="2.35"/>
<circle class="b" cx="195.9" cy="1049.1" r="2.35"/>
<circle class="o" cx="323.2" cy="1002.4" r="2.35"/>
<circle class="b" cx="153.4" cy="1076.3" r="2.35"/>
<circle class="o" cx="355.8" cy="946.5" r="2.35"/>
<circle class="o" cx="279.1" cy="1003.1" r="2.35"/>
<circle class="o" cx="140.0" cy="1010.2" r="2.35"/>
<circle class="b" cx="63.9" cy="1092.1" r="2.35"/>
<circle class="b" cx="238.8" cy="1026.1" r="2.35"/>
<circle class="o" cx="178.0" cy="1031.8" r="2.35"/>
<circle class="b" cx="253.0" cy="1030.4" r="2.35"/>
<circle class="b" cx="159.9" cy="1070.1" r="2.35"/>
<circle class="b" cx="275.5" cy="1022.1" r="2.35"/>
<circle class="o" cx="311.4" cy="996.5" r="2.35"/>
<circle class="o" cx="173.5" cy="1036.6" r="2.35"/>
<circle class="b" cx="94.2" cy="1087.4" r="2.35"/>
<circle class="b" cx="289.4" cy="1029.6" r="2.35"/>
<circle class="b" cx="182.3" cy="1058.6" r="2.35"/>
<circle class="b" cx="145.0" cy="1035.5" r="2.35"/>
<circle class="o" cx="201.1" cy="1032.6" r="2.35"/>
<circle class="b" cx="247.3" cy="1033.5" r="2.35"/>
<circle class="o" cx="303.3" cy="992.8" r="2.35"/>
<circle class="b" cx="170.8" cy="1060.8" r="2.35"/>
<circle class="b" cx="242.9" cy="1018.1" r="2.35"/>
<circle class="b" cx="91.9" cy="1115.3" r="2.35"/>
<circle class="o" cx="229.9" cy="1005.8" r="2.35"/>
<circle class="o" cx="331.7" cy="941.0" r="2.35"/>
<circle class="b" cx="221.3" cy="1025.3" r="2.35"/>
<circle class="b" cx="255.5" cy="1030.8" r="2.35"/>
<circle class="o" cx="273.2" cy="992.1" r="2.35"/>
<circle class="b" cx="257.4" cy="1024.6" r="2.35"/>
<circle class="b" cx="329.8" cy="1009.7" r="2.35"/>
<circle class="b" cx="312.9" cy="1026.7" r="2.35"/>
<circle class="o" cx="280.6" cy="1006.1" r="2.35"/>
<circle class="b" cx="332.0" cy="988.4" r="2.35"/>
<circle class="b" cx="323.2" cy="1022.2" r="2.35"/>
<circle class="b" cx="327.6" cy="1043.0" r="2.35"/>
<circle class="o" cx="258.8" cy="1017.4" r="2.35"/>
<circle class="b" cx="283.5" cy="1003.9" r="2.35"/>
<circle class="b" cx="115.9" cy="1125.4" r="2.35"/>
<circle class="b" cx="347.4" cy="1065.5" r="2.35"/>
<circle class="b" cx="355.8" cy="999.5" r="2.35"/>
<circle class="o" cx="207.6" cy="1033.3" r="2.35"/>
<circle class="o" cx="87.6" cy="1067.7" r="2.35"/>
<circle class="o" cx="268.8" cy="1003.1" r="2.35"/>
<circle class="b" cx="357.0" cy="987.0" r="2.35"/>
<circle class="o" cx="355.8" cy="955.4" r="2.35"/>
<circle class="b" cx="318.8" cy="1028.1" r="2.35"/>
<circle class="b" cx="269.9" cy="1026.7" r="2.35"/>
<circle class="b" cx="172.9" cy="1047.8" r="2.35"/>
<circle class="b" cx="176.5" cy="1043.4" r="2.35"/>
<circle class="o" cx="300.5" cy="998.8" r="2.35"/>
<circle class="b" cx="129.2" cy="1044.2" r="2.35"/>
<circle class="o" cx="264.4" cy="1006.8" r="2.35"/>
<circle class="b" cx="331.4" cy="1017.6" r="2.35"/>
<circle class="b" cx="87.6" cy="1124.2" r="2.35"/>
<circle class="b" cx="83.3" cy="1118.2" r="2.35"/>
<circle class="b" cx="233.5" cy="1016.0" r="2.35"/>
<circle class="b" cx="231.7" cy="1040.3" r="2.35"/>
<circle class="b" cx="279.8" cy="1036.6" r="2.35"/>
<circle class="b" cx="271.8" cy="1037.1" r="2.35"/>
<circle class="o" cx="150.8" cy="1024.6" r="2.35"/>
<circle class="b" cx="305.5" cy="1030.3" r="2.35"/>
<circle class="o" cx="157.8" cy="1030.4" r="2.35"/>
<circle class="o" cx="242.9" cy="1010.2" r="2.35"/>
<circle class="b" cx="323.2" cy="1026.7" r="2.35"/>
<circle class="b" cx="355.8" cy="989.9" r="2.35"/>
<circle class="o" cx="267.1" cy="1003.7" r="2.35"/>
<circle class="o" cx="235.7" cy="1002.7" r="2.35"/>
<circle class="b" cx="102.9" cy="1087.0" r="2.35"/>
<circle class="b" cx="72.6" cy="1111.3" r="2.35"/>
<circle class="b" cx="195.3" cy="1044.9" r="2.35"/>
<circle class="o" cx="293.8" cy="1001.7" r="2.35"/>
<circle class="b" cx="237.2" cy="1027.5" r="2.35"/>
<circle class="b" cx="192.8" cy="1060.5" r="2.35"/>
<circle class="b" cx="113.3" cy="1059.3" r="2.35"/>
<circle class="o" cx="142.1" cy="1040.5" r="2.35"/>
<circle class="o" cx="165.6" cy="1062.0" r="2.35"/>
<circle class="o" cx="312.2" cy="1012.0" r="2.35"/>
<circle class="o" cx="336.4" cy="964.2" r="2.35"/>
<circle class="o" cx="304.1" cy="1010.5" r="2.35"/>
<circle class="b" cx="307.0" cy="1022.2" r="2.35"/>
<circle class="b" cx="188.1" cy="1063.6" r="2.35"/>
<circle class="o" cx="87.6" cy="1049.9" r="2.35"/>
<circle class="b" cx="230.9" cy="1017.6" r="2.35"/>
<circle class="b" cx="353.7" cy="1045.2" r="2.35"/>
<circle class="o" cx="340.5" cy="967.1" r="2.35"/>
<circle class="b" cx="338.6" cy="985.2" r="2.35"/>
<circle class="b" cx="355.8" cy="983.3" r="2.35"/>
<circle class="b" cx="112.9" cy="1115.1" r="2.35"/>
<circle class="o" cx="115.9" cy="1047.0" r="2.35"/>
<circle class="o" cx="181.6" cy="1041.3" r="2.35"/>
<circle class="b" cx="353.7" cy="1038.1" r="2.35"/>
<circle class="b" cx="105.3" cy="1135.5" r="2.35"/>
<circle class="b" cx="122.7" cy="1103.3" r="2.35"/>
<circle class="o" cx="231.4" cy="1000.1" r="2.35"/>
<circle class="b" cx="259.5" cy="1036.2" r="2.35"/>
<circle class="o" cx="203.2" cy="1026.8" r="2.35"/>
<circle class="b" cx="115.9" cy="1084.6" r="2.35"/>
<circle class="b" cx="166.4" cy="1061.5" r="2.35"/>
<circle class="b" cx="265.9" cy="1033.4" r="2.35"/>
<circle class="b" cx="255.9" cy="1032.6" r="2.35"/>
<circle class="o" cx="136.4" cy="1026.1" r="2.35"/>
<circle class="o" cx="294.5" cy="979.9" r="2.35"/>
<circle class="b" cx="279.1" cy="1017.8" r="2.35"/>
<circle class="b" cx="203.2" cy="1069.7" r="2.35"/>
<circle class="o" cx="265.9" cy="1012.0" r="2.35"/>
<circle class="o" cx="181.6" cy="1027.5" r="2.35"/>
<circle class="o" cx="279.8" cy="999.5" r="2.35"/>
<circle class="o" cx="234.9" cy="1005.8" r="2.35"/>
<circle class="b" cx="216.7" cy="1051.8" r="2.35"/>
<circle class="b" cx="187.1" cy="1062.5" r="2.35"/>
<circle class="o" cx="338.6" cy="954.6" r="2.35"/>
<circle class="b" cx="274.7" cy="1023.7" r="2.35"/>
<circle class="o" cx="104.9" cy="1067.7" r="2.35"/>
<circle class="b" cx="279.8" cy="1034.6" r="2.35"/>
<circle class="o" cx="65.9" cy="1050.4" r="2.35"/>
<circle class="b" cx="193.9" cy="1047.8" r="2.35"/>
<circle class="o" cx="201.1" cy="1042.7" r="2.35"/>
<circle class="o" cx="175.1" cy="1049.9" r="2.35"/>
<circle class="o" cx="343.0" cy="1016.7" r="2.35"/>
<circle class="b" cx="318.8" cy="1041.1" r="2.35"/>
<circle class="o" cx="181.6" cy="1016.0" r="2.35"/>
<circle class="b" cx="191.0" cy="1049.2" r="2.35"/>
<circle class="b" cx="179.8" cy="1056.0" r="2.35"/>
<circle class="b" cx="114.0" cy="1113.0" r="2.35"/>
<circle class="o" cx="358.1" cy="934.0" r="2.35"/>
<circle class="o" cx="265.9" cy="1017.8" r="2.35"/>
<circle class="o" cx="229.9" cy="1014.5" r="2.35"/>
<circle class="o" cx="340.5" cy="939.6" r="2.35"/>
<circle class="b" cx="91.9" cy="1127.1" r="2.35"/>
<circle class="o" cx="222.7" cy="997.9" r="2.35"/>
<circle class="b" cx="268.8" cy="1041.5" r="2.35"/>
<circle class="o" cx="307.7" cy="976.4" r="2.35"/>
<circle class="o" cx="150.8" cy="1028.9" r="2.35"/>
<circle class="b" cx="172.3" cy="1039.4" r="2.35"/>
<circle class="o" cx="309.9" cy="1001.7" r="2.35"/>
<circle class="b" cx="133.5" cy="1055.7" r="2.35"/>
<circle class="o" cx="137.8" cy="1034.1" r="2.35"/>
<circle class="b" cx="180.9" cy="1062.5" r="2.35"/>
<circle class="o" cx="286.4" cy="992.5" r="2.35"/>
<circle class="b" cx="295.3" cy="1022.2" r="2.35"/>
<circle class="b" cx="159.9" cy="1047.0" r="2.35"/>
<circle class="b" cx="183.0" cy="1070.1" r="2.35"/>
<circle class="b" cx="153.7" cy="1050.6" r="2.35"/>
<circle class="b" cx="221.3" cy="1034.8" r="2.35"/>
<circle class="b" cx="170.8" cy="1052.1" r="2.35"/>
<circle class="b" cx="268.8" cy="1038.6" r="2.35"/>
<circle class="o" cx="305.5" cy="1006.8" r="2.35"/>
<circle class="b" cx="264.4" cy="1042.2" r="2.35"/>
<circle class="b" cx="281.3" cy="1013.8" r="2.35"/>
<circle class="o" cx="264.4" cy="1002.4" r="2.35"/>
<circle class="o" cx="296.7" cy="997.3" r="2.35"/>
<circle class="o" cx="329.8" cy="971.5" r="2.35"/>
<circle class="b" cx="78.9" cy="1101.4" r="2.35"/>
<circle class="b" cx="267.3" cy="1025.2" r="2.35"/>
<circle class="b" cx="199.6" cy="1059.3" r="2.35"/>
<circle class="b" cx="264.4" cy="1043.7" r="2.35"/>
<circle class="b" cx="261.7" cy="1032.6" r="2.35"/>
<circle class="o" cx="280.7" cy="1003.9" r="2.35"/>
<circle class="o" cx="132.2" cy="1033.2" r="2.35"/>
<circle class="b" cx="61.6" cy="1118.8" r="2.35"/>
<circle class="o" cx="294.5" cy="992.1" r="2.35"/>
<circle class="b" cx="340.5" cy="1043.4" r="2.35"/>
<circle class="b" cx="127.0" cy="1057.9" r="2.35"/>
<circle class="o" cx="299.7" cy="982.3" r="2.35"/>
<circle class="o" cx="115.9" cy="1056.1" r="2.35"/>
<circle class="o" cx="356.2" cy="927.4" r="2.35"/>
<circle class="b" cx="81.2" cy="1106.2" r="2.35"/>
<circle class="o" cx="155.6" cy="1017.1" r="2.35"/>
<circle class="b" cx="127.0" cy="1089.9" r="2.35"/>
<circle class="o" cx="307.0" cy="995.0" r="2.35"/>
<circle class="b" cx="345.2" cy="978.4" r="2.35"/>
<circle class="o" cx="334.2" cy="957.6" r="2.35"/>
<circle class="o" cx="351.4" cy="987.0" r="2.35"/>
<circle class="b" cx="107.5" cy="1133.2" r="2.35"/>
<circle class="o" cx="224.2" cy="1019.6" r="2.35"/>
<circle class="b" cx="312.2" cy="1046.3" r="2.35"/>
<circle class="b" cx="355.8" cy="1008.3" r="2.35"/>
<circle class="o" cx="355.8" cy="952.4" r="2.35"/>
<circle class="o" cx="129.2" cy="1033.3" r="2.35"/>
<circle class="o" cx="241.5" cy="1004.4" r="2.35"/>
<circle class="b" cx="229.2" cy="1013.8" r="2.35"/>
<circle class="b" cx="137.8" cy="1044.2" r="2.35"/>
<circle class="o" cx="271.8" cy="1013.4" r="2.35"/>
<circle class="b" cx="334.2" cy="1038.1" r="2.35"/>
<circle class="b" cx="343.7" cy="981.1" r="2.35"/>
<circle class="o" cx="182.2" cy="1043.3" r="2.35"/>
<circle class="o" cx="297.8" cy="996.9" r="2.35"/>
<circle class="o" cx="321.0" cy="1020.0" r="2.35"/>
<circle class="b" cx="101.0" cy="1103.8" r="2.35"/>
<circle class="o" cx="318.8" cy="975.9" r="2.35"/>
<circle class="o" cx="286.4" cy="996.5" r="2.35"/>
<circle class="b" cx="204.0" cy="1057.1" r="2.35"/>
<circle class="b" cx="137.8" cy="1037.7" r="2.35"/>
<circle class="o" cx="151.1" cy="1004.4" r="2.35"/>
<circle class="o" cx="277.6" cy="989.2" r="2.35"/>
<circle class="o" cx="332.0" cy="967.1" r="2.35"/>
<circle class="o" cx="206.8" cy="1049.2" r="2.35"/>
<circle class="b" cx="81.2" cy="1121.4" r="2.35"/>
<circle class="b" cx="289.4" cy="1025.2" r="2.35"/>
<circle class="b" cx="238.6" cy="1029.7" r="2.35"/>
<circle class="o" cx="285.0" cy="1002.4" r="2.35"/>
<circle class="o" cx="311.4" cy="1007.5" r="2.35"/>
<circle class="b" cx="283.5" cy="1014.9" r="2.35"/>
<circle class="o" cx="124.1" cy="1031.8" r="2.35"/>
<circle class="o" cx="157.5" cy="1012.8" r="2.35"/>
<circle class="b" cx="229.9" cy="1028.9" r="2.35"/>
<circle class="o" cx="206.8" cy="1031.8" r="2.35"/>
<circle class="b" cx="340.8" cy="987.0" r="2.35"/>
<circle class="b" cx="59.2" cy="1128.3" r="2.35"/>
<circle class="b" cx="275.6" cy="1022.2" r="2.35"/>
<circle class="b" cx="321.7" cy="1029.6" r="2.35"/>
<circle class="o" cx="227.1" cy="1020.3" r="2.35"/>
<circle class="b" cx="234.3" cy="1036.2" r="2.35"/>
<circle class="o" cx="176.8" cy="1021.7" r="2.35"/>
<circle class="o" cx="292.3" cy="1006.1" r="2.35"/>
<circle class="b" cx="296.7" cy="1014.9" r="2.35"/>
<circle class="o" cx="130.6" cy="1031.8" r="2.35"/>
<circle class="b" cx="225.3" cy="1042.7" r="2.35"/>
<circle class="o" cx="202.4" cy="1036.2" r="2.35"/>
<circle class="o" cx="298.2" cy="1006.8" r="2.35"/>
<circle class="b" cx="249.6" cy="1035.2" r="2.35"/>
<circle class="o" cx="163.5" cy="1043.4" r="2.35"/>
<circle class="o" cx="81.2" cy="1082.7" r="2.35"/>
<circle class="b" cx="308.3" cy="1019.2" r="2.35"/>
<circle class="b" cx="253.0" cy="1026.8" r="2.35"/>
<circle class="b" cx="276.2" cy="1025.2" r="2.35"/>
<circle class="o" cx="138.7" cy="1042.4" r="2.35"/>
<circle class="b" cx="124.8" cy="1096.5" r="2.35"/>
<circle class="b" cx="105.3" cy="1121.4" r="2.35"/>
<circle class="b" cx="131.3" cy="1095.1" r="2.35"/>
<circle class="o" cx="332.0" cy="962.0" r="2.35"/>
<circle class="b" cx="94.2" cy="1134.6" r="2.35"/>
<circle class="o" cx="192.4" cy="1037.7" r="2.35"/>
<circle class="b" cx="270.3" cy="1020.8" r="2.35"/>
<circle class="o" cx="105.3" cy="1076.9" r="2.35"/>
<circle class="b" cx="298.9" cy="1035.9" r="2.35"/>
<circle class="b" cx="295.3" cy="1012.0" r="2.35"/>
<circle class="b" cx="185.2" cy="1061.5" r="2.35"/>
<circle class="b" cx="343.7" cy="996.5" r="2.35"/>
<rect x="44.5" y="913.8" width="328.7" height="240.4" fill="none" stroke="#666666" stroke-width="1.2"/>
<line x1="41.6" x2="44.5" y1="949.2" y2="949.2" stroke="#666666" stroke-width="0.9"/>
<g font-size="8.0" fill="#2a2a2a" stroke="#2a2a2a" stroke-width="0.3"><text transform="translate(24.87 951.90) scale(0.744 1.000)">0</text><text x="28.04" y="951.90">.</text><text transform="translate(31.90 951.90) scale(0.825 1.000)">1</text><text transform="translate(35.82 951.90) scale(0.744 1.000)">0</text></g>
<line x1="41.6" x2="44.5" y1="989.4" y2="989.4" stroke="#666666" stroke-width="0.9"/>
<g font-size="8.0" fill="#2a2a2a" stroke="#2a2a2a" stroke-width="0.3"><text transform="translate(24.87 992.10) scale(0.744 1.000)">0</text><text x="28.04" y="992.10">.</text><text transform="translate(32.17 992.10) scale(0.744 1.000)">0</text><text transform="translate(35.81 992.10) scale(0.751 1.000)">5</text></g>
<line x1="41.6" x2="44.5" y1="1029.6" y2="1029.6" stroke="#666666" stroke-width="0.9"/>
<g font-size="8.0" fill="#2a2a2a" stroke="#2a2a2a" stroke-width="0.3"><text transform="translate(24.87 1032.30) scale(0.744 1.000)">0</text><text x="28.04" y="1032.30">.</text><text transform="translate(32.17 1032.30) scale(0.744 1.000)">0</text><text transform="translate(35.82 1032.30) scale(0.744 1.000)">0</text></g>
<line x1="41.6" x2="44.5" y1="1069.8" y2="1069.8" stroke="#666666" stroke-width="0.9"/>
<g font-size="8.0" fill="#2a2a2a" stroke="#2a2a2a" stroke-width="0.3"><text transform="translate(21.16 1072.50) scale(0.732 1.000)">−</text><text transform="translate(24.87 1072.50) scale(0.744 1.000)">0</text><text x="28.04" y="1072.50">.</text><text transform="translate(32.17 1072.50) scale(0.744 1.000)">0</text><text transform="translate(35.81 1072.50) scale(0.751 1.000)">5</text></g>
<line x1="41.6" x2="44.5" y1="1110.0" y2="1110.0" stroke="#666666" stroke-width="0.9"/>
<g font-size="8.0" fill="#2a2a2a" stroke="#2a2a2a" stroke-width="0.3"><text transform="translate(21.16 1112.70) scale(0.732 1.000)">−</text><text transform="translate(24.87 1112.70) scale(0.744 1.000)">0</text><text x="28.04" y="1112.70">.</text><text transform="translate(31.90 1112.70) scale(0.825 1.000)">1</text><text transform="translate(35.82 1112.70) scale(0.744 1.000)">0</text></g>
<line x1="41.6" x2="44.5" y1="1150.2" y2="1150.2" stroke="#666666" stroke-width="0.9"/>
<g font-size="8.0" fill="#2a2a2a" stroke="#2a2a2a" stroke-width="0.3"><text transform="translate(21.16 1152.90) scale(0.732 1.000)">−</text><text transform="translate(24.87 1152.90) scale(0.744 1.000)">0</text><text x="28.04" y="1152.90">.</text><text transform="translate(31.90 1152.90) scale(0.825 1.000)">1</text><text transform="translate(35.81 1152.90) scale(0.751 1.000)">5</text></g>
<line x1="72.5" x2="72.5" y1="1154.2" y2="1157.1" stroke="#666666" stroke-width="0.9"/>
<g font-size="8.0" fill="#2a2a2a" stroke="#2a2a2a" stroke-width="0.3"><text transform="translate(66.92 1164.30) scale(0.825 1.000)">1</text><text transform="translate(70.85 1164.30) scale(0.751 1.000)">3</text><text transform="translate(74.41 1164.30) scale(0.781 1.000)">2</text></g>
<line x1="116.1" x2="116.1" y1="1154.2" y2="1157.1" stroke="#666666" stroke-width="0.9"/>
<g font-size="8.0" fill="#2a2a2a" stroke="#2a2a2a" stroke-width="0.3"><text transform="translate(110.52 1164.30) scale(0.825 1.000)">1</text><text transform="translate(114.45 1164.30) scale(0.751 1.000)">3</text><text transform="translate(118.20 1164.30) scale(0.706 1.000)">4</text></g>
<line x1="159.7" x2="159.7" y1="1154.2" y2="1157.1" stroke="#666666" stroke-width="0.9"/>
<g font-size="8.0" fill="#2a2a2a" stroke="#2a2a2a" stroke-width="0.3"><text transform="translate(154.12 1164.30) scale(0.825 1.000)">1</text><text transform="translate(158.05 1164.30) scale(0.751 1.000)">3</text><text transform="translate(161.61 1164.30) scale(0.771 1.000)">6</text></g>
<line x1="203.3" x2="203.3" y1="1154.2" y2="1157.1" stroke="#666666" stroke-width="0.9"/>
<g font-size="8.0" fill="#2a2a2a" stroke="#2a2a2a" stroke-width="0.3"><text transform="translate(197.72 1164.30) scale(0.825 1.000)">1</text><text transform="translate(201.65 1164.30) scale(0.751 1.000)">3</text><text transform="translate(205.26 1164.30) scale(0.758 1.000)">8</text></g>
<line x1="246.9" x2="246.9" y1="1154.2" y2="1157.1" stroke="#666666" stroke-width="0.9"/>
<g font-size="8.0" fill="#2a2a2a" stroke="#2a2a2a" stroke-width="0.3"><text transform="translate(241.32 1164.30) scale(0.825 1.000)">1</text><text transform="translate(245.35 1164.30) scale(0.706 1.000)">4</text><text transform="translate(248.89 1164.30) scale(0.744 1.000)">0</text></g>
<line x1="290.5" x2="290.5" y1="1154.2" y2="1157.1" stroke="#666666" stroke-width="0.9"/>
<g font-size="8.0" fill="#2a2a2a" stroke="#2a2a2a" stroke-width="0.3"><text transform="translate(284.92 1164.30) scale(0.825 1.000)">1</text><text transform="translate(288.95 1164.30) scale(0.706 1.000)">4</text><text transform="translate(292.41 1164.30) scale(0.781 1.000)">2</text></g>
<line x1="334.1" x2="334.1" y1="1154.2" y2="1157.1" stroke="#666666" stroke-width="0.9"/>
<g font-size="8.0" fill="#2a2a2a" stroke="#2a2a2a" stroke-width="0.3"><text transform="translate(328.52 1164.30) scale(0.825 1.000)">1</text><text transform="translate(332.55 1164.30) scale(0.706 1.000)">4</text><text transform="translate(336.20 1164.30) scale(0.706 1.000)">4</text></g>
<g font-size="9.4" fill="#000000" stroke="#000000" stroke-width="0.4"><text transform="translate(193.14 1175.70) scale(0.865 1.100)">S</text><text x="198.44" y="1175.70">o</text><text x="203.74" y="1175.70">d</text><text x="210.41" y="1175.70">i</text><text x="214.04" y="1175.70">u</text><text transform="translate(219.07 1175.70) scale(0.711 1.000)">m</text></g>
<g transform="rotate(-90 16.9 1034.0)"><g font-size="9.4" fill="#000000" stroke="#000000" stroke-width="0.4"><text transform="translate(-37.81 1034.00) scale(0.865 1.100)">S</text><text transform="translate(-32.93 1034.00) scale(0.891 1.100)">H</text><text transform="translate(-27.05 1034.00) scale(0.751 1.100)">A</text><text transform="translate(-22.56 1034.00) scale(0.935 1.100)">P</text><text transform="translate(-11.47 1034.00) scale(0.756 1.100)">V</text><text transform="translate(-6.63 1034.00) scale(0.969 1.000)">a</text><text x="0.25" y="1034.00">l</text><text x="3.89" y="1034.00">u</text><text x="9.10" y="1034.00">e</text><text x="20.72" y="1034.00">f</text><text x="24.69" y="1034.00">o</text><text x="30.70" y="1034.00">r</text><text transform="translate(40.19 1034.00) scale(0.865 1.100)">S</text><text x="45.49" y="1034.00">o</text><text x="50.79" y="1034.00">d</text><text x="57.46" y="1034.00">i</text><text x="61.09" y="1034.00">u</text><text transform="translate(66.12 1034.00) scale(0.711 1.000)">m</text></g></g>
<rect x="48.3" y="917.9" width="65.0" height="31.2" rx="1.5" fill="#fff" fill-opacity="0.8" stroke="#d6d6d6" stroke-width="0.8"/>
<g font-size="7.5" fill="#151515" font-weight="bold" stroke="#151515" stroke-width="0.1"><text x="52.19" y="925.70">I</text><text x="55.58" y="925.70">f</text><text transform="translate(62.39 925.70) scale(0.674 1.000)">C</text><text transform="translate(66.20 925.70) scale(0.748 1.000)">T</text><text transform="translate(69.54 925.70) scale(0.778 1.000)">P</text><text transform="translate(73.48 925.70) scale(0.656 1.000)">A</text><text transform="translate(80.55 925.70) scale(0.778 1.000)">P</text><text transform="translate(84.37 925.70) scale(0.827 1.000)">o</text><text transform="translate(88.04 925.70) scale(0.918 1.000)">s</text><text x="92.57" y="925.70">i</text><text x="96.03" y="925.70">t</text><text x="99.91" y="925.70">i</text><text transform="translate(102.94 925.70) scale(0.804 1.000)">v</text><text transform="translate(106.37 925.70) scale(0.912 1.000)">e</text></g>
<circle cx="62.8" cy="933.5" r="2.45" fill="#1c74b0"/>
<circle cx="62.8" cy="943.2" r="2.45" fill="#f07c14"/>
<g font-size="7.5" fill="#151515" font-weight="bold" stroke="#151515" stroke-width="0.1"><text transform="translate(76.91 935.70) scale(0.749 1.000)">N</text><text transform="translate(80.69 935.70) scale(0.912 1.000)">e</text><text transform="translate(84.35 935.70) scale(0.876 1.000)">g</text><text transform="translate(88.11 935.70) scale(0.826 1.000)">a</text><text x="92.37" y="935.70">t</text><text x="96.25" y="935.70">i</text><text transform="translate(99.28 935.70) scale(0.804 1.000)">v</text><text transform="translate(102.71 935.70) scale(0.912 1.000)">e</text></g>
<g font-size="7.5" fill="#151515" font-weight="bold" stroke="#151515" stroke-width="0.1"><text transform="translate(76.89 945.40) scale(0.778 1.000)">P</text><text transform="translate(80.71 945.40) scale(0.827 1.000)">o</text><text transform="translate(84.38 945.40) scale(0.918 1.000)">s</text><text x="88.91" y="945.40">i</text><text x="92.37" y="945.40">t</text><text x="96.25" y="945.40">i</text><text transform="translate(99.28 945.40) scale(0.804 1.000)">v</text><text transform="translate(102.71 945.40) scale(0.912 1.000)">e</text></g>
</g>
</svg></body></html>
